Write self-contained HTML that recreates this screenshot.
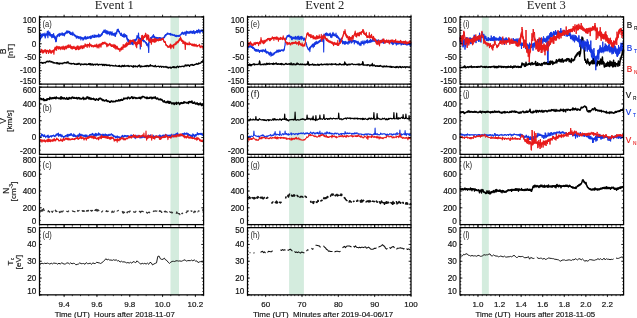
<!DOCTYPE html>
<html><head><meta charset="utf-8"><style>
html,body{margin:0;padding:0;background:#fff;width:637px;height:318px;overflow:hidden}
svg{display:block;will-change:transform}
</style></head><body>
<svg width="637" height="318" viewBox="0 0 637 318">
<rect width="637" height="318" fill="#fff"/>
<rect x="170.5" y="16.90" width="8.50" height="67.20" fill="#d4ecde"/>
<rect x="170.5" y="87.15" width="8.50" height="67.20" fill="#d4ecde"/>
<rect x="170.5" y="157.40" width="8.50" height="67.20" fill="#d4ecde"/>
<rect x="170.5" y="227.65" width="8.50" height="67.20" fill="#d4ecde"/>
<rect x="289.1" y="16.90" width="14.80" height="67.20" fill="#d4ecde"/>
<rect x="289.1" y="87.15" width="14.80" height="67.20" fill="#d4ecde"/>
<rect x="289.1" y="157.40" width="14.80" height="67.20" fill="#d4ecde"/>
<rect x="289.1" y="227.65" width="14.80" height="67.20" fill="#d4ecde"/>
<rect x="481.9" y="16.90" width="6.90" height="67.20" fill="#d4ecde"/>
<rect x="481.9" y="87.15" width="6.90" height="67.20" fill="#d4ecde"/>
<rect x="481.9" y="157.40" width="6.90" height="67.20" fill="#d4ecde"/>
<rect x="481.9" y="227.65" width="6.90" height="67.20" fill="#d4ecde"/>
<path d="M39.5,62.8 L39.9,62.9 L40.3,62.7 L40.7,62.4 L41.1,62.6 L41.5,62.4 L41.9,62.8 L42.3,63.4 L42.7,62.6 L43.1,62.5 L43.5,63.0 L43.9,63.0 L44.3,62.8 L44.7,62.4 L45.1,62.8 L45.5,63.0 L45.9,61.9 L46.3,62.2 L46.7,61.4 L47.1,61.6 L47.5,61.2 L47.9,61.8 L48.3,61.2 L48.7,61.8 L49.1,61.7 L49.5,61.6 L49.9,60.7 L50.3,61.7 L50.7,62.0 L51.1,62.1 L51.5,61.5 L51.9,62.1 L52.3,61.9 L52.7,62.1 L53.1,63.0 L53.5,62.3 L53.9,62.7 L54.3,63.2 L54.7,62.7 L55.1,63.0 L55.5,63.1 L55.9,63.1 L56.3,62.6 L56.7,63.2 L57.1,63.8 L57.5,62.6 L57.9,63.7 L58.3,63.4 L58.7,63.1 L59.1,64.3 L59.5,63.8 L59.9,63.0 L60.3,63.5 L60.7,63.7 L61.1,63.3 L61.5,63.6 L61.9,63.2 L62.3,63.5 L62.7,63.8 L63.1,62.8 L63.5,63.2 L63.9,62.8 L64.3,63.0 L64.7,62.4 L65.1,62.6 L65.5,62.7 L65.9,63.2 L66.3,63.2 L66.7,62.1 L67.1,62.3 L67.5,62.9 L67.9,61.6 L68.3,62.4 L68.7,62.8 L69.1,63.6 L69.5,63.6 L69.9,63.3 L70.3,63.4 L70.7,63.4 L71.1,64.3 L71.5,63.4 L71.9,63.5 L72.3,63.8 L72.7,63.7 L73.1,63.7 L73.5,63.3 L73.9,63.8 L74.3,63.6 L74.7,64.4 L75.1,64.2 L75.5,63.9 L75.9,64.3 L76.3,63.8 L76.7,64.5 L77.1,64.0 L77.5,64.3 L77.9,63.5 L78.3,64.3 L78.7,63.4 L79.1,63.2 L79.5,64.0 L79.9,63.8 L80.3,64.3 L80.7,65.2 L81.1,63.9 L81.5,64.0 L81.9,64.3 L82.3,64.5 L82.7,64.2 L83.1,64.2 L83.5,64.6 L83.9,64.6 L84.3,63.9 L84.7,64.3 L85.1,64.4 L85.5,63.9 L85.9,64.5 L86.3,64.0 L86.7,64.8 L87.1,64.5 L87.5,64.5 L87.9,64.2 L88.3,64.4 L88.7,63.6 L89.1,64.0 L89.5,64.6 L89.9,63.5 L90.3,64.9 L90.7,63.7 L91.1,64.9 L91.5,64.1 L91.9,64.9 L92.3,64.6 L92.7,63.8 L93.1,65.1 L93.5,65.2 L93.9,64.5 L94.3,64.4 L94.7,64.5 L95.1,64.1 L95.5,65.0 L95.9,64.3 L96.3,64.5 L96.7,64.2 L97.1,64.3 L97.5,64.0 L97.9,65.1 L98.3,64.5 L98.7,65.0 L99.1,64.6 L99.5,64.3 L99.9,64.5 L100.3,64.4 L100.7,64.7 L101.1,64.5 L101.5,64.6 L101.9,64.2 L102.3,64.4 L102.7,65.6 L103.1,64.6 L103.5,64.4 L103.9,65.1 L104.3,65.6 L104.7,64.4 L105.1,65.0 L105.5,64.8 L105.9,64.3 L106.3,65.5 L106.7,65.2 L107.1,65.3 L107.5,64.9 L107.9,65.5 L108.3,65.1 L108.7,65.3 L109.1,64.9 L109.5,64.9 L109.9,66.1 L110.3,65.3 L110.7,65.7 L111.1,65.5 L111.5,65.4 L111.9,65.4 L112.3,65.9 L112.7,65.5 L113.1,65.6 L113.5,65.7 L113.9,66.2 L114.3,66.0 L114.7,65.9 L115.1,65.5 L115.5,65.2 L115.9,66.2 L116.3,66.2 L116.7,65.8 L117.1,66.1 L117.5,66.2 L117.9,66.3 L118.3,66.3 L118.7,65.7 L119.1,66.6 L119.5,65.4 L119.9,66.4 L120.3,66.2 L120.7,66.4 L121.1,66.9 L121.5,66.7 L121.9,65.5 L122.3,65.3 L122.7,66.4 L123.1,65.6 L123.5,66.1 L123.9,66.5 L124.3,65.4 L124.7,65.2 L125.1,66.3 L125.5,66.2 L125.9,66.1 L126.3,66.2 L126.7,65.8 L127.1,65.5 L127.5,66.2 L127.9,65.8 L128.3,65.5 L128.7,66.5 L129.1,66.2 L129.5,66.5 L129.9,65.9 L130.3,66.0 L130.7,65.9 L131.1,65.9 L131.5,66.4 L131.9,66.0 L132.3,66.5 L132.7,66.5 L133.1,67.3 L133.5,65.7 L133.9,66.8 L134.3,66.3 L134.7,66.4 L135.1,65.7 L135.5,66.2 L135.9,66.8 L136.3,66.4 L136.7,66.5 L137.1,66.3 L137.5,67.0 L137.9,66.4 L138.3,65.5 L138.7,66.2 L139.1,65.6 L139.5,65.0 L139.9,66.3 L140.3,67.1 L140.7,66.5 L141.1,65.9 L141.5,66.0 L141.9,66.9 L142.3,66.4 L142.7,66.3 L143.1,66.3 L143.5,66.3 L143.9,66.6 L144.3,66.4 L144.7,66.3 L145.1,65.7 L145.5,66.3 L145.9,65.8 L146.3,66.6 L146.7,65.5 L147.1,65.9 L147.5,66.0 L147.9,65.4 L148.3,66.7 L148.7,66.5 L149.1,65.7 L149.5,66.2 L149.9,66.0 L150.3,64.6 L150.7,66.0 L151.1,65.8 L151.5,65.9 L151.9,65.4 L152.3,65.8 L152.7,65.9 L153.1,66.5 L153.5,66.2 L153.9,66.0 L154.3,66.7 L154.7,65.8 L155.1,65.9 L155.5,65.3 L155.9,66.9 L156.3,66.6 L156.7,66.6 L157.1,66.5 L157.5,66.3 L157.9,66.4 L158.3,66.2 L158.7,66.2 L159.1,66.4 L159.5,67.1 L159.9,66.6 L160.3,66.4 L160.7,66.2 L161.1,66.2 L161.5,67.3 L161.9,66.9 L162.3,66.7 L162.7,66.6 L163.1,66.3 L163.5,66.8 L163.9,67.3 L164.3,66.7 L164.7,66.9 L165.1,66.9 L165.5,67.1 L165.9,66.4 L166.3,67.1 L166.7,66.8 L167.1,67.7 L167.5,67.0 L167.9,67.6 L168.3,68.1 L168.7,67.3 L169.1,67.2 L169.5,67.6 L169.9,67.6 L170.3,67.1 L170.7,67.7 L171.1,68.4 L171.5,67.3 L171.9,67.3 L172.3,66.9 L172.7,67.4 L173.1,66.7 L173.5,66.7 L173.9,67.7 L174.3,66.7 L174.7,67.5 L175.1,67.7 L175.5,67.1 L175.9,67.2 L176.3,67.8 L176.7,66.8 L177.1,66.6 L177.5,66.2 L177.9,66.8 L178.3,67.5 L178.7,67.2 L179.1,66.3 L179.5,66.3 L179.9,66.5 L180.3,66.8 L180.7,66.5 L181.1,66.6 L181.5,66.6 L181.9,66.2 L182.3,66.3 L182.7,66.3 L183.1,66.1 L183.5,66.3 L183.9,66.8 L184.3,66.2 L184.7,65.9 L185.1,65.0 L185.5,65.9 L185.9,64.8 L186.3,65.0 L186.7,66.0 L187.1,65.9 L187.5,65.5 L187.9,64.7 L188.3,65.3 L188.7,65.1 L189.1,65.7 L189.5,66.4 L189.9,65.4 L190.3,64.9 L190.7,64.7 L191.1,65.1 L191.5,65.0 L191.9,64.5 L192.3,65.0 L192.7,64.4 L193.1,65.4 L193.5,65.3 L193.9,65.2 L194.3,64.5 L194.7,64.9 L195.1,64.5 L195.5,64.3 L195.9,64.2 L196.3,63.7 L196.7,63.5 L197.1,64.4 L197.5,63.9 L197.9,63.9 L198.3,64.2 L198.7,62.9 L199.1,63.2 L199.5,63.5 L199.9,63.5 L200.3,62.9 L200.7,63.2 L201.1,62.6 L201.5,61.6 L201.9,61.5 L202.3,62.0 L202.7,61.5 L203.1,60.1 L203.5,61.3" fill="none" stroke="#000" stroke-width="1.25" stroke-linejoin="round"/>
<path d="M39.5,34.7 L39.8,34.4 L40.1,34.8 L40.4,34.6 L40.7,34.7 L41.0,33.6 L41.3,34.2 L41.6,33.7 L41.9,34.1 L42.2,33.9 L42.5,34.4 L42.8,34.1 L43.1,33.8 L43.4,34.4 L43.7,33.8 L44.0,34.0 L44.3,34.4 L44.6,34.3 L44.9,34.3 L45.2,34.1 L45.5,34.1 L45.8,34.0 L46.1,33.7 L46.4,33.7 L46.7,33.6 L47.0,33.1 L47.3,32.8 L47.6,33.2 L47.9,32.7 L48.2,32.7 L48.5,32.6 L48.8,32.0 L49.1,32.3 L49.4,32.1 L49.7,32.9 L50.0,33.0 L50.3,33.4 L50.6,33.8 L50.9,33.8 L51.2,34.3 L51.5,34.4 L51.8,34.8 L52.1,35.3 L52.4,35.3 L52.7,35.4 L53.0,35.3 L53.3,35.9 L53.6,35.8 L53.9,36.3 L54.2,36.0 L54.5,36.5 L54.8,36.8 L55.1,36.9 L55.4,37.8 L55.7,39.4 L56.0,40.4 L56.3,38.9 L56.6,37.4 L56.9,35.7 L57.2,35.1 L57.5,34.6 L57.8,33.9 L58.1,33.9 L58.4,33.7 L58.7,33.9 L59.0,34.0 L59.3,34.1 L59.6,33.5 L59.9,33.9 L60.2,33.8 L60.5,33.8 L60.8,33.8 L61.1,33.8 L61.4,33.5 L61.7,34.0 L62.0,34.1 L62.3,33.9 L62.6,33.8 L62.9,33.3 L63.2,33.2 L63.5,33.4 L63.8,33.4 L64.1,33.1 L64.4,32.7 L64.7,33.3 L65.0,32.6 L65.3,32.8 L65.6,32.3 L65.9,32.5 L66.2,32.3 L66.5,32.5 L66.8,32.3 L67.1,31.8 L67.4,31.9 L67.7,32.0 L68.0,32.1 L68.3,32.2 L68.6,31.8 L68.9,31.7 L69.2,31.8 L69.5,31.9 L69.8,32.3 L70.1,32.2 L70.4,32.4 L70.7,32.3 L71.0,32.3 L71.3,32.8 L71.6,33.0 L71.9,33.1 L72.2,33.3 L72.5,33.6 L72.8,33.7 L73.1,34.1 L73.4,34.0 L73.7,34.3 L74.0,34.5 L74.3,34.7 L74.6,35.0 L74.9,35.3 L75.2,35.3 L75.5,35.5 L75.8,35.5 L76.1,35.7 L76.4,36.1 L76.7,36.0 L77.0,36.4 L77.3,36.4 L77.6,36.5 L77.9,36.9 L78.2,36.6 L78.5,36.7 L78.8,36.8 L79.1,36.9 L79.4,36.9 L79.7,37.1 L80.0,37.0 L80.3,37.1 L80.6,37.0 L80.9,37.3 L81.2,37.1 L81.5,37.2 L81.8,37.3 L82.1,37.4 L82.4,37.3 L82.7,37.7 L83.0,37.3 L83.3,37.4 L83.6,37.5 L83.9,37.5 L84.2,37.7 L84.5,37.7 L84.8,37.5 L85.1,37.6 L85.4,37.7 L85.7,38.0 L86.0,37.7 L86.3,37.5 L86.6,37.4 L86.9,37.5 L87.2,37.7 L87.5,37.2 L87.8,37.3 L88.1,37.6 L88.4,37.0 L88.7,37.3 L89.0,37.1 L89.3,36.9 L89.6,36.5 L89.9,36.7 L90.2,36.5 L90.5,36.2 L90.8,36.2 L91.1,36.5 L91.4,36.5 L91.7,36.7 L92.0,36.5 L92.3,36.3 L92.6,36.3 L92.9,36.3 L93.2,36.1 L93.5,36.4 L93.8,36.2 L94.1,36.1 L94.4,36.1 L94.7,35.9 L95.0,36.0 L95.3,36.1 L95.6,35.9 L95.9,36.1 L96.2,36.1 L96.5,35.7 L96.8,35.7 L97.1,35.6 L97.4,35.9 L97.7,35.6 L98.0,35.5 L98.3,35.5 L98.6,35.7 L98.9,35.3 L99.2,35.0 L99.5,35.0 L99.8,35.1 L100.1,34.9 L100.4,34.4 L100.7,34.7 L101.0,33.9 L101.3,33.5 L101.6,33.1 L101.9,32.6 L102.2,32.4 L102.5,32.2 L102.8,31.9 L103.1,31.5 L103.4,31.4 L103.7,30.9 L104.0,30.4 L104.3,30.4 L104.6,31.0 L104.9,31.2 L105.2,31.3 L105.5,31.3 L105.8,31.7 L106.1,31.7 L106.4,32.3 L106.7,32.3 L107.0,32.5 L107.3,32.3 L107.6,32.2 L107.9,32.6 L108.2,32.4 L108.5,32.1 L108.8,32.3 L109.1,32.3 L109.4,31.8 L109.7,31.9 L110.0,31.8 L110.3,32.1 L110.6,32.0 L110.9,32.4 L111.2,32.3 L111.5,32.8 L111.8,32.9 L112.1,32.9 L112.4,33.2 L112.7,33.1 L113.0,33.3 L113.3,33.6 L113.6,33.6 L113.9,33.8 L114.2,33.8 L114.5,34.2 L114.8,34.3 L115.1,33.9 L115.4,33.2 L115.7,32.6 L116.0,32.4 L116.3,31.8 L116.6,31.0 L116.9,30.8 L117.2,30.4 L117.5,29.6 L117.8,29.0 L118.1,29.1 L118.4,29.9 L118.7,30.5 L119.0,30.8 L119.3,31.7 L119.6,32.2 L119.9,32.8 L120.2,33.1 L120.5,33.5 L120.8,33.5 L121.1,33.9 L121.4,34.0 L121.7,34.3 L122.0,34.1 L122.3,34.5 L122.6,34.8 L122.9,35.0 L123.2,35.0 L123.5,34.9 L123.8,35.4 L124.1,35.4 L124.4,35.3 L124.7,34.8 L125.0,35.2 L125.3,35.5 L125.6,35.4 L125.9,35.2 L126.2,36.1 L126.5,36.8 L126.8,37.1 L127.1,37.9 L127.4,38.5 L127.7,39.4 L128.0,39.6 L128.3,39.9 L128.6,40.4 L128.9,40.6 L129.2,41.5 L129.5,41.2 L129.8,41.6 L130.1,41.6 L130.4,41.5 L130.7,41.7 L131.0,41.9 L131.3,41.4 L131.6,41.6 L131.9,41.4 L132.2,41.4 L132.5,41.3 L132.8,41.7 L133.1,40.8 L133.4,40.8 L133.7,40.4 L134.0,40.0 L134.3,40.3 L134.6,40.5 L134.9,40.1 L135.2,40.0 L135.5,39.6 L135.8,39.3 L136.1,39.5 L136.4,38.4 L136.7,38.3 L137.0,37.3 L137.3,36.8 L137.6,36.3 L137.9,35.7 L138.2,36.0 L138.5,36.6 L138.8,37.3 L139.1,37.5 L139.4,37.7 L139.7,38.2 L140.0,38.9 L140.3,38.9 L140.6,39.0 L140.9,38.4 L141.2,38.5 L141.5,38.4 L141.8,38.3 L142.1,38.2 L142.4,38.5 L142.7,38.7 L143.0,39.2 L143.3,39.3 L143.6,39.0 L143.9,39.7 L144.2,40.0 L144.5,40.1 L144.8,40.4 L145.1,41.0 L145.4,41.2 L145.7,41.4 L146.0,41.9 L146.3,42.3 L146.6,42.4 L146.9,43.2 L147.2,43.5 L147.5,44.0 L147.8,44.0 L148.1,44.5 L148.4,43.4 L148.7,42.4 L149.0,41.3 L149.3,40.3 L149.6,39.3 L149.9,38.8 L150.2,37.9 L150.5,37.9 L150.8,37.7 L151.1,37.2 L151.4,37.2 L151.7,37.2 L152.0,36.7 L152.3,36.6 L152.6,36.2 L152.9,35.8 L153.2,35.9 L153.5,35.9 L153.8,36.3 L154.1,36.7 L154.4,36.8 L154.7,37.0 L155.0,37.2 L155.3,37.0 L155.6,37.2 L155.9,37.4 L156.2,37.1 L156.5,37.2 L156.8,37.2 L157.1,37.3 L157.4,37.3 L157.7,37.4 L158.0,37.3 L158.3,37.4 L158.6,37.5 L158.9,37.5 L159.2,37.8 L159.5,37.7 L159.8,37.7 L160.1,37.7 L160.4,37.9 L160.7,37.5 L161.0,37.7 L161.3,37.9 L161.6,37.9 L161.9,37.8 L162.2,37.7 L162.5,37.8 L162.8,37.7 L163.1,37.7 L163.4,37.2 L163.7,37.0 L164.0,36.5 L164.3,36.0 L164.6,35.5 L164.9,35.5 L165.2,35.1 L165.5,34.9 L165.8,34.4 L166.1,34.4 L166.4,34.0 L166.7,33.7 L167.0,33.5 L167.3,33.5 L167.6,33.5 L167.9,33.7 L168.2,33.7 L168.5,33.6 L168.8,33.6 L169.1,33.7 L169.4,33.9 L169.7,33.8 L170.0,33.7 L170.3,33.8 L170.6,34.0 L170.9,34.1 L171.2,34.1 L171.5,34.3 L171.8,34.4 L172.1,34.5 L172.4,34.3 L172.7,34.6 L173.0,34.5 L173.3,34.8 L173.6,34.7 L173.9,35.0 L174.2,35.0 L174.5,34.9 L174.8,35.1 L175.1,35.3 L175.4,35.3 L175.7,35.3 L176.0,35.3 L176.3,35.5 L176.6,35.7 L176.9,35.6 L177.2,35.7 L177.5,35.7 L177.8,35.7 L178.1,35.8 L178.4,35.8 L178.7,36.1 L179.0,36.0 L179.3,35.5 L179.6,35.3 L179.9,35.0 L180.2,34.7 L180.5,34.2 L180.8,34.1 L181.1,33.6 L181.4,33.2 L181.7,32.8 L182.0,32.6 L182.3,32.5 L182.6,32.5 L182.9,32.5 L183.2,32.5 L183.5,32.6 L183.8,32.4 L184.1,32.3 L184.4,32.5 L184.7,32.4 L185.0,32.3 L185.3,32.5 L185.6,32.3 L185.9,32.5 L186.2,32.2 L186.5,31.9 L186.8,32.0 L187.1,32.3 L187.4,32.1 L187.7,32.1 L188.0,32.1 L188.3,31.8 L188.6,32.3 L188.9,31.8 L189.2,32.0 L189.5,31.7 L189.8,31.9 L190.1,32.0 L190.4,31.8 L190.7,31.7 L191.0,31.8 L191.3,31.7 L191.6,31.8 L191.9,32.1 L192.2,31.6 L192.5,31.6 L192.8,31.6 L193.1,31.6 L193.4,31.4 L193.7,31.6 L194.0,31.7 L194.3,31.6 L194.6,31.3 L194.9,31.7 L195.2,31.2 L195.5,31.5 L195.8,31.5 L196.1,31.1 L196.4,31.2 L196.7,31.4 L197.0,31.2 L197.3,30.9 L197.6,30.8 L197.9,31.0 L198.2,30.8 L198.5,30.7 L198.8,30.9 L199.1,30.7 L199.4,30.7 L199.7,30.7 L200.0,30.6 L200.3,30.5 L200.6,30.4 L200.9,30.5 L201.2,30.4 L201.5,30.1 L201.8,30.1 L202.1,30.0 L202.4,29.8 L202.7,29.9 L203.0,29.5 L203.3,29.9 L203.3,31.2 L203.0,31.4 L202.7,31.3 L202.4,31.5 L202.1,31.2 L201.8,31.4 L201.5,31.4 L201.2,31.7 L200.9,31.6 L200.6,31.6 L200.3,31.6 L200.0,31.7 L199.7,31.7 L199.4,31.9 L199.1,32.0 L198.8,32.2 L198.5,32.5 L198.2,32.3 L197.9,32.2 L197.6,32.3 L197.3,32.2 L197.0,32.3 L196.7,32.5 L196.4,32.6 L196.1,32.5 L195.8,32.5 L195.5,32.6 L195.2,32.5 L194.9,32.7 L194.6,32.8 L194.3,32.6 L194.0,33.0 L193.7,32.6 L193.4,32.6 L193.1,32.9 L192.8,32.8 L192.5,33.3 L192.2,33.0 L191.9,33.2 L191.6,33.0 L191.3,33.1 L191.0,32.9 L190.7,32.8 L190.4,33.1 L190.1,33.1 L189.8,33.2 L189.5,33.0 L189.2,33.5 L188.9,33.7 L188.6,32.9 L188.3,33.2 L188.0,33.6 L187.7,33.2 L187.4,33.7 L187.1,33.4 L186.8,33.7 L186.5,33.8 L186.2,33.7 L185.9,33.5 L185.6,33.5 L185.3,33.4 L185.0,33.7 L184.7,33.6 L184.4,33.5 L184.1,33.6 L183.8,33.4 L183.5,33.5 L183.2,33.3 L182.9,33.5 L182.6,33.4 L182.3,33.6 L182.0,33.5 L181.7,33.8 L181.4,34.2 L181.1,34.4 L180.8,34.8 L180.5,35.0 L180.2,35.4 L179.9,35.9 L179.6,36.2 L179.3,36.3 L179.0,36.7 L178.7,36.6 L178.4,36.7 L178.1,36.5 L177.8,36.7 L177.5,36.5 L177.2,36.3 L176.9,36.3 L176.6,36.2 L176.3,36.3 L176.0,36.1 L175.7,36.0 L175.4,36.2 L175.1,36.0 L174.8,36.0 L174.5,36.0 L174.2,35.7 L173.9,35.7 L173.6,35.5 L173.3,35.5 L173.0,35.3 L172.7,35.1 L172.4,35.2 L172.1,35.1 L171.8,35.1 L171.5,35.2 L171.2,35.1 L170.9,35.0 L170.6,34.7 L170.3,34.9 L170.0,34.7 L169.7,34.8 L169.4,34.3 L169.1,34.4 L168.8,34.5 L168.5,34.3 L168.2,34.4 L167.9,34.4 L167.6,34.4 L167.3,34.3 L167.0,34.1 L166.7,34.8 L166.4,34.6 L166.1,35.2 L165.8,35.4 L165.5,35.6 L165.2,35.7 L164.9,36.2 L164.6,36.7 L164.3,37.0 L164.0,37.2 L163.7,37.8 L163.4,38.2 L163.1,38.5 L162.8,38.7 L162.5,38.7 L162.2,38.6 L161.9,38.5 L161.6,38.7 L161.3,38.7 L161.0,38.5 L160.7,38.5 L160.4,38.7 L160.1,38.9 L159.8,38.6 L159.5,38.6 L159.2,38.7 L158.9,38.5 L158.6,38.4 L158.3,38.8 L158.0,38.5 L157.7,38.5 L157.4,38.2 L157.1,38.2 L156.8,38.1 L156.5,38.3 L156.2,38.1 L155.9,38.1 L155.6,38.1 L155.3,38.2 L155.0,38.0 L154.7,37.9 L154.4,37.9 L154.1,37.7 L153.8,37.6 L153.5,37.4 L153.2,37.1 L152.9,36.9 L152.6,37.6 L152.3,37.5 L152.0,38.0 L151.7,38.3 L151.4,38.5 L151.1,39.1 L150.8,39.0 L150.5,38.9 L150.2,39.4 L149.9,39.9 L149.6,41.1 L149.3,42.0 L149.0,42.5 L148.7,43.7 L148.4,44.7 L148.1,45.9 L147.8,45.7 L147.5,45.1 L147.2,44.4 L146.9,44.6 L146.6,44.3 L146.3,43.7 L146.0,43.6 L145.7,42.7 L145.4,42.8 L145.1,42.3 L144.8,42.1 L144.5,41.8 L144.2,41.3 L143.9,41.3 L143.6,40.7 L143.3,41.1 L143.0,40.5 L142.7,40.2 L142.4,40.1 L142.1,39.8 L141.8,39.8 L141.5,40.0 L141.2,40.4 L140.9,40.7 L140.6,40.6 L140.3,40.9 L140.0,40.7 L139.7,40.6 L139.4,39.5 L139.1,39.0 L138.8,38.4 L138.5,38.2 L138.2,37.9 L137.9,37.7 L137.6,38.1 L137.3,38.9 L137.0,39.3 L136.7,39.8 L136.4,40.1 L136.1,40.7 L135.8,41.2 L135.5,41.6 L135.2,41.7 L134.9,41.9 L134.6,41.9 L134.3,42.1 L134.0,42.6 L133.7,42.3 L133.4,43.3 L133.1,42.8 L132.8,43.0 L132.5,42.8 L132.2,43.2 L131.9,43.1 L131.6,42.9 L131.3,43.1 L131.0,43.4 L130.7,43.2 L130.4,43.5 L130.1,43.5 L129.8,43.0 L129.5,42.9 L129.2,43.1 L128.9,42.2 L128.6,42.1 L128.3,42.1 L128.0,41.7 L127.7,40.7 L127.4,40.2 L127.1,39.5 L126.8,38.5 L126.5,38.4 L126.2,37.8 L125.9,37.3 L125.6,37.1 L125.3,37.1 L125.0,37.2 L124.7,36.7 L124.4,36.7 L124.1,36.9 L123.8,36.6 L123.5,36.6 L123.2,36.5 L122.9,36.1 L122.6,36.3 L122.3,36.2 L122.0,36.0 L121.7,35.8 L121.4,35.6 L121.1,35.3 L120.8,35.1 L120.5,34.8 L120.2,34.5 L119.9,34.2 L119.6,33.8 L119.3,33.1 L119.0,32.0 L118.7,31.7 L118.4,31.2 L118.1,30.1 L117.8,30.2 L117.5,30.9 L117.2,31.3 L116.9,32.1 L116.6,33.0 L116.3,33.4 L116.0,33.8 L115.7,34.5 L115.4,34.8 L115.1,35.5 L114.8,35.6 L114.5,35.6 L114.2,35.5 L113.9,35.2 L113.6,34.9 L113.3,34.6 L113.0,34.7 L112.7,34.5 L112.4,34.5 L112.1,34.1 L111.8,34.3 L111.5,34.0 L111.2,33.9 L110.9,34.0 L110.6,33.8 L110.3,33.6 L110.0,33.5 L109.7,33.3 L109.4,33.6 L109.1,33.6 L108.8,33.6 L108.5,33.5 L108.2,33.5 L107.9,33.7 L107.6,33.5 L107.3,33.8 L107.0,33.9 L106.7,33.7 L106.4,33.4 L106.1,33.3 L105.8,33.2 L105.5,32.9 L105.2,32.4 L104.9,32.9 L104.6,32.2 L104.3,31.9 L104.0,32.0 L103.7,32.2 L103.4,32.7 L103.1,33.0 L102.8,33.3 L102.5,33.5 L102.2,34.0 L101.9,34.4 L101.6,34.5 L101.3,34.7 L101.0,35.2 L100.7,35.5 L100.4,36.1 L100.1,36.4 L99.8,36.4 L99.5,36.5 L99.2,36.4 L98.9,37.1 L98.6,36.7 L98.3,36.8 L98.0,36.7 L97.7,36.9 L97.4,36.8 L97.1,36.9 L96.8,37.2 L96.5,37.2 L96.2,37.3 L95.9,37.5 L95.6,37.8 L95.3,37.6 L95.0,37.5 L94.7,37.6 L94.4,37.9 L94.1,37.5 L93.8,37.4 L93.5,37.8 L93.2,37.9 L92.9,37.7 L92.6,37.4 L92.3,37.6 L92.0,37.4 L91.7,37.7 L91.4,38.1 L91.1,37.8 L90.8,37.9 L90.5,37.8 L90.2,37.9 L89.9,37.9 L89.6,38.1 L89.3,38.4 L89.0,38.1 L88.7,38.5 L88.4,38.4 L88.1,38.5 L87.8,38.7 L87.5,38.8 L87.2,38.9 L86.9,39.0 L86.6,39.2 L86.3,39.1 L86.0,39.0 L85.7,39.2 L85.4,38.9 L85.1,39.0 L84.8,39.0 L84.5,39.1 L84.2,38.9 L83.9,38.9 L83.6,38.8 L83.3,38.8 L83.0,38.9 L82.7,38.9 L82.4,39.2 L82.1,38.8 L81.8,38.4 L81.5,39.0 L81.2,38.9 L80.9,38.4 L80.6,38.5 L80.3,38.5 L80.0,38.2 L79.7,38.1 L79.4,38.3 L79.1,38.2 L78.8,38.0 L78.5,38.1 L78.2,37.7 L77.9,38.2 L77.6,37.8 L77.3,37.7 L77.0,37.6 L76.7,37.4 L76.4,37.2 L76.1,36.9 L75.8,36.6 L75.5,37.1 L75.2,36.4 L74.9,36.5 L74.6,36.2 L74.3,36.0 L74.0,36.1 L73.7,35.8 L73.4,35.3 L73.1,35.5 L72.8,35.4 L72.5,34.9 L72.2,34.5 L71.9,34.6 L71.6,33.9 L71.3,34.1 L71.0,33.8 L70.7,33.7 L70.4,33.7 L70.1,33.8 L69.8,33.6 L69.5,33.2 L69.2,33.0 L68.9,33.3 L68.6,33.1 L68.3,33.1 L68.0,33.1 L67.7,33.6 L67.4,33.8 L67.1,33.5 L66.8,33.3 L66.5,33.6 L66.2,33.5 L65.9,33.7 L65.6,34.0 L65.3,33.9 L65.0,33.7 L64.7,34.5 L64.4,34.3 L64.1,34.6 L63.8,34.5 L63.5,34.7 L63.2,34.6 L62.9,34.9 L62.6,35.0 L62.3,35.4 L62.0,35.3 L61.7,35.2 L61.4,35.1 L61.1,35.3 L60.8,35.0 L60.5,35.3 L60.2,35.0 L59.9,35.5 L59.6,35.0 L59.3,34.8 L59.0,35.0 L58.7,34.9 L58.4,35.0 L58.1,35.3 L57.8,35.5 L57.5,35.9 L57.2,36.3 L56.9,37.3 L56.6,38.3 L56.3,40.2 L56.0,41.4 L55.7,40.6 L55.4,39.6 L55.1,38.5 L54.8,38.1 L54.5,37.8 L54.2,37.6 L53.9,37.8 L53.6,37.8 L53.3,37.4 L53.0,37.6 L52.7,37.0 L52.4,37.0 L52.1,36.9 L51.8,36.4 L51.5,36.4 L51.2,35.9 L50.9,36.0 L50.6,35.2 L50.3,35.2 L50.0,34.8 L49.7,34.5 L49.4,34.2 L49.1,34.3 L48.8,34.2 L48.5,34.2 L48.2,34.4 L47.9,34.8 L47.6,34.7 L47.3,35.1 L47.0,35.2 L46.7,35.2 L46.4,35.0 L46.1,35.4 L45.8,35.5 L45.5,36.0 L45.2,35.9 L44.9,36.1 L44.6,36.4 L44.3,35.9 L44.0,36.3 L43.7,35.6 L43.4,36.4 L43.1,36.1 L42.8,36.3 L42.5,36.2 L42.2,36.1 L41.9,36.3 L41.6,36.4 L41.3,36.5 L41.0,36.2 L40.7,36.1 L40.4,37.2 L40.1,37.4 L39.8,36.9 L39.5,37.3Z" fill="#1436e2" stroke="none"/>
<path d="M39.5,38.4 L39.8,35.5 L40.1,36.9 L40.4,39.9 L40.7,33.6 L41.0,37.2 L41.3,37.9 L41.6,35.8 L41.9,36.2 L42.2,37.0 L42.5,34.0 L42.8,35.7 L43.1,33.7 L43.4,34.1 L43.7,34.2 L44.0,34.9 L44.3,35.4 L44.6,35.8 L44.9,33.1 L45.2,38.0 L45.5,36.6 L45.8,35.8 L46.1,34.1 L46.4,34.3 L46.7,35.0 L47.0,34.7 L47.3,31.6 L47.6,34.8 L47.9,37.7 L48.2,30.9 L48.5,34.6 L48.8,33.6 L49.1,32.9 L49.4,35.2 L49.7,32.1 L50.0,34.2 L50.3,36.2 L50.6,34.3 L50.9,34.3 L51.2,35.3 L51.5,34.8 L51.8,37.7 L52.1,34.8 L52.4,37.2 L52.7,34.7 L53.0,37.2 L53.3,36.4 L53.6,33.5 L53.9,36.8 L54.2,35.6 L54.5,36.5 L54.8,39.0 L55.1,36.4 L55.4,37.5 L55.7,41.6 L56.0,41.1 L56.3,41.5 L56.6,38.4 L56.9,35.5 L57.2,35.6 L57.5,36.6 L57.8,35.8 L58.1,34.5 L58.4,34.6 L58.7,34.4 L59.0,33.9 L59.3,36.5 L59.6,34.5 L59.9,33.3 L60.2,34.0 L60.5,35.2 L60.8,35.2 L61.1,34.4 L61.4,33.8 L61.7,34.5 L62.0,32.8 L62.3,33.0 L62.6,35.1 L62.9,33.7 L63.2,34.4 L63.5,35.2 L63.8,34.5 L64.1,33.7 L64.4,35.8 L64.7,34.2 L65.0,33.0 L65.3,34.0 L65.6,33.6 L65.9,32.2 L66.2,33.0 L66.5,32.7 L66.8,30.8 L67.1,32.6 L67.4,32.4 L67.7,32.2 L68.0,30.9 L68.3,32.2 L68.6,32.4 L68.9,32.5 L69.2,31.3 L69.5,33.3 L69.8,31.5 L70.1,32.7 L70.4,34.4 L70.7,32.5 L71.0,32.8 L71.3,34.6 L71.6,33.2 L71.9,33.4 L72.2,34.2 L72.5,35.2 L72.8,32.1 L73.1,33.7 L73.4,33.7 L73.7,33.9 L74.0,34.3 L74.3,34.5 L74.6,35.9 L74.9,34.9 L75.2,36.1 L75.5,36.5 L75.8,35.5 L76.1,36.5 L76.4,38.2 L76.7,37.0 L77.0,36.2 L77.3,36.9 L77.6,36.2 L77.9,37.5 L78.2,38.2 L78.5,36.5 L78.8,37.2 L79.1,38.6 L79.4,37.0 L79.7,37.8 L80.0,36.6 L80.3,36.9 L80.6,37.2 L80.9,40.0 L81.2,37.5 L81.5,37.4 L81.8,37.4 L82.1,37.8 L82.4,38.7 L82.7,38.3 L83.0,40.2 L83.3,38.4 L83.6,39.6 L83.9,38.5 L84.2,38.9 L84.5,36.9 L84.8,38.2 L85.1,38.3 L85.4,38.2 L85.7,36.3 L86.0,39.4 L86.3,38.0 L86.6,37.9 L86.9,38.0 L87.2,37.9 L87.5,38.5 L87.8,36.7 L88.1,36.9 L88.4,38.1 L88.7,37.8 L89.0,37.2 L89.3,36.9 L89.6,36.6 L89.9,37.3 L90.2,38.5 L90.5,36.2 L90.8,38.7 L91.1,38.0 L91.4,36.7 L91.7,37.9 L92.0,35.6 L92.3,35.3 L92.6,35.8 L92.9,36.6 L93.2,36.7 L93.5,36.4 L93.8,37.0 L94.1,34.8 L94.4,37.4 L94.7,35.4 L95.0,36.1 L95.3,36.3 L95.6,35.5 L95.9,35.2 L96.2,35.5 L96.5,36.5 L96.8,37.0 L97.1,36.9 L97.4,35.3 L97.7,35.4 L98.0,35.2 L98.3,36.5 L98.6,34.0 L98.9,37.2 L99.2,35.4 L99.5,35.0 L99.8,36.1 L100.1,36.6 L100.4,35.6 L100.7,36.0 L101.0,34.7 L101.3,35.5 L101.6,35.2 L101.9,33.5 L102.2,34.7 L102.5,33.1 L102.8,32.7 L103.1,31.4 L103.4,31.7 L103.7,32.4 L104.0,30.0 L104.3,32.1 L104.6,32.0 L104.9,32.1 L105.2,29.9 L105.5,32.1 L105.8,33.1 L106.1,31.9 L106.4,32.9 L106.7,30.6 L107.0,33.9 L107.3,32.5 L107.6,34.0 L107.9,31.2 L108.2,33.7 L108.5,32.7 L108.8,33.6 L109.1,31.9 L109.4,32.1 L109.7,34.9 L110.0,31.8 L110.3,32.0 L110.6,32.6 L110.9,32.0 L111.2,34.4 L111.5,35.0 L111.8,32.8 L112.1,31.9 L112.4,34.9 L112.7,35.0 L113.0,34.9 L113.3,35.3 L113.6,33.5 L113.9,34.3 L114.2,33.2 L114.5,33.3 L114.8,35.9 L115.1,34.1 L115.4,36.5 L115.7,33.8 L116.0,32.5 L116.3,33.4 L116.6,33.8 L116.9,31.9 L117.2,29.7 L117.5,30.7 L117.8,31.1 L118.1,29.1 L118.4,29.5 L118.7,32.0 L119.0,31.7 L119.3,31.2 L119.6,32.5 L119.9,32.8 L120.2,34.2 L120.5,34.2 L120.8,35.5 L121.1,35.2 L121.4,33.1 L121.7,35.3 L122.0,36.0 L122.3,35.7 L122.6,36.5 L122.9,35.1 L123.2,34.7 L123.5,36.8 L123.8,34.7 L124.1,33.6 L124.4,37.1 L124.7,35.3 L125.0,35.8 L125.3,34.7 L125.6,34.8 L125.9,35.1 L126.2,36.4 L126.5,37.9 L126.8,35.5 L127.1,39.7 L127.4,38.1 L127.7,38.9 L128.0,41.6 L128.3,41.0 L128.6,39.5 L128.9,43.8 L129.2,40.9 L129.5,42.4 L129.8,42.7 L130.1,44.3 L130.4,42.0 L130.7,43.7 L131.0,41.5 L131.3,43.7 L131.6,41.3 L131.9,41.8 L132.2,44.5 L132.5,42.5 L132.8,42.2 L133.1,44.8 L133.4,42.2 L133.7,40.5 L134.0,42.3 L134.3,39.7 L134.6,42.4 L134.9,42.4 L135.2,39.9 L135.5,39.6 L135.8,40.5 L136.1,39.9 L136.4,38.1 L136.7,39.5 L137.0,35.7 L137.3,37.2 L137.6,36.6 L137.9,36.2 L138.2,37.1 L138.5,33.2 L138.8,38.6 L139.1,38.2 L139.4,38.1 L139.7,37.8 L140.0,38.6 L140.3,48.9 L140.6,38.5 L140.9,39.6 L141.2,40.6 L141.5,40.4 L141.8,40.8 L142.1,38.6 L142.4,38.0 L142.7,40.6 L143.0,40.1 L143.3,41.2 L143.6,40.2 L143.9,41.8 L144.2,41.7 L144.5,41.8 L144.8,41.8 L145.1,41.9 L145.4,42.2 L145.7,42.5 L146.0,43.7 L146.3,42.5 L146.6,45.2 L146.9,43.7 L147.2,45.2 L147.5,44.5 L147.8,44.7 L148.1,46.9 L148.4,43.6 L148.7,52.5 L149.0,41.4 L149.3,40.8 L149.6,42.2 L149.9,39.4 L150.2,39.6 L150.5,37.5 L150.8,38.6 L151.1,38.6 L151.4,39.4 L151.7,36.8 L152.0,37.8 L152.3,37.3 L152.6,35.8 L152.9,36.5 L153.2,36.3 L153.5,34.7 L153.8,37.4 L154.1,37.5 L154.4,36.9 L154.7,36.3 L155.0,38.8 L155.3,37.9 L155.6,38.5 L155.9,38.9 L156.2,37.3 L156.5,38.4 L156.8,37.6 L157.1,37.8 L157.4,37.8 L157.7,37.9 L158.0,38.8 L158.3,38.1 L158.6,37.9 L158.9,37.9 L159.2,38.4 L159.5,37.5 L159.8,37.8 L160.1,38.2 L160.4,37.8 L160.7,38.1 L161.0,37.8 L161.3,39.6 L161.6,39.1 L161.9,38.5 L162.2,38.2 L162.5,39.6 L162.8,38.4 L163.1,38.0 L163.4,37.9 L163.7,37.5 L164.0,37.8 L164.3,36.6 L164.6,37.5 L164.9,35.3 L165.2,35.9 L165.5,34.6 L165.8,36.0 L166.1,34.5 L166.4,34.3 L166.7,34.6 L167.0,34.5 L167.3,33.2 L167.6,33.7 L167.9,33.1 L168.2,34.0 L168.5,33.9 L168.8,33.8 L169.1,33.7 L169.4,33.9 L169.7,33.7 L170.0,34.5 L170.3,35.1 L170.6,33.3 L170.9,34.4 L171.2,34.3 L171.5,34.9 L171.8,34.2 L172.1,34.7 L172.4,34.3 L172.7,35.3 L173.0,35.1 L173.3,35.0 L173.6,35.4 L173.9,35.2 L174.2,34.5 L174.5,35.8 L174.8,35.7 L175.1,35.5 L175.4,36.2 L175.7,36.4 L176.0,35.2 L176.3,35.5 L176.6,36.7 L176.9,36.7 L177.2,35.7 L177.5,35.5 L177.8,35.8 L178.1,36.0 L178.4,35.5 L178.7,36.4 L179.0,35.8 L179.3,35.4 L179.6,36.2 L179.9,35.0 L180.2,35.0 L180.5,35.0 L180.8,34.8 L181.1,33.8 L181.4,33.7 L181.7,32.8 L182.0,34.2 L182.3,33.4 L182.6,32.2 L182.9,33.0 L183.2,33.5 L183.5,33.4 L183.8,34.5 L184.1,34.1 L184.4,32.5 L184.7,32.9 L185.0,31.8 L185.3,33.2 L185.6,33.1 L185.9,35.4 L186.2,33.1 L186.5,31.1 L186.8,32.3 L187.1,33.0 L187.4,31.7 L187.7,32.0 L188.0,32.4 L188.3,33.0 L188.6,32.5 L188.9,31.8 L189.2,33.3 L189.5,32.1 L189.8,32.1 L190.1,31.3 L190.4,31.8 L190.7,33.0 L191.0,31.0 L191.3,32.3 L191.6,33.0 L191.9,32.0 L192.2,32.5 L192.5,31.3 L192.8,33.5 L193.1,33.2 L193.4,32.4 L193.7,30.6 L194.0,31.2 L194.3,33.0 L194.6,33.7 L194.9,32.4 L195.2,33.2 L195.5,31.5 L195.8,31.8 L196.1,31.9 L196.4,32.2 L196.7,30.4 L197.0,32.6 L197.3,32.9 L197.6,30.6 L197.9,30.4 L198.2,31.8 L198.5,30.9 L198.8,29.3 L199.1,32.1 L199.4,31.4 L199.7,30.8 L200.0,33.1 L200.3,31.3 L200.6,30.4 L200.9,31.1 L201.2,30.0 L201.5,30.2 L201.8,31.1 L202.1,30.2 L202.4,30.2 L202.7,32.1 L203.0,31.3 L203.3,31.2" fill="none" stroke="#1436e2" stroke-width="1.2" stroke-linejoin="round"/>
<path d="M39.5,50.5 L39.8,50.4 L40.1,50.2 L40.4,50.5 L40.7,50.0 L41.0,50.6 L41.3,50.4 L41.6,50.6 L41.9,50.4 L42.2,50.1 L42.5,49.9 L42.8,50.3 L43.1,50.1 L43.4,50.2 L43.7,50.2 L44.0,50.3 L44.3,50.0 L44.6,50.3 L44.9,49.9 L45.2,49.9 L45.5,50.1 L45.8,50.2 L46.1,50.4 L46.4,49.7 L46.7,50.4 L47.0,49.8 L47.3,50.1 L47.6,50.4 L47.9,50.6 L48.2,50.1 L48.5,50.0 L48.8,50.7 L49.1,50.6 L49.4,50.3 L49.7,50.5 L50.0,50.2 L50.3,50.7 L50.6,50.4 L50.9,50.7 L51.2,49.9 L51.5,50.5 L51.8,50.8 L52.1,50.3 L52.4,50.2 L52.7,49.7 L53.0,50.2 L53.3,50.0 L53.6,49.9 L53.9,49.6 L54.2,49.6 L54.5,48.8 L54.8,48.4 L55.1,48.0 L55.4,47.4 L55.7,46.9 L56.0,46.5 L56.3,46.1 L56.6,46.6 L56.9,46.1 L57.2,46.1 L57.5,46.4 L57.8,46.5 L58.1,46.4 L58.4,46.2 L58.7,46.2 L59.0,46.3 L59.3,46.1 L59.6,46.5 L59.9,46.3 L60.2,46.8 L60.5,46.4 L60.8,46.7 L61.1,46.9 L61.4,46.7 L61.7,47.0 L62.0,47.9 L62.3,47.4 L62.6,47.9 L62.9,47.5 L63.2,47.1 L63.5,47.7 L63.8,47.5 L64.1,47.4 L64.4,47.2 L64.7,47.0 L65.0,46.8 L65.3,47.2 L65.6,46.5 L65.9,46.9 L66.2,46.6 L66.5,46.3 L66.8,46.3 L67.1,46.5 L67.4,46.4 L67.7,46.3 L68.0,46.1 L68.3,45.8 L68.6,46.3 L68.9,45.8 L69.2,45.7 L69.5,45.7 L69.8,45.6 L70.1,45.4 L70.4,45.7 L70.7,45.7 L71.0,45.9 L71.3,45.7 L71.6,46.6 L71.9,46.1 L72.2,46.5 L72.5,46.6 L72.8,46.8 L73.1,47.1 L73.4,46.9 L73.7,47.1 L74.0,47.0 L74.3,47.4 L74.6,46.8 L74.9,47.0 L75.2,47.1 L75.5,47.2 L75.8,47.2 L76.1,47.3 L76.4,47.2 L76.7,47.1 L77.0,47.1 L77.3,47.4 L77.6,47.1 L77.9,47.3 L78.2,47.0 L78.5,46.6 L78.8,46.8 L79.1,47.0 L79.4,47.2 L79.7,47.1 L80.0,47.1 L80.3,46.5 L80.6,46.8 L80.9,46.6 L81.2,46.7 L81.5,46.5 L81.8,46.1 L82.1,46.5 L82.4,46.3 L82.7,46.3 L83.0,45.9 L83.3,46.1 L83.6,46.1 L83.9,46.0 L84.2,45.9 L84.5,45.4 L84.8,44.9 L85.1,45.5 L85.4,45.0 L85.7,45.1 L86.0,45.2 L86.3,45.0 L86.6,44.9 L86.9,45.0 L87.2,44.4 L87.5,45.1 L87.8,44.6 L88.1,44.6 L88.4,44.7 L88.7,44.5 L89.0,44.3 L89.3,44.4 L89.6,44.3 L89.9,44.2 L90.2,44.8 L90.5,44.1 L90.8,44.1 L91.1,44.4 L91.4,44.5 L91.7,45.0 L92.0,44.9 L92.3,45.1 L92.6,45.1 L92.9,44.9 L93.2,45.3 L93.5,45.3 L93.8,45.7 L94.1,45.4 L94.4,45.4 L94.7,45.7 L95.0,45.8 L95.3,45.2 L95.6,45.7 L95.9,45.6 L96.2,45.5 L96.5,45.0 L96.8,44.8 L97.1,45.1 L97.4,45.2 L97.7,45.1 L98.0,44.7 L98.3,45.0 L98.6,44.5 L98.9,44.4 L99.2,44.6 L99.5,44.4 L99.8,44.3 L100.1,44.1 L100.4,44.4 L100.7,43.8 L101.0,43.9 L101.3,43.7 L101.6,43.4 L101.9,43.2 L102.2,43.2 L102.5,43.1 L102.8,42.8 L103.1,42.1 L103.4,41.9 L103.7,41.9 L104.0,41.6 L104.3,42.1 L104.6,42.2 L104.9,42.4 L105.2,42.8 L105.5,43.0 L105.8,43.0 L106.1,43.2 L106.4,43.6 L106.7,43.5 L107.0,43.8 L107.3,43.6 L107.6,43.7 L107.9,43.8 L108.2,43.7 L108.5,43.8 L108.8,43.9 L109.1,43.8 L109.4,43.6 L109.7,43.6 L110.0,43.5 L110.3,44.2 L110.6,44.1 L110.9,44.3 L111.2,44.3 L111.5,44.6 L111.8,44.8 L112.1,44.7 L112.4,44.9 L112.7,45.3 L113.0,45.0 L113.3,45.2 L113.6,45.7 L113.9,45.6 L114.2,46.0 L114.5,45.8 L114.8,46.2 L115.1,46.5 L115.4,46.5 L115.7,46.8 L116.0,46.8 L116.3,46.9 L116.6,47.1 L116.9,47.4 L117.2,48.1 L117.5,47.6 L117.8,48.1 L118.1,47.8 L118.4,47.8 L118.7,48.1 L119.0,48.4 L119.3,48.5 L119.6,48.7 L119.9,48.9 L120.2,48.8 L120.5,48.6 L120.8,48.0 L121.1,48.0 L121.4,47.6 L121.7,47.6 L122.0,47.3 L122.3,47.1 L122.6,46.7 L122.9,46.4 L123.2,46.3 L123.5,46.2 L123.8,46.0 L124.1,45.3 L124.4,45.5 L124.7,45.3 L125.0,44.8 L125.3,44.7 L125.6,44.6 L125.9,44.6 L126.2,43.9 L126.5,44.0 L126.8,43.8 L127.1,43.7 L127.4,43.7 L127.7,43.4 L128.0,42.9 L128.3,42.6 L128.6,42.5 L128.9,42.4 L129.2,42.2 L129.5,41.8 L129.8,41.7 L130.1,41.1 L130.4,40.9 L130.7,40.4 L131.0,40.6 L131.3,40.8 L131.6,40.7 L131.9,41.1 L132.2,40.3 L132.5,40.1 L132.8,39.7 L133.1,39.7 L133.4,40.0 L133.7,40.3 L134.0,40.4 L134.3,40.4 L134.6,41.3 L134.9,41.4 L135.2,41.9 L135.5,41.2 L135.8,41.5 L136.1,41.8 L136.4,42.3 L136.7,41.8 L137.0,41.8 L137.3,41.6 L137.6,41.6 L137.9,41.3 L138.2,41.4 L138.5,41.0 L138.8,41.1 L139.1,41.1 L139.4,41.0 L139.7,41.0 L140.0,40.5 L140.3,40.4 L140.6,39.7 L140.9,39.5 L141.2,39.3 L141.5,38.1 L141.8,38.3 L142.1,37.3 L142.4,37.1 L142.7,37.5 L143.0,37.0 L143.3,36.6 L143.6,36.4 L143.9,36.2 L144.2,35.3 L144.5,35.3 L144.8,34.9 L145.1,34.8 L145.4,34.3 L145.7,34.4 L146.0,33.8 L146.3,34.2 L146.6,35.0 L146.9,35.7 L147.2,36.5 L147.5,36.6 L147.8,37.2 L148.1,37.8 L148.4,38.3 L148.7,38.2 L149.0,37.9 L149.3,39.1 L149.6,39.2 L149.9,39.5 L150.2,40.5 L150.5,39.7 L150.8,39.9 L151.1,39.3 L151.4,39.8 L151.7,39.9 L152.0,39.8 L152.3,39.7 L152.6,39.9 L152.9,39.7 L153.2,40.1 L153.5,39.8 L153.8,39.5 L154.1,39.2 L154.4,39.5 L154.7,39.6 L155.0,39.4 L155.3,39.5 L155.6,39.3 L155.9,39.4 L156.2,39.7 L156.5,39.6 L156.8,39.6 L157.1,39.6 L157.4,39.6 L157.7,39.8 L158.0,40.0 L158.3,39.7 L158.6,39.9 L158.9,39.6 L159.2,39.6 L159.5,39.8 L159.8,39.4 L160.1,39.4 L160.4,39.4 L160.7,39.0 L161.0,38.9 L161.3,39.2 L161.6,38.8 L161.9,38.8 L162.2,38.6 L162.5,38.4 L162.8,38.6 L163.1,38.7 L163.4,39.2 L163.7,39.7 L164.0,40.1 L164.3,40.9 L164.6,41.3 L164.9,41.6 L165.2,42.2 L165.5,42.6 L165.8,43.5 L166.1,43.8 L166.4,44.2 L166.7,44.5 L167.0,44.9 L167.3,45.1 L167.6,45.6 L167.9,46.0 L168.2,46.1 L168.5,45.9 L168.8,46.0 L169.1,45.7 L169.4,45.7 L169.7,45.7 L170.0,45.7 L170.3,45.5 L170.6,45.4 L170.9,45.4 L171.2,45.4 L171.5,45.2 L171.8,45.3 L172.1,45.0 L172.4,45.1 L172.7,45.2 L173.0,44.5 L173.3,44.5 L173.6,44.5 L173.9,44.2 L174.2,44.1 L174.5,43.4 L174.8,43.5 L175.1,43.7 L175.4,43.2 L175.7,43.2 L176.0,42.6 L176.3,42.9 L176.6,43.0 L176.9,42.4 L177.2,42.3 L177.5,42.2 L177.8,42.3 L178.1,41.6 L178.4,40.8 L178.7,40.9 L179.0,39.8 L179.3,39.6 L179.6,38.6 L179.9,38.4 L180.2,38.5 L180.5,38.5 L180.8,38.9 L181.1,39.4 L181.4,39.4 L181.7,39.9 L182.0,40.3 L182.3,39.9 L182.6,40.6 L182.9,40.9 L183.2,41.0 L183.5,41.6 L183.8,41.9 L184.1,42.0 L184.4,42.3 L184.7,42.4 L185.0,42.5 L185.3,42.8 L185.6,42.7 L185.9,42.7 L186.2,43.1 L186.5,42.9 L186.8,43.2 L187.1,42.9 L187.4,43.1 L187.7,43.2 L188.0,43.5 L188.3,43.4 L188.6,43.6 L188.9,43.4 L189.2,43.6 L189.5,43.8 L189.8,43.6 L190.1,43.7 L190.4,43.9 L190.7,43.8 L191.0,44.0 L191.3,44.0 L191.6,44.1 L191.9,44.2 L192.2,44.2 L192.5,44.2 L192.8,44.1 L193.1,44.2 L193.4,44.4 L193.7,44.3 L194.0,44.5 L194.3,44.5 L194.6,44.5 L194.9,44.6 L195.2,44.5 L195.5,44.7 L195.8,44.9 L196.1,44.7 L196.4,45.0 L196.7,45.0 L197.0,45.4 L197.3,45.0 L197.6,45.1 L197.9,45.1 L198.2,45.2 L198.5,45.1 L198.8,45.4 L199.1,45.3 L199.4,45.6 L199.7,45.6 L200.0,45.5 L200.3,45.7 L200.6,46.0 L200.9,46.0 L201.2,46.2 L201.5,46.4 L201.8,46.4 L202.1,46.6 L202.4,46.9 L202.7,47.0 L203.0,46.9 L203.3,47.3 L203.3,48.1 L203.0,48.0 L202.7,47.8 L202.4,47.6 L202.1,47.5 L201.8,47.3 L201.5,47.0 L201.2,46.9 L200.9,46.8 L200.6,46.8 L200.3,46.6 L200.0,46.3 L199.7,46.6 L199.4,46.4 L199.1,46.4 L198.8,46.1 L198.5,46.1 L198.2,46.1 L197.9,46.0 L197.6,46.1 L197.3,46.0 L197.0,45.8 L196.7,45.7 L196.4,45.7 L196.1,45.7 L195.8,45.9 L195.5,45.5 L195.2,45.5 L194.9,45.5 L194.6,45.5 L194.3,45.3 L194.0,45.4 L193.7,45.4 L193.4,45.4 L193.1,45.0 L192.8,45.0 L192.5,45.1 L192.2,45.1 L191.9,45.1 L191.6,45.0 L191.3,44.9 L191.0,44.9 L190.7,44.6 L190.4,44.7 L190.1,44.7 L189.8,44.6 L189.5,44.6 L189.2,44.2 L188.9,44.6 L188.6,44.5 L188.3,44.7 L188.0,44.2 L187.7,44.7 L187.4,44.4 L187.1,44.3 L186.8,43.9 L186.5,44.2 L186.2,44.4 L185.9,44.4 L185.6,44.8 L185.3,44.1 L185.0,44.5 L184.7,43.8 L184.4,43.7 L184.1,43.4 L183.8,43.0 L183.5,42.6 L183.2,42.4 L182.9,42.1 L182.6,42.0 L182.3,41.6 L182.0,41.3 L181.7,41.3 L181.4,41.1 L181.1,40.7 L180.8,40.4 L180.5,40.2 L180.2,40.1 L179.9,40.0 L179.6,40.5 L179.3,40.9 L179.0,41.5 L178.7,42.3 L178.4,42.4 L178.1,43.4 L177.8,43.1 L177.5,43.3 L177.2,43.7 L176.9,43.8 L176.6,43.6 L176.3,44.5 L176.0,44.3 L175.7,44.4 L175.4,44.7 L175.1,44.9 L174.8,45.0 L174.5,45.3 L174.2,45.2 L173.9,45.8 L173.6,45.5 L173.3,45.9 L173.0,46.4 L172.7,46.1 L172.4,46.4 L172.1,46.6 L171.8,46.6 L171.5,46.7 L171.2,46.9 L170.9,46.8 L170.6,47.1 L170.3,47.1 L170.0,47.2 L169.7,47.1 L169.4,47.2 L169.1,47.1 L168.8,47.6 L168.5,47.5 L168.2,47.4 L167.9,47.3 L167.6,47.3 L167.3,46.7 L167.0,45.7 L166.7,46.0 L166.4,45.3 L166.1,44.9 L165.8,44.5 L165.5,43.9 L165.2,43.2 L164.9,43.0 L164.6,42.2 L164.3,41.7 L164.0,41.5 L163.7,40.8 L163.4,40.4 L163.1,39.8 L162.8,39.8 L162.5,39.9 L162.2,39.9 L161.9,39.9 L161.6,39.9 L161.3,40.1 L161.0,40.5 L160.7,40.3 L160.4,40.6 L160.1,40.7 L159.8,40.7 L159.5,40.5 L159.2,40.6 L158.9,41.2 L158.6,40.8 L158.3,40.7 L158.0,41.0 L157.7,41.0 L157.4,41.0 L157.1,40.9 L156.8,41.0 L156.5,41.2 L156.2,40.9 L155.9,41.5 L155.6,41.5 L155.3,41.4 L155.0,41.5 L154.7,41.6 L154.4,41.2 L154.1,41.1 L153.8,41.2 L153.5,41.6 L153.2,41.9 L152.9,41.5 L152.6,41.9 L152.3,42.4 L152.0,41.6 L151.7,41.7 L151.4,42.2 L151.1,42.4 L150.8,42.3 L150.5,42.5 L150.2,41.8 L149.9,42.5 L149.6,42.1 L149.3,41.5 L149.0,41.3 L148.7,41.1 L148.4,40.7 L148.1,40.9 L147.8,39.8 L147.5,39.3 L147.2,38.7 L146.9,37.6 L146.6,37.5 L146.3,36.4 L146.0,36.4 L145.7,36.6 L145.4,37.2 L145.1,37.0 L144.8,37.3 L144.5,37.4 L144.2,38.3 L143.9,37.7 L143.6,38.5 L143.3,38.8 L143.0,39.1 L142.7,39.9 L142.4,39.7 L142.1,40.2 L141.8,40.9 L141.5,40.7 L141.2,41.1 L140.9,42.2 L140.6,42.8 L140.3,42.8 L140.0,43.4 L139.7,43.3 L139.4,43.5 L139.1,44.0 L138.8,44.3 L138.5,44.0 L138.2,44.0 L137.9,43.6 L137.6,43.9 L137.3,44.0 L137.0,44.5 L136.7,44.3 L136.4,44.7 L136.1,44.3 L135.8,44.7 L135.5,43.9 L135.2,43.8 L134.9,43.4 L134.6,43.0 L134.3,43.0 L134.0,42.3 L133.7,42.5 L133.4,42.4 L133.1,41.5 L132.8,41.9 L132.5,41.8 L132.2,41.8 L131.9,42.3 L131.6,42.2 L131.3,42.1 L131.0,42.6 L130.7,42.3 L130.4,42.6 L130.1,42.6 L129.8,43.0 L129.5,43.4 L129.2,43.6 L128.9,43.2 L128.6,44.3 L128.3,43.8 L128.0,44.5 L127.7,44.5 L127.4,44.4 L127.1,45.4 L126.8,45.2 L126.5,45.2 L126.2,45.8 L125.9,45.8 L125.6,46.0 L125.3,46.4 L125.0,46.5 L124.7,46.7 L124.4,46.8 L124.1,47.0 L123.8,47.3 L123.5,47.6 L123.2,47.6 L122.9,48.2 L122.6,48.3 L122.3,48.8 L122.0,48.8 L121.7,49.0 L121.4,49.2 L121.1,49.3 L120.8,49.5 L120.5,50.0 L120.2,49.8 L119.9,50.5 L119.6,49.7 L119.3,49.8 L119.0,49.6 L118.7,49.7 L118.4,49.5 L118.1,49.5 L117.8,49.5 L117.5,49.0 L117.2,48.9 L116.9,49.0 L116.6,48.4 L116.3,48.5 L116.0,48.4 L115.7,48.0 L115.4,47.9 L115.1,47.8 L114.8,47.8 L114.5,47.4 L114.2,47.3 L113.9,47.1 L113.6,47.2 L113.3,46.9 L113.0,47.0 L112.7,46.7 L112.4,46.2 L112.1,45.9 L111.8,46.1 L111.5,46.0 L111.2,46.0 L110.9,45.6 L110.6,45.8 L110.3,45.4 L110.0,45.2 L109.7,45.0 L109.4,45.0 L109.1,45.1 L108.8,45.2 L108.5,45.4 L108.2,45.1 L107.9,45.1 L107.6,44.9 L107.3,45.2 L107.0,45.1 L106.7,44.9 L106.4,45.0 L106.1,45.2 L105.8,44.4 L105.5,44.3 L105.2,43.9 L104.9,44.0 L104.6,43.6 L104.3,43.5 L104.0,43.5 L103.7,43.5 L103.4,43.6 L103.1,43.7 L102.8,43.6 L102.5,44.1 L102.2,44.8 L101.9,44.9 L101.6,44.8 L101.3,45.0 L101.0,45.5 L100.7,45.5 L100.4,45.6 L100.1,46.1 L99.8,46.2 L99.5,46.3 L99.2,46.0 L98.9,46.1 L98.6,46.5 L98.3,46.2 L98.0,46.1 L97.7,46.5 L97.4,46.6 L97.1,46.4 L96.8,47.1 L96.5,46.9 L96.2,47.1 L95.9,46.8 L95.6,47.2 L95.3,47.2 L95.0,47.3 L94.7,46.9 L94.4,46.9 L94.1,47.2 L93.8,46.8 L93.5,46.8 L93.2,46.8 L92.9,46.6 L92.6,46.5 L92.3,46.5 L92.0,46.8 L91.7,46.2 L91.4,46.5 L91.1,46.4 L90.8,46.3 L90.5,45.9 L90.2,46.3 L89.9,45.9 L89.6,45.8 L89.3,46.0 L89.0,46.2 L88.7,46.0 L88.4,46.2 L88.1,46.2 L87.8,46.1 L87.5,46.1 L87.2,46.3 L86.9,46.3 L86.6,46.3 L86.3,46.4 L86.0,46.2 L85.7,46.5 L85.4,46.9 L85.1,47.0 L84.8,47.1 L84.5,47.2 L84.2,47.2 L83.9,47.2 L83.6,47.2 L83.3,47.2 L83.0,47.5 L82.7,47.8 L82.4,48.0 L82.1,48.3 L81.8,47.9 L81.5,48.0 L81.2,48.5 L80.9,48.1 L80.6,48.0 L80.3,48.2 L80.0,48.5 L79.7,48.1 L79.4,48.1 L79.1,48.3 L78.8,48.5 L78.5,48.7 L78.2,49.0 L77.9,48.4 L77.6,48.8 L77.3,48.8 L77.0,48.7 L76.7,48.6 L76.4,49.0 L76.1,48.5 L75.8,48.9 L75.5,48.8 L75.2,48.4 L74.9,48.5 L74.6,48.9 L74.3,48.5 L74.0,49.1 L73.7,48.5 L73.4,48.9 L73.1,48.2 L72.8,48.4 L72.5,48.0 L72.2,48.0 L71.9,48.1 L71.6,47.7 L71.3,48.0 L71.0,47.6 L70.7,47.6 L70.4,47.6 L70.1,47.2 L69.8,47.0 L69.5,47.5 L69.2,47.3 L68.9,47.6 L68.6,47.9 L68.3,48.2 L68.0,47.5 L67.7,48.0 L67.4,47.9 L67.1,48.2 L66.8,48.3 L66.5,48.2 L66.2,48.4 L65.9,48.1 L65.6,48.2 L65.3,48.4 L65.0,48.7 L64.7,48.7 L64.4,48.7 L64.1,49.0 L63.8,48.9 L63.5,49.1 L63.2,49.2 L62.9,49.6 L62.6,49.4 L62.3,49.8 L62.0,49.2 L61.7,48.8 L61.4,48.8 L61.1,48.4 L60.8,48.2 L60.5,48.4 L60.2,47.8 L59.9,48.2 L59.6,48.3 L59.3,48.3 L59.0,48.0 L58.7,48.0 L58.4,48.5 L58.1,48.2 L57.8,47.8 L57.5,48.2 L57.2,48.2 L56.9,48.3 L56.6,48.2 L56.3,48.2 L56.0,48.2 L55.7,48.9 L55.4,49.0 L55.1,49.7 L54.8,50.3 L54.5,50.9 L54.2,51.6 L53.9,52.0 L53.6,51.4 L53.3,51.6 L53.0,52.1 L52.7,52.0 L52.4,52.4 L52.1,52.1 L51.8,52.2 L51.5,52.2 L51.2,52.7 L50.9,51.9 L50.6,52.1 L50.3,52.5 L50.0,52.2 L49.7,52.5 L49.4,52.8 L49.1,52.4 L48.8,52.3 L48.5,51.8 L48.2,51.9 L47.9,52.3 L47.6,52.1 L47.3,52.1 L47.0,52.0 L46.7,51.6 L46.4,52.0 L46.1,51.8 L45.8,51.8 L45.5,51.8 L45.2,51.5 L44.9,51.7 L44.6,51.8 L44.3,51.5 L44.0,52.0 L43.7,51.9 L43.4,52.0 L43.1,51.8 L42.8,52.1 L42.5,52.3 L42.2,52.3 L41.9,51.8 L41.6,52.0 L41.3,52.4 L41.0,52.2 L40.7,52.2 L40.4,52.0 L40.1,52.5 L39.8,52.5 L39.5,52.5Z" fill="#e81a1a" stroke="none"/>
<path d="M39.5,51.5 L39.8,51.1 L40.1,52.1 L40.4,52.6 L40.7,51.4 L41.0,51.9 L41.3,50.9 L41.6,49.4 L41.9,49.9 L42.2,52.1 L42.5,51.7 L42.8,53.1 L43.1,51.1 L43.4,52.1 L43.7,52.7 L44.0,52.2 L44.3,50.1 L44.6,50.6 L44.9,51.0 L45.2,49.6 L45.5,51.5 L45.8,52.2 L46.1,50.3 L46.4,53.5 L46.7,50.7 L47.0,50.8 L47.3,50.8 L47.6,50.3 L47.9,51.7 L48.2,51.3 L48.5,53.4 L48.8,52.1 L49.1,52.1 L49.4,51.1 L49.7,49.7 L50.0,51.4 L50.3,50.4 L50.6,52.6 L50.9,51.3 L51.2,53.4 L51.5,52.2 L51.8,52.2 L52.1,51.4 L52.4,51.3 L52.7,51.8 L53.0,52.1 L53.3,50.0 L53.6,51.5 L53.9,54.1 L54.2,50.3 L54.5,49.6 L54.8,48.5 L55.1,47.0 L55.4,49.8 L55.7,47.8 L56.0,47.6 L56.3,49.5 L56.6,50.3 L56.9,46.1 L57.2,48.5 L57.5,48.0 L57.8,47.7 L58.1,47.8 L58.4,47.2 L58.7,49.2 L59.0,48.0 L59.3,47.6 L59.6,48.7 L59.9,48.3 L60.2,47.9 L60.5,47.8 L60.8,49.7 L61.1,48.3 L61.4,47.7 L61.7,46.9 L62.0,47.7 L62.3,47.0 L62.6,48.5 L62.9,48.9 L63.2,46.0 L63.5,48.5 L63.8,49.1 L64.1,48.4 L64.4,47.0 L64.7,49.6 L65.0,47.1 L65.3,46.3 L65.6,46.4 L65.9,47.6 L66.2,48.7 L66.5,48.8 L66.8,47.5 L67.1,45.7 L67.4,46.3 L67.7,46.0 L68.0,46.8 L68.3,44.8 L68.6,47.0 L68.9,47.5 L69.2,46.5 L69.5,47.2 L69.8,45.4 L70.1,44.8 L70.4,45.9 L70.7,48.1 L71.0,48.1 L71.3,46.4 L71.6,48.5 L71.9,46.8 L72.2,49.1 L72.5,48.0 L72.8,46.9 L73.1,48.5 L73.4,46.8 L73.7,46.7 L74.0,46.2 L74.3,48.2 L74.6,47.8 L74.9,47.8 L75.2,47.4 L75.5,49.6 L75.8,47.4 L76.1,47.0 L76.4,49.4 L76.7,49.6 L77.0,48.3 L77.3,45.9 L77.6,47.2 L77.9,48.6 L78.2,47.9 L78.5,49.6 L78.8,46.2 L79.1,48.5 L79.4,46.9 L79.7,49.1 L80.0,47.5 L80.3,48.7 L80.6,46.7 L80.9,45.8 L81.2,46.0 L81.5,46.6 L81.8,46.0 L82.1,48.6 L82.4,48.6 L82.7,47.3 L83.0,45.7 L83.3,46.6 L83.6,45.8 L83.9,48.2 L84.2,46.8 L84.5,46.9 L84.8,45.8 L85.1,43.8 L85.4,45.1 L85.7,44.6 L86.0,46.2 L86.3,45.9 L86.6,44.8 L86.9,45.2 L87.2,47.4 L87.5,44.4 L87.8,44.4 L88.1,45.2 L88.4,44.6 L88.7,44.8 L89.0,45.9 L89.3,47.2 L89.6,43.2 L89.9,45.1 L90.2,45.2 L90.5,45.1 L90.8,45.1 L91.1,45.0 L91.4,46.6 L91.7,45.0 L92.0,45.5 L92.3,45.7 L92.6,45.9 L92.9,45.7 L93.2,47.1 L93.5,46.0 L93.8,46.3 L94.1,46.1 L94.4,45.1 L94.7,45.4 L95.0,45.2 L95.3,46.5 L95.6,45.5 L95.9,45.0 L96.2,46.4 L96.5,46.6 L96.8,44.0 L97.1,47.8 L97.4,45.9 L97.7,45.6 L98.0,46.9 L98.3,45.7 L98.6,44.9 L98.9,47.9 L99.2,44.2 L99.5,45.2 L99.8,46.2 L100.1,44.0 L100.4,44.8 L100.7,45.2 L101.0,47.2 L101.3,43.4 L101.6,44.1 L101.9,44.7 L102.2,43.9 L102.5,42.3 L102.8,43.8 L103.1,43.3 L103.4,43.5 L103.7,44.0 L104.0,43.7 L104.3,43.2 L104.6,43.3 L104.9,42.0 L105.2,43.2 L105.5,43.8 L105.8,43.3 L106.1,44.0 L106.4,43.2 L106.7,46.0 L107.0,46.8 L107.3,44.1 L107.6,44.9 L107.9,44.2 L108.2,45.9 L108.5,45.0 L108.8,44.6 L109.1,44.3 L109.4,44.6 L109.7,43.4 L110.0,45.2 L110.3,43.9 L110.6,45.4 L110.9,45.1 L111.2,46.3 L111.5,45.2 L111.8,46.5 L112.1,44.6 L112.4,46.3 L112.7,45.6 L113.0,46.2 L113.3,46.2 L113.6,47.3 L113.9,44.3 L114.2,46.9 L114.5,45.2 L114.8,48.2 L115.1,45.0 L115.4,46.2 L115.7,45.6 L116.0,49.2 L116.3,46.3 L116.6,48.0 L116.9,47.4 L117.2,46.3 L117.5,47.9 L117.8,49.1 L118.1,48.4 L118.4,49.7 L118.7,48.5 L119.0,49.1 L119.3,48.8 L119.6,49.7 L119.9,51.5 L120.2,49.8 L120.5,49.4 L120.8,48.3 L121.1,47.9 L121.4,50.0 L121.7,47.1 L122.0,47.1 L122.3,47.7 L122.6,47.1 L122.9,49.3 L123.2,44.6 L123.5,47.2 L123.8,47.3 L124.1,45.2 L124.4,45.5 L124.7,46.4 L125.0,47.4 L125.3,44.6 L125.6,43.8 L125.9,46.2 L126.2,46.5 L126.5,44.5 L126.8,42.4 L127.1,45.9 L127.4,44.0 L127.7,45.0 L128.0,43.6 L128.3,43.0 L128.6,42.7 L128.9,44.4 L129.2,44.1 L129.5,40.3 L129.8,41.2 L130.1,43.8 L130.4,41.5 L130.7,40.2 L131.0,41.6 L131.3,41.4 L131.6,41.2 L131.9,40.6 L132.2,40.7 L132.5,40.4 L132.8,41.3 L133.1,39.7 L133.4,40.7 L133.7,41.2 L134.0,43.6 L134.3,42.5 L134.6,42.0 L134.9,43.3 L135.2,43.3 L135.5,44.8 L135.8,44.0 L136.1,46.5 L136.4,45.6 L136.7,47.7 L137.0,42.2 L137.3,44.5 L137.6,43.7 L137.9,42.5 L138.2,39.9 L138.5,39.2 L138.8,43.0 L139.1,43.7 L139.4,43.6 L139.7,39.8 L140.0,43.9 L140.3,40.6 L140.6,41.8 L140.9,41.4 L141.2,46.5 L141.5,38.6 L141.8,35.5 L142.1,37.2 L142.4,35.3 L142.7,39.0 L143.0,38.1 L143.3,39.3 L143.6,38.0 L143.9,36.0 L144.2,37.4 L144.5,35.8 L144.8,37.3 L145.1,36.5 L145.4,33.9 L145.7,33.2 L146.0,35.2 L146.3,35.1 L146.6,37.9 L146.9,39.9 L147.2,36.7 L147.5,37.3 L147.8,34.5 L148.1,38.8 L148.4,38.5 L148.7,35.7 L149.0,40.5 L149.3,41.3 L149.6,39.3 L149.9,40.2 L150.2,39.3 L150.5,42.3 L150.8,38.3 L151.1,40.4 L151.4,44.1 L151.7,40.9 L152.0,41.6 L152.3,40.6 L152.6,39.0 L152.9,40.7 L153.2,41.3 L153.5,39.2 L153.8,41.2 L154.1,42.4 L154.4,42.1 L154.7,38.5 L155.0,39.3 L155.3,38.5 L155.6,41.9 L155.9,41.2 L156.2,41.3 L156.5,39.4 L156.8,39.1 L157.1,40.5 L157.4,40.5 L157.7,39.5 L158.0,40.4 L158.3,40.9 L158.6,40.5 L158.9,39.3 L159.2,38.3 L159.5,39.9 L159.8,40.3 L160.1,39.9 L160.4,39.6 L160.7,39.3 L161.0,40.3 L161.3,39.6 L161.6,39.6 L161.9,38.6 L162.2,38.8 L162.5,39.3 L162.8,38.2 L163.1,38.1 L163.4,39.4 L163.7,41.3 L164.0,40.9 L164.3,42.5 L164.6,41.7 L164.9,42.0 L165.2,41.6 L165.5,42.8 L165.8,45.2 L166.1,44.6 L166.4,45.4 L166.7,45.8 L167.0,45.5 L167.3,45.7 L167.6,46.4 L167.9,47.3 L168.2,47.2 L168.5,47.2 L168.8,46.8 L169.1,45.8 L169.4,46.3 L169.7,45.5 L170.0,47.4 L170.3,44.2 L170.6,46.1 L170.9,48.6 L171.2,45.8 L171.5,45.0 L171.8,46.0 L172.1,47.2 L172.4,45.6 L172.7,46.2 L173.0,45.5 L173.3,44.8 L173.6,48.2 L173.9,44.9 L174.2,44.1 L174.5,44.0 L174.8,44.7 L175.1,44.6 L175.4,44.7 L175.7,43.9 L176.0,42.2 L176.3,44.0 L176.6,43.0 L176.9,42.8 L177.2,41.5 L177.5,42.2 L177.8,41.9 L178.1,42.3 L178.4,40.3 L178.7,41.3 L179.0,40.9 L179.3,39.1 L179.6,39.1 L179.9,38.3 L180.2,40.1 L180.5,36.9 L180.8,39.4 L181.1,38.3 L181.4,39.8 L181.7,41.3 L182.0,40.1 L182.3,41.1 L182.6,40.4 L182.9,43.5 L183.2,42.7 L183.5,43.2 L183.8,41.0 L184.1,41.5 L184.4,43.9 L184.7,42.9 L185.0,43.1 L185.3,49.4 L185.6,42.2 L185.9,44.3 L186.2,43.6 L186.5,44.1 L186.8,43.1 L187.1,44.2 L187.4,43.2 L187.7,44.6 L188.0,44.8 L188.3,44.6 L188.6,44.4 L188.9,44.5 L189.2,42.2 L189.5,44.7 L189.8,44.0 L190.1,44.3 L190.4,44.1 L190.7,43.5 L191.0,44.1 L191.3,44.8 L191.6,45.3 L191.9,44.2 L192.2,44.1 L192.5,45.5 L192.8,44.2 L193.1,46.0 L193.4,44.8 L193.7,44.3 L194.0,45.5 L194.3,46.0 L194.6,44.2 L194.9,46.0 L195.2,45.0 L195.5,46.1 L195.8,45.0 L196.1,44.4 L196.4,45.7 L196.7,46.0 L197.0,46.7 L197.3,46.5 L197.6,46.0 L197.9,45.5 L198.2,45.4 L198.5,45.6 L198.8,45.3 L199.1,45.7 L199.4,44.4 L199.7,46.1 L200.0,46.0 L200.3,47.7 L200.6,46.7 L200.9,46.1 L201.2,46.9 L201.5,46.0 L201.8,46.5 L202.1,45.9 L202.4,48.0 L202.7,47.7 L203.0,46.8 L203.3,47.6" fill="none" stroke="#e81a1a" stroke-width="1.2" stroke-linejoin="round"/>
<path d="M39.5,99.2 L39.9,98.2 L40.3,98.6 L40.7,98.2 L41.1,99.2 L41.5,98.7 L41.9,99.7 L42.3,99.2 L42.7,99.5 L43.1,99.2 L43.5,98.6 L43.9,100.5 L44.3,99.7 L44.7,100.5 L45.1,99.9 L45.5,99.9 L45.9,100.4 L46.3,99.6 L46.7,100.1 L47.1,98.8 L47.5,99.8 L47.9,99.1 L48.3,98.8 L48.7,98.7 L49.1,98.7 L49.5,99.4 L49.9,97.3 L50.3,98.2 L50.7,98.0 L51.1,98.9 L51.5,98.0 L51.9,98.5 L52.3,97.7 L52.7,98.5 L53.1,98.6 L53.5,97.9 L53.9,98.1 L54.3,97.4 L54.7,98.2 L55.1,98.3 L55.5,97.6 L55.9,98.8 L56.3,97.0 L56.7,97.6 L57.1,97.9 L57.5,98.0 L57.9,98.2 L58.3,98.1 L58.7,98.2 L59.1,98.8 L59.5,98.3 L59.9,98.0 L60.3,97.5 L60.7,99.0 L61.1,96.7 L61.5,97.5 L61.9,98.7 L62.3,98.4 L62.7,97.5 L63.1,98.2 L63.5,98.7 L63.9,98.8 L64.3,97.7 L64.7,98.6 L65.1,98.6 L65.5,99.0 L65.9,99.1 L66.3,98.2 L66.7,97.6 L67.1,98.8 L67.5,99.2 L67.9,98.6 L68.3,98.3 L68.7,99.2 L69.1,97.4 L69.5,98.5 L69.9,97.9 L70.3,98.3 L70.7,98.2 L71.1,98.8 L71.5,97.6 L71.9,97.8 L72.3,97.0 L72.7,97.9 L73.1,97.9 L73.5,98.3 L73.9,97.4 L74.3,97.7 L74.7,98.3 L75.1,97.8 L75.5,98.3 L75.9,98.3 L76.3,98.1 L76.7,97.5 L77.1,98.8 L77.5,98.2 L77.9,98.9 L78.3,97.6 L78.7,97.9 L79.1,97.7 L79.5,98.0 L79.9,99.1 L80.3,98.7 L80.7,98.3 L81.1,98.5 L81.5,99.0 L81.9,98.7 L82.3,98.6 L82.7,98.6 L83.1,97.2 L83.5,98.1 L83.9,99.5 L84.3,98.6 L84.7,98.7 L85.1,98.2 L85.5,98.3 L85.9,99.1 L86.3,98.4 L86.7,98.0 L87.1,96.8 L87.5,98.0 L87.9,97.4 L88.3,97.3 L88.7,98.7 L89.1,98.6 L89.5,97.6 L89.9,99.1 L90.3,98.8 L90.7,98.1 L91.1,99.4 L91.5,98.4 L91.9,98.9 L92.3,98.7 L92.7,98.8 L93.1,99.4 L93.5,98.4 L93.9,98.7 L94.3,99.0 L94.7,99.8 L95.1,99.7 L95.5,100.1 L95.9,99.2 L96.3,98.8 L96.7,99.3 L97.1,99.5 L97.5,99.4 L97.9,99.9 L98.3,100.3 L98.7,98.7 L99.1,98.6 L99.5,99.0 L99.9,98.2 L100.3,98.2 L100.7,98.2 L101.1,99.1 L101.5,99.6 L101.9,99.1 L102.3,99.6 L102.7,100.6 L103.1,100.6 L103.5,99.9 L103.9,100.7 L104.3,100.5 L104.7,101.0 L105.1,100.6 L105.5,100.3 L105.9,100.3 L106.3,99.9 L106.7,100.9 L107.1,100.7 L107.5,101.5 L107.9,100.8 L108.3,101.3 L108.7,101.3 L109.1,101.3 L109.5,102.1 L109.9,101.9 L110.3,102.3 L110.7,101.2 L111.1,101.6 L111.5,100.8 L111.9,101.2 L112.3,101.4 L112.7,101.9 L113.1,101.5 L113.5,101.2 L113.9,101.7 L114.3,101.4 L114.7,101.4 L115.1,101.8 L115.5,101.1 L115.9,100.6 L116.3,101.0 L116.7,100.5 L117.1,101.0 L117.5,101.1 L117.9,101.1 L118.3,100.3 L118.7,99.9 L119.1,100.6 L119.5,100.3 L119.9,100.8 L120.3,100.0 L120.7,99.7 L121.1,100.1 L121.5,99.3 L121.9,99.7 L122.3,100.3 L122.7,100.2 L123.1,99.5 L123.5,99.1 L123.9,98.1 L124.3,99.0 L124.7,98.6 L125.1,98.7 L125.5,98.2 L125.9,98.3 L126.3,98.1 L126.7,98.3 L127.1,99.0 L127.5,98.4 L127.9,97.3 L128.3,97.8 L128.7,97.4 L129.1,97.9 L129.5,98.8 L129.9,98.4 L130.3,98.1 L130.7,98.2 L131.1,97.6 L131.5,96.8 L131.9,96.9 L132.3,97.3 L132.7,98.4 L133.1,97.1 L133.5,98.4 L133.9,98.0 L134.3,97.5 L134.7,97.7 L135.1,97.5 L135.5,97.9 L135.9,98.5 L136.3,97.8 L136.7,98.3 L137.1,98.4 L137.5,98.1 L137.9,98.0 L138.3,98.0 L138.7,98.2 L139.1,97.2 L139.5,98.2 L139.9,98.2 L140.3,97.5 L140.7,98.8 L141.1,97.3 L141.5,97.4 L141.9,97.8 L142.3,96.4 L142.7,96.8 L143.1,96.6 L143.5,96.7 L143.9,96.9 L144.3,97.0 L144.7,97.6 L145.1,97.8 L145.5,97.9 L145.9,97.4 L146.3,97.2 L146.7,98.5 L147.1,97.8 L147.5,97.4 L147.9,98.5 L148.3,98.3 L148.7,97.9 L149.1,98.1 L149.5,98.3 L149.9,97.2 L150.3,98.0 L150.7,97.3 L151.1,97.7 L151.5,97.3 L151.9,98.8 L152.3,98.3 L152.7,97.5 L153.1,98.2 L153.5,97.4 L153.9,97.9 L154.3,98.0 L154.7,97.8 L155.1,96.8 L155.5,98.0 L155.9,98.6 L156.3,98.5 L156.7,99.0 L157.1,98.0 L157.5,98.8 L157.9,98.4 L158.3,99.1 L158.7,99.7 L159.1,99.7 L159.5,99.3 L159.9,99.5 L160.3,98.9 L160.7,98.9 L161.1,100.1 L161.5,100.0 L161.9,99.6 L162.3,100.2 L162.7,100.9 L163.1,101.7 L163.5,101.9 L163.9,101.7 L164.3,100.7 L164.7,101.8 L165.1,102.3 L165.5,102.4 L165.9,102.4 L166.3,101.8 L166.7,102.6 L167.1,102.3 L167.5,101.6 L167.9,101.1 L168.3,102.9 L168.7,101.8 L169.1,102.8 L169.5,103.2 L169.9,101.6 L170.3,102.1 L170.7,102.1 L171.1,102.9 L171.5,103.0 L171.9,103.9 L172.3,103.2 L172.7,103.0 L173.1,103.6 L173.5,103.0 L173.9,103.1 L174.3,104.6 L174.7,103.1 L175.1,103.5 L175.5,103.7 L175.9,103.1 L176.3,102.4 L176.7,104.3 L177.1,103.1 L177.5,103.1 L177.9,103.1 L178.3,102.6 L178.7,102.5 L179.1,103.5 L179.5,104.6 L179.9,103.7 L180.3,103.8 L180.7,102.7 L181.1,103.2 L181.5,102.6 L181.9,103.5 L182.3,102.9 L182.7,103.3 L183.1,103.2 L183.5,102.7 L183.9,101.8 L184.3,102.9 L184.7,102.1 L185.1,102.3 L185.5,102.6 L185.9,102.3 L186.3,102.9 L186.7,103.1 L187.1,102.7 L187.5,102.6 L187.9,102.6 L188.3,103.5 L188.7,101.7 L189.1,102.6 L189.5,101.6 L189.9,101.4 L190.3,102.0 L190.7,101.8 L191.1,102.6 L191.5,102.5 L191.9,101.0 L192.3,102.3 L192.7,103.3 L193.1,103.1 L193.5,103.3 L193.9,102.6 L194.3,102.1 L194.7,102.4 L195.1,103.5 L195.5,103.9 L195.9,103.5 L196.3,103.7 L196.7,104.0 L197.1,102.8 L197.5,103.4 L197.9,104.4 L198.3,104.8 L198.7,103.8 L199.1,104.7 L199.5,103.8 L199.9,103.6 L200.3,103.0 L200.7,104.5 L201.1,103.8 L201.5,105.6 L201.9,104.7 L202.3,104.8 L202.7,104.0 L203.1,105.7 L203.5,105.1" fill="none" stroke="#000" stroke-width="1.5" stroke-linejoin="round"/>
<path d="M39.5,136.3 L39.8,135.9 L40.1,136.0 L40.4,135.9 L40.7,135.9 L41.0,135.8 L41.3,135.9 L41.6,135.6 L41.9,135.1 L42.2,135.6 L42.5,135.2 L42.8,135.0 L43.1,135.4 L43.4,135.6 L43.7,135.8 L44.0,136.3 L44.3,135.8 L44.6,135.5 L44.9,135.6 L45.2,135.6 L45.5,135.9 L45.8,135.7 L46.1,135.7 L46.4,135.6 L46.7,136.1 L47.0,136.1 L47.3,135.3 L47.6,135.6 L47.9,135.8 L48.2,135.8 L48.5,136.3 L48.8,136.6 L49.1,136.7 L49.4,136.6 L49.7,136.4 L50.0,136.4 L50.3,136.1 L50.6,136.1 L50.9,135.7 L51.2,136.2 L51.5,136.4 L51.8,135.9 L52.1,135.7 L52.4,135.6 L52.7,135.1 L53.0,135.1 L53.3,135.2 L53.6,135.1 L53.9,135.7 L54.2,135.7 L54.5,136.0 L54.8,135.6 L55.1,135.6 L55.4,135.1 L55.7,135.2 L56.0,135.4 L56.3,135.4 L56.6,135.3 L56.9,135.0 L57.2,134.5 L57.5,134.8 L57.8,134.4 L58.1,134.1 L58.4,133.8 L58.7,134.4 L59.0,134.5 L59.3,134.5 L59.6,134.3 L59.9,134.6 L60.2,134.4 L60.5,134.8 L60.8,135.2 L61.1,135.6 L61.4,135.1 L61.7,135.3 L62.0,135.7 L62.3,135.8 L62.6,135.5 L62.9,135.7 L63.2,135.7 L63.5,136.2 L63.8,136.1 L64.1,136.3 L64.4,136.1 L64.7,135.7 L65.0,136.2 L65.3,135.6 L65.6,135.3 L65.9,135.5 L66.2,135.7 L66.5,135.5 L66.8,135.6 L67.1,135.4 L67.4,135.0 L67.7,135.2 L68.0,134.6 L68.3,134.8 L68.6,134.8 L68.9,134.4 L69.2,134.3 L69.5,134.4 L69.8,134.6 L70.1,134.1 L70.4,134.1 L70.7,133.9 L71.0,134.1 L71.3,134.5 L71.6,134.5 L71.9,134.6 L72.2,135.1 L72.5,134.8 L72.8,135.4 L73.1,135.0 L73.4,135.0 L73.7,135.1 L74.0,135.1 L74.3,135.4 L74.6,135.4 L74.9,135.5 L75.2,135.5 L75.5,136.0 L75.8,136.2 L76.1,135.9 L76.4,135.8 L76.7,136.0 L77.0,135.9 L77.3,135.6 L77.6,135.5 L77.9,135.2 L78.2,135.5 L78.5,135.9 L78.8,135.9 L79.1,135.4 L79.4,134.6 L79.7,134.2 L80.0,134.3 L80.3,134.4 L80.6,134.5 L80.9,134.6 L81.2,134.7 L81.5,134.8 L81.8,134.7 L82.1,134.6 L82.4,134.7 L82.7,135.0 L83.0,135.1 L83.3,135.1 L83.6,135.6 L83.9,135.8 L84.2,135.4 L84.5,135.7 L84.8,135.3 L85.1,135.9 L85.4,135.5 L85.7,135.9 L86.0,135.8 L86.3,135.8 L86.6,136.0 L86.9,135.9 L87.2,135.9 L87.5,136.1 L87.8,135.6 L88.1,135.7 L88.4,135.9 L88.7,135.7 L89.0,134.9 L89.3,135.3 L89.6,135.1 L89.9,134.9 L90.2,134.3 L90.5,134.3 L90.8,134.5 L91.1,134.6 L91.4,134.1 L91.7,134.2 L92.0,134.2 L92.3,133.8 L92.6,134.1 L92.9,134.2 L93.2,134.6 L93.5,134.9 L93.8,134.7 L94.1,134.8 L94.4,134.6 L94.7,134.7 L95.0,134.5 L95.3,134.4 L95.6,134.3 L95.9,134.6 L96.2,135.0 L96.5,134.8 L96.8,134.4 L97.1,134.1 L97.4,134.2 L97.7,134.4 L98.0,134.4 L98.3,133.7 L98.6,134.0 L98.9,134.1 L99.2,134.4 L99.5,134.5 L99.8,134.2 L100.1,134.3 L100.4,134.3 L100.7,134.3 L101.0,134.6 L101.3,134.4 L101.6,134.8 L101.9,135.0 L102.2,135.1 L102.5,135.4 L102.8,135.1 L103.1,134.5 L103.4,134.5 L103.7,134.8 L104.0,134.6 L104.3,134.5 L104.6,134.9 L104.9,134.6 L105.2,134.4 L105.5,134.6 L105.8,134.4 L106.1,134.5 L106.4,134.5 L106.7,134.5 L107.0,134.8 L107.3,135.2 L107.6,134.7 L107.9,134.8 L108.2,134.8 L108.5,134.6 L108.8,134.6 L109.1,134.9 L109.4,134.5 L109.7,134.3 L110.0,134.4 L110.3,134.6 L110.6,134.5 L110.9,134.1 L111.2,134.2 L111.5,134.5 L111.8,134.1 L112.1,134.6 L112.4,134.9 L112.7,135.1 L113.0,134.7 L113.3,135.4 L113.6,135.3 L113.9,135.5 L114.2,135.6 L114.5,135.9 L114.8,136.1 L115.1,136.2 L115.4,136.2 L115.7,136.3 L116.0,136.3 L116.3,136.4 L116.6,135.9 L116.9,136.0 L117.2,136.2 L117.5,136.4 L117.8,136.0 L118.1,136.4 L118.4,136.8 L118.7,136.9 L119.0,137.0 L119.3,136.8 L119.6,136.9 L119.9,137.0 L120.2,137.0 L120.5,137.0 L120.8,137.4 L121.1,137.0 L121.4,136.6 L121.7,136.4 L122.0,136.4 L122.3,136.2 L122.6,136.1 L122.9,135.7 L123.2,135.9 L123.5,136.1 L123.8,136.4 L124.1,136.1 L124.4,135.9 L124.7,135.6 L125.0,135.5 L125.3,135.8 L125.6,135.8 L125.9,135.6 L126.2,135.7 L126.5,135.5 L126.8,135.5 L127.1,135.8 L127.4,135.9 L127.7,135.9 L128.0,135.5 L128.3,135.5 L128.6,135.5 L128.9,135.9 L129.2,136.1 L129.5,135.7 L129.8,136.0 L130.1,135.8 L130.4,135.7 L130.7,135.8 L131.0,135.3 L131.3,135.1 L131.6,135.0 L131.9,134.9 L132.2,135.5 L132.5,135.6 L132.8,135.8 L133.1,135.5 L133.4,135.9 L133.7,136.0 L134.0,136.3 L134.3,136.8 L134.6,137.0 L134.9,136.9 L135.2,136.9 L135.5,136.5 L135.8,136.4 L136.1,135.9 L136.4,135.9 L136.7,135.5 L137.0,136.0 L137.3,136.0 L137.6,135.6 L137.9,135.9 L138.2,135.7 L138.5,136.0 L138.8,135.3 L139.1,135.7 L139.4,136.3 L139.7,136.5 L140.0,136.5 L140.3,136.4 L140.6,136.5 L140.9,136.6 L141.2,136.4 L141.5,136.8 L141.8,136.5 L142.1,135.9 L142.4,136.2 L142.7,136.2 L143.0,136.6 L143.3,136.8 L143.6,136.4 L143.9,136.8 L144.2,136.8 L144.5,136.9 L144.8,136.8 L145.1,136.4 L145.4,136.5 L145.7,136.8 L146.0,136.9 L146.3,136.6 L146.6,137.1 L146.9,136.6 L147.2,136.2 L147.5,136.1 L147.8,135.7 L148.1,135.7 L148.4,135.6 L148.7,135.8 L149.0,136.1 L149.3,135.9 L149.6,135.7 L149.9,136.1 L150.2,135.8 L150.5,136.0 L150.8,135.8 L151.1,136.4 L151.4,136.3 L151.7,136.7 L152.0,136.5 L152.3,136.5 L152.6,136.4 L152.9,136.5 L153.2,136.4 L153.5,136.7 L153.8,136.3 L154.1,136.8 L154.4,136.7 L154.7,136.3 L155.0,136.4 L155.3,136.5 L155.6,136.6 L155.9,136.4 L156.2,136.3 L156.5,136.3 L156.8,136.2 L157.1,136.3 L157.4,136.1 L157.7,135.8 L158.0,136.0 L158.3,136.1 L158.6,135.7 L158.9,136.0 L159.2,135.9 L159.5,136.0 L159.8,136.2 L160.1,136.0 L160.4,135.9 L160.7,136.0 L161.0,135.8 L161.3,136.2 L161.6,135.8 L161.9,135.5 L162.2,135.5 L162.5,135.3 L162.8,134.9 L163.1,135.1 L163.4,134.9 L163.7,135.4 L164.0,135.6 L164.3,135.3 L164.6,135.1 L164.9,134.7 L165.2,134.6 L165.5,134.8 L165.8,134.8 L166.1,135.3 L166.4,134.9 L166.7,135.1 L167.0,135.1 L167.3,135.2 L167.6,134.9 L167.9,134.6 L168.2,134.9 L168.5,135.0 L168.8,135.4 L169.1,135.3 L169.4,135.3 L169.7,135.4 L170.0,135.6 L170.3,135.8 L170.6,135.5 L170.9,135.3 L171.2,135.3 L171.5,135.2 L171.8,135.6 L172.1,135.8 L172.4,135.7 L172.7,135.5 L173.0,135.4 L173.3,135.6 L173.6,135.3 L173.9,135.3 L174.2,135.5 L174.5,135.3 L174.8,135.2 L175.1,134.9 L175.4,134.7 L175.7,134.7 L176.0,134.6 L176.3,134.4 L176.6,134.6 L176.9,134.6 L177.2,134.2 L177.5,134.4 L177.8,134.6 L178.1,134.2 L178.4,134.3 L178.7,134.7 L179.0,134.8 L179.3,135.0 L179.6,134.5 L179.9,134.5 L180.2,134.7 L180.5,134.3 L180.8,134.3 L181.1,134.5 L181.4,134.7 L181.7,134.4 L182.0,134.4 L182.3,133.7 L182.6,133.6 L182.9,133.7 L183.2,133.4 L183.5,133.4 L183.8,133.5 L184.1,133.3 L184.4,133.6 L184.7,133.1 L185.0,133.1 L185.3,133.3 L185.6,133.1 L185.9,133.4 L186.2,133.5 L186.5,133.7 L186.8,133.6 L187.1,133.7 L187.4,134.0 L187.7,134.1 L188.0,134.3 L188.3,134.1 L188.6,134.5 L188.9,134.7 L189.2,135.0 L189.5,134.8 L189.8,134.6 L190.1,134.8 L190.4,135.0 L190.7,134.9 L191.0,135.3 L191.3,135.0 L191.6,134.9 L191.9,135.0 L192.2,135.1 L192.5,135.0 L192.8,134.9 L193.1,135.1 L193.4,135.1 L193.7,135.2 L194.0,135.0 L194.3,134.7 L194.6,134.8 L194.9,134.7 L195.2,134.8 L195.5,134.5 L195.8,134.3 L196.1,134.4 L196.4,134.1 L196.7,134.2 L197.0,133.8 L197.3,133.3 L197.6,133.7 L197.9,133.9 L198.2,133.9 L198.5,133.9 L198.8,133.3 L199.1,133.2 L199.4,133.3 L199.7,133.5 L200.0,133.5 L200.3,133.7 L200.6,133.9 L200.9,133.6 L201.2,134.0 L201.5,134.1 L201.8,133.8 L202.1,133.9 L202.4,134.4 L202.7,134.4 L203.0,134.5 L203.3,134.4 L203.3,135.4 L203.0,135.3 L202.7,135.4 L202.4,135.4 L202.1,134.9 L201.8,134.8 L201.5,135.0 L201.2,134.8 L200.9,134.6 L200.6,134.8 L200.3,134.5 L200.0,134.3 L199.7,134.3 L199.4,134.5 L199.1,134.1 L198.8,134.3 L198.5,134.8 L198.2,134.9 L197.9,134.5 L197.6,134.5 L197.3,134.0 L197.0,134.7 L196.7,134.8 L196.4,135.3 L196.1,135.2 L195.8,135.4 L195.5,135.5 L195.2,135.5 L194.9,135.7 L194.6,135.8 L194.3,135.4 L194.0,135.7 L193.7,136.1 L193.4,136.0 L193.1,135.7 L192.8,135.9 L192.5,136.0 L192.2,135.6 L191.9,135.7 L191.6,136.0 L191.3,136.1 L191.0,136.2 L190.7,135.8 L190.4,135.9 L190.1,135.8 L189.8,135.6 L189.5,135.8 L189.2,135.8 L188.9,135.5 L188.6,135.2 L188.3,135.0 L188.0,134.9 L187.7,135.0 L187.4,135.0 L187.1,134.5 L186.8,134.5 L186.5,134.4 L186.2,134.5 L185.9,134.2 L185.6,134.0 L185.3,133.9 L185.0,133.9 L184.7,134.1 L184.4,134.5 L184.1,134.4 L183.8,134.3 L183.5,134.7 L183.2,134.4 L182.9,134.6 L182.6,134.5 L182.3,134.8 L182.0,135.1 L181.7,135.4 L181.4,135.5 L181.1,135.4 L180.8,135.4 L180.5,135.2 L180.2,135.3 L179.9,135.3 L179.6,135.6 L179.3,135.9 L179.0,135.6 L178.7,135.9 L178.4,135.4 L178.1,135.2 L177.8,135.5 L177.5,135.1 L177.2,135.4 L176.9,135.5 L176.6,135.5 L176.3,135.3 L176.0,135.3 L175.7,135.7 L175.4,135.8 L175.1,135.8 L174.8,136.2 L174.5,136.1 L174.2,136.2 L173.9,136.0 L173.6,136.3 L173.3,136.6 L173.0,136.5 L172.7,136.5 L172.4,136.8 L172.1,136.6 L171.8,136.6 L171.5,136.0 L171.2,136.3 L170.9,136.3 L170.6,136.4 L170.3,136.6 L170.0,136.5 L169.7,136.5 L169.4,136.3 L169.1,136.2 L168.8,136.2 L168.5,135.8 L168.2,135.6 L167.9,135.4 L167.6,136.2 L167.3,136.0 L167.0,135.9 L166.7,135.9 L166.4,135.8 L166.1,136.1 L165.8,135.7 L165.5,136.0 L165.2,135.8 L164.9,135.5 L164.6,136.0 L164.3,136.3 L164.0,136.4 L163.7,136.1 L163.4,136.0 L163.1,136.2 L162.8,136.0 L162.5,136.3 L162.2,136.1 L161.9,136.5 L161.6,136.6 L161.3,136.9 L161.0,136.8 L160.7,136.9 L160.4,136.9 L160.1,137.2 L159.8,136.8 L159.5,137.2 L159.2,136.8 L158.9,136.8 L158.6,136.8 L158.3,136.8 L158.0,137.0 L157.7,137.0 L157.4,137.1 L157.1,137.1 L156.8,137.3 L156.5,137.2 L156.2,137.3 L155.9,137.3 L155.6,137.5 L155.3,137.5 L155.0,137.3 L154.7,137.3 L154.4,137.6 L154.1,137.3 L153.8,137.5 L153.5,137.4 L153.2,137.5 L152.9,137.5 L152.6,137.4 L152.3,137.3 L152.0,137.4 L151.7,137.4 L151.4,137.3 L151.1,137.2 L150.8,137.1 L150.5,136.7 L150.2,136.6 L149.9,136.9 L149.6,136.7 L149.3,136.7 L149.0,136.7 L148.7,136.9 L148.4,136.8 L148.1,136.4 L147.8,136.8 L147.5,136.9 L147.2,137.0 L146.9,137.4 L146.6,137.7 L146.3,137.6 L146.0,137.7 L145.7,137.6 L145.4,137.4 L145.1,137.4 L144.8,137.4 L144.5,137.7 L144.2,138.0 L143.9,137.4 L143.6,137.4 L143.3,137.4 L143.0,137.3 L142.7,136.8 L142.4,137.1 L142.1,137.1 L141.8,137.4 L141.5,137.7 L141.2,137.4 L140.9,137.4 L140.6,137.5 L140.3,137.3 L140.0,137.3 L139.7,137.4 L139.4,137.2 L139.1,136.6 L138.8,136.2 L138.5,136.5 L138.2,136.6 L137.9,136.5 L137.6,136.6 L137.3,137.0 L137.0,136.8 L136.7,136.5 L136.4,136.9 L136.1,137.0 L135.8,137.4 L135.5,137.2 L135.2,137.9 L134.9,137.9 L134.6,137.7 L134.3,137.9 L134.0,137.3 L133.7,136.9 L133.4,137.0 L133.1,136.6 L132.8,136.5 L132.5,136.3 L132.2,136.5 L131.9,136.1 L131.6,136.1 L131.3,136.1 L131.0,136.0 L130.7,136.6 L130.4,136.6 L130.1,136.5 L129.8,137.0 L129.5,136.9 L129.2,137.0 L128.9,137.0 L128.6,136.2 L128.3,136.7 L128.0,136.3 L127.7,136.7 L127.4,136.8 L127.1,136.7 L126.8,136.7 L126.5,136.6 L126.2,136.6 L125.9,136.6 L125.6,136.6 L125.3,136.5 L125.0,136.3 L124.7,136.6 L124.4,136.6 L124.1,136.9 L123.8,137.1 L123.5,137.0 L123.2,137.1 L122.9,136.8 L122.6,136.9 L122.3,137.0 L122.0,137.3 L121.7,137.5 L121.4,137.1 L121.1,138.0 L120.8,138.4 L120.5,138.1 L120.2,137.9 L119.9,137.9 L119.6,138.0 L119.3,137.4 L119.0,137.8 L118.7,137.7 L118.4,138.0 L118.1,137.2 L117.8,137.1 L117.5,137.4 L117.2,137.2 L116.9,136.8 L116.6,136.7 L116.3,137.3 L116.0,137.1 L115.7,137.0 L115.4,137.2 L115.1,137.2 L114.8,136.9 L114.5,136.6 L114.2,136.2 L113.9,136.5 L113.6,136.3 L113.3,136.4 L113.0,135.6 L112.7,135.9 L112.4,135.6 L112.1,135.6 L111.8,135.4 L111.5,135.2 L111.2,134.9 L110.9,135.0 L110.6,135.3 L110.3,135.2 L110.0,135.2 L109.7,135.2 L109.4,135.5 L109.1,135.7 L108.8,135.5 L108.5,135.4 L108.2,135.5 L107.9,135.7 L107.6,135.5 L107.3,136.0 L107.0,135.6 L106.7,135.2 L106.4,135.3 L106.1,135.3 L105.8,135.5 L105.5,135.2 L105.2,135.5 L104.9,135.5 L104.6,135.7 L104.3,135.4 L104.0,135.6 L103.7,135.9 L103.4,135.6 L103.1,135.7 L102.8,136.1 L102.5,136.3 L102.2,136.0 L101.9,135.9 L101.6,135.7 L101.3,135.6 L101.0,135.5 L100.7,135.4 L100.4,135.5 L100.1,135.0 L99.8,135.0 L99.5,135.4 L99.2,135.4 L98.9,135.0 L98.6,134.7 L98.3,135.0 L98.0,135.1 L97.7,135.3 L97.4,135.1 L97.1,135.2 L96.8,135.4 L96.5,135.7 L96.2,135.8 L95.9,135.5 L95.6,135.1 L95.3,135.3 L95.0,135.3 L94.7,135.7 L94.4,135.9 L94.1,135.7 L93.8,135.6 L93.5,135.6 L93.2,135.5 L92.9,135.3 L92.6,135.0 L92.3,134.7 L92.0,134.9 L91.7,134.8 L91.4,135.0 L91.1,135.2 L90.8,135.4 L90.5,135.3 L90.2,135.4 L89.9,135.9 L89.6,136.0 L89.3,136.1 L89.0,136.1 L88.7,136.3 L88.4,136.6 L88.1,136.6 L87.8,136.5 L87.5,136.8 L87.2,136.7 L86.9,136.8 L86.6,136.7 L86.3,137.1 L86.0,136.6 L85.7,136.6 L85.4,136.3 L85.1,136.6 L84.8,136.2 L84.5,136.3 L84.2,136.7 L83.9,136.8 L83.6,136.7 L83.3,136.2 L83.0,135.8 L82.7,136.0 L82.4,135.6 L82.1,135.2 L81.8,135.9 L81.5,135.5 L81.2,135.5 L80.9,135.5 L80.6,135.3 L80.3,135.4 L80.0,135.3 L79.7,135.2 L79.4,135.5 L79.1,136.4 L78.8,136.7 L78.5,136.6 L78.2,136.4 L77.9,136.2 L77.6,136.3 L77.3,136.4 L77.0,136.7 L76.7,137.0 L76.4,136.9 L76.1,137.1 L75.8,137.2 L75.5,137.0 L75.2,136.4 L74.9,136.6 L74.6,136.5 L74.3,136.4 L74.0,136.0 L73.7,136.0 L73.4,136.0 L73.1,135.9 L72.8,136.1 L72.5,135.7 L72.2,135.8 L71.9,135.6 L71.6,135.7 L71.3,135.4 L71.0,134.9 L70.7,134.8 L70.4,135.3 L70.1,135.1 L69.8,135.4 L69.5,135.7 L69.2,135.3 L68.9,135.3 L68.6,135.8 L68.3,135.6 L68.0,135.7 L67.7,136.0 L67.4,136.0 L67.1,136.6 L66.8,136.8 L66.5,136.6 L66.2,136.7 L65.9,136.4 L65.6,136.4 L65.3,136.9 L65.0,136.8 L64.7,136.5 L64.4,136.9 L64.1,137.1 L63.8,136.8 L63.5,137.1 L63.2,136.7 L62.9,136.4 L62.6,136.6 L62.3,136.8 L62.0,136.6 L61.7,136.6 L61.4,136.2 L61.1,136.5 L60.8,136.4 L60.5,135.7 L60.2,135.3 L59.9,135.7 L59.6,135.1 L59.3,135.4 L59.0,135.3 L58.7,135.1 L58.4,134.6 L58.1,134.8 L57.8,135.1 L57.5,135.5 L57.2,135.1 L56.9,135.7 L56.6,135.8 L56.3,136.4 L56.0,136.1 L55.7,136.1 L55.4,136.0 L55.1,136.3 L54.8,136.5 L54.5,136.8 L54.2,136.7 L53.9,136.7 L53.6,136.2 L53.3,136.0 L53.0,136.1 L52.7,135.9 L52.4,136.5 L52.1,136.6 L51.8,136.6 L51.5,137.0 L51.2,137.0 L50.9,136.7 L50.6,136.9 L50.3,136.9 L50.0,137.3 L49.7,137.4 L49.4,137.7 L49.1,137.5 L48.8,137.3 L48.5,137.2 L48.2,136.8 L47.9,136.5 L47.6,136.5 L47.3,136.4 L47.0,136.9 L46.7,137.1 L46.4,136.4 L46.1,136.7 L45.8,136.7 L45.5,136.7 L45.2,136.4 L44.9,136.6 L44.6,136.5 L44.3,136.8 L44.0,137.2 L43.7,136.9 L43.4,136.4 L43.1,136.2 L42.8,135.7 L42.5,135.9 L42.2,136.2 L41.9,136.1 L41.6,136.3 L41.3,136.7 L41.0,136.7 L40.7,137.0 L40.4,136.9 L40.1,136.9 L39.8,136.7 L39.5,137.2Z" fill="#1436e2" stroke="none"/>
<path d="M39.5,136.1 L39.8,136.2 L40.1,136.6 L40.4,136.6 L40.7,135.9 L41.0,136.3 L41.3,135.3 L41.6,133.8 L41.9,135.7 L42.2,134.5 L42.5,134.9 L42.8,134.6 L43.1,136.2 L43.4,135.2 L43.7,136.7 L44.0,136.3 L44.3,135.4 L44.6,134.7 L44.9,136.5 L45.2,136.4 L45.5,137.0 L45.8,137.7 L46.1,136.4 L46.4,136.4 L46.7,136.5 L47.0,136.5 L47.3,135.6 L47.6,135.4 L47.9,137.6 L48.2,135.1 L48.5,137.0 L48.8,137.4 L49.1,137.2 L49.4,136.4 L49.7,136.7 L50.0,136.5 L50.3,135.8 L50.6,136.2 L50.9,136.1 L51.2,136.1 L51.5,137.1 L51.8,135.5 L52.1,136.4 L52.4,135.6 L52.7,135.8 L53.0,135.6 L53.3,135.7 L53.6,135.1 L53.9,135.6 L54.2,135.7 L54.5,136.5 L54.8,136.7 L55.1,136.8 L55.4,135.2 L55.7,135.8 L56.0,134.5 L56.3,134.1 L56.6,134.9 L56.9,134.8 L57.2,133.7 L57.5,133.8 L57.8,135.1 L58.1,134.0 L58.4,133.1 L58.7,136.4 L59.0,135.0 L59.3,134.7 L59.6,135.2 L59.9,134.4 L60.2,136.1 L60.5,134.2 L60.8,134.8 L61.1,135.9 L61.4,135.2 L61.7,137.0 L62.0,134.9 L62.3,135.7 L62.6,136.3 L62.9,136.5 L63.2,136.9 L63.5,136.9 L63.8,138.1 L64.1,136.3 L64.4,136.4 L64.7,136.7 L65.0,136.1 L65.3,136.1 L65.6,135.6 L65.9,135.6 L66.2,135.4 L66.5,135.6 L66.8,135.0 L67.1,136.2 L67.4,134.3 L67.7,137.0 L68.0,136.3 L68.3,136.0 L68.6,135.0 L68.9,134.2 L69.2,135.6 L69.5,135.1 L69.8,135.3 L70.1,134.1 L70.4,135.5 L70.7,133.7 L71.0,134.5 L71.3,133.6 L71.6,134.6 L71.9,135.4 L72.2,135.0 L72.5,134.9 L72.8,136.1 L73.1,135.4 L73.4,136.5 L73.7,133.7 L74.0,136.0 L74.3,136.2 L74.6,134.7 L74.9,134.9 L75.2,136.5 L75.5,135.6 L75.8,136.1 L76.1,136.9 L76.4,136.2 L76.7,136.8 L77.0,135.6 L77.3,136.2 L77.6,136.7 L77.9,136.0 L78.2,134.3 L78.5,136.8 L78.8,136.2 L79.1,135.2 L79.4,136.0 L79.7,133.3 L80.0,136.1 L80.3,134.5 L80.6,136.0 L80.9,135.2 L81.2,134.2 L81.5,135.3 L81.8,135.5 L82.1,135.4 L82.4,135.8 L82.7,134.7 L83.0,135.7 L83.3,136.1 L83.6,135.8 L83.9,135.5 L84.2,135.2 L84.5,136.3 L84.8,136.4 L85.1,135.5 L85.4,134.9 L85.7,137.2 L86.0,135.1 L86.3,136.5 L86.6,135.6 L86.9,135.0 L87.2,136.4 L87.5,136.1 L87.8,137.1 L88.1,137.8 L88.4,136.1 L88.7,136.8 L89.0,136.5 L89.3,135.2 L89.6,134.7 L89.9,136.4 L90.2,134.4 L90.5,134.7 L90.8,134.7 L91.1,134.8 L91.4,134.1 L91.7,135.1 L92.0,135.4 L92.3,133.8 L92.6,133.4 L92.9,134.7 L93.2,133.9 L93.5,134.8 L93.8,136.1 L94.1,137.0 L94.4,135.5 L94.7,134.2 L95.0,135.5 L95.3,133.2 L95.6,134.1 L95.9,136.2 L96.2,136.0 L96.5,134.1 L96.8,133.6 L97.1,135.3 L97.4,134.7 L97.7,134.3 L98.0,135.2 L98.3,134.0 L98.6,132.9 L98.9,135.1 L99.2,134.4 L99.5,134.2 L99.8,133.7 L100.1,134.9 L100.4,134.2 L100.7,135.3 L101.0,134.8 L101.3,135.7 L101.6,134.9 L101.9,134.8 L102.2,134.1 L102.5,134.9 L102.8,136.1 L103.1,137.4 L103.4,134.2 L103.7,134.6 L104.0,135.2 L104.3,135.5 L104.6,134.7 L104.9,135.1 L105.2,133.9 L105.5,134.7 L105.8,135.6 L106.1,136.1 L106.4,134.7 L106.7,134.6 L107.0,135.6 L107.3,136.4 L107.6,135.6 L107.9,134.8 L108.2,135.3 L108.5,135.7 L108.8,134.4 L109.1,134.2 L109.4,135.2 L109.7,135.0 L110.0,135.5 L110.3,134.8 L110.6,134.4 L110.9,134.2 L111.2,133.7 L111.5,134.1 L111.8,134.3 L112.1,134.8 L112.4,135.9 L112.7,134.5 L113.0,135.1 L113.3,135.3 L113.6,136.8 L113.9,136.1 L114.2,135.8 L114.5,136.6 L114.8,136.3 L115.1,136.1 L115.4,137.9 L115.7,137.2 L116.0,137.8 L116.3,137.7 L116.6,137.0 L116.9,136.5 L117.2,135.8 L117.5,137.4 L117.8,136.6 L118.1,137.4 L118.4,137.3 L118.7,136.8 L119.0,136.6 L119.3,137.6 L119.6,138.3 L119.9,137.2 L120.2,137.7 L120.5,138.6 L120.8,137.3 L121.1,137.2 L121.4,136.0 L121.7,137.8 L122.0,136.9 L122.3,136.2 L122.6,135.2 L122.9,136.1 L123.2,137.2 L123.5,136.2 L123.8,136.3 L124.1,137.0 L124.4,135.3 L124.7,136.2 L125.0,136.2 L125.3,135.5 L125.6,135.5 L125.9,136.2 L126.2,136.0 L126.5,135.9 L126.8,136.3 L127.1,136.4 L127.4,135.6 L127.7,135.6 L128.0,136.3 L128.3,136.9 L128.6,136.9 L128.9,135.8 L129.2,137.4 L129.5,136.9 L129.8,136.5 L130.1,136.4 L130.4,136.7 L130.7,137.4 L131.0,134.8 L131.3,136.0 L131.6,135.4 L131.9,135.4 L132.2,136.8 L132.5,136.6 L132.8,135.3 L133.1,135.9 L133.4,136.5 L133.7,135.3 L134.0,137.5 L134.3,137.2 L134.6,137.4 L134.9,137.7 L135.2,138.7 L135.5,136.9 L135.8,136.5 L136.1,137.8 L136.4,136.1 L136.7,135.8 L137.0,135.3 L137.3,137.2 L137.6,136.4 L137.9,136.5 L138.2,136.2 L138.5,136.1 L138.8,135.4 L139.1,135.6 L139.4,137.1 L139.7,137.0 L140.0,138.1 L140.3,136.2 L140.6,136.7 L140.9,136.2 L141.2,138.0 L141.5,136.3 L141.8,137.4 L142.1,137.6 L142.4,136.5 L142.7,137.2 L143.0,135.4 L143.3,136.7 L143.6,135.7 L143.9,137.2 L144.2,137.3 L144.5,136.6 L144.8,137.7 L145.1,137.2 L145.4,136.6 L145.7,136.8 L146.0,136.1 L146.3,137.0 L146.6,138.9 L146.9,136.5 L147.2,136.9 L147.5,136.1 L147.8,136.8 L148.1,136.4 L148.4,135.9 L148.7,135.0 L149.0,136.0 L149.3,137.1 L149.6,135.9 L149.9,136.9 L150.2,135.9 L150.5,134.8 L150.8,136.7 L151.1,137.2 L151.4,136.3 L151.7,136.7 L152.0,137.2 L152.3,136.5 L152.6,137.2 L152.9,136.8 L153.2,135.2 L153.5,137.0 L153.8,136.4 L154.1,136.4 L154.4,137.3 L154.7,136.4 L155.0,137.1 L155.3,137.8 L155.6,137.0 L155.9,135.7 L156.2,136.1 L156.5,137.4 L156.8,136.4 L157.1,136.1 L157.4,136.4 L157.7,136.8 L158.0,136.6 L158.3,136.9 L158.6,135.7 L158.9,136.3 L159.2,136.3 L159.5,136.6 L159.8,134.9 L160.1,136.3 L160.4,135.4 L160.7,137.5 L161.0,137.4 L161.3,137.6 L161.6,136.7 L161.9,135.7 L162.2,136.4 L162.5,135.6 L162.8,135.9 L163.1,134.9 L163.4,135.1 L163.7,136.0 L164.0,137.4 L164.3,135.8 L164.6,137.1 L164.9,137.2 L165.2,134.3 L165.5,135.4 L165.8,134.5 L166.1,135.4 L166.4,134.9 L166.7,135.6 L167.0,136.2 L167.3,136.3 L167.6,135.9 L167.9,135.0 L168.2,135.3 L168.5,135.5 L168.8,136.2 L169.1,135.7 L169.4,136.1 L169.7,135.0 L170.0,136.6 L170.3,137.4 L170.6,136.0 L170.9,134.7 L171.2,136.6 L171.5,135.6 L171.8,134.0 L172.1,135.9 L172.4,136.7 L172.7,136.5 L173.0,137.0 L173.3,136.5 L173.6,136.0 L173.9,134.2 L174.2,135.0 L174.5,135.9 L174.8,136.2 L175.1,134.6 L175.4,134.7 L175.7,135.5 L176.0,133.5 L176.3,133.4 L176.6,135.0 L176.9,135.2 L177.2,134.4 L177.5,132.9 L177.8,135.0 L178.1,133.9 L178.4,135.4 L178.7,135.1 L179.0,135.4 L179.3,135.7 L179.6,134.6 L179.9,135.7 L180.2,135.9 L180.5,135.1 L180.8,135.8 L181.1,134.6 L181.4,135.7 L181.7,135.1 L182.0,133.9 L182.3,134.3 L182.6,133.7 L182.9,133.6 L183.2,134.0 L183.5,134.8 L183.8,133.7 L184.1,134.1 L184.4,132.9 L184.7,133.7 L185.0,134.5 L185.3,134.0 L185.6,134.0 L185.9,133.5 L186.2,133.2 L186.5,134.0 L186.8,133.0 L187.1,133.1 L187.4,135.1 L187.7,133.9 L188.0,135.9 L188.3,133.6 L188.6,135.1 L188.9,134.2 L189.2,135.5 L189.5,134.5 L189.8,135.2 L190.1,135.2 L190.4,135.1 L190.7,135.7 L191.0,136.8 L191.3,135.1 L191.6,136.1 L191.9,135.4 L192.2,135.3 L192.5,137.3 L192.8,133.8 L193.1,135.0 L193.4,134.3 L193.7,135.3 L194.0,135.1 L194.3,137.9 L194.6,135.4 L194.9,136.4 L195.2,136.0 L195.5,134.6 L195.8,135.2 L196.1,136.1 L196.4,134.7 L196.7,134.6 L197.0,134.6 L197.3,132.6 L197.6,133.4 L197.9,134.4 L198.2,134.8 L198.5,133.5 L198.8,133.6 L199.1,133.5 L199.4,133.7 L199.7,134.4 L200.0,133.8 L200.3,134.2 L200.6,133.3 L200.9,133.4 L201.2,134.6 L201.5,133.3 L201.8,134.6 L202.1,134.0 L202.4,134.3 L202.7,135.4 L203.0,134.5 L203.3,134.3" fill="none" stroke="#1436e2" stroke-width="1.1" stroke-linejoin="round"/>
<path d="M39.5,140.0 L39.8,139.9 L40.1,140.0 L40.4,139.3 L40.7,139.9 L41.0,139.8 L41.3,139.9 L41.6,139.7 L41.9,139.6 L42.2,140.1 L42.5,140.2 L42.8,140.1 L43.1,139.9 L43.4,140.3 L43.7,140.5 L44.0,140.4 L44.3,140.6 L44.6,140.3 L44.9,140.7 L45.2,140.6 L45.5,140.7 L45.8,140.4 L46.1,140.6 L46.4,140.3 L46.7,140.4 L47.0,140.4 L47.3,140.8 L47.6,140.8 L47.9,140.7 L48.2,140.5 L48.5,140.8 L48.8,140.1 L49.1,140.1 L49.4,139.7 L49.7,140.6 L50.0,140.1 L50.3,140.3 L50.6,140.4 L50.9,140.4 L51.2,140.0 L51.5,140.2 L51.8,140.0 L52.1,139.9 L52.4,140.0 L52.7,140.0 L53.0,140.2 L53.3,140.2 L53.6,139.8 L53.9,139.7 L54.2,139.5 L54.5,139.6 L54.8,139.3 L55.1,139.4 L55.4,138.9 L55.7,139.0 L56.0,139.0 L56.3,138.8 L56.6,139.0 L56.9,139.2 L57.2,139.4 L57.5,139.2 L57.8,139.5 L58.1,139.4 L58.4,139.7 L58.7,139.9 L59.0,139.7 L59.3,140.2 L59.6,140.2 L59.9,140.3 L60.2,140.1 L60.5,140.0 L60.8,139.7 L61.1,140.0 L61.4,139.8 L61.7,139.6 L62.0,139.3 L62.3,139.4 L62.6,139.6 L62.9,139.5 L63.2,139.1 L63.5,138.7 L63.8,139.1 L64.1,139.1 L64.4,139.3 L64.7,139.1 L65.0,138.7 L65.3,139.0 L65.6,138.8 L65.9,138.7 L66.2,138.7 L66.5,138.8 L66.8,138.8 L67.1,138.9 L67.4,139.0 L67.7,138.8 L68.0,138.7 L68.3,138.6 L68.6,138.8 L68.9,139.1 L69.2,138.5 L69.5,138.3 L69.8,138.7 L70.1,138.7 L70.4,138.6 L70.7,138.9 L71.0,138.9 L71.3,138.6 L71.6,138.8 L71.9,138.8 L72.2,138.9 L72.5,138.8 L72.8,138.6 L73.1,139.1 L73.4,138.9 L73.7,139.0 L74.0,138.5 L74.3,138.3 L74.6,138.1 L74.9,138.1 L75.2,138.4 L75.5,138.1 L75.8,137.9 L76.1,138.2 L76.4,138.1 L76.7,138.3 L77.0,138.0 L77.3,138.1 L77.6,138.3 L77.9,137.9 L78.2,138.4 L78.5,138.4 L78.8,138.2 L79.1,137.9 L79.4,137.9 L79.7,137.9 L80.0,137.5 L80.3,137.5 L80.6,137.3 L80.9,137.5 L81.2,137.7 L81.5,137.9 L81.8,138.1 L82.1,137.5 L82.4,137.6 L82.7,137.6 L83.0,137.8 L83.3,137.7 L83.6,137.8 L83.9,138.1 L84.2,137.9 L84.5,138.0 L84.8,137.7 L85.1,137.9 L85.4,137.9 L85.7,138.0 L86.0,138.4 L86.3,138.2 L86.6,137.9 L86.9,138.2 L87.2,137.9 L87.5,138.1 L87.8,137.6 L88.1,137.7 L88.4,137.5 L88.7,137.3 L89.0,137.2 L89.3,137.0 L89.6,136.4 L89.9,136.6 L90.2,136.5 L90.5,136.9 L90.8,136.4 L91.1,136.8 L91.4,136.4 L91.7,136.8 L92.0,136.7 L92.3,136.8 L92.6,136.8 L92.9,136.8 L93.2,137.3 L93.5,137.2 L93.8,137.3 L94.1,137.4 L94.4,137.3 L94.7,138.0 L95.0,137.7 L95.3,138.2 L95.6,138.2 L95.9,138.1 L96.2,138.1 L96.5,138.3 L96.8,138.1 L97.1,137.6 L97.4,137.7 L97.7,137.9 L98.0,137.7 L98.3,137.3 L98.6,137.2 L98.9,136.8 L99.2,136.7 L99.5,136.6 L99.8,136.7 L100.1,136.6 L100.4,136.4 L100.7,136.5 L101.0,136.8 L101.3,137.0 L101.6,136.5 L101.9,136.9 L102.2,137.0 L102.5,136.8 L102.8,136.8 L103.1,136.6 L103.4,136.9 L103.7,136.7 L104.0,137.0 L104.3,137.4 L104.6,137.2 L104.9,136.7 L105.2,136.7 L105.5,136.9 L105.8,137.0 L106.1,137.0 L106.4,136.7 L106.7,136.8 L107.0,137.2 L107.3,137.8 L107.6,137.8 L107.9,137.9 L108.2,137.6 L108.5,137.6 L108.8,137.8 L109.1,137.8 L109.4,137.4 L109.7,137.4 L110.0,137.3 L110.3,137.4 L110.6,137.6 L110.9,137.3 L111.2,137.1 L111.5,137.4 L111.8,137.3 L112.1,137.6 L112.4,137.8 L112.7,138.2 L113.0,138.3 L113.3,138.4 L113.6,138.5 L113.9,138.9 L114.2,139.5 L114.5,139.2 L114.8,139.1 L115.1,139.2 L115.4,138.9 L115.7,139.1 L116.0,139.2 L116.3,139.3 L116.6,139.5 L116.9,139.5 L117.2,139.8 L117.5,139.9 L117.8,139.5 L118.1,139.5 L118.4,139.5 L118.7,139.6 L119.0,139.5 L119.3,139.4 L119.6,139.3 L119.9,139.4 L120.2,139.4 L120.5,138.8 L120.8,139.0 L121.1,138.5 L121.4,138.1 L121.7,137.9 L122.0,137.6 L122.3,137.7 L122.6,137.9 L122.9,137.8 L123.2,138.2 L123.5,138.1 L123.8,138.0 L124.1,138.0 L124.4,138.4 L124.7,138.3 L125.0,138.5 L125.3,138.2 L125.6,138.6 L125.9,138.4 L126.2,138.1 L126.5,138.2 L126.8,138.2 L127.1,138.3 L127.4,137.9 L127.7,138.2 L128.0,137.7 L128.3,137.3 L128.6,137.0 L128.9,136.8 L129.2,137.0 L129.5,136.6 L129.8,136.8 L130.1,136.9 L130.4,137.3 L130.7,137.4 L131.0,137.0 L131.3,136.6 L131.6,136.4 L131.9,136.3 L132.2,136.6 L132.5,136.5 L132.8,136.3 L133.1,136.2 L133.4,136.2 L133.7,136.1 L134.0,136.1 L134.3,135.8 L134.6,135.5 L134.9,135.8 L135.2,136.1 L135.5,136.4 L135.8,136.4 L136.1,136.0 L136.4,136.5 L136.7,137.0 L137.0,136.7 L137.3,136.9 L137.6,136.4 L137.9,136.8 L138.2,136.9 L138.5,136.4 L138.8,136.3 L139.1,136.0 L139.4,136.2 L139.7,136.2 L140.0,136.2 L140.3,136.0 L140.6,135.6 L140.9,135.9 L141.2,135.5 L141.5,135.8 L141.8,135.1 L142.1,134.6 L142.4,135.0 L142.7,134.8 L143.0,135.1 L143.3,135.1 L143.6,135.5 L143.9,135.6 L144.2,135.8 L144.5,136.2 L144.8,136.5 L145.1,136.3 L145.4,136.5 L145.7,137.1 L146.0,137.4 L146.3,137.6 L146.6,137.3 L146.9,137.2 L147.2,137.4 L147.5,137.0 L147.8,136.8 L148.1,136.6 L148.4,136.5 L148.7,136.3 L149.0,136.9 L149.3,136.4 L149.6,136.2 L149.9,136.4 L150.2,136.4 L150.5,137.0 L150.8,136.7 L151.1,136.6 L151.4,136.8 L151.7,137.2 L152.0,137.1 L152.3,137.0 L152.6,137.0 L152.9,136.5 L153.2,136.9 L153.5,136.8 L153.8,137.0 L154.1,136.8 L154.4,136.7 L154.7,137.0 L155.0,136.8 L155.3,136.8 L155.6,136.4 L155.9,136.2 L156.2,136.1 L156.5,136.4 L156.8,136.6 L157.1,136.4 L157.4,136.8 L157.7,136.6 L158.0,136.4 L158.3,136.5 L158.6,136.8 L158.9,137.0 L159.2,136.7 L159.5,137.0 L159.8,137.2 L160.1,137.3 L160.4,137.4 L160.7,137.3 L161.0,137.6 L161.3,137.4 L161.6,137.4 L161.9,137.5 L162.2,137.2 L162.5,137.0 L162.8,136.9 L163.1,137.3 L163.4,137.1 L163.7,136.9 L164.0,136.5 L164.3,136.7 L164.6,136.6 L164.9,136.8 L165.2,136.5 L165.5,136.5 L165.8,136.6 L166.1,136.1 L166.4,136.7 L166.7,136.3 L167.0,136.3 L167.3,136.6 L167.6,136.7 L167.9,137.2 L168.2,137.2 L168.5,136.6 L168.8,136.6 L169.1,136.6 L169.4,136.8 L169.7,136.4 L170.0,136.4 L170.3,136.9 L170.6,136.8 L170.9,136.8 L171.2,136.4 L171.5,136.3 L171.8,136.0 L172.1,135.9 L172.4,135.9 L172.7,135.8 L173.0,135.6 L173.3,135.7 L173.6,135.8 L173.9,136.0 L174.2,135.7 L174.5,135.7 L174.8,135.4 L175.1,135.3 L175.4,135.5 L175.7,135.4 L176.0,135.5 L176.3,135.9 L176.6,135.6 L176.9,136.0 L177.2,135.6 L177.5,135.3 L177.8,135.2 L178.1,135.1 L178.4,135.1 L178.7,135.3 L179.0,135.0 L179.3,134.6 L179.6,134.4 L179.9,134.2 L180.2,134.0 L180.5,134.3 L180.8,134.4 L181.1,134.7 L181.4,134.6 L181.7,134.6 L182.0,134.8 L182.3,135.1 L182.6,135.2 L182.9,135.4 L183.2,136.0 L183.5,135.8 L183.8,136.0 L184.1,136.5 L184.4,136.0 L184.7,136.2 L185.0,136.3 L185.3,136.2 L185.6,136.6 L185.9,136.8 L186.2,136.8 L186.5,136.8 L186.8,136.8 L187.1,136.8 L187.4,136.8 L187.7,136.6 L188.0,136.4 L188.3,136.5 L188.6,136.8 L188.9,137.1 L189.2,136.8 L189.5,137.1 L189.8,137.0 L190.1,136.7 L190.4,137.0 L190.7,136.9 L191.0,137.0 L191.3,137.4 L191.6,137.5 L191.9,137.4 L192.2,137.6 L192.5,137.6 L192.8,137.8 L193.1,138.0 L193.4,137.6 L193.7,137.6 L194.0,137.9 L194.3,137.7 L194.6,137.9 L194.9,137.9 L195.2,137.4 L195.5,137.9 L195.8,138.0 L196.1,138.3 L196.4,137.9 L196.7,137.8 L197.0,137.7 L197.3,138.3 L197.6,138.2 L197.9,138.1 L198.2,138.0 L198.5,138.5 L198.8,139.0 L199.1,139.2 L199.4,139.4 L199.7,139.6 L200.0,139.5 L200.3,139.4 L200.6,140.3 L200.9,140.5 L201.2,140.5 L201.5,140.7 L201.8,141.0 L202.1,141.1 L202.4,141.1 L202.7,140.2 L203.0,140.1 L203.3,140.2 L203.3,141.2 L203.0,141.1 L202.7,141.3 L202.4,142.0 L202.1,141.9 L201.8,141.9 L201.5,141.8 L201.2,141.3 L200.9,141.4 L200.6,141.4 L200.3,140.6 L200.0,140.4 L199.7,140.4 L199.4,139.9 L199.1,140.0 L198.8,139.7 L198.5,139.6 L198.2,139.1 L197.9,138.9 L197.6,139.1 L197.3,139.2 L197.0,138.7 L196.7,138.5 L196.4,138.8 L196.1,138.9 L195.8,139.0 L195.5,139.1 L195.2,138.6 L194.9,138.7 L194.6,138.8 L194.3,138.8 L194.0,139.0 L193.7,138.7 L193.4,138.4 L193.1,138.8 L192.8,138.8 L192.5,138.6 L192.2,138.3 L191.9,138.6 L191.6,138.2 L191.3,138.3 L191.0,137.9 L190.7,137.7 L190.4,137.7 L190.1,137.6 L189.8,137.8 L189.5,137.9 L189.2,137.6 L188.9,137.7 L188.6,137.7 L188.3,137.7 L188.0,137.5 L187.7,137.6 L187.4,137.7 L187.1,137.7 L186.8,137.6 L186.5,138.1 L186.2,137.7 L185.9,137.5 L185.6,137.2 L185.3,137.4 L185.0,137.1 L184.7,137.2 L184.4,136.8 L184.1,137.3 L183.8,136.8 L183.5,136.8 L183.2,136.7 L182.9,136.6 L182.6,135.8 L182.3,136.0 L182.0,135.6 L181.7,135.6 L181.4,135.4 L181.1,135.4 L180.8,135.1 L180.5,135.3 L180.2,134.8 L179.9,135.1 L179.6,135.2 L179.3,135.4 L179.0,135.7 L178.7,136.1 L178.4,135.9 L178.1,135.8 L177.8,136.1 L177.5,136.4 L177.2,136.6 L176.9,136.9 L176.6,136.4 L176.3,136.5 L176.0,136.6 L175.7,136.3 L175.4,136.4 L175.1,136.5 L174.8,136.5 L174.5,136.5 L174.2,136.6 L173.9,136.7 L173.6,136.7 L173.3,136.5 L173.0,136.5 L172.7,136.6 L172.4,136.8 L172.1,136.6 L171.8,137.0 L171.5,137.5 L171.2,137.5 L170.9,137.6 L170.6,137.5 L170.3,137.8 L170.0,137.7 L169.7,137.5 L169.4,137.8 L169.1,137.4 L168.8,137.4 L168.5,137.6 L168.2,137.8 L167.9,138.0 L167.6,137.6 L167.3,137.3 L167.0,137.3 L166.7,137.3 L166.4,137.5 L166.1,137.1 L165.8,137.3 L165.5,137.4 L165.2,137.6 L164.9,137.6 L164.6,137.6 L164.3,137.7 L164.0,137.2 L163.7,137.8 L163.4,137.6 L163.1,138.3 L162.8,138.0 L162.5,138.1 L162.2,138.3 L161.9,138.5 L161.6,138.6 L161.3,138.5 L161.0,138.5 L160.7,138.2 L160.4,138.1 L160.1,138.2 L159.8,138.1 L159.5,138.0 L159.2,137.4 L158.9,138.1 L158.6,137.7 L158.3,137.4 L158.0,137.3 L157.7,137.5 L157.4,137.7 L157.1,137.6 L156.8,137.8 L156.5,137.4 L156.2,137.1 L155.9,137.1 L155.6,137.2 L155.3,137.7 L155.0,137.8 L154.7,137.8 L154.4,137.5 L154.1,137.9 L153.8,137.8 L153.5,137.7 L153.2,138.0 L152.9,137.6 L152.6,138.0 L152.3,138.1 L152.0,138.2 L151.7,137.9 L151.4,137.7 L151.1,137.6 L150.8,137.5 L150.5,137.9 L150.2,137.5 L149.9,137.3 L149.6,137.1 L149.3,137.3 L149.0,137.6 L148.7,137.3 L148.4,137.5 L148.1,137.7 L147.8,137.7 L147.5,137.9 L147.2,138.3 L146.9,138.1 L146.6,138.1 L146.3,138.4 L146.0,138.3 L145.7,137.9 L145.4,137.5 L145.1,137.4 L144.8,137.0 L144.5,137.2 L144.2,136.8 L143.9,136.7 L143.6,136.4 L143.3,136.1 L143.0,135.9 L142.7,135.9 L142.4,135.7 L142.1,135.5 L141.8,136.1 L141.5,136.7 L141.2,136.2 L140.9,136.8 L140.6,136.7 L140.3,136.7 L140.0,137.2 L139.7,136.9 L139.4,137.3 L139.1,136.9 L138.8,137.0 L138.5,137.5 L138.2,137.4 L137.9,137.7 L137.6,137.5 L137.3,137.7 L137.0,137.6 L136.7,137.7 L136.4,137.4 L136.1,136.9 L135.8,137.4 L135.5,137.0 L135.2,136.9 L134.9,136.7 L134.6,136.8 L134.3,136.6 L134.0,136.8 L133.7,137.2 L133.4,137.3 L133.1,137.3 L132.8,137.1 L132.5,137.3 L132.2,137.7 L131.9,137.3 L131.6,137.3 L131.3,137.6 L131.0,137.9 L130.7,138.3 L130.4,138.0 L130.1,137.9 L129.8,137.5 L129.5,137.6 L129.2,138.0 L128.9,137.8 L128.6,137.9 L128.3,138.1 L128.0,138.6 L127.7,138.9 L127.4,138.9 L127.1,139.2 L126.8,139.1 L126.5,139.1 L126.2,138.8 L125.9,139.3 L125.6,139.5 L125.3,139.3 L125.0,139.4 L124.7,139.3 L124.4,139.6 L124.1,138.8 L123.8,139.0 L123.5,139.1 L123.2,139.2 L122.9,138.8 L122.6,138.7 L122.3,138.8 L122.0,138.7 L121.7,139.0 L121.4,139.0 L121.1,139.4 L120.8,139.9 L120.5,139.9 L120.2,140.6 L119.9,140.3 L119.6,140.2 L119.3,140.3 L119.0,140.5 L118.7,140.6 L118.4,140.5 L118.1,140.5 L117.8,140.3 L117.5,140.7 L117.2,140.7 L116.9,140.3 L116.6,140.4 L116.3,140.1 L116.0,140.0 L115.7,140.0 L115.4,139.9 L115.1,139.9 L114.8,140.0 L114.5,140.1 L114.2,140.2 L113.9,139.9 L113.6,139.5 L113.3,139.2 L113.0,139.1 L112.7,138.8 L112.4,138.7 L112.1,138.6 L111.8,138.2 L111.5,138.3 L111.2,138.0 L110.9,138.2 L110.6,138.6 L110.3,138.3 L110.0,138.2 L109.7,138.4 L109.4,138.3 L109.1,138.5 L108.8,138.6 L108.5,138.7 L108.2,138.2 L107.9,138.8 L107.6,138.6 L107.3,138.7 L107.0,138.2 L106.7,137.8 L106.4,137.6 L106.1,137.7 L105.8,138.2 L105.5,138.1 L105.2,137.7 L104.9,137.5 L104.6,138.3 L104.3,138.2 L104.0,137.9 L103.7,137.5 L103.4,137.7 L103.1,137.5 L102.8,138.1 L102.5,137.9 L102.2,137.9 L101.9,137.9 L101.6,137.5 L101.3,137.7 L101.0,137.8 L100.7,137.5 L100.4,137.3 L100.1,137.4 L99.8,137.5 L99.5,137.4 L99.2,137.6 L98.9,137.7 L98.6,137.9 L98.3,138.0 L98.0,138.5 L97.7,138.7 L97.4,138.9 L97.1,138.7 L96.8,139.0 L96.5,139.1 L96.2,139.2 L95.9,139.0 L95.6,138.9 L95.3,139.0 L95.0,138.6 L94.7,138.7 L94.4,138.5 L94.1,138.0 L93.8,137.9 L93.5,138.3 L93.2,138.1 L92.9,137.6 L92.6,137.9 L92.3,137.5 L92.0,137.8 L91.7,137.5 L91.4,137.4 L91.1,137.6 L90.8,137.3 L90.5,137.8 L90.2,137.3 L89.9,137.5 L89.6,137.6 L89.3,137.8 L89.0,138.2 L88.7,138.2 L88.4,138.4 L88.1,138.4 L87.8,138.7 L87.5,138.8 L87.2,138.9 L86.9,138.9 L86.6,138.8 L86.3,139.3 L86.0,139.3 L85.7,138.8 L85.4,138.8 L85.1,138.9 L84.8,138.7 L84.5,139.0 L84.2,139.0 L83.9,138.8 L83.6,138.9 L83.3,138.8 L83.0,138.7 L82.7,138.6 L82.4,138.6 L82.1,138.5 L81.8,138.9 L81.5,138.9 L81.2,138.6 L80.9,138.5 L80.6,138.2 L80.3,138.4 L80.0,138.4 L79.7,139.0 L79.4,138.9 L79.1,139.0 L78.8,139.2 L78.5,139.5 L78.2,139.3 L77.9,138.6 L77.6,139.0 L77.3,138.8 L77.0,139.0 L76.7,139.3 L76.4,138.8 L76.1,139.1 L75.8,138.9 L75.5,139.0 L75.2,139.2 L74.9,139.0 L74.6,139.1 L74.3,139.4 L74.0,139.5 L73.7,139.8 L73.4,140.0 L73.1,139.6 L72.8,139.4 L72.5,139.9 L72.2,139.8 L71.9,139.7 L71.6,139.9 L71.3,139.3 L71.0,139.9 L70.7,139.9 L70.4,139.7 L70.1,139.8 L69.8,139.7 L69.5,139.2 L69.2,139.6 L68.9,139.7 L68.6,139.6 L68.3,139.4 L68.0,139.7 L67.7,139.5 L67.4,140.0 L67.1,139.8 L66.8,139.4 L66.5,139.7 L66.2,139.6 L65.9,139.5 L65.6,139.6 L65.3,139.8 L65.0,139.5 L64.7,140.0 L64.4,140.1 L64.1,140.0 L63.8,139.8 L63.5,139.8 L63.2,140.0 L62.9,140.5 L62.6,140.5 L62.3,140.1 L62.0,140.5 L61.7,140.6 L61.4,140.8 L61.1,140.7 L60.8,140.8 L60.5,140.8 L60.2,141.0 L59.9,141.0 L59.6,141.3 L59.3,141.1 L59.0,140.5 L58.7,140.6 L58.4,140.6 L58.1,140.4 L57.8,140.0 L57.5,139.9 L57.2,140.3 L56.9,140.0 L56.6,139.9 L56.3,139.6 L56.0,139.8 L55.7,139.9 L55.4,139.5 L55.1,140.1 L54.8,140.4 L54.5,140.3 L54.2,140.5 L53.9,140.6 L53.6,140.7 L53.3,141.1 L53.0,140.8 L52.7,141.2 L52.4,141.1 L52.1,141.2 L51.8,140.6 L51.5,141.1 L51.2,141.1 L50.9,141.3 L50.6,141.2 L50.3,141.5 L50.0,141.0 L49.7,141.5 L49.4,140.9 L49.1,141.0 L48.8,141.1 L48.5,141.4 L48.2,141.2 L47.9,141.5 L47.6,141.7 L47.3,141.6 L47.0,141.3 L46.7,141.3 L46.4,141.5 L46.1,141.4 L45.8,141.0 L45.5,141.7 L45.2,141.5 L44.9,141.5 L44.6,140.9 L44.3,141.4 L44.0,141.4 L43.7,141.5 L43.4,141.1 L43.1,141.1 L42.8,141.1 L42.5,141.0 L42.2,140.9 L41.9,140.6 L41.6,140.7 L41.3,140.8 L41.0,140.8 L40.7,141.0 L40.4,140.4 L40.1,140.6 L39.8,140.9 L39.5,140.9Z" fill="#e81a1a" stroke="none"/>
<path d="M39.5,141.2 L39.8,140.1 L40.1,139.4 L40.4,140.8 L40.7,141.0 L41.0,139.6 L41.3,141.2 L41.6,140.3 L41.9,142.1 L42.2,141.8 L42.5,140.1 L42.8,140.3 L43.1,139.9 L43.4,140.9 L43.7,141.0 L44.0,141.4 L44.3,141.1 L44.6,139.7 L44.9,140.4 L45.2,141.9 L45.5,142.0 L45.8,140.7 L46.1,141.0 L46.4,140.8 L46.7,140.8 L47.0,139.6 L47.3,141.8 L47.6,140.7 L47.9,141.2 L48.2,138.9 L48.5,141.2 L48.8,141.6 L49.1,139.0 L49.4,141.4 L49.7,141.3 L50.0,140.1 L50.3,139.7 L50.6,141.8 L50.9,140.9 L51.2,141.0 L51.5,140.3 L51.8,139.9 L52.1,141.2 L52.4,139.8 L52.7,141.2 L53.0,139.4 L53.3,140.1 L53.6,139.2 L53.9,141.1 L54.2,138.6 L54.5,139.1 L54.8,140.3 L55.1,139.8 L55.4,140.8 L55.7,140.9 L56.0,139.8 L56.3,139.6 L56.6,138.0 L56.9,139.0 L57.2,139.5 L57.5,139.5 L57.8,138.9 L58.1,139.4 L58.4,139.4 L58.7,140.9 L59.0,140.5 L59.3,140.4 L59.6,140.5 L59.9,140.8 L60.2,140.1 L60.5,140.2 L60.8,138.9 L61.1,140.7 L61.4,140.9 L61.7,140.3 L62.0,140.2 L62.3,140.0 L62.6,141.4 L62.9,140.1 L63.2,138.5 L63.5,138.4 L63.8,139.9 L64.1,140.3 L64.4,140.3 L64.7,140.1 L65.0,139.2 L65.3,138.3 L65.6,138.7 L65.9,137.8 L66.2,138.9 L66.5,138.3 L66.8,139.0 L67.1,139.2 L67.4,138.2 L67.7,139.8 L68.0,139.7 L68.3,138.0 L68.6,139.3 L68.9,139.9 L69.2,138.8 L69.5,139.5 L69.8,139.3 L70.1,140.0 L70.4,139.2 L70.7,139.2 L71.0,139.7 L71.3,139.6 L71.6,139.5 L71.9,138.8 L72.2,138.7 L72.5,139.1 L72.8,138.6 L73.1,139.4 L73.4,139.5 L73.7,139.1 L74.0,139.1 L74.3,139.0 L74.6,139.7 L74.9,139.3 L75.2,138.3 L75.5,138.8 L75.8,138.1 L76.1,138.5 L76.4,138.3 L76.7,138.3 L77.0,137.5 L77.3,136.7 L77.6,138.6 L77.9,139.2 L78.2,138.1 L78.5,139.2 L78.8,138.5 L79.1,138.7 L79.4,137.8 L79.7,138.3 L80.0,138.0 L80.3,136.2 L80.6,137.9 L80.9,137.9 L81.2,136.3 L81.5,138.8 L81.8,138.4 L82.1,138.1 L82.4,138.2 L82.7,137.8 L83.0,137.4 L83.3,138.0 L83.6,138.1 L83.9,140.0 L84.2,139.8 L84.5,138.0 L84.8,138.0 L85.1,138.6 L85.4,138.7 L85.7,138.0 L86.0,138.0 L86.3,140.1 L86.6,139.2 L86.9,137.5 L87.2,137.1 L87.5,137.8 L87.8,138.2 L88.1,138.3 L88.4,137.7 L88.7,136.6 L89.0,137.9 L89.3,137.8 L89.6,137.2 L89.9,136.6 L90.2,137.3 L90.5,137.2 L90.8,136.1 L91.1,137.2 L91.4,136.0 L91.7,137.9 L92.0,137.5 L92.3,136.5 L92.6,137.5 L92.9,138.1 L93.2,136.0 L93.5,137.5 L93.8,138.8 L94.1,136.5 L94.4,137.7 L94.7,137.1 L95.0,138.2 L95.3,136.8 L95.6,137.3 L95.9,138.1 L96.2,138.7 L96.5,139.0 L96.8,138.8 L97.1,139.0 L97.4,138.7 L97.7,138.8 L98.0,137.3 L98.3,137.5 L98.6,139.9 L98.9,139.0 L99.2,137.8 L99.5,137.6 L99.8,138.0 L100.1,136.7 L100.4,138.2 L100.7,136.6 L101.0,137.3 L101.3,138.8 L101.6,135.4 L101.9,137.6 L102.2,136.1 L102.5,137.0 L102.8,137.3 L103.1,136.8 L103.4,137.4 L103.7,136.6 L104.0,137.3 L104.3,136.9 L104.6,137.3 L104.9,136.1 L105.2,137.7 L105.5,136.6 L105.8,138.0 L106.1,137.1 L106.4,136.7 L106.7,138.2 L107.0,137.8 L107.3,136.8 L107.6,138.5 L107.9,136.2 L108.2,138.2 L108.5,137.8 L108.8,137.1 L109.1,138.2 L109.4,137.6 L109.7,139.1 L110.0,137.4 L110.3,139.3 L110.6,139.0 L110.9,137.4 L111.2,136.9 L111.5,138.8 L111.8,137.6 L112.1,138.1 L112.4,138.0 L112.7,137.5 L113.0,138.4 L113.3,138.0 L113.6,138.0 L113.9,139.2 L114.2,141.1 L114.5,140.9 L114.8,139.5 L115.1,139.6 L115.4,139.8 L115.7,140.6 L116.0,139.9 L116.3,139.3 L116.6,139.7 L116.9,140.7 L117.2,142.2 L117.5,139.8 L117.8,138.4 L118.1,140.4 L118.4,139.9 L118.7,140.2 L119.0,140.9 L119.3,139.8 L119.6,138.8 L119.9,138.4 L120.2,139.8 L120.5,138.5 L120.8,139.5 L121.1,138.0 L121.4,138.2 L121.7,137.2 L122.0,137.9 L122.3,137.9 L122.6,138.5 L122.9,139.3 L123.2,138.4 L123.5,138.0 L123.8,139.9 L124.1,138.7 L124.4,139.3 L124.7,139.2 L125.0,140.0 L125.3,139.4 L125.6,139.6 L125.9,139.4 L126.2,137.8 L126.5,138.1 L126.8,138.6 L127.1,138.7 L127.4,138.4 L127.7,138.7 L128.0,138.1 L128.3,137.3 L128.6,136.3 L128.9,137.8 L129.2,137.9 L129.5,136.4 L129.8,137.5 L130.1,137.7 L130.4,137.7 L130.7,136.4 L131.0,136.5 L131.3,136.7 L131.6,138.1 L131.9,136.2 L132.2,136.8 L132.5,136.0 L132.8,136.3 L133.1,136.9 L133.4,135.2 L133.7,134.5 L134.0,137.0 L134.3,136.3 L134.6,135.5 L134.9,137.0 L135.2,137.2 L135.5,135.0 L135.8,136.6 L136.1,137.4 L136.4,136.4 L136.7,137.0 L137.0,137.8 L137.3,137.0 L137.6,136.1 L137.9,136.8 L138.2,136.2 L138.5,137.4 L138.8,135.4 L139.1,137.2 L139.4,135.4 L139.7,136.5 L140.0,135.6 L140.3,136.1 L140.6,136.9 L140.9,137.2 L141.2,136.8 L141.5,136.0 L141.8,135.7 L142.1,135.4 L142.4,135.7 L142.7,135.1 L143.0,136.4 L143.3,135.8 L143.6,136.7 L143.9,133.0 L144.2,136.9 L144.5,136.1 L144.8,136.4 L145.1,136.0 L145.4,136.8 L145.7,137.2 L146.0,131.0 L146.3,137.0 L146.6,140.1 L146.9,137.6 L147.2,138.8 L147.5,138.2 L147.8,135.3 L148.1,136.9 L148.4,138.0 L148.7,135.2 L149.0,137.8 L149.3,136.2 L149.6,136.3 L149.9,136.9 L150.2,135.5 L150.5,137.6 L150.8,136.5 L151.1,136.4 L151.4,137.8 L151.7,140.1 L152.0,134.5 L152.3,138.0 L152.6,137.3 L152.9,136.5 L153.2,137.7 L153.5,138.5 L153.8,137.6 L154.1,138.1 L154.4,137.1 L154.7,139.2 L155.0,136.0 L155.3,137.7 L155.6,137.2 L155.9,136.7 L156.2,135.8 L156.5,136.0 L156.8,136.9 L157.1,137.1 L157.4,136.3 L157.7,136.2 L158.0,137.2 L158.3,137.6 L158.6,136.8 L158.9,137.0 L159.2,136.6 L159.5,139.4 L159.8,137.9 L160.1,137.7 L160.4,138.4 L160.7,139.5 L161.0,138.8 L161.3,136.9 L161.6,137.9 L161.9,137.6 L162.2,137.6 L162.5,136.7 L162.8,137.1 L163.1,136.8 L163.4,137.6 L163.7,137.4 L164.0,135.8 L164.3,135.8 L164.6,136.7 L164.9,137.6 L165.2,137.4 L165.5,136.8 L165.8,134.4 L166.1,136.2 L166.4,136.3 L166.7,136.6 L167.0,135.9 L167.3,136.6 L167.6,136.5 L167.9,139.6 L168.2,138.0 L168.5,137.0 L168.8,137.0 L169.1,136.8 L169.4,137.3 L169.7,136.6 L170.0,137.0 L170.3,137.9 L170.6,137.8 L170.9,137.3 L171.2,137.9 L171.5,136.9 L171.8,135.9 L172.1,135.0 L172.4,135.8 L172.7,136.1 L173.0,136.4 L173.3,136.8 L173.6,135.9 L173.9,135.8 L174.2,136.7 L174.5,136.9 L174.8,135.6 L175.1,136.1 L175.4,136.9 L175.7,136.1 L176.0,136.1 L176.3,134.6 L176.6,137.0 L176.9,136.8 L177.2,136.1 L177.5,135.4 L177.8,134.7 L178.1,135.4 L178.4,135.3 L178.7,136.4 L179.0,134.4 L179.3,136.2 L179.6,134.8 L179.9,135.4 L180.2,133.7 L180.5,135.1 L180.8,135.6 L181.1,135.1 L181.4,134.0 L181.7,134.8 L182.0,135.6 L182.3,134.5 L182.6,134.5 L182.9,136.1 L183.2,135.6 L183.5,136.9 L183.8,135.6 L184.1,135.4 L184.4,135.9 L184.7,137.9 L185.0,136.0 L185.3,136.8 L185.6,137.0 L185.9,136.4 L186.2,138.1 L186.5,137.5 L186.8,137.7 L187.1,136.0 L187.4,136.0 L187.7,135.0 L188.0,136.8 L188.3,137.0 L188.6,137.7 L188.9,138.3 L189.2,137.0 L189.5,137.2 L189.8,137.8 L190.1,138.3 L190.4,136.6 L190.7,137.7 L191.0,137.2 L191.3,137.5 L191.6,138.3 L191.9,137.4 L192.2,137.3 L192.5,138.6 L192.8,138.3 L193.1,138.1 L193.4,138.0 L193.7,138.5 L194.0,138.2 L194.3,138.8 L194.6,138.6 L194.9,139.3 L195.2,138.9 L195.5,139.1 L195.8,138.3 L196.1,138.5 L196.4,137.8 L196.7,140.2 L197.0,138.1 L197.3,139.2 L197.6,139.6 L197.9,137.4 L198.2,138.1 L198.5,138.8 L198.8,138.6 L199.1,138.6 L199.4,139.3 L199.7,140.8 L200.0,140.5 L200.3,140.2 L200.6,140.9 L200.9,139.7 L201.2,141.4 L201.5,141.5 L201.8,140.7 L202.1,141.5 L202.4,141.2 L202.7,140.5 L203.0,139.8 L203.3,140.3" fill="none" stroke="#e81a1a" stroke-width="1.1" stroke-linejoin="round"/>
<path d="M39.5,211.2 L39.9,210.8 L40.3,211.2 L40.7,210.5 L41.1,210.2 L41.5,211.3 L41.9,210.3 L42.3,209.5 L42.7,211.2 L43.1,209.8 L43.5,208.5 L43.9,209.9 L44.3,210.4 L44.7,210.2 M47.5,211.6 L47.9,211.7 L48.3,210.6 L48.7,211.4 L49.1,211.4 L49.5,212.2 L49.9,211.3 M51.5,210.9 L51.9,211.8 L52.3,212.4 L52.7,211.8 L53.1,211.1 L53.5,211.3 M55.1,211.1 L55.5,210.1 L55.9,211.7 L56.3,211.0 L56.7,211.2 L57.1,211.4 L57.5,211.6 M59.1,211.1 L59.5,212.5 L59.9,212.6 L60.3,212.3 L60.7,211.7 L61.1,211.1 L61.5,211.8 L61.9,212.0 L62.3,211.7 L62.7,211.8 L63.1,210.8 L63.5,211.4 M66.3,211.3 L66.7,211.4 L67.1,211.4 L67.5,211.6 L67.9,211.9 L68.3,211.3 L68.7,211.0 L69.1,210.8 M71.9,211.0 L72.3,210.9 L72.7,211.2 L73.1,211.2 L73.5,211.5 L73.9,211.4 L74.3,211.7 L74.7,211.6 L75.1,211.8 L75.5,211.8 M77.1,210.3 L77.5,210.6 L77.9,211.4 L78.3,210.9 L78.7,210.6 L79.1,210.4 L79.5,210.7 M81.9,211.3 L82.3,210.6 L82.7,211.4 L83.1,210.6 L83.5,211.4 L83.9,210.8 L84.3,211.0 L84.7,211.3 L85.1,211.3 M86.3,211.7 L86.7,210.5 L87.1,211.2 L87.5,210.4 L87.9,210.9 L88.3,211.1 L88.7,210.3 L89.1,210.2 M90.3,211.1 L90.7,210.4 L91.1,210.9 L91.5,211.2 L91.9,210.2 L92.3,210.6 L92.7,210.6 L93.1,210.6 M94.3,210.6 L94.7,210.4 L95.1,210.4 L95.5,209.6 L95.9,210.4 L96.3,211.0 L96.7,209.2 L97.1,209.4 L97.5,211.1 L97.9,209.8 L98.3,210.6 L98.7,210.1 L99.1,211.1 M101.1,211.7 L101.5,211.9 L101.9,211.9 L102.3,211.3 L102.7,211.0 L103.1,211.2 M105.5,211.5 L105.9,211.4 L106.3,211.4 L106.7,210.5 L107.1,211.8 L107.5,211.4 L107.9,211.2 L108.3,211.2 L108.7,211.5 M111.5,211.4 L111.9,212.6 L112.3,211.0 L112.7,211.9 L113.1,212.1 L113.5,212.0 L113.9,212.1 L114.3,211.0 L114.7,211.0 M116.7,211.2 L117.1,211.2 L117.5,210.8 L117.9,210.8 L118.3,210.4 L118.7,210.8 M121.9,211.2 L122.3,211.5 L122.7,212.9 L123.1,211.6 L123.5,213.2 L123.9,212.1 L124.3,212.6 L124.7,212.3 L125.1,212.2 M126.7,211.8 L127.1,212.9 L127.5,212.5 L127.9,211.8 L128.3,211.5 L128.7,211.7 L129.1,211.7 L129.5,212.1 L129.9,210.9 L130.3,211.1 L130.7,210.8 M133.5,211.3 L133.9,212.3 L134.3,212.1 L134.7,212.0 L135.1,212.4 L135.5,211.9 L135.9,211.2 L136.3,211.8 M139.1,211.0 L139.5,211.6 L139.9,211.3 L140.3,212.0 L140.7,212.6 L141.1,211.4 L141.5,211.3 L141.9,211.4 L142.3,211.4 L142.7,211.3 L143.1,211.5 L143.5,212.1 M146.3,211.7 L146.7,212.7 L147.1,213.1 L147.5,213.1 L147.9,212.6 L148.3,212.5 L148.7,212.5 L149.1,211.9 L149.5,212.8 L149.9,211.9 M153.1,212.0 L153.5,211.2 L153.9,210.9 L154.3,211.2 L154.7,211.2 L155.1,210.8 L155.5,210.8 L155.9,211.3 L156.3,211.2 L156.7,211.2 L157.1,210.4 M159.1,211.7 L159.5,210.6 L159.9,211.5 L160.3,211.5 L160.7,210.7 L161.1,211.4 L161.5,212.5 L161.9,212.2 L162.3,212.0 M163.9,211.7 L164.3,211.3 L164.7,211.5 L165.1,212.1 L165.5,211.1 L165.9,211.7 L166.3,211.6 L166.7,211.9 L167.1,212.1 L167.5,212.6 M169.5,211.2 L169.9,211.9 L170.3,212.5 L170.7,212.2 L171.1,212.2 L171.5,212.0 L171.9,213.1 L172.3,212.2 L172.7,212.8 L173.1,212.8 M175.9,213.0 L176.3,213.3 L176.7,211.9 L177.1,212.4 L177.5,213.0 L177.9,213.5 L178.3,213.6 L178.7,213.6 L179.1,213.5 L179.5,213.8 L179.9,214.7 L180.3,214.3 M181.5,214.0 L181.9,213.4 L182.3,213.7 L182.7,213.1 L183.1,212.9 M185.9,211.9 L186.3,212.7 L186.7,212.0 L187.1,210.7 L187.5,211.8 L187.9,211.3 L188.3,210.9 L188.7,210.9 M190.7,211.4 L191.1,210.8 L191.5,211.4 L191.9,211.0 L192.3,211.5 M193.5,211.8 L193.9,212.7 L194.3,211.1 L194.7,211.8 L195.1,212.1 L195.5,211.3 L195.9,211.7 M197.5,211.8 L197.9,211.9 L198.3,211.0 L198.7,210.9 L199.1,211.0 L199.5,210.7 M202.3,210.7 L202.7,210.2 L203.1,209.3 L203.5,209.6" fill="none" stroke="#333" stroke-width="1.1" stroke-linejoin="round"/>
<path d="M39.5,263.4 L40.8,263.6 L42.1,263.3 L43.4,263.7 L44.7,263.2 L46.0,263.6 L47.3,263.1 L48.6,263.5 L49.9,264.1 L51.2,263.2 L52.5,263.9 L53.8,263.0 L55.1,263.3 L56.4,263.4 L57.7,264.2 L59.0,263.1 L60.3,264.2 L61.6,262.7 L62.9,263.5 L64.2,264.1 L65.5,263.9 L66.8,263.0 L68.1,262.9 L69.4,264.0 L70.7,262.8 L72.0,263.9 L73.3,263.3 L74.6,263.5 L75.9,264.8 L77.2,264.4 L78.5,264.0 L79.8,262.8 L81.1,263.7 L82.4,263.6 L83.7,263.5 L85.0,264.3 L86.3,262.6 L87.6,263.7 L88.9,263.6 L90.2,263.1 L91.5,264.4 L92.8,262.8 L94.1,263.5 L95.4,263.5 L96.7,262.2 L98.0,262.7 L99.3,262.9 L100.6,263.5 L101.9,262.7 L103.2,261.6 L104.5,260.5 L105.8,258.7 L107.1,259.9 L108.4,259.3 L109.7,260.1 L111.0,260.0 L112.3,260.4 L113.6,259.7 L114.9,260.3 L116.2,259.8 L117.5,260.9 L118.8,260.6 L120.1,262.1 L121.4,261.2 L122.7,262.0 L124.0,261.8 L125.3,262.2 L126.6,262.9 L127.9,262.5 L129.2,263.1 L130.5,262.3 L131.8,263.2 L133.1,261.6 L134.4,262.0 L135.7,262.7 L137.0,260.8 L138.3,262.1 L139.6,263.2 L140.9,264.1 L142.2,263.3 L143.5,263.8 L144.8,263.3 L146.1,264.1 L147.4,263.1 L148.7,264.3 L150.0,262.3 L151.3,262.9 L152.6,265.0 L153.9,264.0 L155.2,263.4 L156.5,262.9 L157.8,256.4 L159.1,256.1 L160.4,258.8 L161.7,259.4 L163.0,259.3 L164.3,258.1 L165.6,259.9 L166.9,260.5 L168.2,262.3 L169.5,263.4 L170.8,262.2 L172.1,261.4 L173.4,261.3 L174.7,261.5 L176.0,260.8 L177.3,260.8 L178.6,261.1 L179.9,260.9 L181.2,261.3 L182.5,260.8 L183.8,260.2 L185.1,259.8 L186.4,261.2 L187.7,260.6 L189.0,260.6 L190.3,260.7 L191.6,260.1 L192.9,260.9 L194.2,259.8 L195.5,261.1 L196.8,260.9 L198.1,262.6 L199.4,261.9 L200.7,261.6 L202.0,261.8 L203.3,262.1" fill="none" stroke="#111" stroke-width="0.95" stroke-linejoin="round"/>
<path d="M247.5,64.6 L247.9,64.7 L248.3,64.7 L248.7,65.7 L249.1,64.8 L249.5,64.0 L249.9,65.0 L250.3,65.6 L250.7,64.4 L251.1,65.9 L251.5,64.6 L251.9,65.0 L252.3,64.4 L252.7,64.5 L253.1,64.2 L253.5,64.2 L253.9,63.8 L254.3,65.0 L254.7,64.1 L255.1,64.7 L255.5,64.6 L255.9,64.3 L256.3,64.5 L256.7,64.4 L257.1,64.3 L257.5,64.5 L257.9,64.5 L258.3,64.1 L258.7,63.9 L259.1,64.1 L259.5,61.0 L259.9,62.0 L260.3,64.9 L260.7,64.5 L261.1,64.7 L261.5,64.4 L261.9,64.7 L262.3,64.3 L262.7,64.4 L263.1,64.2 L263.5,64.3 L263.9,64.9 L264.3,63.8 L264.7,64.2 L265.1,64.0 L265.5,64.5 L265.9,64.8 L266.3,64.1 L266.7,63.2 L267.1,64.4 L267.5,64.3 L267.9,63.5 L268.3,64.0 L268.7,64.0 L269.1,63.2 L269.5,64.3 L269.9,64.2 L270.3,64.1 L270.7,63.6 L271.1,63.7 L271.5,63.7 L271.9,64.1 L272.3,63.6 L272.7,64.4 L273.1,64.0 L273.5,63.1 L273.9,64.5 L274.3,63.9 L274.7,63.6 L275.1,63.9 L275.5,63.2 L275.9,63.9 L276.3,63.0 L276.7,63.5 L277.1,64.4 L277.5,64.4 L277.9,63.8 L278.3,63.6 L278.7,64.3 L279.1,64.0 L279.5,64.1 L279.9,64.3 L280.3,63.7 L280.7,64.4 L281.1,63.4 L281.5,64.7 L281.9,63.6 L282.3,64.0 L282.7,64.0 L283.1,64.5 L283.5,64.5 L283.9,64.4 L284.3,64.5 L284.7,64.5 L285.1,64.3 L285.5,63.6 L285.9,63.5 L286.3,63.5 L286.7,64.3 L287.1,64.2 L287.5,64.2 L287.9,64.4 L288.3,64.2 L288.7,63.9 L289.1,63.7 L289.5,63.6 L289.9,64.7 L290.3,64.6 L290.7,63.8 L291.1,62.8 L291.5,64.4 L291.9,64.8 L292.3,64.0 L292.7,64.3 L293.1,64.7 L293.5,63.6 L293.9,64.0 L294.3,64.2 L294.7,64.0 L295.1,65.0 L295.5,64.6 L295.9,64.3 L296.3,63.9 L296.7,64.6 L297.1,63.0 L297.5,64.0 L297.9,64.1 L298.3,63.7 L298.7,64.2 L299.1,64.5 L299.5,64.6 L299.9,64.4 L300.3,64.5 L300.7,64.0 L301.1,64.1 L301.5,64.7 L301.9,64.5 L302.3,64.0 L302.7,64.5 L303.1,64.6 L303.5,64.6 L303.9,64.4 L304.3,64.2 L304.7,64.5 L305.1,65.0 L305.5,64.5 L305.9,64.2 L306.3,64.6 L306.7,64.0 L307.1,64.6 L307.5,64.4 L307.9,61.5 L308.3,62.3 L308.7,64.9 L309.1,65.4 L309.5,64.5 L309.9,64.3 L310.3,64.8 L310.7,64.6 L311.1,64.7 L311.5,64.4 L311.9,64.9 L312.3,64.7 L312.7,63.9 L313.1,64.6 L313.5,64.9 L313.9,65.2 L314.3,64.6 L314.7,64.5 L315.1,65.2 L315.5,64.6 L315.9,64.8 L316.3,64.9 L316.7,65.0 L317.1,64.7 L317.5,64.3 L317.9,65.1 L318.3,64.5 L318.7,64.5 L319.1,65.4 L319.5,65.0 L319.9,64.3 L320.3,64.5 L320.7,64.5 L321.1,64.3 L321.5,63.9 L321.9,64.9 L322.3,64.8 L322.7,64.6 L323.1,64.4 L323.5,64.6 L323.9,64.7 L324.3,64.1 L324.7,64.4 L325.1,64.3 L325.5,64.7 L325.9,64.5 L326.3,64.0 L326.7,64.2 L327.1,65.0 L327.5,64.0 L327.9,64.4 L328.3,64.1 L328.7,64.8 L329.1,64.3 L329.5,64.2 L329.9,63.9 L330.3,64.2 L330.7,64.6 L331.1,64.6 L331.5,63.8 L331.9,64.9 L332.3,64.2 L332.7,64.0 L333.1,64.4 L333.5,64.1 L333.9,64.1 L334.3,64.1 L334.7,64.3 L335.1,64.2 L335.5,63.8 L335.9,64.6 L336.3,64.2 L336.7,64.8 L337.1,64.6 L337.5,64.6 L337.9,64.5 L338.3,64.9 L338.7,64.3 L339.1,64.1 L339.5,64.6 L339.9,63.5 L340.3,64.3 L340.7,64.5 L341.1,64.3 L341.5,64.9 L341.9,64.7 L342.3,64.5 L342.7,64.3 L343.1,64.9 L343.5,64.2 L343.9,64.3 L344.3,64.8 L344.7,62.0 L345.1,62.8 L345.5,64.4 L345.9,63.8 L346.3,64.7 L346.7,65.0 L347.1,64.4 L347.5,65.1 L347.9,65.1 L348.3,64.3 L348.7,64.3 L349.1,64.0 L349.5,64.7 L349.9,64.8 L350.3,64.7 L350.7,64.1 L351.1,64.2 L351.5,64.0 L351.9,63.9 L352.3,64.0 L352.7,63.9 L353.1,64.4 L353.5,64.7 L353.9,64.7 L354.3,64.5 L354.7,64.3 L355.1,64.5 L355.5,64.7 L355.9,64.4 L356.3,64.5 L356.7,64.4 L357.1,64.3 L357.5,64.5 L357.9,64.1 L358.3,64.9 L358.7,63.9 L359.1,64.7 L359.5,64.0 L359.9,65.0 L360.3,64.8 L360.7,64.3 L361.1,64.4 L361.5,64.2 L361.9,64.6 L362.3,64.8 L362.7,61.6 L363.1,62.5 L363.5,65.2 L363.9,64.6 L364.3,64.9 L364.7,65.2 L365.1,65.1 L365.5,65.1 L365.9,64.9 L366.3,65.0 L366.7,65.1 L367.1,65.5 L367.5,64.6 L367.9,65.0 L368.3,64.7 L368.7,64.8 L369.1,64.9 L369.5,65.7 L369.9,66.1 L370.3,65.8 L370.7,64.9 L371.1,65.4 L371.5,65.0 L371.9,65.6 L372.3,63.5 L372.7,65.8 L373.1,65.9 L373.5,65.6 L373.9,64.9 L374.3,65.0 L374.7,65.7 L375.1,66.0 L375.5,66.3 L375.9,65.7 L376.3,65.9 L376.7,66.0 L377.1,66.3 L377.5,65.9 L377.9,65.6 L378.3,66.4 L378.7,66.2 L379.1,66.3 L379.5,65.7 L379.9,66.2 L380.3,65.6 L380.7,65.5 L381.1,66.2 L381.5,66.1 L381.9,66.5 L382.3,66.9 L382.7,66.3 L383.1,67.0 L383.5,66.2 L383.9,66.7 L384.3,66.0 L384.7,66.5 L385.1,66.4 L385.5,66.5 L385.9,66.8 L386.3,65.9 L386.7,66.6 L387.1,66.3 L387.5,66.7 L387.9,66.8 L388.3,66.6 L388.7,66.6 L389.1,66.3 L389.5,67.0 L389.9,66.6 L390.3,67.0 L390.7,66.3 L391.1,67.3 L391.5,66.5 L391.9,67.3 L392.3,66.7 L392.7,67.1 L393.1,66.8 L393.5,67.1 L393.9,66.9 L394.3,67.4 L394.7,67.2 L395.1,67.2 L395.5,67.6 L395.9,66.7 L396.3,67.5 L396.7,67.0 L397.1,66.5 L397.5,67.2 L397.9,67.0 L398.3,67.7 L398.7,66.9 L399.1,67.1 L399.5,67.2 L399.9,66.4 L400.3,67.3 L400.7,66.7 L401.1,67.6 L401.5,67.7 L401.9,67.1 L402.3,66.6 L402.7,67.2 L403.1,67.2 L403.5,67.4 L403.9,67.0 L404.3,66.7 L404.7,67.1 L405.1,66.8 L405.5,67.8 L405.9,66.9 L406.3,66.9 L406.7,67.1 L407.1,66.7 L407.5,67.0 L407.9,67.1 L408.3,67.0 L408.7,67.1 L409.1,67.6 L409.5,67.3 L409.9,66.7 L410.3,67.0 L410.7,67.5" fill="none" stroke="#000" stroke-width="1.3" stroke-linejoin="round"/>
<path d="M247.5,46.0 L247.8,45.8 L248.1,45.7 L248.4,45.6 L248.7,45.6 L249.0,45.5 L249.3,45.6 L249.6,45.2 L249.9,45.4 L250.2,45.0 L250.5,45.5 L250.8,45.6 L251.1,45.6 L251.4,45.9 L251.7,46.0 L252.0,46.2 L252.3,46.5 L252.6,46.7 L252.9,46.8 L253.2,46.7 L253.5,47.3 L253.8,47.6 L254.1,47.9 L254.4,48.0 L254.7,48.0 L255.0,48.9 L255.3,48.9 L255.6,49.3 L255.9,49.7 L256.2,49.7 L256.5,50.0 L256.8,49.7 L257.1,49.9 L257.4,50.2 L257.7,49.8 L258.0,50.0 L258.3,50.0 L258.6,50.6 L258.9,50.4 L259.2,50.4 L259.5,50.2 L259.8,50.0 L260.1,50.5 L260.4,50.1 L260.7,50.0 L261.0,49.8 L261.3,49.9 L261.6,50.0 L261.9,49.8 L262.2,49.9 L262.5,50.0 L262.8,49.9 L263.1,50.0 L263.4,50.0 L263.7,50.4 L264.0,49.8 L264.3,50.0 L264.6,50.2 L264.9,50.6 L265.2,50.9 L265.5,50.8 L265.8,50.9 L266.1,50.6 L266.4,50.9 L266.7,51.4 L267.0,51.3 L267.3,51.4 L267.6,51.8 L267.9,51.7 L268.2,52.0 L268.5,52.4 L268.8,52.6 L269.1,52.6 L269.4,52.5 L269.7,53.1 L270.0,53.3 L270.3,53.1 L270.6,53.8 L270.9,53.1 L271.2,53.6 L271.5,53.5 L271.8,53.4 L272.1,54.1 L272.4,54.2 L272.7,53.7 L273.0,54.3 L273.3,53.9 L273.6,53.6 L273.9,53.1 L274.2,52.8 L274.5,52.7 L274.8,52.5 L275.1,52.1 L275.4,51.7 L275.7,51.3 L276.0,51.2 L276.3,50.8 L276.6,51.1 L276.9,50.8 L277.2,50.4 L277.5,50.4 L277.8,50.5 L278.1,50.6 L278.4,50.4 L278.7,50.2 L279.0,50.0 L279.3,50.0 L279.6,50.1 L279.9,49.9 L280.2,49.6 L280.5,49.6 L280.8,50.0 L281.1,49.8 L281.4,50.0 L281.7,49.8 L282.0,49.1 L282.3,49.7 L282.6,49.8 L282.9,49.8 L283.2,49.9 L283.5,50.0 L283.8,49.7 L284.1,49.7 L284.4,49.4 L284.7,48.0 L285.0,44.7 L285.3,41.6 L285.6,40.0 L285.9,38.6 L286.2,38.1 L286.5,36.8 L286.8,35.7 L287.1,35.4 L287.4,35.3 L287.7,35.5 L288.0,35.3 L288.3,35.2 L288.6,35.4 L288.9,35.4 L289.2,35.3 L289.5,35.3 L289.8,35.7 L290.1,35.4 L290.4,35.7 L290.7,35.7 L291.0,35.7 L291.3,36.0 L291.6,36.0 L291.9,36.5 L292.2,36.6 L292.5,36.8 L292.8,36.8 L293.1,36.9 L293.4,37.0 L293.7,37.3 L294.0,37.1 L294.3,37.3 L294.6,37.2 L294.9,37.4 L295.2,37.2 L295.5,37.4 L295.8,37.9 L296.1,37.6 L296.4,37.8 L296.7,37.3 L297.0,37.2 L297.3,37.4 L297.6,37.2 L297.9,37.5 L298.2,37.6 L298.5,37.3 L298.8,37.2 L299.1,37.3 L299.4,37.0 L299.7,36.9 L300.0,36.8 L300.3,36.7 L300.6,37.0 L300.9,37.3 L301.2,37.3 L301.5,37.3 L301.8,37.7 L302.1,37.4 L302.4,37.6 L302.7,37.9 L303.0,38.0 L303.3,37.6 L303.6,38.2 L303.9,38.4 L304.2,38.5 L304.5,38.8 L304.8,39.1 L305.1,39.6 L305.4,40.8 L305.7,41.6 L306.0,42.9 L306.3,43.6 L306.6,44.6 L306.9,45.9 L307.2,46.1 L307.5,47.1 L307.8,47.3 L308.1,48.1 L308.4,48.5 L308.7,49.2 L309.0,49.2 L309.3,48.9 L309.6,48.1 L309.9,47.8 L310.2,47.2 L310.5,46.7 L310.8,46.2 L311.1,45.6 L311.4,45.5 L311.7,45.4 L312.0,45.6 L312.3,45.2 L312.6,44.8 L312.9,44.9 L313.2,44.6 L313.5,44.5 L313.8,44.6 L314.1,44.4 L314.4,44.1 L314.7,43.8 L315.0,43.6 L315.3,43.1 L315.6,43.3 L315.9,43.3 L316.2,42.5 L316.5,42.5 L316.8,42.2 L317.1,41.5 L317.4,41.5 L317.7,41.6 L318.0,41.3 L318.3,41.3 L318.6,41.0 L318.9,41.2 L319.2,41.0 L319.5,40.8 L319.8,40.2 L320.1,40.0 L320.4,40.1 L320.7,39.4 L321.0,39.4 L321.3,38.8 L321.6,38.8 L321.9,38.2 L322.2,37.9 L322.5,37.4 L322.8,36.8 L323.1,36.3 L323.4,35.9 L323.7,35.5 L324.0,34.4 L324.3,34.3 L324.6,34.1 L324.9,33.6 L325.2,33.6 L325.5,33.2 L325.8,32.9 L326.1,33.6 L326.4,33.4 L326.7,33.8 L327.0,33.2 L327.3,33.5 L327.6,33.6 L327.9,33.4 L328.2,33.4 L328.5,33.6 L328.8,34.1 L329.1,34.3 L329.4,34.3 L329.7,34.5 L330.0,33.8 L330.3,34.3 L330.6,34.3 L330.9,34.4 L331.2,34.0 L331.5,34.6 L331.8,34.2 L332.1,34.4 L332.4,34.5 L332.7,34.9 L333.0,34.3 L333.3,34.6 L333.6,34.6 L333.9,34.4 L334.2,34.4 L334.5,34.2 L334.8,34.6 L335.1,34.5 L335.4,34.7 L335.7,35.0 L336.0,35.1 L336.3,35.5 L336.6,35.4 L336.9,36.1 L337.2,36.4 L337.5,36.4 L337.8,36.3 L338.1,37.0 L338.4,37.3 L338.7,37.5 L339.0,37.7 L339.3,38.1 L339.6,38.3 L339.9,39.0 L340.2,38.6 L340.5,39.1 L340.8,39.7 L341.1,39.6 L341.4,40.1 L341.7,40.1 L342.0,41.0 L342.3,40.7 L342.6,41.3 L342.9,42.1 L343.2,41.8 L343.5,42.3 L343.8,42.8 L344.1,42.8 L344.4,43.1 L344.7,42.5 L345.0,42.6 L345.3,42.5 L345.6,42.1 L345.9,42.3 L346.2,42.4 L346.5,42.4 L346.8,42.1 L347.1,41.8 L347.4,42.0 L347.7,41.9 L348.0,41.3 L348.3,41.3 L348.6,41.2 L348.9,40.6 L349.2,41.1 L349.5,40.7 L349.8,40.9 L350.1,40.5 L350.4,40.2 L350.7,40.0 L351.0,40.5 L351.3,40.0 L351.6,39.9 L351.9,40.0 L352.2,39.4 L352.5,39.9 L352.8,40.0 L353.1,39.7 L353.4,40.3 L353.7,39.6 L354.0,39.8 L354.3,40.2 L354.6,40.1 L354.9,40.2 L355.2,40.0 L355.5,40.6 L355.8,40.9 L356.1,41.2 L356.4,41.0 L356.7,41.5 L357.0,41.4 L357.3,41.5 L357.6,41.9 L357.9,42.2 L358.2,41.9 L358.5,42.4 L358.8,42.6 L359.1,42.5 L359.4,43.0 L359.7,43.0 L360.0,42.2 L360.3,42.8 L360.6,43.0 L360.9,42.8 L361.2,42.9 L361.5,42.9 L361.8,42.7 L362.1,42.6 L362.4,42.5 L362.7,42.4 L363.0,42.8 L363.3,42.7 L363.6,42.2 L363.9,42.4 L364.2,42.0 L364.5,42.1 L364.8,42.4 L365.1,42.0 L365.4,42.2 L365.7,41.9 L366.0,41.7 L366.3,41.5 L366.6,41.8 L366.9,41.6 L367.2,41.6 L367.5,41.5 L367.8,41.9 L368.1,41.5 L368.4,41.2 L368.7,41.1 L369.0,41.1 L369.3,40.7 L369.6,40.6 L369.9,40.6 L370.2,40.5 L370.5,40.3 L370.8,40.1 L371.1,39.9 L371.4,39.8 L371.7,40.1 L372.0,40.2 L372.3,40.1 L372.6,39.9 L372.9,40.0 L373.2,40.0 L373.5,40.0 L373.8,40.0 L374.1,40.0 L374.4,40.2 L374.7,40.1 L375.0,40.0 L375.3,40.0 L375.6,40.2 L375.9,40.2 L376.2,40.0 L376.5,40.3 L376.8,40.2 L377.1,40.4 L377.4,40.5 L377.7,40.6 L378.0,40.5 L378.3,40.6 L378.6,40.4 L378.9,40.7 L379.2,40.7 L379.5,40.5 L379.8,40.7 L380.1,40.6 L380.4,40.6 L380.7,41.0 L381.0,40.8 L381.3,40.9 L381.6,40.6 L381.9,40.8 L382.2,40.7 L382.5,40.6 L382.8,40.9 L383.1,40.9 L383.4,40.8 L383.7,41.0 L384.0,40.7 L384.3,40.8 L384.6,40.8 L384.9,41.0 L385.2,41.1 L385.5,41.1 L385.8,41.1 L386.1,41.3 L386.4,41.0 L386.7,41.0 L387.0,41.1 L387.3,41.2 L387.6,41.2 L387.9,41.2 L388.2,41.2 L388.5,41.0 L388.8,41.4 L389.1,41.2 L389.4,41.2 L389.7,41.3 L390.0,41.4 L390.3,41.6 L390.6,41.6 L390.9,41.4 L391.2,41.3 L391.5,41.7 L391.8,41.6 L392.1,41.7 L392.4,41.6 L392.7,41.8 L393.0,41.8 L393.3,41.8 L393.6,42.2 L393.9,42.0 L394.2,42.4 L394.5,42.5 L394.8,42.3 L395.1,42.5 L395.4,42.2 L395.7,42.1 L396.0,42.4 L396.3,42.4 L396.6,42.4 L396.9,42.4 L397.2,42.4 L397.5,42.4 L397.8,42.5 L398.1,42.6 L398.4,42.6 L398.7,42.4 L399.0,42.6 L399.3,42.3 L399.6,42.6 L399.9,42.4 L400.2,42.8 L400.5,42.8 L400.8,42.6 L401.1,42.6 L401.4,42.7 L401.7,42.4 L402.0,42.7 L402.3,42.7 L402.6,42.9 L402.9,42.5 L403.2,42.7 L403.5,42.8 L403.8,43.1 L404.1,42.8 L404.4,43.0 L404.7,42.8 L405.0,42.8 L405.3,43.1 L405.6,43.0 L405.9,43.0 L406.2,43.2 L406.5,43.3 L406.8,43.5 L407.1,43.5 L407.4,43.7 L407.7,43.4 L408.0,43.6 L408.3,43.9 L408.6,43.8 L408.9,44.1 L409.2,44.5 L409.5,43.8 L409.8,43.9 L410.1,44.4 L410.4,44.4 L410.7,44.3 L411.0,44.5 L411.0,45.6 L410.7,46.0 L410.4,45.4 L410.1,45.6 L409.8,45.5 L409.5,45.3 L409.2,45.4 L408.9,45.2 L408.6,45.1 L408.3,44.7 L408.0,44.9 L407.7,45.2 L407.4,45.0 L407.1,45.0 L406.8,44.4 L406.5,44.7 L406.2,44.4 L405.9,44.4 L405.6,44.3 L405.3,44.2 L405.0,44.2 L404.7,44.4 L404.4,44.0 L404.1,44.4 L403.8,44.0 L403.5,44.1 L403.2,44.2 L402.9,44.0 L402.6,44.2 L402.3,44.1 L402.0,43.8 L401.7,44.2 L401.4,44.1 L401.1,44.1 L400.8,43.9 L400.5,43.8 L400.2,43.9 L399.9,44.0 L399.6,43.9 L399.3,44.0 L399.0,43.9 L398.7,43.9 L398.4,44.0 L398.1,43.7 L397.8,43.6 L397.5,43.6 L397.2,43.8 L396.9,43.7 L396.6,43.5 L396.3,43.6 L396.0,43.8 L395.7,43.5 L395.4,43.8 L395.1,43.5 L394.8,43.4 L394.5,43.3 L394.2,43.8 L393.9,43.3 L393.6,43.3 L393.3,43.5 L393.0,43.2 L392.7,43.4 L392.4,43.4 L392.1,43.2 L391.8,42.9 L391.5,42.8 L391.2,42.6 L390.9,42.5 L390.6,42.6 L390.3,42.6 L390.0,42.6 L389.7,42.5 L389.4,42.5 L389.1,42.7 L388.8,42.5 L388.5,42.5 L388.2,42.3 L387.9,42.4 L387.6,42.6 L387.3,42.6 L387.0,42.1 L386.7,42.5 L386.4,42.1 L386.1,42.1 L385.8,42.2 L385.5,42.2 L385.2,42.2 L384.9,42.5 L384.6,42.3 L384.3,42.2 L384.0,42.1 L383.7,42.1 L383.4,42.2 L383.1,42.1 L382.8,42.4 L382.5,42.0 L382.2,41.8 L381.9,42.0 L381.6,42.1 L381.3,41.9 L381.0,42.1 L380.7,41.8 L380.4,42.2 L380.1,41.8 L379.8,41.7 L379.5,41.8 L379.2,42.0 L378.9,41.8 L378.6,41.6 L378.3,41.6 L378.0,41.6 L377.7,41.5 L377.4,41.5 L377.1,41.6 L376.8,41.2 L376.5,41.3 L376.2,41.3 L375.9,41.4 L375.6,41.2 L375.3,41.4 L375.0,41.2 L374.7,41.2 L374.4,41.0 L374.1,41.1 L373.8,40.9 L373.5,41.1 L373.2,41.2 L372.9,41.1 L372.6,41.3 L372.3,41.4 L372.0,41.0 L371.7,41.1 L371.4,41.3 L371.1,41.3 L370.8,41.3 L370.5,41.6 L370.2,41.7 L369.9,41.9 L369.6,41.9 L369.3,42.0 L369.0,42.3 L368.7,42.5 L368.4,42.8 L368.1,42.8 L367.8,43.0 L367.5,42.9 L367.2,42.8 L366.9,43.0 L366.6,43.3 L366.3,43.0 L366.0,43.2 L365.7,43.3 L365.4,43.8 L365.1,43.8 L364.8,43.5 L364.5,43.5 L364.2,44.1 L363.9,43.7 L363.6,43.9 L363.3,43.9 L363.0,43.9 L362.7,44.0 L362.4,44.0 L362.1,44.0 L361.8,44.4 L361.5,44.4 L361.2,44.1 L360.9,44.5 L360.6,44.6 L360.3,44.3 L360.0,44.3 L359.7,44.5 L359.4,44.2 L359.1,44.5 L358.8,44.2 L358.5,44.4 L358.2,43.8 L357.9,43.8 L357.6,43.6 L357.3,42.6 L357.0,42.8 L356.7,43.0 L356.4,42.9 L356.1,42.5 L355.8,42.0 L355.5,42.4 L355.2,42.0 L354.9,41.9 L354.6,41.8 L354.3,41.6 L354.0,41.5 L353.7,41.6 L353.4,41.5 L353.1,41.2 L352.8,42.1 L352.5,41.5 L352.2,41.6 L351.9,41.8 L351.6,41.8 L351.3,42.2 L351.0,41.6 L350.7,41.7 L350.4,42.0 L350.1,42.3 L349.8,42.4 L349.5,42.6 L349.2,42.6 L348.9,43.0 L348.6,42.9 L348.3,43.2 L348.0,43.3 L347.7,43.5 L347.4,43.4 L347.1,43.6 L346.8,43.7 L346.5,43.6 L346.2,43.9 L345.9,43.9 L345.6,44.3 L345.3,44.3 L345.0,44.4 L344.7,44.2 L344.4,44.2 L344.1,44.4 L343.8,44.4 L343.5,43.7 L343.2,43.8 L342.9,43.3 L342.6,43.0 L342.3,42.3 L342.0,41.9 L341.7,42.1 L341.4,41.9 L341.1,41.2 L340.8,40.9 L340.5,40.9 L340.2,40.7 L339.9,40.2 L339.6,40.1 L339.3,39.8 L339.0,40.0 L338.7,39.0 L338.4,39.0 L338.1,38.6 L337.8,38.2 L337.5,38.2 L337.2,37.7 L336.9,37.8 L336.6,37.3 L336.3,36.8 L336.0,37.0 L335.7,37.0 L335.4,36.6 L335.1,36.3 L334.8,35.6 L334.5,36.1 L334.2,36.3 L333.9,36.2 L333.6,35.7 L333.3,36.3 L333.0,36.0 L332.7,36.5 L332.4,35.9 L332.1,36.0 L331.8,35.7 L331.5,36.4 L331.2,36.0 L330.9,36.4 L330.6,36.1 L330.3,35.8 L330.0,35.8 L329.7,35.7 L329.4,35.8 L329.1,35.6 L328.8,35.7 L328.5,35.7 L328.2,35.2 L327.9,35.6 L327.6,35.2 L327.3,34.9 L327.0,35.0 L326.7,35.1 L326.4,34.9 L326.1,34.8 L325.8,34.6 L325.5,34.6 L325.2,34.6 L324.9,34.4 L324.6,35.4 L324.3,36.2 L324.0,36.3 L323.7,36.9 L323.4,37.6 L323.1,37.9 L322.8,38.6 L322.5,38.9 L322.2,39.9 L321.9,40.1 L321.6,40.8 L321.3,40.5 L321.0,40.9 L320.7,41.7 L320.4,41.8 L320.1,42.0 L319.8,42.3 L319.5,42.6 L319.2,42.3 L318.9,42.8 L318.6,42.7 L318.3,43.2 L318.0,43.6 L317.7,43.3 L317.4,43.4 L317.1,43.7 L316.8,43.5 L316.5,43.9 L316.2,44.2 L315.9,44.5 L315.6,44.7 L315.3,45.0 L315.0,45.5 L314.7,45.7 L314.4,45.5 L314.1,45.5 L313.8,46.1 L313.5,46.3 L313.2,46.4 L312.9,46.6 L312.6,47.0 L312.3,47.1 L312.0,46.7 L311.7,46.6 L311.4,47.1 L311.1,47.2 L310.8,47.9 L310.5,48.5 L310.2,48.9 L309.9,49.5 L309.6,49.7 L309.3,50.4 L309.0,51.1 L308.7,50.3 L308.4,50.0 L308.1,49.3 L307.8,48.9 L307.5,48.0 L307.2,47.7 L306.9,46.8 L306.6,45.8 L306.3,44.8 L306.0,43.6 L305.7,42.5 L305.4,41.6 L305.1,40.7 L304.8,40.3 L304.5,40.0 L304.2,39.9 L303.9,39.9 L303.6,39.3 L303.3,39.4 L303.0,39.3 L302.7,38.8 L302.4,38.8 L302.1,38.5 L301.8,38.6 L301.5,38.5 L301.2,38.9 L300.9,38.4 L300.6,38.3 L300.3,38.5 L300.0,38.2 L299.7,38.1 L299.4,38.5 L299.1,38.5 L298.8,38.2 L298.5,38.8 L298.2,38.7 L297.9,38.6 L297.6,38.6 L297.3,38.9 L297.0,38.8 L296.7,39.0 L296.4,38.7 L296.1,39.0 L295.8,38.8 L295.5,38.8 L295.2,38.9 L294.9,38.7 L294.6,38.8 L294.3,38.4 L294.0,38.9 L293.7,38.4 L293.4,38.5 L293.1,38.6 L292.8,38.1 L292.5,37.8 L292.2,38.1 L291.9,37.7 L291.6,37.5 L291.3,37.2 L291.0,37.5 L290.7,37.3 L290.4,37.2 L290.1,37.2 L289.8,36.6 L289.5,36.9 L289.2,37.1 L288.9,36.9 L288.6,36.9 L288.3,36.8 L288.0,36.7 L287.7,36.7 L287.4,36.9 L287.1,37.1 L286.8,37.3 L286.5,38.2 L286.2,39.2 L285.9,40.0 L285.6,41.1 L285.3,43.3 L285.0,46.0 L284.7,49.2 L284.4,50.9 L284.1,51.1 L283.8,51.3 L283.5,51.5 L283.2,51.1 L282.9,51.1 L282.6,50.7 L282.3,51.1 L282.0,51.2 L281.7,51.1 L281.4,50.9 L281.1,50.9 L280.8,51.4 L280.5,51.0 L280.2,51.2 L279.9,51.3 L279.6,51.1 L279.3,51.6 L279.0,51.5 L278.7,51.6 L278.4,51.8 L278.1,51.6 L277.8,51.7 L277.5,51.7 L277.2,52.1 L276.9,52.2 L276.6,52.4 L276.3,52.4 L276.0,52.6 L275.7,53.1 L275.4,53.2 L275.1,53.5 L274.8,53.7 L274.5,54.0 L274.2,54.4 L273.9,54.9 L273.6,55.1 L273.3,55.3 L273.0,55.3 L272.7,55.5 L272.4,55.4 L272.1,55.4 L271.8,55.4 L271.5,55.2 L271.2,54.8 L270.9,55.0 L270.6,54.7 L270.3,54.6 L270.0,54.6 L269.7,54.2 L269.4,54.1 L269.1,54.3 L268.8,53.7 L268.5,53.6 L268.2,53.6 L267.9,53.3 L267.6,53.1 L267.3,53.0 L267.0,52.7 L266.7,53.0 L266.4,52.7 L266.1,52.2 L265.8,52.1 L265.5,52.1 L265.2,52.2 L264.9,51.8 L264.6,51.5 L264.3,51.9 L264.0,51.7 L263.7,51.2 L263.4,51.5 L263.1,51.3 L262.8,51.3 L262.5,51.3 L262.2,50.9 L261.9,51.3 L261.6,51.2 L261.3,51.4 L261.0,51.6 L260.7,51.7 L260.4,51.5 L260.1,51.7 L259.8,51.5 L259.5,51.6 L259.2,52.0 L258.9,51.4 L258.6,51.7 L258.3,51.7 L258.0,51.7 L257.7,51.4 L257.4,51.7 L257.1,51.2 L256.8,51.5 L256.5,51.3 L256.2,51.2 L255.9,51.1 L255.6,50.7 L255.3,50.4 L255.0,50.1 L254.7,49.8 L254.4,49.4 L254.1,49.1 L253.8,49.1 L253.5,48.5 L253.2,48.2 L252.9,48.1 L252.6,47.9 L252.3,47.6 L252.0,47.8 L251.7,47.5 L251.4,47.4 L251.1,47.2 L250.8,47.0 L250.5,46.6 L250.2,47.0 L249.9,46.3 L249.6,46.7 L249.3,46.7 L249.0,46.8 L248.7,47.0 L248.4,47.0 L248.1,47.1 L247.8,47.1 L247.5,47.2Z" fill="#1436e2" stroke="none"/>
<path d="M247.5,46.9 L247.8,47.6 L248.1,45.7 L248.4,46.4 L248.7,47.9 L249.0,45.9 L249.3,47.2 L249.6,46.3 L249.9,46.2 L250.2,46.7 L250.5,45.9 L250.8,46.1 L251.1,47.4 L251.4,46.9 L251.7,47.3 L252.0,45.7 L252.3,47.1 L252.6,48.4 L252.9,48.3 L253.2,48.0 L253.5,47.4 L253.8,47.6 L254.1,49.0 L254.4,50.2 L254.7,49.2 L255.0,50.7 L255.3,49.4 L255.6,51.2 L255.9,49.3 L256.2,50.6 L256.5,49.5 L256.8,51.3 L257.1,51.2 L257.4,49.8 L257.7,50.1 L258.0,50.4 L258.3,49.5 L258.6,50.1 L258.9,50.2 L259.2,51.8 L259.5,52.4 L259.8,50.5 L260.1,50.6 L260.4,51.0 L260.7,50.2 L261.0,50.4 L261.3,51.4 L261.6,50.7 L261.9,50.4 L262.2,49.9 L262.5,52.0 L262.8,50.0 L263.1,50.8 L263.4,49.7 L263.7,50.2 L264.0,51.0 L264.3,50.6 L264.6,51.6 L264.9,51.2 L265.2,49.8 L265.5,49.1 L265.8,52.5 L266.1,51.1 L266.4,53.3 L266.7,52.0 L267.0,51.4 L267.3,52.9 L267.6,52.2 L267.9,52.7 L268.2,51.9 L268.5,53.6 L268.8,54.2 L269.1,52.7 L269.4,55.2 L269.7,53.0 L270.0,54.0 L270.3,52.2 L270.6,52.1 L270.9,56.3 L271.2,55.7 L271.5,55.5 L271.8,52.8 L272.1,54.8 L272.4,55.1 L272.7,54.9 L273.0,55.2 L273.3,53.7 L273.6,54.2 L273.9,52.9 L274.2,53.4 L274.5,53.8 L274.8,52.3 L275.1,52.5 L275.4,52.1 L275.7,52.2 L276.0,52.8 L276.3,52.0 L276.6,52.1 L276.9,50.1 L277.2,51.1 L277.5,52.2 L277.8,50.4 L278.1,50.7 L278.4,50.0 L278.7,52.2 L279.0,50.3 L279.3,49.9 L279.6,51.2 L279.9,51.5 L280.2,50.9 L280.5,51.4 L280.8,50.6 L281.1,50.3 L281.4,50.0 L281.7,49.9 L282.0,49.8 L282.3,50.8 L282.6,50.3 L282.9,50.5 L283.2,51.0 L283.5,50.4 L283.8,49.0 L284.1,49.6 L284.4,49.3 L284.7,46.5 L285.0,45.6 L285.3,41.4 L285.6,39.0 L285.9,38.3 L286.2,39.4 L286.5,37.3 L286.8,37.7 L287.1,36.0 L287.4,35.7 L287.7,36.7 L288.0,36.7 L288.3,36.2 L288.6,35.1 L288.9,35.6 L289.2,34.9 L289.5,35.8 L289.8,36.2 L290.1,37.6 L290.4,37.7 L290.7,37.1 L291.0,37.6 L291.3,37.0 L291.6,39.7 L291.9,38.6 L292.2,39.8 L292.5,37.7 L292.8,37.9 L293.1,38.7 L293.4,37.9 L293.7,38.1 L294.0,36.8 L294.3,38.8 L294.6,38.1 L294.9,38.9 L295.2,37.9 L295.5,36.4 L295.8,38.8 L296.1,39.4 L296.4,37.0 L296.7,37.2 L297.0,37.8 L297.3,37.8 L297.6,36.3 L297.9,39.7 L298.2,38.9 L298.5,37.2 L298.8,36.0 L299.1,38.1 L299.4,39.7 L299.7,38.5 L300.0,38.8 L300.3,36.8 L300.6,38.0 L300.9,36.5 L301.2,39.8 L301.5,38.6 L301.8,36.3 L302.1,36.6 L302.4,38.7 L302.7,38.5 L303.0,38.2 L303.3,39.2 L303.6,40.5 L303.9,39.4 L304.2,37.9 L304.5,39.4 L304.8,38.7 L305.1,39.6 L305.4,41.4 L305.7,42.0 L306.0,42.4 L306.3,44.2 L306.6,44.6 L306.9,46.7 L307.2,46.8 L307.5,47.9 L307.8,47.9 L308.1,49.4 L308.4,49.1 L308.7,49.8 L309.0,49.8 L309.3,50.0 L309.6,47.3 L309.9,51.6 L310.2,47.3 L310.5,47.7 L310.8,46.4 L311.1,46.0 L311.4,46.9 L311.7,45.6 L312.0,45.6 L312.3,44.3 L312.6,44.7 L312.9,44.2 L313.2,47.6 L313.5,43.7 L313.8,43.9 L314.1,45.2 L314.4,46.5 L314.7,42.5 L315.0,42.5 L315.3,44.3 L315.6,44.3 L315.9,42.0 L316.2,41.3 L316.5,42.1 L316.8,43.9 L317.1,42.8 L317.4,43.6 L317.7,42.4 L318.0,42.3 L318.3,42.9 L318.6,41.9 L318.9,42.1 L319.2,40.6 L319.5,40.8 L319.8,41.9 L320.1,40.9 L320.4,39.9 L320.7,41.3 L321.0,40.8 L321.3,39.8 L321.6,38.6 L321.9,40.3 L322.2,41.7 L322.5,37.2 L322.8,35.8 L323.1,36.2 L323.4,35.5 L323.7,51.9 L324.0,34.1 L324.3,36.0 L324.6,35.5 L324.9,35.7 L325.2,34.7 L325.5,33.3 L325.8,35.3 L326.1,33.3 L326.4,33.7 L326.7,32.8 L327.0,35.8 L327.3,35.6 L327.6,33.9 L327.9,34.2 L328.2,34.7 L328.5,34.9 L328.8,35.8 L329.1,34.9 L329.4,35.4 L329.7,33.2 L330.0,34.7 L330.3,33.0 L330.6,37.3 L330.9,36.9 L331.2,36.1 L331.5,36.6 L331.8,37.7 L332.1,36.4 L332.4,33.4 L332.7,35.0 L333.0,32.4 L333.3,34.3 L333.6,33.8 L333.9,35.3 L334.2,35.7 L334.5,34.1 L334.8,34.9 L335.1,35.7 L335.4,35.4 L335.7,35.6 L336.0,33.1 L336.3,35.7 L336.6,37.4 L336.9,37.0 L337.2,35.2 L337.5,36.8 L337.8,37.7 L338.1,36.5 L338.4,38.8 L338.7,37.3 L339.0,38.2 L339.3,38.7 L339.6,41.8 L339.9,39.1 L340.2,39.1 L340.5,40.9 L340.8,39.8 L341.1,40.9 L341.4,38.3 L341.7,41.6 L342.0,41.5 L342.3,40.3 L342.6,43.8 L342.9,42.2 L343.2,42.5 L343.5,41.5 L343.8,41.4 L344.1,42.9 L344.4,41.6 L344.7,44.0 L345.0,44.4 L345.3,42.5 L345.6,41.3 L345.9,42.6 L346.2,41.8 L346.5,43.2 L346.8,43.1 L347.1,42.3 L347.4,42.7 L347.7,43.7 L348.0,44.4 L348.3,41.5 L348.6,42.9 L348.9,41.6 L349.2,40.4 L349.5,43.1 L349.8,41.8 L350.1,41.4 L350.4,41.6 L350.7,40.9 L351.0,39.8 L351.3,43.1 L351.6,42.0 L351.9,41.1 L352.2,41.9 L352.5,42.2 L352.8,40.4 L353.1,41.3 L353.4,40.3 L353.7,41.5 L354.0,40.5 L354.3,43.9 L354.6,40.6 L354.9,41.7 L355.2,41.8 L355.5,40.9 L355.8,42.5 L356.1,41.4 L356.4,41.2 L356.7,41.9 L357.0,41.2 L357.3,43.8 L357.6,43.3 L357.9,44.0 L358.2,41.4 L358.5,43.5 L358.8,42.5 L359.1,43.7 L359.4,45.1 L359.7,43.9 L360.0,43.3 L360.3,44.9 L360.6,44.7 L360.9,45.7 L361.2,41.4 L361.5,43.8 L361.8,42.9 L362.1,42.4 L362.4,43.4 L362.7,41.9 L363.0,40.7 L363.3,42.1 L363.6,42.8 L363.9,44.9 L364.2,42.2 L364.5,41.7 L364.8,40.8 L365.1,42.4 L365.4,42.4 L365.7,42.7 L366.0,41.1 L366.3,41.7 L366.6,40.3 L366.9,42.5 L367.2,40.8 L367.5,39.7 L367.8,43.1 L368.1,42.5 L368.4,42.2 L368.7,42.0 L369.0,40.7 L369.3,42.3 L369.6,40.4 L369.9,42.7 L370.2,41.1 L370.5,39.3 L370.8,41.4 L371.1,42.2 L371.4,40.4 L371.7,41.4 L372.0,40.4 L372.3,40.1 L372.6,38.5 L372.9,41.6 L373.2,40.2 L373.5,40.9 L373.8,39.6 L374.1,39.8 L374.4,41.5 L374.7,40.2 L375.0,40.2 L375.3,39.6 L375.6,40.8 L375.9,41.3 L376.2,40.4 L376.5,40.6 L376.8,39.8 L377.1,42.0 L377.4,40.4 L377.7,40.8 L378.0,42.4 L378.3,40.8 L378.6,39.8 L378.9,40.3 L379.2,40.9 L379.5,42.7 L379.8,41.4 L380.1,41.1 L380.4,42.0 L380.7,42.4 L381.0,40.7 L381.3,42.6 L381.6,42.1 L381.9,41.8 L382.2,39.4 L382.5,41.6 L382.8,42.6 L383.1,41.2 L383.4,43.5 L383.7,41.6 L384.0,40.6 L384.3,42.1 L384.6,41.8 L384.9,42.3 L385.2,41.4 L385.5,42.8 L385.8,41.1 L386.1,41.8 L386.4,40.6 L386.7,41.0 L387.0,41.9 L387.3,41.2 L387.6,41.4 L387.9,41.6 L388.2,42.1 L388.5,42.5 L388.8,42.6 L389.1,42.8 L389.4,42.1 L389.7,41.5 L390.0,40.5 L390.3,41.7 L390.6,41.4 L390.9,40.5 L391.2,43.7 L391.5,40.6 L391.8,42.6 L392.1,42.9 L392.4,42.2 L392.7,44.8 L393.0,42.5 L393.3,41.9 L393.6,44.3 L393.9,41.9 L394.2,41.4 L394.5,41.9 L394.8,42.2 L395.1,42.9 L395.4,43.2 L395.7,41.5 L396.0,43.3 L396.3,45.1 L396.6,42.3 L396.9,42.9 L397.2,43.7 L397.5,44.2 L397.8,42.5 L398.1,42.2 L398.4,42.2 L398.7,44.2 L399.0,44.1 L399.3,41.2 L399.6,41.2 L399.9,42.1 L400.2,41.8 L400.5,43.7 L400.8,43.5 L401.1,45.2 L401.4,44.1 L401.7,43.5 L402.0,44.5 L402.3,42.5 L402.6,42.1 L402.9,43.5 L403.2,44.4 L403.5,41.9 L403.8,44.4 L404.1,44.4 L404.4,43.1 L404.7,43.7 L405.0,43.3 L405.3,43.7 L405.6,44.5 L405.9,43.0 L406.2,44.9 L406.5,44.8 L406.8,44.9 L407.1,42.1 L407.4,42.3 L407.7,44.9 L408.0,43.7 L408.3,43.7 L408.6,43.7 L408.9,43.2 L409.2,44.3 L409.5,44.0 L409.8,44.1 L410.1,45.3 L410.4,43.7 L410.7,46.1 L411.0,42.8" fill="none" stroke="#1436e2" stroke-width="1.1" stroke-linejoin="round"/>
<path d="M247.5,43.6 L247.8,44.3 L248.1,43.7 L248.4,43.4 L248.7,43.5 L249.0,43.1 L249.3,43.1 L249.6,43.3 L249.9,42.7 L250.2,42.5 L250.5,43.1 L250.8,43.5 L251.1,43.4 L251.4,43.3 L251.7,43.5 L252.0,43.5 L252.3,43.7 L252.6,43.9 L252.9,44.6 L253.2,43.5 L253.5,43.8 L253.8,43.4 L254.1,43.5 L254.4,43.2 L254.7,42.9 L255.0,42.4 L255.3,42.2 L255.6,42.2 L255.9,41.6 L256.2,42.1 L256.5,42.0 L256.8,42.3 L257.1,42.0 L257.4,42.3 L257.7,42.2 L258.0,42.1 L258.3,43.0 L258.6,42.1 L258.9,42.6 L259.2,42.4 L259.5,42.2 L259.8,41.3 L260.1,41.1 L260.4,40.0 L260.7,39.5 L261.0,38.5 L261.3,39.5 L261.6,39.6 L261.9,40.1 L262.2,40.3 L262.5,41.3 L262.8,41.5 L263.1,42.3 L263.4,42.0 L263.7,41.5 L264.0,41.3 L264.3,41.3 L264.6,40.9 L264.9,40.4 L265.2,40.4 L265.5,40.1 L265.8,40.1 L266.1,39.3 L266.4,39.0 L266.7,39.2 L267.0,39.0 L267.3,38.4 L267.6,38.4 L267.9,38.5 L268.2,38.5 L268.5,38.4 L268.8,37.7 L269.1,38.4 L269.4,37.6 L269.7,38.2 L270.0,38.3 L270.3,37.9 L270.6,38.3 L270.9,38.2 L271.2,38.4 L271.5,38.3 L271.8,38.0 L272.1,37.6 L272.4,37.7 L272.7,37.8 L273.0,37.1 L273.3,37.1 L273.6,37.0 L273.9,36.9 L274.2,37.3 L274.5,36.5 L274.8,37.0 L275.1,36.9 L275.4,36.8 L275.7,36.9 L276.0,37.2 L276.3,37.3 L276.6,37.3 L276.9,37.2 L277.2,37.4 L277.5,37.7 L277.8,37.6 L278.1,37.7 L278.4,37.7 L278.7,37.9 L279.0,37.7 L279.3,38.0 L279.6,37.9 L279.9,38.2 L280.2,38.3 L280.5,38.4 L280.8,38.1 L281.1,37.9 L281.4,37.7 L281.7,37.9 L282.0,38.0 L282.3,37.9 L282.6,37.5 L282.9,37.7 L283.2,37.7 L283.5,37.4 L283.8,37.8 L284.1,37.6 L284.4,38.3 L284.7,38.9 L285.0,39.7 L285.3,39.9 L285.6,40.3 L285.9,41.4 L286.2,41.6 L286.5,42.0 L286.8,42.1 L287.1,43.0 L287.4,43.1 L287.7,42.9 L288.0,42.6 L288.3,42.9 L288.6,42.9 L288.9,42.7 L289.2,43.3 L289.5,43.3 L289.8,42.9 L290.1,42.9 L290.4,43.2 L290.7,42.9 L291.0,42.9 L291.3,42.8 L291.6,42.9 L291.9,42.8 L292.2,42.9 L292.5,42.7 L292.8,42.7 L293.1,42.4 L293.4,42.5 L293.7,42.7 L294.0,42.4 L294.3,42.2 L294.6,42.4 L294.9,42.2 L295.2,42.4 L295.5,42.3 L295.8,42.6 L296.1,42.4 L296.4,42.7 L296.7,42.4 L297.0,42.8 L297.3,43.0 L297.6,42.6 L297.9,42.8 L298.2,42.8 L298.5,42.8 L298.8,42.9 L299.1,43.0 L299.4,42.9 L299.7,42.9 L300.0,43.0 L300.3,43.0 L300.6,43.6 L300.9,43.7 L301.2,43.9 L301.5,44.3 L301.8,44.6 L302.1,44.7 L302.4,44.7 L302.7,45.1 L303.0,45.3 L303.3,45.1 L303.6,44.6 L303.9,44.5 L304.2,44.2 L304.5,43.8 L304.8,43.5 L305.1,42.4 L305.4,41.4 L305.7,39.4 L306.0,37.5 L306.3,35.9 L306.6,34.8 L306.9,33.5 L307.2,33.2 L307.5,33.2 L307.8,33.4 L308.1,33.6 L308.4,33.8 L308.7,34.4 L309.0,34.7 L309.3,34.8 L309.6,35.0 L309.9,34.9 L310.2,34.9 L310.5,34.5 L310.8,35.2 L311.1,35.4 L311.4,35.3 L311.7,35.9 L312.0,35.8 L312.3,35.7 L312.6,35.9 L312.9,36.0 L313.2,36.3 L313.5,36.6 L313.8,36.4 L314.1,36.6 L314.4,36.4 L314.7,36.6 L315.0,36.6 L315.3,37.0 L315.6,36.3 L315.9,36.7 L316.2,36.8 L316.5,36.7 L316.8,36.5 L317.1,36.0 L317.4,36.0 L317.7,36.4 L318.0,36.1 L318.3,36.2 L318.6,36.6 L318.9,36.5 L319.2,36.8 L319.5,36.6 L319.8,37.1 L320.1,36.7 L320.4,36.8 L320.7,36.8 L321.0,36.9 L321.3,36.3 L321.6,36.5 L321.9,36.2 L322.2,35.9 L322.5,35.7 L322.8,35.6 L323.1,35.8 L323.4,35.7 L323.7,35.5 L324.0,35.3 L324.3,35.6 L324.6,36.1 L324.9,36.3 L325.2,37.0 L325.5,37.0 L325.8,37.7 L326.1,38.4 L326.4,38.3 L326.7,39.4 L327.0,38.6 L327.3,39.0 L327.6,39.3 L327.9,40.0 L328.2,39.2 L328.5,40.1 L328.8,40.3 L329.1,40.2 L329.4,40.6 L329.7,41.0 L330.0,40.8 L330.3,41.3 L330.6,41.1 L330.9,41.4 L331.2,41.3 L331.5,42.0 L331.8,41.6 L332.1,41.9 L332.4,41.6 L332.7,42.3 L333.0,41.8 L333.3,42.1 L333.6,42.2 L333.9,42.6 L334.2,42.4 L334.5,42.4 L334.8,42.8 L335.1,43.0 L335.4,43.0 L335.7,42.5 L336.0,42.9 L336.3,42.8 L336.6,43.0 L336.9,43.2 L337.2,43.2 L337.5,43.5 L337.8,43.2 L338.1,43.4 L338.4,43.1 L338.7,43.3 L339.0,42.7 L339.3,42.7 L339.6,42.4 L339.9,41.8 L340.2,42.1 L340.5,41.6 L340.8,41.2 L341.1,40.6 L341.4,40.1 L341.7,39.0 L342.0,38.1 L342.3,37.6 L342.6,36.9 L342.9,35.9 L343.2,34.6 L343.5,34.0 L343.8,33.7 L344.1,32.8 L344.4,32.1 L344.7,31.4 L345.0,30.6 L345.3,30.9 L345.6,32.4 L345.9,32.9 L346.2,33.9 L346.5,34.7 L346.8,35.6 L347.1,36.0 L347.4,36.2 L347.7,36.2 L348.0,36.3 L348.3,36.7 L348.6,36.2 L348.9,37.1 L349.2,36.9 L349.5,36.6 L349.8,37.5 L350.1,37.1 L350.4,37.0 L350.7,37.1 L351.0,37.6 L351.3,36.8 L351.6,37.0 L351.9,37.1 L352.2,36.6 L352.5,37.0 L352.8,36.5 L353.1,36.6 L353.4,35.8 L353.7,35.7 L354.0,35.0 L354.3,34.6 L354.6,34.0 L354.9,33.2 L355.2,33.2 L355.5,33.1 L355.8,33.0 L356.1,33.3 L356.4,33.8 L356.7,33.5 L357.0,33.5 L357.3,33.3 L357.6,33.4 L357.9,33.4 L358.2,33.6 L358.5,33.3 L358.8,33.6 L359.1,32.8 L359.4,32.8 L359.7,32.7 L360.0,32.7 L360.3,32.5 L360.6,32.5 L360.9,32.0 L361.2,32.2 L361.5,31.4 L361.8,31.2 L362.1,30.5 L362.4,30.7 L362.7,30.4 L363.0,30.0 L363.3,30.6 L363.6,31.2 L363.9,32.0 L364.2,32.5 L364.5,32.9 L364.8,33.4 L365.1,34.0 L365.4,34.3 L365.7,34.3 L366.0,34.3 L366.3,34.7 L366.6,34.7 L366.9,34.9 L367.2,35.1 L367.5,35.6 L367.8,35.8 L368.1,36.3 L368.4,36.0 L368.7,35.8 L369.0,36.1 L369.3,35.6 L369.6,35.6 L369.9,36.0 L370.2,35.7 L370.5,36.2 L370.8,36.1 L371.1,36.1 L371.4,36.2 L371.7,36.5 L372.0,36.8 L372.3,36.4 L372.6,37.0 L372.9,37.2 L373.2,37.4 L373.5,37.8 L373.8,38.2 L374.1,38.6 L374.4,39.2 L374.7,38.7 L375.0,39.6 L375.3,40.1 L375.6,40.2 L375.9,40.7 L376.2,40.0 L376.5,40.6 L376.8,40.5 L377.1,40.6 L377.4,41.0 L377.7,41.2 L378.0,41.6 L378.3,41.6 L378.6,41.9 L378.9,41.9 L379.2,42.0 L379.5,41.3 L379.8,41.2 L380.1,41.2 L380.4,41.3 L380.7,40.5 L381.0,40.3 L381.3,40.3 L381.6,40.3 L381.9,39.7 L382.2,39.5 L382.5,40.2 L382.8,39.8 L383.1,40.3 L383.4,40.0 L383.7,39.7 L384.0,40.1 L384.3,40.1 L384.6,40.3 L384.9,40.3 L385.2,39.9 L385.5,40.1 L385.8,40.5 L386.1,40.6 L386.4,40.5 L386.7,40.1 L387.0,40.5 L387.3,40.3 L387.6,40.6 L387.9,40.8 L388.2,40.3 L388.5,40.6 L388.8,40.7 L389.1,40.7 L389.4,40.7 L389.7,40.7 L390.0,40.9 L390.3,40.4 L390.6,40.5 L390.9,40.4 L391.2,40.7 L391.5,40.5 L391.8,40.6 L392.1,40.4 L392.4,40.5 L392.7,40.5 L393.0,40.7 L393.3,40.8 L393.6,40.7 L393.9,40.7 L394.2,40.7 L394.5,40.8 L394.8,40.3 L395.1,40.6 L395.4,41.0 L395.7,40.9 L396.0,41.0 L396.3,40.8 L396.6,40.7 L396.9,41.1 L397.2,40.8 L397.5,41.0 L397.8,40.8 L398.1,40.9 L398.4,41.1 L398.7,41.1 L399.0,41.2 L399.3,41.4 L399.6,41.5 L399.9,41.3 L400.2,41.4 L400.5,41.5 L400.8,41.4 L401.1,41.4 L401.4,41.6 L401.7,41.5 L402.0,41.2 L402.3,41.4 L402.6,41.2 L402.9,41.6 L403.2,41.6 L403.5,41.4 L403.8,41.3 L404.1,41.5 L404.4,41.3 L404.7,41.2 L405.0,41.2 L405.3,41.5 L405.6,41.5 L405.9,41.8 L406.2,41.6 L406.5,41.6 L406.8,41.4 L407.1,41.9 L407.4,41.9 L407.7,41.9 L408.0,41.6 L408.3,42.3 L408.6,42.1 L408.9,41.6 L409.2,41.8 L409.5,42.2 L409.8,42.1 L410.1,41.9 L410.4,42.0 L410.7,42.2 L411.0,42.3 L411.0,43.6 L410.7,43.6 L410.4,43.3 L410.1,43.6 L409.8,43.3 L409.5,43.2 L409.2,43.6 L408.9,43.3 L408.6,43.4 L408.3,43.2 L408.0,43.2 L407.7,42.9 L407.4,43.1 L407.1,43.2 L406.8,43.0 L406.5,42.9 L406.2,43.0 L405.9,43.0 L405.6,43.1 L405.3,42.9 L405.0,42.7 L404.7,42.9 L404.4,42.8 L404.1,42.8 L403.8,42.8 L403.5,42.7 L403.2,43.0 L402.9,42.6 L402.6,42.8 L402.3,42.6 L402.0,42.5 L401.7,42.9 L401.4,42.8 L401.1,43.1 L400.8,42.6 L400.5,42.7 L400.2,42.5 L399.9,42.7 L399.6,42.6 L399.3,42.8 L399.0,42.4 L398.7,42.6 L398.4,42.4 L398.1,42.5 L397.8,42.5 L397.5,42.3 L397.2,42.4 L396.9,42.2 L396.6,42.1 L396.3,42.3 L396.0,42.1 L395.7,41.9 L395.4,42.0 L395.1,42.5 L394.8,41.9 L394.5,42.0 L394.2,42.1 L393.9,42.1 L393.6,41.6 L393.3,41.9 L393.0,42.3 L392.7,42.1 L392.4,42.0 L392.1,42.1 L391.8,42.1 L391.5,42.1 L391.2,41.9 L390.9,42.1 L390.6,42.1 L390.3,42.3 L390.0,42.0 L389.7,42.0 L389.4,42.0 L389.1,41.9 L388.8,41.7 L388.5,41.6 L388.2,42.1 L387.9,42.1 L387.6,42.0 L387.3,41.8 L387.0,42.2 L386.7,41.9 L386.4,42.0 L386.1,41.9 L385.8,42.2 L385.5,42.0 L385.2,42.2 L384.9,42.2 L384.6,41.7 L384.3,42.0 L384.0,41.5 L383.7,41.3 L383.4,41.6 L383.1,41.8 L382.8,41.4 L382.5,41.4 L382.2,41.6 L381.9,41.6 L381.6,41.4 L381.3,42.3 L381.0,42.2 L380.7,42.6 L380.4,42.7 L380.1,42.9 L379.8,43.4 L379.5,43.3 L379.2,43.6 L378.9,43.5 L378.6,43.4 L378.3,43.7 L378.0,43.5 L377.7,43.2 L377.4,43.1 L377.1,42.6 L376.8,42.8 L376.5,42.0 L376.2,42.5 L375.9,41.7 L375.6,41.5 L375.3,41.2 L375.0,41.1 L374.7,40.8 L374.4,40.7 L374.1,40.2 L373.8,39.5 L373.5,39.2 L373.2,39.2 L372.9,39.1 L372.6,39.1 L372.3,39.0 L372.0,38.5 L371.7,38.2 L371.4,38.1 L371.1,37.6 L370.8,37.8 L370.5,37.2 L370.2,37.5 L369.9,38.0 L369.6,37.8 L369.3,37.5 L369.0,37.8 L368.7,37.7 L368.4,37.5 L368.1,37.8 L367.8,37.6 L367.5,37.3 L367.2,37.8 L366.9,37.1 L366.6,36.9 L366.3,36.6 L366.0,36.2 L365.7,35.9 L365.4,35.5 L365.1,35.4 L364.8,34.8 L364.5,34.8 L364.2,34.1 L363.9,33.7 L363.6,33.4 L363.3,32.3 L363.0,31.6 L362.7,32.2 L362.4,32.7 L362.1,32.5 L361.8,33.1 L361.5,33.3 L361.2,34.2 L360.9,33.9 L360.6,34.3 L360.3,34.5 L360.0,34.4 L359.7,34.3 L359.4,34.6 L359.1,34.9 L358.8,34.9 L358.5,35.0 L358.2,35.3 L357.9,35.7 L357.6,35.5 L357.3,35.3 L357.0,35.7 L356.7,35.6 L356.4,35.1 L356.1,34.9 L355.8,35.1 L355.5,35.5 L355.2,34.7 L354.9,34.9 L354.6,35.6 L354.3,36.2 L354.0,36.5 L353.7,37.3 L353.4,37.8 L353.1,38.7 L352.8,39.1 L352.5,38.8 L352.2,38.4 L351.9,38.9 L351.6,38.8 L351.3,38.6 L351.0,39.1 L350.7,39.4 L350.4,38.5 L350.1,38.9 L349.8,39.5 L349.5,39.0 L349.2,38.9 L348.9,38.9 L348.6,38.0 L348.3,38.3 L348.0,38.4 L347.7,38.1 L347.4,38.0 L347.1,37.9 L346.8,37.2 L346.5,36.4 L346.2,35.9 L345.9,34.4 L345.6,33.9 L345.3,33.1 L345.0,32.6 L344.7,32.8 L344.4,33.7 L344.1,34.7 L343.8,35.6 L343.5,35.9 L343.2,37.0 L342.9,37.4 L342.6,38.2 L342.3,39.4 L342.0,40.2 L341.7,41.2 L341.4,41.8 L341.1,42.7 L340.8,43.3 L340.5,43.7 L340.2,43.6 L339.9,43.9 L339.6,44.1 L339.3,44.3 L339.0,44.6 L338.7,44.5 L338.4,45.1 L338.1,45.3 L337.8,45.2 L337.5,45.1 L337.2,45.4 L336.9,45.0 L336.6,45.0 L336.3,45.4 L336.0,45.0 L335.7,45.1 L335.4,44.7 L335.1,45.0 L334.8,44.6 L334.5,44.6 L334.2,44.3 L333.9,44.2 L333.6,44.3 L333.3,44.0 L333.0,43.9 L332.7,44.2 L332.4,44.0 L332.1,43.9 L331.8,43.4 L331.5,43.5 L331.2,43.6 L330.9,43.2 L330.6,43.2 L330.3,43.1 L330.0,42.9 L329.7,42.4 L329.4,42.3 L329.1,42.4 L328.8,42.3 L328.5,42.0 L328.2,41.7 L327.9,41.7 L327.6,41.1 L327.3,40.8 L327.0,41.0 L326.7,40.2 L326.4,40.5 L326.1,40.3 L325.8,39.6 L325.5,39.4 L325.2,38.8 L324.9,38.4 L324.6,37.7 L324.3,37.8 L324.0,37.0 L323.7,37.0 L323.4,36.6 L323.1,37.5 L322.8,37.7 L322.5,37.1 L322.2,38.3 L321.9,38.4 L321.6,38.5 L321.3,38.0 L321.0,38.6 L320.7,38.3 L320.4,38.5 L320.1,37.8 L319.8,38.3 L319.5,38.2 L319.2,38.6 L318.9,38.0 L318.6,38.3 L318.3,38.2 L318.0,37.8 L317.7,38.2 L317.4,38.2 L317.1,37.8 L316.8,38.0 L316.5,38.4 L316.2,38.0 L315.9,38.3 L315.6,38.6 L315.3,38.2 L315.0,38.7 L314.7,38.5 L314.4,38.3 L314.1,38.2 L313.8,37.9 L313.5,38.2 L313.2,38.3 L312.9,37.8 L312.6,38.1 L312.3,38.0 L312.0,37.9 L311.7,37.6 L311.4,37.7 L311.1,37.2 L310.8,37.3 L310.5,36.7 L310.2,36.8 L309.9,36.8 L309.6,36.5 L309.3,36.2 L309.0,35.9 L308.7,36.2 L308.4,36.2 L308.1,35.4 L307.8,35.4 L307.5,35.2 L307.2,34.9 L306.9,35.3 L306.6,36.3 L306.3,37.8 L306.0,39.8 L305.7,41.2 L305.4,43.0 L305.1,44.3 L304.8,45.0 L304.5,45.1 L304.2,45.4 L303.9,45.6 L303.6,45.8 L303.3,46.3 L303.0,46.7 L302.7,46.3 L302.4,46.1 L302.1,45.8 L301.8,45.5 L301.5,45.4 L301.2,45.2 L300.9,44.9 L300.6,44.6 L300.3,44.2 L300.0,44.4 L299.7,44.2 L299.4,43.8 L299.1,44.2 L298.8,44.1 L298.5,43.9 L298.2,43.9 L297.9,43.8 L297.6,43.8 L297.3,43.8 L297.0,43.8 L296.7,43.9 L296.4,43.5 L296.1,43.5 L295.8,43.5 L295.5,43.5 L295.2,43.6 L294.9,43.5 L294.6,43.8 L294.3,43.7 L294.0,43.7 L293.7,43.6 L293.4,44.0 L293.1,43.7 L292.8,43.7 L292.5,43.6 L292.2,43.7 L291.9,44.0 L291.6,44.0 L291.3,44.1 L291.0,44.1 L290.7,44.0 L290.4,44.1 L290.1,44.1 L289.8,44.2 L289.5,44.3 L289.2,44.0 L288.9,44.5 L288.6,44.2 L288.3,44.4 L288.0,44.4 L287.7,44.5 L287.4,44.4 L287.1,44.6 L286.8,43.9 L286.5,43.7 L286.2,43.0 L285.9,42.6 L285.6,42.2 L285.3,41.3 L285.0,41.2 L284.7,40.1 L284.4,40.1 L284.1,39.5 L283.8,39.3 L283.5,39.4 L283.2,39.2 L282.9,39.1 L282.6,39.3 L282.3,39.1 L282.0,39.8 L281.7,39.3 L281.4,39.7 L281.1,39.5 L280.8,39.5 L280.5,40.1 L280.2,40.0 L279.9,40.0 L279.6,39.6 L279.3,39.8 L279.0,40.1 L278.7,39.6 L278.4,39.4 L278.1,39.5 L277.8,39.3 L277.5,39.6 L277.2,39.3 L276.9,39.0 L276.6,39.2 L276.3,39.2 L276.0,39.0 L275.7,38.9 L275.4,38.7 L275.1,38.7 L274.8,38.8 L274.5,38.7 L274.2,38.5 L273.9,38.8 L273.6,38.8 L273.3,38.8 L273.0,39.1 L272.7,38.9 L272.4,39.2 L272.1,39.3 L271.8,39.9 L271.5,39.6 L271.2,40.3 L270.9,40.1 L270.6,40.2 L270.3,39.9 L270.0,40.0 L269.7,39.9 L269.4,40.0 L269.1,40.1 L268.8,40.1 L268.5,39.6 L268.2,40.0 L267.9,39.9 L267.6,40.2 L267.3,40.3 L267.0,40.2 L266.7,41.0 L266.4,41.2 L266.1,41.0 L265.8,41.9 L265.5,42.4 L265.2,42.2 L264.9,42.6 L264.6,42.7 L264.3,43.0 L264.0,43.0 L263.7,43.4 L263.4,43.5 L263.1,44.4 L262.8,43.6 L262.5,43.0 L262.2,42.4 L261.9,42.1 L261.6,41.4 L261.3,41.2 L261.0,40.7 L260.7,41.3 L260.4,41.6 L260.1,42.5 L259.8,42.8 L259.5,43.7 L259.2,44.0 L258.9,44.5 L258.6,44.1 L258.3,44.1 L258.0,44.3 L257.7,44.1 L257.4,44.0 L257.1,43.8 L256.8,43.5 L256.5,43.9 L256.2,43.8 L255.9,43.6 L255.6,43.7 L255.3,44.2 L255.0,44.7 L254.7,44.6 L254.4,45.2 L254.1,45.1 L253.8,45.7 L253.5,45.3 L253.2,46.3 L252.9,46.0 L252.6,46.1 L252.3,45.6 L252.0,45.8 L251.7,45.8 L251.4,45.5 L251.1,45.1 L250.8,44.8 L250.5,44.7 L250.2,44.6 L249.9,44.4 L249.6,44.8 L249.3,44.8 L249.0,45.4 L248.7,45.2 L248.4,45.6 L248.1,45.8 L247.8,45.8 L247.5,46.2Z" fill="#e81a1a" stroke="none"/>
<path d="M247.5,42.5 L247.8,45.7 L248.1,46.5 L248.4,44.8 L248.7,42.6 L249.0,45.2 L249.3,42.7 L249.6,43.7 L249.9,44.2 L250.2,42.7 L250.5,41.7 L250.8,43.8 L251.1,44.1 L251.4,43.2 L251.7,43.4 L252.0,45.5 L252.3,44.6 L252.6,44.3 L252.9,44.3 L253.2,45.1 L253.5,44.8 L253.8,44.3 L254.1,42.5 L254.4,43.6 L254.7,43.0 L255.0,43.7 L255.3,44.8 L255.6,44.3 L255.9,43.7 L256.2,43.0 L256.5,42.6 L256.8,43.5 L257.1,42.5 L257.4,42.8 L257.7,42.2 L258.0,43.3 L258.3,43.3 L258.6,45.7 L258.9,44.2 L259.2,42.7 L259.5,43.6 L259.8,41.5 L260.1,42.7 L260.4,41.9 L260.7,43.9 L261.0,37.5 L261.3,40.1 L261.6,40.5 L261.9,41.5 L262.2,42.5 L262.5,40.9 L262.8,41.7 L263.1,43.1 L263.4,43.7 L263.7,41.0 L264.0,40.2 L264.3,43.3 L264.6,42.7 L264.9,42.7 L265.2,40.0 L265.5,40.7 L265.8,41.0 L266.1,41.0 L266.4,40.1 L266.7,40.0 L267.0,41.0 L267.3,39.1 L267.6,38.7 L267.9,38.6 L268.2,38.4 L268.5,39.2 L268.8,38.8 L269.1,38.5 L269.4,40.8 L269.7,39.4 L270.0,38.7 L270.3,40.6 L270.6,38.4 L270.9,39.1 L271.2,38.8 L271.5,38.1 L271.8,38.2 L272.1,38.6 L272.4,36.7 L272.7,37.7 L273.0,38.4 L273.3,38.2 L273.6,38.1 L273.9,40.4 L274.2,38.4 L274.5,37.5 L274.8,37.6 L275.1,37.8 L275.4,38.4 L275.7,37.6 L276.0,39.8 L276.3,36.8 L276.6,38.9 L276.9,38.8 L277.2,37.0 L277.5,39.1 L277.8,39.1 L278.1,37.8 L278.4,41.3 L278.7,39.5 L279.0,38.4 L279.3,38.3 L279.6,38.1 L279.9,39.3 L280.2,39.1 L280.5,37.3 L280.8,37.7 L281.1,38.0 L281.4,38.3 L281.7,38.3 L282.0,37.9 L282.3,39.3 L282.6,39.6 L282.9,38.6 L283.2,35.9 L283.5,38.2 L283.8,38.9 L284.1,38.4 L284.4,39.4 L284.7,39.8 L285.0,38.6 L285.3,38.0 L285.6,42.1 L285.9,41.3 L286.2,42.8 L286.5,42.5 L286.8,43.1 L287.1,44.9 L287.4,42.4 L287.7,43.6 L288.0,42.6 L288.3,43.6 L288.6,44.0 L288.9,44.1 L289.2,43.7 L289.5,42.5 L289.8,43.8 L290.1,44.2 L290.4,44.3 L290.7,45.1 L291.0,43.9 L291.3,42.6 L291.6,43.0 L291.9,43.4 L292.2,44.1 L292.5,42.4 L292.8,43.9 L293.1,43.6 L293.4,42.4 L293.7,43.5 L294.0,42.4 L294.3,43.0 L294.6,42.7 L294.9,43.1 L295.2,42.0 L295.5,43.3 L295.8,41.3 L296.1,42.7 L296.4,42.6 L296.7,44.3 L297.0,43.6 L297.3,42.8 L297.6,42.6 L297.9,43.3 L298.2,42.8 L298.5,45.1 L298.8,41.3 L299.1,43.5 L299.4,41.6 L299.7,44.3 L300.0,43.0 L300.3,45.0 L300.6,43.6 L300.9,45.1 L301.2,44.6 L301.5,45.6 L301.8,45.0 L302.1,42.9 L302.4,44.9 L302.7,44.5 L303.0,46.6 L303.3,46.0 L303.6,45.3 L303.9,45.4 L304.2,44.9 L304.5,43.9 L304.8,46.1 L305.1,43.7 L305.4,41.6 L305.7,38.6 L306.0,37.9 L306.3,37.0 L306.6,35.3 L306.9,33.6 L307.2,33.8 L307.5,32.7 L307.8,34.4 L308.1,32.7 L308.4,33.7 L308.7,34.1 L309.0,36.3 L309.3,36.0 L309.6,35.6 L309.9,34.3 L310.2,35.4 L310.5,37.0 L310.8,37.7 L311.1,34.5 L311.4,35.9 L311.7,36.7 L312.0,37.2 L312.3,36.8 L312.6,37.7 L312.9,35.2 L313.2,39.0 L313.5,35.7 L313.8,37.3 L314.1,38.0 L314.4,38.8 L314.7,38.6 L315.0,38.6 L315.3,39.1 L315.6,37.2 L315.9,38.3 L316.2,39.2 L316.5,36.3 L316.8,35.5 L317.1,35.9 L317.4,38.8 L317.7,38.6 L318.0,36.5 L318.3,37.3 L318.6,37.7 L318.9,38.4 L319.2,34.9 L319.5,36.6 L319.8,37.0 L320.1,37.8 L320.4,37.5 L320.7,37.1 L321.0,37.9 L321.3,34.2 L321.6,41.1 L321.9,38.1 L322.2,38.1 L322.5,36.0 L322.8,37.2 L323.1,39.1 L323.4,38.6 L323.7,36.3 L324.0,34.5 L324.3,36.7 L324.6,36.6 L324.9,38.5 L325.2,36.3 L325.5,38.1 L325.8,39.1 L326.1,38.6 L326.4,40.7 L326.7,38.2 L327.0,38.3 L327.3,39.6 L327.6,41.3 L327.9,40.1 L328.2,40.0 L328.5,41.9 L328.8,41.4 L329.1,40.7 L329.4,41.6 L329.7,41.4 L330.0,42.6 L330.3,42.1 L330.6,41.1 L330.9,41.7 L331.2,41.9 L331.5,43.1 L331.8,43.2 L332.1,41.9 L332.4,42.7 L332.7,43.4 L333.0,44.5 L333.3,43.5 L333.6,45.7 L333.9,43.4 L334.2,44.3 L334.5,43.1 L334.8,42.3 L335.1,43.7 L335.4,44.3 L335.7,44.2 L336.0,44.0 L336.3,43.5 L336.6,43.0 L336.9,43.7 L337.2,44.7 L337.5,45.4 L337.8,40.2 L338.1,45.1 L338.4,45.4 L338.7,45.4 L339.0,44.1 L339.3,44.2 L339.6,42.6 L339.9,42.8 L340.2,43.3 L340.5,41.1 L340.8,41.2 L341.1,42.0 L341.4,39.2 L341.7,40.0 L342.0,37.2 L342.3,38.4 L342.6,37.3 L342.9,35.7 L343.2,34.4 L343.5,34.3 L343.8,31.4 L344.1,33.1 L344.4,33.0 L344.7,33.7 L345.0,29.5 L345.3,32.1 L345.6,34.8 L345.9,36.0 L346.2,34.0 L346.5,36.8 L346.8,37.7 L347.1,37.5 L347.4,35.7 L347.7,36.0 L348.0,38.0 L348.3,40.3 L348.6,37.4 L348.9,39.7 L349.2,40.2 L349.5,36.5 L349.8,37.4 L350.1,40.1 L350.4,39.4 L350.7,38.8 L351.0,38.0 L351.3,38.8 L351.6,37.1 L351.9,41.0 L352.2,36.3 L352.5,35.5 L352.8,37.8 L353.1,39.2 L353.4,36.2 L353.7,36.2 L354.0,34.5 L354.3,35.1 L354.6,33.4 L354.9,32.9 L355.2,31.0 L355.5,33.4 L355.8,36.5 L356.1,34.1 L356.4,34.5 L356.7,37.1 L357.0,33.6 L357.3,33.2 L357.6,35.1 L357.9,33.0 L358.2,34.9 L358.5,35.8 L358.8,32.8 L359.1,33.3 L359.4,35.9 L359.7,32.3 L360.0,32.7 L360.3,33.6 L360.6,32.8 L360.9,32.0 L361.2,34.8 L361.5,31.7 L361.8,32.6 L362.1,31.4 L362.4,31.3 L362.7,29.6 L363.0,32.1 L363.3,29.5 L363.6,33.6 L363.9,31.1 L364.2,32.5 L364.5,34.3 L364.8,34.4 L365.1,33.8 L365.4,34.7 L365.7,33.5 L366.0,35.4 L366.3,32.2 L366.6,36.0 L366.9,37.7 L367.2,37.3 L367.5,37.5 L367.8,36.1 L368.1,37.4 L368.4,36.3 L368.7,36.7 L369.0,36.6 L369.3,32.6 L369.6,37.9 L369.9,37.3 L370.2,37.8 L370.5,35.6 L370.8,37.6 L371.1,37.5 L371.4,34.3 L371.7,35.1 L372.0,37.6 L372.3,36.9 L372.6,38.0 L372.9,37.4 L373.2,40.3 L373.5,36.4 L373.8,37.4 L374.1,38.2 L374.4,38.0 L374.7,39.3 L375.0,40.2 L375.3,38.9 L375.6,41.3 L375.9,42.8 L376.2,42.8 L376.5,44.1 L376.8,43.1 L377.1,41.8 L377.4,44.3 L377.7,43.1 L378.0,44.7 L378.3,42.3 L378.6,40.0 L378.9,41.4 L379.2,43.0 L379.5,46.0 L379.8,42.0 L380.1,43.3 L380.4,40.4 L380.7,40.7 L381.0,42.6 L381.3,41.2 L381.6,41.0 L381.9,42.3 L382.2,41.9 L382.5,39.7 L382.8,41.0 L383.1,38.8 L383.4,40.8 L383.7,41.3 L384.0,39.0 L384.3,42.8 L384.6,43.3 L384.9,41.7 L385.2,42.2 L385.5,42.8 L385.8,41.1 L386.1,42.4 L386.4,41.7 L386.7,39.7 L387.0,40.4 L387.3,40.7 L387.6,42.4 L387.9,41.4 L388.2,42.3 L388.5,40.8 L388.8,40.0 L389.1,43.3 L389.4,44.0 L389.7,41.7 L390.0,41.1 L390.3,42.4 L390.6,40.2 L390.9,41.1 L391.2,39.9 L391.5,41.8 L391.8,41.5 L392.1,40.9 L392.4,40.7 L392.7,39.8 L393.0,40.5 L393.3,42.5 L393.6,41.0 L393.9,42.5 L394.2,40.5 L394.5,41.2 L394.8,40.9 L395.1,41.1 L395.4,42.1 L395.7,39.4 L396.0,42.2 L396.3,42.2 L396.6,41.6 L396.9,41.7 L397.2,41.4 L397.5,42.4 L397.8,41.8 L398.1,41.0 L398.4,42.0 L398.7,42.8 L399.0,42.3 L399.3,42.0 L399.6,42.2 L399.9,41.6 L400.2,41.7 L400.5,40.3 L400.8,41.9 L401.1,43.0 L401.4,41.7 L401.7,41.2 L402.0,43.0 L402.3,42.3 L402.6,42.2 L402.9,42.6 L403.2,42.8 L403.5,42.1 L403.8,41.3 L404.1,43.8 L404.4,42.2 L404.7,41.4 L405.0,42.3 L405.3,43.3 L405.6,40.8 L405.9,43.5 L406.2,42.1 L406.5,44.2 L406.8,43.0 L407.1,42.3 L407.4,43.6 L407.7,43.7 L408.0,42.2 L408.3,42.8 L408.6,42.1 L408.9,43.5 L409.2,41.3 L409.5,42.5 L409.8,40.7 L410.1,43.3 L410.4,40.7 L410.7,41.9 L411.0,43.2" fill="none" stroke="#e81a1a" stroke-width="1.1" stroke-linejoin="round"/>
<path d="M247.5,119.5 L247.9,120.0 L248.3,120.1 L248.7,119.9 L249.1,119.8 L249.5,119.8 L249.9,120.6 L250.3,118.9 L250.7,119.4 L251.1,119.8 L251.5,119.7 L251.9,119.9 L252.3,119.9 L252.7,120.0 L253.1,119.0 L253.5,119.6 L253.9,119.6 L254.3,120.0 L254.7,119.8 L255.1,120.0 L255.5,119.6 L255.9,116.5 L256.3,119.8 L256.7,119.9 L257.1,119.9 L257.5,119.6 L257.9,120.4 L258.3,119.7 L258.7,120.1 L259.1,119.1 L259.5,118.7 L259.9,119.3 L260.3,119.4 L260.7,119.7 L261.1,119.8 L261.5,119.9 L261.9,120.0 L262.3,119.7 L262.7,119.8 L263.1,119.5 L263.5,120.3 L263.9,119.8 L264.3,119.5 L264.7,120.4 L265.1,120.2 L265.5,120.4 L265.9,119.8 L266.3,120.7 L266.7,120.4 L267.1,120.1 L267.5,119.8 L267.9,119.6 L268.3,119.6 L268.7,120.8 L269.1,119.5 L269.5,120.3 L269.9,120.0 L270.3,119.9 L270.7,119.9 L271.1,119.9 L271.5,120.3 L271.9,120.2 L272.3,119.8 L272.7,119.0 L273.1,118.8 L273.5,120.2 L273.9,119.1 L274.3,118.7 L274.7,119.8 L275.1,118.8 L275.5,119.9 L275.9,120.0 L276.3,119.7 L276.7,120.0 L277.1,119.3 L277.5,119.5 L277.9,119.8 L278.3,119.9 L278.7,119.9 L279.1,120.0 L279.5,119.4 L279.9,118.7 L280.3,119.6 L280.7,119.3 L281.1,119.8 L281.5,120.3 L281.9,119.3 L282.3,119.5 L282.7,118.8 L283.1,119.4 L283.5,119.1 L283.9,119.2 L284.3,119.4 L284.7,114.0 L285.1,119.5 L285.5,119.3 L285.9,119.8 L286.3,118.6 L286.7,119.3 L287.1,120.5 L287.5,119.8 L287.9,119.8 L288.3,120.7 L288.7,121.0 L289.1,119.9 L289.5,119.7 L289.9,120.0 L290.3,119.8 L290.7,119.6 L291.1,119.4 L291.5,119.7 L291.9,119.5 L292.3,119.7 L292.7,119.6 L293.1,119.2 L293.5,120.1 L293.9,119.8 L294.3,119.3 L294.7,119.6 L295.1,112.0 L295.5,119.9 L295.9,119.8 L296.3,120.2 L296.7,120.2 L297.1,119.7 L297.5,119.8 L297.9,119.6 L298.3,119.8 L298.7,120.1 L299.1,120.1 L299.5,119.9 L299.9,119.7 L300.3,119.4 L300.7,119.6 L301.1,119.1 L301.5,119.4 L301.9,119.4 L302.3,118.7 L302.7,119.3 L303.1,119.0 L303.5,119.5 L303.9,118.9 L304.3,119.6 L304.7,120.0 L305.1,119.6 L305.5,119.9 L305.9,119.3 L306.3,119.4 L306.7,118.8 L307.1,115.0 L307.5,119.1 L307.9,119.4 L308.3,118.3 L308.7,118.6 L309.1,119.0 L309.5,119.1 L309.9,118.3 L310.3,118.8 L310.7,119.9 L311.1,119.5 L311.5,119.1 L311.9,118.1 L312.3,118.9 L312.7,119.7 L313.1,116.0 L313.5,119.6 L313.9,119.7 L314.3,119.6 L314.7,119.9 L315.1,119.0 L315.5,120.6 L315.9,115.5 L316.3,119.2 L316.7,120.1 L317.1,119.8 L317.5,119.9 L317.9,119.2 L318.3,119.5 L318.7,119.3 L319.1,118.6 L319.5,118.8 L319.9,115.0 L320.3,119.1 L320.7,119.0 L321.1,118.6 L321.5,119.0 L321.9,119.0 L322.3,119.5 L322.7,119.0 L323.1,118.7 L323.5,118.4 L323.9,114.5 L324.3,118.6 L324.7,119.5 L325.1,119.3 L325.5,119.3 L325.9,118.5 L326.3,118.4 L326.7,118.6 L327.1,118.5 L327.5,119.5 L327.9,119.0 L328.3,118.6 L328.7,118.8 L329.1,119.3 L329.5,118.5 L329.9,119.0 L330.3,118.0 L330.7,118.4 L331.1,118.3 L331.5,118.8 L331.9,118.7 L332.3,119.1 L332.7,118.8 L333.1,118.6 L333.5,118.2 L333.9,118.5 L334.3,118.5 L334.7,118.7 L335.1,118.5 L335.5,119.0 L335.9,118.8 L336.3,118.4 L336.7,118.6 L337.1,118.8 L337.5,118.7 L337.9,118.8 L338.3,118.2 L338.7,113.0 L339.1,118.1 L339.5,118.9 L339.9,119.4 L340.3,118.8 L340.7,119.2 L341.1,118.7 L341.5,118.8 L341.9,119.9 L342.3,119.4 L342.7,119.2 L343.1,118.9 L343.5,119.2 L343.9,118.6 L344.3,118.7 L344.7,118.3 L345.1,118.5 L345.5,118.4 L345.9,117.9 L346.3,119.1 L346.7,118.6 L347.1,118.1 L347.5,117.8 L347.9,118.2 L348.3,118.3 L348.7,118.3 L349.1,117.8 L349.5,118.1 L349.9,118.6 L350.3,118.9 L350.7,117.9 L351.1,118.7 L351.5,118.3 L351.9,118.3 L352.3,118.5 L352.7,118.4 L353.1,118.7 L353.5,118.8 L353.9,118.3 L354.3,118.0 L354.7,118.9 L355.1,118.9 L355.5,118.2 L355.9,118.1 L356.3,118.4 L356.7,118.7 L357.1,118.0 L357.5,119.1 L357.9,118.3 L358.3,119.0 L358.7,118.5 L359.1,118.6 L359.5,118.5 L359.9,118.9 L360.3,119.2 L360.7,118.4 L361.1,118.6 L361.5,119.0 L361.9,118.5 L362.3,119.6 L362.7,118.2 L363.1,119.5 L363.5,118.4 L363.9,119.2 L364.3,119.4 L364.7,119.1 L365.1,118.3 L365.5,118.8 L365.9,119.0 L366.3,119.3 L366.7,119.4 L367.1,119.5 L367.5,119.7 L367.9,118.6 L368.3,119.4 L368.7,118.2 L369.1,118.7 L369.5,118.4 L369.9,118.0 L370.3,119.1 L370.7,118.6 L371.1,119.1 L371.5,118.0 L371.9,118.2 L372.3,118.8 L372.7,118.5 L373.1,118.8 L373.5,118.7 L373.9,112.5 L374.3,118.6 L374.7,119.6 L375.1,119.2 L375.5,118.9 L375.9,119.4 L376.3,119.3 L376.7,119.1 L377.1,113.5 L377.5,118.9 L377.9,118.9 L378.3,118.2 L378.7,118.4 L379.1,118.5 L379.5,119.0 L379.9,119.3 L380.3,119.0 L380.7,119.0 L381.1,119.6 L381.5,119.0 L381.9,119.2 L382.3,119.0 L382.7,118.2 L383.1,118.8 L383.5,119.0 L383.9,118.5 L384.3,118.4 L384.7,118.2 L385.1,119.4 L385.5,119.7 L385.9,119.1 L386.3,119.7 L386.7,118.6 L387.1,119.6 L387.5,119.8 L387.9,119.6 L388.3,118.3 L388.7,119.3 L389.1,118.7 L389.5,119.0 L389.9,118.4 L390.3,118.5 L390.7,118.3 L391.1,118.7 L391.5,118.4 L391.9,119.0 L392.3,118.7 L392.7,118.6 L393.1,118.5 L393.5,118.4 L393.9,112.5 L394.3,118.9 L394.7,118.6 L395.1,118.7 L395.5,118.7 L395.9,118.7 L396.3,118.4 L396.7,113.0 L397.1,119.0 L397.5,118.7 L397.9,118.2 L398.3,119.2 L398.7,117.7 L399.1,118.6 L399.5,118.1 L399.9,118.0 L400.3,118.6 L400.7,118.1 L401.1,117.8 L401.5,117.3 L401.9,117.4 L402.3,117.8 L402.7,118.5 L403.1,114.5 L403.5,118.0 L403.9,118.2 L404.3,118.4 L404.7,118.7 L405.1,117.9 L405.5,118.5 L405.9,114.0 L406.3,117.9 L406.7,117.9 L407.1,118.8 L407.5,118.6 L407.9,118.6 L408.3,118.9 L408.7,119.2 L409.1,115.5 L409.5,119.3 L409.9,118.6 L410.3,118.3 L410.7,118.7" fill="none" stroke="#000" stroke-width="1.15" stroke-linejoin="round"/>
<path d="M247.5,136.2 L247.9,136.6 L248.3,136.5 L248.7,136.5 L249.1,136.5 L249.5,136.2 L249.9,136.6 L250.3,137.7 L250.7,136.2 L251.1,136.2 L251.5,136.1 L251.9,136.2 L252.3,136.7 L252.7,136.4 L253.1,136.2 L253.5,135.9 L253.9,131.0 L254.3,135.2 L254.7,135.1 L255.1,135.4 L255.5,135.9 L255.9,136.0 L256.3,135.9 L256.7,136.2 L257.1,136.7 L257.5,136.3 L257.9,136.5 L258.3,135.9 L258.7,137.0 L259.1,136.4 L259.5,137.4 L259.9,136.1 L260.3,136.0 L260.7,135.9 L261.1,135.6 L261.5,135.5 L261.9,135.6 L262.3,134.8 L262.7,135.7 L263.1,136.1 L263.5,135.0 L263.9,135.6 L264.3,136.2 L264.7,136.9 L265.1,136.3 L265.5,136.7 L265.9,137.2 L266.3,136.9 L266.7,136.0 L267.1,135.8 L267.5,136.5 L267.9,136.3 L268.3,135.8 L268.7,135.6 L269.1,135.6 L269.5,135.2 L269.9,135.2 L270.3,135.2 L270.7,134.4 L271.1,136.0 L271.5,135.9 L271.9,136.0 L272.3,135.0 L272.7,135.3 L273.1,135.4 L273.5,135.4 L273.9,133.9 L274.3,134.9 L274.7,133.8 L275.1,131.5 L275.5,134.1 L275.9,135.2 L276.3,134.8 L276.7,134.1 L277.1,134.7 L277.5,134.3 L277.9,134.3 L278.3,134.6 L278.7,134.5 L279.1,135.1 L279.5,135.4 L279.9,131.0 L280.3,134.5 L280.7,134.9 L281.1,134.9 L281.5,135.3 L281.9,134.8 L282.3,133.7 L282.7,133.8 L283.1,133.5 L283.5,134.8 L283.9,134.5 L284.3,134.1 L284.7,134.1 L285.1,131.0 L285.5,134.2 L285.9,134.3 L286.3,133.5 L286.7,133.6 L287.1,134.8 L287.5,134.0 L287.9,134.5 L288.3,135.2 L288.7,133.6 L289.1,134.8 L289.5,134.6 L289.9,134.3 L290.3,134.1 L290.7,133.6 L291.1,132.8 L291.5,135.0 L291.9,133.7 L292.3,134.0 L292.7,134.1 L293.1,133.7 L293.5,133.6 L293.9,133.9 L294.3,134.5 L294.7,134.1 L295.1,134.6 L295.5,133.8 L295.9,133.5 L296.3,133.5 L296.7,134.0 L297.1,133.9 L297.5,134.8 L297.9,133.9 L298.3,133.3 L298.7,134.2 L299.1,133.4 L299.5,133.5 L299.9,133.6 L300.3,133.2 L300.7,133.1 L301.1,133.7 L301.5,133.2 L301.9,132.8 L302.3,133.7 L302.7,133.5 L303.1,133.3 L303.5,132.7 L303.9,133.3 L304.3,134.3 L304.7,133.8 L305.1,133.8 L305.5,133.0 L305.9,133.9 L306.3,132.9 L306.7,133.0 L307.1,133.6 L307.5,132.7 L307.9,133.5 L308.3,133.5 L308.7,134.2 L309.1,133.2 L309.5,133.6 L309.9,133.2 L310.3,132.9 L310.7,131.9 L311.1,132.7 L311.5,133.4 L311.9,133.1 L312.3,132.7 L312.7,134.1 L313.1,133.1 L313.5,132.2 L313.9,132.8 L314.3,132.9 L314.7,134.1 L315.1,132.9 L315.5,133.4 L315.9,133.9 L316.3,132.9 L316.7,133.3 L317.1,132.4 L317.5,133.6 L317.9,132.3 L318.3,133.0 L318.7,134.2 L319.1,133.4 L319.5,133.1 L319.9,131.0 L320.3,134.2 L320.7,133.6 L321.1,133.9 L321.5,133.0 L321.9,133.1 L322.3,133.0 L322.7,133.8 L323.1,133.5 L323.5,134.5 L323.9,134.2 L324.3,134.0 L324.7,133.6 L325.1,132.5 L325.5,133.8 L325.9,134.2 L326.3,134.1 L326.7,132.0 L327.1,131.8 L327.5,133.3 L327.9,132.6 L328.3,133.2 L328.7,133.0 L329.1,133.7 L329.5,132.3 L329.9,132.9 L330.3,133.7 L330.7,133.3 L331.1,133.0 L331.5,134.1 L331.9,133.8 L332.3,133.3 L332.7,134.0 L333.1,134.1 L333.5,133.8 L333.9,134.2 L334.3,133.1 L334.7,134.0 L335.1,133.5 L335.5,133.0 L335.9,133.2 L336.3,134.1 L336.7,133.2 L337.1,133.3 L337.5,133.3 L337.9,133.2 L338.3,134.0 L338.7,134.8 L339.1,134.3 L339.5,134.1 L339.9,134.4 L340.3,133.8 L340.7,133.6 L341.1,133.3 L341.5,134.8 L341.9,133.8 L342.3,133.6 L342.7,133.6 L343.1,134.0 L343.5,133.5 L343.9,133.8 L344.3,133.9 L344.7,134.3 L345.1,131.5 L345.5,133.6 L345.9,132.9 L346.3,132.9 L346.7,133.9 L347.1,133.5 L347.5,132.9 L347.9,133.5 L348.3,133.4 L348.7,133.7 L349.1,132.9 L349.5,133.5 L349.9,133.2 L350.3,133.2 L350.7,133.3 L351.1,133.3 L351.5,133.9 L351.9,134.4 L352.3,133.5 L352.7,133.4 L353.1,134.0 L353.5,133.4 L353.9,134.0 L354.3,134.0 L354.7,132.7 L355.1,133.6 L355.5,133.0 L355.9,133.7 L356.3,133.8 L356.7,132.7 L357.1,132.9 L357.5,133.3 L357.9,133.3 L358.3,134.1 L358.7,134.4 L359.1,133.9 L359.5,134.0 L359.9,134.3 L360.3,133.9 L360.7,133.9 L361.1,133.8 L361.5,134.6 L361.9,134.6 L362.3,134.8 L362.7,134.2 L363.1,134.3 L363.5,134.7 L363.9,135.3 L364.3,134.5 L364.7,134.4 L365.1,133.8 L365.5,134.4 L365.9,134.6 L366.3,134.0 L366.7,135.1 L367.1,133.7 L367.5,134.5 L367.9,134.1 L368.3,134.1 L368.7,133.8 L369.1,134.0 L369.5,134.7 L369.9,134.2 L370.3,134.1 L370.7,134.6 L371.1,134.6 L371.5,134.4 L371.9,134.6 L372.3,135.2 L372.7,134.7 L373.1,134.6 L373.5,134.7 L373.9,133.6 L374.3,133.6 L374.7,134.5 L375.1,128.0 L375.5,134.5 L375.9,133.9 L376.3,133.7 L376.7,134.6 L377.1,133.7 L377.5,133.8 L377.9,134.7 L378.3,134.8 L378.7,134.5 L379.1,134.8 L379.5,134.9 L379.9,134.5 L380.3,134.3 L380.7,133.0 L381.1,134.1 L381.5,133.9 L381.9,134.3 L382.3,134.3 L382.7,133.7 L383.1,134.2 L383.5,133.7 L383.9,133.8 L384.3,133.6 L384.7,133.9 L385.1,134.4 L385.5,134.9 L385.9,134.1 L386.3,135.0 L386.7,135.8 L387.1,134.0 L387.5,134.4 L387.9,134.3 L388.3,134.6 L388.7,135.1 L389.1,134.6 L389.5,134.0 L389.9,133.5 L390.3,134.1 L390.7,134.2 L391.1,134.2 L391.5,133.8 L391.9,135.2 L392.3,134.2 L392.7,135.0 L393.1,134.6 L393.5,133.9 L393.9,134.6 L394.3,134.3 L394.7,134.0 L395.1,134.3 L395.5,133.7 L395.9,135.1 L396.3,134.3 L396.7,133.3 L397.1,132.5 L397.5,134.5 L397.9,134.1 L398.3,134.0 L398.7,133.7 L399.1,133.7 L399.5,133.7 L399.9,130.0 L400.3,135.4 L400.7,134.2 L401.1,135.7 L401.5,133.8 L401.9,134.8 L402.3,134.8 L402.7,134.2 L403.1,134.2 L403.5,133.8 L403.9,134.0 L404.3,134.6 L404.7,134.8 L405.1,130.5 L405.5,134.7 L405.9,133.4 L406.3,135.5 L406.7,134.4 L407.1,133.5 L407.5,134.0 L407.9,134.1 L408.3,134.6 L408.7,134.9 L409.1,133.4 L409.5,135.3 L409.9,135.6 L410.3,134.2 L410.7,135.7" fill="none" stroke="#1436e2" stroke-width="1.05" stroke-linejoin="round"/>
<path d="M247.5,139.6 L247.9,140.7 L248.3,138.5 L248.7,138.4 L249.1,140.1 L249.5,139.7 L249.9,138.6 L250.3,139.0 L250.7,139.4 L251.1,138.6 L251.5,139.5 L251.9,138.3 L252.3,139.3 L252.7,138.8 L253.1,138.2 L253.5,137.5 L253.9,138.4 L254.3,138.9 L254.7,139.1 L255.1,139.1 L255.5,139.3 L255.9,140.2 L256.3,139.3 L256.7,139.9 L257.1,140.3 L257.5,139.9 L257.9,140.3 L258.3,140.4 L258.7,139.2 L259.1,139.3 L259.5,137.4 L259.9,138.5 L260.3,138.8 L260.7,137.7 L261.1,138.7 L261.5,137.0 L261.9,138.8 L262.3,137.8 L262.7,137.3 L263.1,137.5 L263.5,137.8 L263.9,137.4 L264.3,137.3 L264.7,137.4 L265.1,138.4 L265.5,138.1 L265.9,138.7 L266.3,137.6 L266.7,137.8 L267.1,138.0 L267.5,137.9 L267.9,138.3 L268.3,138.8 L268.7,138.3 L269.1,138.2 L269.5,138.6 L269.9,137.9 L270.3,137.2 L270.7,138.2 L271.1,138.0 L271.5,138.0 L271.9,138.7 L272.3,137.5 L272.7,137.6 L273.1,137.6 L273.5,137.8 L273.9,138.1 L274.3,137.4 L274.7,138.0 L275.1,136.7 L275.5,138.4 L275.9,137.0 L276.3,137.4 L276.7,138.9 L277.1,137.5 L277.5,137.0 L277.9,139.0 L278.3,137.5 L278.7,137.7 L279.1,137.5 L279.5,137.9 L279.9,137.9 L280.3,137.3 L280.7,138.5 L281.1,137.2 L281.5,138.0 L281.9,137.6 L282.3,138.1 L282.7,137.5 L283.1,137.4 L283.5,138.4 L283.9,137.5 L284.3,137.5 L284.7,138.4 L285.1,137.7 L285.5,137.8 L285.9,138.4 L286.3,139.4 L286.7,137.9 L287.1,138.5 L287.5,139.1 L287.9,138.7 L288.3,138.8 L288.7,138.9 L289.1,138.3 L289.5,139.4 L289.9,138.3 L290.3,139.0 L290.7,139.2 L291.1,140.3 L291.5,138.0 L291.9,138.7 L292.3,139.8 L292.7,138.3 L293.1,139.2 L293.5,139.0 L293.9,138.2 L294.3,139.4 L294.7,138.4 L295.1,138.7 L295.5,137.8 L295.9,138.8 L296.3,137.3 L296.7,138.4 L297.1,139.2 L297.5,138.8 L297.9,138.2 L298.3,138.1 L298.7,137.8 L299.1,139.8 L299.5,138.9 L299.9,139.1 L300.3,139.1 L300.7,139.5 L301.1,140.2 L301.5,139.7 L301.9,139.8 L302.3,139.9 L302.7,140.1 L303.1,140.5 L303.5,139.7 L303.9,139.6 L304.3,139.4 L304.7,140.1 L305.1,139.3 L305.5,138.8 L305.9,138.4 L306.3,138.0 L306.7,136.8 L307.1,137.1 L307.5,137.5 L307.9,136.9 L308.3,136.8 L308.7,135.3 L309.1,134.6 L309.5,134.9 L309.9,135.7 L310.3,134.6 L310.7,134.5 L311.1,135.6 L311.5,135.1 L311.9,135.3 L312.3,135.3 L312.7,135.2 L313.1,135.5 L313.5,136.1 L313.9,135.7 L314.3,136.2 L314.7,136.7 L315.1,135.9 L315.5,136.4 L315.9,136.0 L316.3,137.0 L316.7,136.8 L317.1,137.2 L317.5,137.0 L317.9,136.7 L318.3,136.5 L318.7,135.5 L319.1,136.2 L319.5,135.2 L319.9,136.9 L320.3,135.6 L320.7,135.5 L321.1,134.6 L321.5,135.5 L321.9,135.6 L322.3,134.4 L322.7,135.0 L323.1,134.9 L323.5,135.2 L323.9,136.1 L324.3,136.6 L324.7,135.2 L325.1,136.3 L325.5,136.2 L325.9,137.1 L326.3,135.3 L326.7,136.4 L327.1,137.2 L327.5,136.5 L327.9,137.5 L328.3,136.8 L328.7,137.5 L329.1,137.3 L329.5,136.8 L329.9,136.4 L330.3,136.6 L330.7,136.7 L331.1,136.1 L331.5,135.8 L331.9,137.8 L332.3,135.3 L332.7,136.2 L333.1,136.8 L333.5,136.0 L333.9,136.4 L334.3,136.3 L334.7,135.9 L335.1,137.2 L335.5,136.6 L335.9,136.9 L336.3,137.9 L336.7,136.4 L337.1,137.1 L337.5,137.3 L337.9,137.1 L338.3,136.9 L338.7,136.5 L339.1,135.7 L339.5,136.7 L339.9,136.6 L340.3,136.0 L340.7,135.8 L341.1,136.7 L341.5,135.8 L341.9,136.3 L342.3,136.0 L342.7,135.3 L343.1,137.1 L343.5,136.7 L343.9,136.5 L344.3,135.7 L344.7,136.4 L345.1,136.3 L345.5,136.0 L345.9,137.3 L346.3,135.6 L346.7,136.9 L347.1,135.6 L347.5,135.5 L347.9,135.9 L348.3,136.8 L348.7,136.3 L349.1,136.0 L349.5,136.3 L349.9,136.0 L350.3,136.0 L350.7,135.6 L351.1,136.1 L351.5,136.3 L351.9,135.2 L352.3,136.0 L352.7,137.0 L353.1,135.9 L353.5,136.5 L353.9,135.9 L354.3,135.9 L354.7,136.2 L355.1,136.0 L355.5,136.4 L355.9,135.4 L356.3,136.6 L356.7,135.7 L357.1,136.5 L357.5,136.5 L357.9,134.9 L358.3,135.8 L358.7,135.2 L359.1,136.7 L359.5,136.1 L359.9,136.2 L360.3,136.5 L360.7,137.3 L361.1,135.6 L361.5,137.0 L361.9,137.1 L362.3,136.9 L362.7,137.3 L363.1,138.0 L363.5,137.4 L363.9,137.7 L364.3,136.6 L364.7,135.9 L365.1,136.3 L365.5,136.7 L365.9,136.9 L366.3,137.5 L366.7,138.2 L367.1,137.1 L367.5,135.8 L367.9,139.5 L368.3,136.3 L368.7,136.7 L369.1,137.2 L369.5,137.0 L369.9,136.6 L370.3,136.7 L370.7,137.1 L371.1,136.9 L371.5,137.6 L371.9,135.0 L372.3,136.4 L372.7,136.6 L373.1,137.1 L373.5,136.9 L373.9,137.3 L374.3,136.3 L374.7,137.1 L375.1,137.4 L375.5,136.9 L375.9,136.6 L376.3,137.3 L376.7,137.9 L377.1,136.0 L377.5,138.0 L377.9,137.2 L378.3,136.8 L378.7,137.4 L379.1,139.0 L379.5,137.7 L379.9,136.8 L380.3,138.2 L380.7,137.3 L381.1,138.0 L381.5,138.2 L381.9,137.7 L382.3,138.4 L382.7,137.8 L383.1,138.7 L383.5,137.9 L383.9,137.6 L384.3,137.8 L384.7,137.6 L385.1,137.2 L385.5,137.7 L385.9,137.2 L386.3,137.6 L386.7,136.0 L387.1,135.9 L387.5,136.2 L387.9,135.7 L388.3,136.3 L388.7,136.8 L389.1,136.9 L389.5,136.8 L389.9,136.5 L390.3,136.1 L390.7,136.6 L391.1,136.4 L391.5,136.9 L391.9,136.4 L392.3,138.0 L392.7,137.6 L393.1,137.3 L393.5,136.7 L393.9,137.9 L394.3,137.3 L394.7,137.3 L395.1,136.8 L395.5,136.9 L395.9,137.4 L396.3,137.7 L396.7,136.1 L397.1,136.6 L397.5,136.6 L397.9,136.3 L398.3,136.1 L398.7,137.7 L399.1,136.1 L399.5,136.8 L399.9,133.5 L400.3,136.9 L400.7,135.8 L401.1,137.5 L401.5,137.1 L401.9,136.9 L402.3,138.4 L402.7,137.8 L403.1,137.6 L403.5,137.4 L403.9,138.4 L404.3,138.0 L404.7,138.1 L405.1,137.5 L405.5,137.8 L405.9,138.4 L406.3,138.2 L406.7,137.2 L407.1,137.6 L407.5,138.2 L407.9,139.8 L408.3,137.9 L408.7,137.1 L409.1,138.7 L409.5,138.4 L409.9,137.9 L410.3,138.8 L410.7,138.1" fill="none" stroke="#e81a1a" stroke-width="1.05" stroke-linejoin="round"/>
<path d="M247.5,197.4 L248.0,197.2 L248.5,197.9 L249.0,198.0 L249.5,196.9 L250.0,198.5 L250.5,197.2 M251.5,198.1 L252.0,197.8 L252.5,198.1 L253.0,197.6 L253.5,197.9 L254.0,198.9 L254.5,197.6 L255.0,198.4 L255.5,197.4 M256.5,198.5 L257.0,197.2 L257.5,198.1 L258.0,196.6 L258.5,197.3 L259.0,197.7 M260.0,198.4 L260.5,197.4 L261.0,197.9 L261.5,198.1 L262.0,197.0 L262.5,198.2 L263.0,198.8 L263.5,198.7 L264.0,197.6 L264.5,197.7 L265.0,197.4 M266.0,197.8 L266.5,198.3 L267.0,198.0 L267.5,197.4 L268.0,198.4 M271.5,202.3 L272.0,203.1 L272.5,202.1 L273.0,201.9 L273.5,202.0 M275.0,201.8 L275.5,202.5 L276.0,202.7 L276.5,201.1 L277.0,203.2 L277.5,202.2 L278.0,202.9 M279.0,202.2 L279.5,202.3 L280.0,202.5 L280.5,202.9 L281.0,202.2 L281.5,201.7 M285.5,198.4 L286.0,197.0 L286.5,196.7 M287.5,196.7 L288.0,195.3 L288.5,197.0 L289.0,195.6 L289.5,194.1 L290.0,194.4 M291.0,194.8 L291.5,195.3 L292.0,196.2 L292.5,195.5 L293.0,196.2 L293.5,195.4 L294.0,194.7 L294.5,196.1 L295.0,194.8 M296.5,195.2 L297.0,195.4 L297.5,195.9 L298.0,196.4 L298.5,197.1 M299.5,197.8 L300.0,197.3 L300.5,196.4 L301.0,196.4 L301.5,196.8 L302.0,196.5 L302.5,196.7 L303.0,197.2 L303.5,196.9 M304.5,196.4 L305.0,196.3 L305.5,196.4 L306.0,196.6 L306.5,197.9 M310.5,200.8 L311.0,202.3 L311.5,201.6 M312.5,201.2 L313.0,203.1 L313.5,203.4 L314.0,201.6 L314.5,202.3 M316.0,201.4 L316.5,202.3 L317.0,202.4 L317.5,201.5 L318.0,200.4 L318.5,201.2 L319.0,201.3 M320.5,200.3 L321.0,201.0 L321.5,200.5 L322.0,200.4 L322.5,199.7 M323.5,199.3 L324.0,197.6 L324.5,198.4 L325.0,198.5 L325.5,197.8 L326.0,198.5 L326.5,197.2 L327.0,197.8 L327.5,196.5 L328.0,197.0 L328.5,196.5 M330.0,196.5 L330.5,196.2 L331.0,195.1 L331.5,194.3 L332.0,194.1 L332.5,195.1 L333.0,194.0 L333.5,195.5 M334.5,195.1 L335.0,195.4 L335.5,195.8 L336.0,194.9 L336.5,194.8 L337.0,194.4 L337.5,195.9 L338.0,195.3 L338.5,195.2 L339.0,195.3 L339.5,195.8 M340.5,196.2 L341.0,194.0 L341.5,195.6 L342.0,194.6 L342.5,194.7 M344.0,197.2 L344.5,198.0 L345.0,198.1 L345.5,199.3 L346.0,199.7 L346.5,200.4 L347.0,200.6 L347.5,200.9 M349.0,202.6 L349.5,201.0 L350.0,200.7 L350.5,201.8 L351.0,201.9 L351.5,202.0 L352.0,202.2 M353.0,201.3 L353.5,201.5 L354.0,201.3 L354.5,201.0 M356.0,201.3 L356.5,201.2 L357.0,201.0 L357.5,200.3 L358.0,200.9 L358.5,201.0 M360.0,200.2 L360.5,201.7 L361.0,202.3 L361.5,200.0 L362.0,201.2 L362.5,201.7 L363.0,200.5 L363.5,200.3 L364.0,201.2 M365.5,202.1 L366.0,202.0 L366.5,201.5 L367.0,201.1 L367.5,200.9 L368.0,201.6 L368.5,200.9 L369.0,201.9 L369.5,201.8 L370.0,200.6 L370.5,201.5 L371.0,202.1 M372.0,200.7 L372.5,201.2 L373.0,201.2 L373.5,201.6 L374.0,201.6 L374.5,201.4 L375.0,202.2 M376.0,201.5 L376.5,201.0 L377.0,202.2 L377.5,202.1 L378.0,202.4 M379.0,202.5 L379.5,201.8 L380.0,203.1 L380.5,203.5 L381.0,201.9 L381.5,201.0 L382.0,202.3 L382.5,202.3 L383.0,202.7 L383.5,202.7 L384.0,203.0 L384.5,204.3 L385.0,202.4 L385.5,202.5 L386.0,203.1 L386.5,201.7 L387.0,203.3 L387.5,202.5 L388.0,202.1 L388.5,202.4 L389.0,203.3 M390.5,203.3 L391.0,202.6 L391.5,203.3 L392.0,202.9 L392.5,204.3 L393.0,201.6 L393.5,203.8 L394.0,203.3 L394.5,203.0 L395.0,202.7 M396.0,202.1 L396.5,201.7 L397.0,203.9 L397.5,203.2 L398.0,203.0 L398.5,202.8 L399.0,201.4 L399.5,202.3 L400.0,202.5 L400.5,203.2 L401.0,202.0 M402.0,202.6 L402.5,202.8 L403.0,202.4 L403.5,203.2 L404.0,203.1 M405.5,204.6 L406.0,202.8 L406.5,204.1 L407.0,202.9 L407.5,203.2 L408.0,204.7 M409.5,204.0 L410.0,204.5 L410.5,203.9 L411.0,204.9" fill="none" stroke="#111" stroke-width="1.5" stroke-linejoin="round"/>
<path d="M249.5,252.7 L250.5,252.8 M253.5,253.2 L254.5,252.6 M260.5,252.4 L261.5,251.8 L262.5,251.2 L263.5,252.6 L264.5,251.8 L265.5,253.1 M267.5,252.5 L268.5,251.3 L269.5,251.5 L270.5,251.7 L271.5,251.8 L272.5,250.6 M280.5,249.8 L281.5,250.5 L282.5,249.5 L283.5,250.3 L284.5,249.7 L285.5,250.3 M287.5,250.1 L288.5,250.3 L289.5,249.4 L290.5,249.2 L291.5,250.4 L292.5,251.2 M294.5,251.4 L295.5,252.5 L296.5,252.0 L297.5,252.6 L298.5,251.9 L299.5,252.6 L300.5,253.1 L301.5,252.1 L302.5,252.3 L303.5,252.8 L304.5,252.7 M306.5,251.1 L307.5,249.8 L308.5,250.3 M311.5,248.2 L312.5,249.3 L313.5,248.5 M315.5,245.3 L316.5,245.2 L317.5,245.4 L318.5,245.7 L319.5,246.1 L320.5,247.4 M323.5,245.8 L324.5,247.1 L325.5,247.9 L326.5,249.4 L327.5,249.8 L328.5,251.2 L329.5,251.1 L330.5,251.5 L331.5,251.5 L332.5,251.5 M334.5,252.0 L335.5,251.5 L336.5,251.3 L337.5,251.2 L338.5,251.5 L339.5,251.7 L340.5,251.2 M342.5,247.9 L343.5,247.0 L344.5,246.4 L345.5,247.6 L346.5,246.2 L347.5,246.1 L348.5,246.0 L349.5,246.0 L350.5,246.5 L351.5,247.0 M353.5,246.2 L354.5,247.1 L355.5,245.9 L356.5,247.3 L357.5,247.4 L358.5,247.9 L359.5,247.2 L360.5,247.7 L361.5,247.2 L362.5,247.3 L363.5,247.6 L364.5,247.1 L365.5,246.9 L366.5,248.1 L367.5,247.8 L368.5,247.1 L369.5,247.9 L370.5,248.9 L371.5,249.2 L372.5,249.2 L373.5,249.0 L374.5,248.2 L375.5,248.4 L376.5,247.7 M378.5,247.3 L379.5,246.6 L380.5,246.2 L381.5,245.6 L382.5,244.7 L383.5,245.8 L384.5,246.2 L385.5,248.2 L386.5,249.1 L387.5,248.3 M389.5,247.4 L390.5,248.4 L391.5,247.4 L392.5,246.7 L393.5,246.6 L394.5,247.9 M396.5,249.4 L397.5,248.2 L398.5,248.2 L399.5,248.1 L400.5,247.8 L401.5,248.2 L402.5,248.2 L403.5,249.0 L404.5,248.5 M406.5,248.7 L407.5,249.5 L408.5,248.9 L409.5,249.5 L410.5,250.0" fill="none" stroke="#111" stroke-width="1.05" stroke-linejoin="round"/>
<path d="M460.0,67.1 L460.4,67.2 L460.8,67.1 L461.2,67.1 L461.6,67.0 L462.0,67.0 L462.4,66.9 L462.8,66.9 L463.2,66.9 L463.6,66.9 L464.0,66.9 L464.4,65.2 L464.8,66.0 L465.2,66.8 L465.6,66.9 L466.0,66.8 L466.4,66.8 L466.8,66.9 L467.2,66.7 L467.6,66.8 L468.0,66.9 L468.4,66.8 L468.8,66.9 L469.2,66.8 L469.6,66.8 L470.0,66.8 L470.4,66.9 L470.8,66.8 L471.2,66.9 L471.6,66.8 L472.0,66.8 L472.4,66.8 L472.8,66.8 L473.2,66.8 L473.6,66.8 L474.0,66.8 L474.4,66.9 L474.8,66.8 L475.2,66.9 L475.6,66.8 L476.0,66.8 L476.4,66.8 L476.8,66.8 L477.2,66.9 L477.6,66.8 L478.0,66.8 L478.4,66.8 L478.8,66.9 L479.2,66.9 L479.6,66.9 L480.0,66.8 L480.4,66.4 L480.8,65.9 L481.2,65.9 L481.6,66.3 L482.0,66.8 L482.4,66.8 L482.8,66.9 L483.2,66.8 L483.6,66.8 L484.0,66.8 L484.4,66.9 L484.8,66.8 L485.2,66.8 L485.6,66.9 L486.0,66.8 L486.4,66.8 L486.8,66.8 L487.2,66.9 L487.6,66.8 L488.0,66.8 L488.4,66.7 L488.8,66.8 L489.2,66.8 L489.6,66.7 L490.0,66.8 L490.4,66.8 L490.8,66.8 L491.2,66.8 L491.6,66.8 L492.0,66.7 L492.4,66.8 L492.8,66.8 L493.2,66.7 L493.6,66.7 L494.0,66.7 L494.4,66.8 L494.8,66.8 L495.2,66.8 L495.6,66.7 L496.0,66.7 L496.4,66.7 L496.8,66.8 L497.2,66.7 L497.6,66.8 L498.0,66.7 L498.4,66.8 L498.8,66.7 L499.2,66.7 L499.6,66.7 L500.0,66.8 L500.4,66.7 L500.8,66.7 L501.2,66.7 L501.6,66.7 L502.0,66.7 L502.4,66.7 L502.8,66.7 L503.2,66.7 L503.6,66.7 L504.0,66.7 L504.4,66.6 L504.8,66.6 L505.2,66.8 L505.6,66.7 L506.0,66.7 L506.4,66.8 L506.8,66.7 L507.2,66.7 L507.6,66.6 L508.0,66.7 L508.4,66.7 L508.8,66.7 L509.2,66.7 L509.6,66.7 L510.0,66.7 L510.4,66.7 L510.8,66.7 L511.2,66.5 L511.6,66.6 L512.0,66.7 L512.4,66.6 L512.8,66.7 L513.2,66.7 L513.6,66.6 L514.0,66.7 L514.4,66.7 L514.8,66.7 L515.2,66.7 L515.6,66.7 L516.0,66.6 L516.4,66.6 L516.8,66.6 L517.2,66.6 L517.6,66.6 L518.0,66.7 L518.4,66.6 L518.8,66.6 L519.2,66.6 L519.6,66.6 L520.0,66.6 L520.4,66.4 L520.8,66.4 L521.2,66.4 L521.6,65.6 L522.0,63.2 L522.4,63.5 L522.8,63.7 L523.2,63.9 L523.6,64.3 L524.0,64.5 L524.4,64.8 L524.8,65.0 L525.2,65.1 L525.6,65.0 L526.0,64.8 L526.4,64.5 L526.8,64.7 L527.2,64.6 L527.6,64.2 L528.0,64.3 L528.4,63.8 L528.8,64.0 L529.2,63.9 L529.6,63.6 L530.0,63.3 L530.4,63.3 L530.8,63.3 L531.2,63.3 L531.6,63.2 L532.0,63.5 L532.4,63.3 L532.8,63.1 L533.2,63.4 L533.6,63.2 L534.0,63.1 L534.4,63.0 L534.8,63.2 L535.2,63.0 L535.6,63.2 L536.0,63.1 L536.4,63.4 L536.8,63.4 L537.2,63.5 L537.6,63.2 L538.0,63.8 L538.4,63.8 L538.8,63.5 L539.2,63.6 L539.6,64.0 L540.0,63.8 L540.4,63.7 L540.8,63.5 L541.2,63.9 L541.6,63.7 L542.0,63.5 L542.4,63.5 L542.8,63.6 L543.2,63.5 L543.6,63.6 L544.0,63.3 L544.4,63.4 L544.8,63.2 L545.2,63.2 L545.6,63.3 L546.0,63.2 L546.4,63.0 L546.8,63.0 L547.2,62.8 L547.6,62.8 L548.0,62.8 L548.4,62.7 L548.8,62.8 L549.2,62.7 L549.6,62.5 L550.0,62.5 L550.4,62.6 L550.8,62.5 L551.2,62.5 L551.6,62.5 L552.0,62.2 L552.4,62.4 L552.8,62.4 L553.2,62.2 L553.6,62.2 L554.0,62.2 L554.4,62.3 L554.8,62.1 L555.2,62.1 L555.6,62.0 L556.0,61.8 L556.4,61.6 L556.8,61.3 L557.2,61.0 L557.6,61.0 L558.0,60.7 L558.4,60.7 L558.8,60.7 L559.2,60.3 L559.6,60.0 L560.0,59.8 L560.4,60.2 L560.8,59.8 L561.2,60.2 L561.6,60.3 L562.0,60.3 L562.4,60.1 L562.8,60.2 L563.2,60.2 L563.6,60.6 L564.0,60.4 L564.4,60.5 L564.8,60.4 L565.2,60.4 L565.6,60.0 L566.0,59.9 L566.4,59.7 L566.8,59.5 L567.2,58.9 L567.6,58.7 L568.0,58.6 L568.4,58.6 L568.8,59.1 L569.2,59.3 L569.6,59.7 L570.0,59.9 L570.4,60.1 L570.8,60.3 L571.2,60.5 L571.6,60.1 L572.0,59.9 L572.4,60.0 L572.8,59.7 L573.2,59.7 L573.6,59.3 L574.0,59.3 L574.4,58.4 L574.8,57.6 L575.2,56.8 L575.6,55.8 L576.0,55.2 L576.4,54.8 L576.8,54.2 L577.2,53.9 L577.6,53.4 L578.0,53.1 L578.4,53.1 L578.8,52.6 L579.2,52.6 L579.6,52.3 L580.0,52.0 L580.4,52.3 L580.8,48.4 L581.2,43.1 L581.6,39.0 L582.0,38.5 L582.4,36.9 L582.8,39.1 L583.2,41.5 L583.6,44.8 L584.0,47.0 L584.4,50.5 L584.8,57.4 L585.2,60.6 L585.6,61.0 L586.0,61.1 L586.4,61.2 L586.8,61.8 L587.2,61.6 L587.6,61.7 L588.0,61.3 L588.4,61.6 L588.8,61.6 L589.2,61.8 L589.6,62.0 L590.0,61.7 L590.4,61.9 L590.8,61.9 L591.2,61.2 L591.6,60.8 L592.0,60.7 L592.4,60.4 L592.8,60.0 L593.2,59.9 L593.6,60.4 L594.0,60.4 L594.4,61.0 L594.8,60.8 L595.2,61.9 L595.6,61.6 L596.0,62.0 L596.4,62.0 L596.8,62.2 L597.2,61.6 L597.6,61.8 L598.0,62.0 L598.4,61.8 L598.8,61.6 L599.2,61.5 L599.6,61.7 L600.0,61.6 L600.4,61.2 L600.8,61.2 L601.2,60.7 L601.6,61.2 L602.0,60.8 L602.4,60.5 L602.8,60.9 L603.2,60.8 L603.6,61.4 L604.0,61.9 L604.4,62.0 L604.8,63.1 L605.2,63.2 L605.6,63.5 L606.0,63.1 L606.4,62.9 L606.8,63.1 L607.2,62.9 L607.6,63.3 L608.0,62.8 L608.4,63.1 L608.8,63.2 L609.2,62.7 L609.6,63.1 L610.0,63.0 L610.4,63.1 L610.8,63.0 L611.2,63.2 L611.6,63.6 L612.0,63.3 L612.4,63.3 L612.8,63.4 L613.2,63.6 L613.6,63.2 L614.0,63.8 L614.4,63.7 L614.8,63.7 L615.2,63.9 L615.6,63.7 L616.0,63.1 L616.4,62.9 L616.8,62.9 L617.2,63.0 L617.6,62.5 L618.0,62.2 L618.4,62.0 L618.8,61.6 L619.2,61.6 L619.6,61.3 L620.0,60.9 L620.4,60.4 L620.8,58.4 L621.2,57.3 L621.6,55.7 L622.0,54.4 L622.4,53.4 L622.8,52.0 L623.2,50.3 L623.6,49.1 L623.6,51.0 L623.2,52.2 L622.8,53.5 L622.4,55.0 L622.0,56.4 L621.6,57.6 L621.2,59.2 L620.8,60.9 L620.4,61.4 L620.0,63.3 L619.6,62.8 L619.2,63.6 L618.8,63.8 L618.4,64.0 L618.0,63.9 L617.6,64.6 L617.2,64.8 L616.8,64.8 L616.4,64.7 L616.0,65.4 L615.6,65.5 L615.2,65.6 L614.8,65.6 L614.4,65.6 L614.0,65.5 L613.6,65.6 L613.2,65.5 L612.8,65.6 L612.4,65.0 L612.0,65.6 L611.6,64.8 L611.2,65.0 L610.8,64.9 L610.4,65.0 L610.0,64.8 L609.6,64.8 L609.2,64.8 L608.8,65.1 L608.4,65.0 L608.0,64.9 L607.6,64.9 L607.2,64.9 L606.8,64.9 L606.4,64.9 L606.0,64.8 L605.6,65.0 L605.2,64.6 L604.8,64.6 L604.4,64.0 L604.0,63.3 L603.6,63.8 L603.2,62.5 L602.8,62.6 L602.4,62.7 L602.0,62.7 L601.6,63.1 L601.2,63.0 L600.8,63.2 L600.4,62.8 L600.0,63.2 L599.6,63.3 L599.2,63.2 L598.8,63.5 L598.4,63.9 L598.0,63.8 L597.6,63.4 L597.2,63.6 L596.8,63.8 L596.4,63.6 L596.0,63.8 L595.6,64.1 L595.2,63.5 L594.8,63.2 L594.4,62.6 L594.0,62.4 L593.6,62.4 L593.2,62.1 L592.8,62.2 L592.4,62.5 L592.0,62.6 L591.6,62.8 L591.2,63.0 L590.8,63.3 L590.4,63.3 L590.0,63.8 L589.6,63.6 L589.2,63.4 L588.8,63.7 L588.4,63.5 L588.0,63.3 L587.6,63.1 L587.2,63.1 L586.8,63.0 L586.4,63.0 L586.0,62.9 L585.6,62.9 L585.2,62.4 L584.8,59.5 L584.4,52.5 L584.0,49.3 L583.6,46.3 L583.2,43.9 L582.8,41.0 L582.4,39.4 L582.0,39.5 L581.6,40.9 L581.2,45.2 L580.8,49.9 L580.4,53.8 L580.0,53.9 L579.6,54.6 L579.2,54.3 L578.8,54.4 L578.4,54.7 L578.0,54.0 L577.6,54.7 L577.2,55.4 L576.8,55.7 L576.4,56.2 L576.0,56.4 L575.6,57.0 L575.2,57.7 L574.8,58.6 L574.4,59.3 L574.0,60.2 L573.6,60.5 L573.2,60.8 L572.8,60.6 L572.4,60.9 L572.0,61.1 L571.6,61.2 L571.2,61.3 L570.8,61.6 L570.4,61.3 L570.0,60.9 L569.6,60.5 L569.2,60.2 L568.8,60.0 L568.4,59.8 L568.0,59.6 L567.6,59.8 L567.2,60.1 L566.8,60.2 L566.4,60.5 L566.0,60.9 L565.6,61.1 L565.2,61.3 L564.8,61.4 L564.4,61.4 L564.0,61.1 L563.6,61.4 L563.2,61.0 L562.8,61.2 L562.4,61.3 L562.0,61.1 L561.6,61.1 L561.2,60.9 L560.8,61.1 L560.4,61.0 L560.0,60.9 L559.6,61.3 L559.2,61.2 L558.8,61.4 L558.4,61.7 L558.0,61.8 L557.6,62.1 L557.2,62.1 L556.8,62.2 L556.4,62.7 L556.0,62.6 L555.6,62.7 L555.2,63.0 L554.8,63.0 L554.4,63.1 L554.0,63.3 L553.6,63.3 L553.2,63.3 L552.8,63.2 L552.4,63.2 L552.0,63.2 L551.6,63.3 L551.2,63.5 L550.8,63.3 L550.4,63.5 L550.0,63.5 L549.6,63.6 L549.2,63.7 L548.8,63.8 L548.4,63.7 L548.0,63.8 L547.6,63.8 L547.2,64.1 L546.8,63.9 L546.4,63.9 L546.0,64.1 L545.6,64.2 L545.2,64.1 L544.8,64.3 L544.4,64.0 L544.0,64.4 L543.6,64.3 L543.2,64.3 L542.8,64.4 L542.4,64.5 L542.0,64.8 L541.6,64.5 L541.2,64.7 L540.8,64.7 L540.4,64.7 L540.0,64.6 L539.6,64.6 L539.2,64.6 L538.8,64.5 L538.4,64.6 L538.0,64.4 L537.6,64.3 L537.2,64.5 L536.8,64.2 L536.4,64.1 L536.0,64.0 L535.6,64.1 L535.2,64.2 L534.8,64.1 L534.4,64.2 L534.0,64.1 L533.6,64.3 L533.2,64.1 L532.8,64.2 L532.4,64.2 L532.0,64.3 L531.6,64.2 L531.2,64.3 L530.8,64.3 L530.4,64.5 L530.0,64.2 L529.6,64.5 L529.2,64.5 L528.8,64.8 L528.4,64.9 L528.0,65.1 L527.6,65.0 L527.2,65.4 L526.8,65.4 L526.4,65.6 L526.0,65.8 L525.6,65.8 L525.2,65.9 L524.8,65.8 L524.4,65.7 L524.0,65.4 L523.6,65.0 L523.2,64.8 L522.8,64.3 L522.4,64.1 L522.0,63.9 L521.6,66.2 L521.2,66.8 L520.8,66.8 L520.4,66.9 L520.0,67.0 L519.6,67.0 L519.2,67.0 L518.8,67.0 L518.4,67.0 L518.0,67.0 L517.6,66.9 L517.2,67.0 L516.8,67.0 L516.4,67.0 L516.0,67.0 L515.6,67.0 L515.2,67.0 L514.8,67.0 L514.4,67.0 L514.0,67.0 L513.6,67.0 L513.2,66.9 L512.8,67.0 L512.4,66.9 L512.0,67.0 L511.6,67.0 L511.2,67.0 L510.8,67.0 L510.4,67.0 L510.0,67.0 L509.6,67.1 L509.2,67.0 L508.8,67.1 L508.4,67.0 L508.0,66.9 L507.6,67.0 L507.2,67.0 L506.8,67.0 L506.4,67.0 L506.0,67.0 L505.6,67.0 L505.2,67.0 L504.8,67.0 L504.4,67.1 L504.0,67.0 L503.6,67.0 L503.2,67.0 L502.8,67.0 L502.4,67.0 L502.0,67.0 L501.6,67.1 L501.2,67.1 L500.8,67.1 L500.4,67.1 L500.0,67.1 L499.6,67.1 L499.2,67.1 L498.8,67.1 L498.4,67.1 L498.0,67.1 L497.6,67.1 L497.2,67.1 L496.8,67.1 L496.4,67.2 L496.0,67.1 L495.6,67.1 L495.2,67.1 L494.8,67.2 L494.4,67.1 L494.0,67.1 L493.6,67.1 L493.2,67.1 L492.8,67.2 L492.4,67.1 L492.0,67.1 L491.6,67.1 L491.2,67.0 L490.8,67.0 L490.4,67.1 L490.0,67.1 L489.6,67.1 L489.2,67.1 L488.8,67.1 L488.4,67.1 L488.0,67.2 L487.6,67.2 L487.2,67.2 L486.8,67.2 L486.4,67.2 L486.0,67.2 L485.6,67.1 L485.2,67.1 L484.8,67.1 L484.4,67.2 L484.0,67.2 L483.6,67.2 L483.2,67.2 L482.8,67.2 L482.4,67.2 L482.0,67.2 L481.6,66.6 L481.2,66.2 L480.8,66.2 L480.4,66.7 L480.0,67.1 L479.6,67.2 L479.2,67.1 L478.8,67.1 L478.4,67.1 L478.0,67.2 L477.6,67.2 L477.2,67.2 L476.8,67.2 L476.4,67.2 L476.0,67.2 L475.6,67.2 L475.2,67.1 L474.8,67.1 L474.4,67.2 L474.0,67.2 L473.6,67.1 L473.2,67.2 L472.8,67.1 L472.4,67.3 L472.0,67.2 L471.6,67.1 L471.2,67.2 L470.8,67.2 L470.4,67.2 L470.0,67.2 L469.6,67.2 L469.2,67.2 L468.8,67.1 L468.4,67.2 L468.0,67.1 L467.6,67.2 L467.2,67.2 L466.8,67.2 L466.4,67.2 L466.0,67.1 L465.6,67.2 L465.2,67.2 L464.8,66.4 L464.4,65.6 L464.0,67.2 L463.6,67.2 L463.2,67.2 L462.8,67.3 L462.4,67.3 L462.0,67.3 L461.6,67.4 L461.2,67.4 L460.8,67.5 L460.4,67.4 L460.0,67.5Z" fill="#000" stroke="none"/>
<path d="M460.0,67.0 L460.4,67.5 L460.8,67.6 L461.2,67.6 L461.6,67.6 L462.0,67.6 L462.4,67.4 L462.8,67.5 L463.2,67.1 L463.6,67.2 L464.0,67.5 L464.4,66.1 L464.8,66.1 L465.2,66.5 L465.6,67.7 L466.0,67.4 L466.4,67.6 L466.8,67.3 L467.2,67.1 L467.6,66.8 L468.0,66.7 L468.4,67.5 L468.8,67.3 L469.2,67.1 L469.6,66.6 L470.0,66.8 L470.4,66.8 L470.8,66.9 L471.2,66.0 L471.6,67.1 L472.0,67.5 L472.4,66.8 L472.8,67.0 L473.2,67.1 L473.6,66.7 L474.0,67.2 L474.4,66.7 L474.8,66.9 L475.2,67.1 L475.6,67.0 L476.0,67.0 L476.4,66.7 L476.8,67.3 L477.2,66.6 L477.6,67.3 L478.0,66.8 L478.4,66.6 L478.8,67.0 L479.2,66.6 L479.6,66.8 L480.0,67.0 L480.4,66.8 L480.8,66.3 L481.2,66.2 L481.6,66.4 L482.0,66.5 L482.4,66.9 L482.8,66.9 L483.2,67.0 L483.6,66.8 L484.0,66.8 L484.4,67.3 L484.8,66.5 L485.2,67.0 L485.6,67.4 L486.0,66.7 L486.4,66.6 L486.8,66.9 L487.2,66.9 L487.6,67.1 L488.0,67.4 L488.4,66.9 L488.8,67.2 L489.2,66.8 L489.6,66.8 L490.0,67.1 L490.4,66.7 L490.8,67.4 L491.2,66.8 L491.6,66.9 L492.0,66.6 L492.4,66.8 L492.8,66.6 L493.2,66.8 L493.6,66.3 L494.0,66.9 L494.4,67.5 L494.8,66.3 L495.2,67.5 L495.6,66.9 L496.0,67.2 L496.4,66.6 L496.8,67.6 L497.2,66.6 L497.6,66.9 L498.0,67.5 L498.4,66.5 L498.8,66.1 L499.2,66.9 L499.6,66.6 L500.0,66.6 L500.4,66.6 L500.8,66.4 L501.2,67.4 L501.6,67.3 L502.0,66.4 L502.4,66.9 L502.8,66.7 L503.2,67.3 L503.6,66.6 L504.0,67.4 L504.4,66.9 L504.8,66.6 L505.2,66.8 L505.6,66.7 L506.0,67.7 L506.4,66.9 L506.8,66.7 L507.2,66.9 L507.6,67.4 L508.0,66.5 L508.4,66.3 L508.8,67.3 L509.2,67.1 L509.6,66.7 L510.0,66.8 L510.4,67.2 L510.8,65.9 L511.2,67.3 L511.6,66.8 L512.0,67.1 L512.4,66.8 L512.8,67.9 L513.2,66.6 L513.6,67.2 L514.0,65.9 L514.4,66.8 L514.8,67.1 L515.2,66.3 L515.6,66.1 L516.0,66.9 L516.4,67.2 L516.8,67.2 L517.2,66.6 L517.6,66.9 L518.0,66.3 L518.4,67.4 L518.8,66.6 L519.2,67.3 L519.6,66.7 L520.0,66.7 L520.4,67.4 L520.8,66.3 L521.2,67.2 L521.6,65.7 L522.0,63.0 L522.4,63.3 L522.8,64.8 L523.2,64.3 L523.6,64.4 L524.0,63.7 L524.4,66.2 L524.8,66.4 L525.2,65.8 L525.6,66.1 L526.0,62.3 L526.4,64.6 L526.8,65.1 L527.2,64.9 L527.6,64.2 L528.0,64.8 L528.4,63.8 L528.8,63.7 L529.2,63.0 L529.6,64.2 L530.0,63.2 L530.4,63.4 L530.8,65.1 L531.2,63.8 L531.6,63.8 L532.0,62.4 L532.4,63.3 L532.8,64.6 L533.2,64.2 L533.6,63.7 L534.0,63.5 L534.4,63.7 L534.8,64.0 L535.2,63.3 L535.6,61.4 L536.0,65.5 L536.4,64.8 L536.8,63.7 L537.2,65.2 L537.6,62.7 L538.0,65.2 L538.4,64.2 L538.8,64.9 L539.2,63.8 L539.6,64.3 L540.0,64.7 L540.4,65.1 L540.8,64.6 L541.2,64.5 L541.6,63.5 L542.0,65.6 L542.4,64.2 L542.8,63.8 L543.2,63.6 L543.6,62.8 L544.0,63.2 L544.4,62.4 L544.8,64.0 L545.2,63.7 L545.6,63.9 L546.0,62.5 L546.4,63.2 L546.8,62.9 L547.2,64.4 L547.6,62.0 L548.0,61.9 L548.4,64.5 L548.8,63.5 L549.2,61.6 L549.6,64.3 L550.0,64.4 L550.4,64.1 L550.8,61.0 L551.2,63.0 L551.6,62.0 L552.0,62.6 L552.4,61.3 L552.8,64.4 L553.2,62.1 L553.6,63.0 L554.0,63.4 L554.4,63.2 L554.8,63.0 L555.2,62.1 L555.6,62.6 L556.0,62.0 L556.4,59.8 L556.8,62.8 L557.2,61.1 L557.6,61.0 L558.0,60.9 L558.4,59.8 L558.8,59.8 L559.2,59.1 L559.6,61.1 L560.0,61.6 L560.4,60.6 L560.8,59.5 L561.2,61.9 L561.6,60.3 L562.0,59.1 L562.4,58.9 L562.8,61.0 L563.2,62.2 L563.6,60.5 L564.0,60.3 L564.4,60.7 L564.8,60.1 L565.2,60.3 L565.6,60.8 L566.0,59.6 L566.4,61.0 L566.8,58.8 L567.2,60.2 L567.6,59.6 L568.0,58.6 L568.4,59.0 L568.8,59.2 L569.2,61.5 L569.6,59.3 L570.0,61.5 L570.4,61.6 L570.8,60.5 L571.2,62.5 L571.6,58.4 L572.0,60.8 L572.4,60.5 L572.8,60.2 L573.2,60.9 L573.6,59.5 L574.0,59.5 L574.4,60.0 L574.8,58.0 L575.2,56.2 L575.6,57.1 L576.0,55.6 L576.4,54.6 L576.8,55.6 L577.2,53.5 L577.6,52.8 L578.0,53.4 L578.4,53.4 L578.8,53.6 L579.2,51.4 L579.6,56.3 L580.0,54.4 L580.4,53.4 L580.8,49.6 L581.2,39.4 L581.6,41.5 L582.0,37.1 L582.4,39.1 L582.8,37.9 L583.2,44.7 L583.6,44.6 L584.0,47.6 L584.4,54.2 L584.8,60.1 L585.2,59.3 L585.6,60.6 L586.0,62.3 L586.4,61.7 L586.8,63.7 L587.2,61.1 L587.6,59.0 L588.0,60.9 L588.4,62.3 L588.8,63.7 L589.2,64.1 L589.6,65.1 L590.0,63.4 L590.4,62.4 L590.8,63.8 L591.2,62.0 L591.6,61.1 L592.0,60.8 L592.4,63.1 L592.8,63.8 L593.2,63.5 L593.6,58.5 L594.0,63.6 L594.4,59.9 L594.8,61.6 L595.2,63.5 L595.6,60.3 L596.0,60.8 L596.4,61.6 L596.8,65.9 L597.2,64.7 L597.6,61.1 L598.0,62.9 L598.4,62.8 L598.8,63.1 L599.2,61.1 L599.6,65.0 L600.0,61.6 L600.4,63.7 L600.8,59.1 L601.2,62.8 L601.6,62.2 L602.0,64.3 L602.4,57.1 L602.8,62.7 L603.2,63.4 L603.6,61.9 L604.0,65.2 L604.4,67.1 L604.8,65.3 L605.2,65.4 L605.6,66.4 L606.0,64.8 L606.4,66.2 L606.8,65.1 L607.2,62.8 L607.6,62.1 L608.0,66.1 L608.4,65.1 L608.8,62.8 L609.2,64.0 L609.6,66.6 L610.0,60.9 L610.4,62.4 L610.8,65.4 L611.2,65.6 L611.6,62.1 L612.0,62.5 L612.4,64.6 L612.8,66.9 L613.2,64.5 L613.6,60.3 L614.0,66.4 L614.4,64.6 L614.8,63.8 L615.2,62.5 L615.6,66.5 L616.0,64.7 L616.4,64.7 L616.8,64.4 L617.2,64.4 L617.6,64.9 L618.0,66.3 L618.4,61.1 L618.8,62.7 L619.2,61.8 L619.6,65.4 L620.0,61.7 L620.4,57.9 L620.8,59.4 L621.2,56.8 L621.6,55.4 L622.0,54.6 L622.4,51.7 L622.8,49.2 L623.2,54.9 L623.6,49.8" fill="none" stroke="#000" stroke-width="1.5" stroke-linejoin="round"/>
<path d="M460.0,40.2 L460.2,39.5 L460.5,39.2 L460.8,40.9 L461.0,40.3 L461.2,40.0 L461.5,40.7 L461.8,40.1 L462.0,41.1 L462.2,40.9 L462.5,40.7 L462.8,40.5 L463.0,40.8 L463.2,41.2 L463.5,41.2 L463.8,42.1 L464.0,40.1 L464.2,41.5 L464.5,41.5 L464.8,41.3 L465.0,41.2 L465.2,41.2 L465.5,41.5 L465.8,41.8 L466.0,41.0 L466.2,41.1 L466.5,40.8 L466.8,40.4 L467.0,40.1 L467.2,39.4 L467.5,40.0 L467.8,40.6 L468.0,39.3 L468.2,39.0 L468.5,40.0 L468.8,38.8 L469.0,38.8 L469.2,39.0 L469.5,38.5 L469.8,38.2 L470.0,38.0 L470.2,37.7 L470.5,38.2 L470.8,38.2 L471.0,37.0 L471.2,38.6 L471.5,38.2 L471.8,38.2 L472.0,37.6 L472.2,37.5 L472.5,38.5 L472.8,37.3 L473.0,38.4 L473.2,36.7 L473.5,38.1 L473.8,37.3 L474.0,37.8 L474.2,37.4 L474.5,38.0 L474.8,37.6 L475.0,37.6 L475.2,37.5 L475.5,37.1 L475.8,37.5 L476.0,37.4 L476.2,37.7 L476.5,37.2 L476.8,37.2 L477.0,36.6 L477.2,36.6 L477.5,37.1 L477.8,36.5 L478.0,36.1 L478.2,36.7 L478.5,37.0 L478.8,35.4 L479.0,36.1 L479.2,36.0 L479.5,35.2 L479.8,36.5 L480.0,36.0 L480.2,36.6 L480.5,35.5 L480.8,35.3 L481.0,35.6 L481.2,35.4 L481.5,35.0 L481.8,34.8 L482.0,34.0 L482.2,34.8 L482.5,34.9 L482.8,35.0 L483.0,35.7 L483.2,35.5 L483.5,35.9 L483.8,35.6 L484.0,36.5 L484.2,36.3 L484.5,36.0 L484.8,36.9 L485.0,36.9 L485.2,36.3 L485.5,37.2 L485.8,37.1 L486.0,37.2 L486.2,37.8 L486.5,38.2 L486.8,37.5 L487.0,38.3 L487.2,38.2 L487.5,38.8 L487.8,38.7 L488.0,39.3 L488.2,39.3 L488.5,39.1 L488.8,38.8 L489.0,38.7 L489.2,38.6 L489.5,38.2 L489.8,38.4 L490.0,37.9 L490.2,38.4 L490.5,38.0 L490.8,37.8 L491.0,37.7 L491.2,38.7 L491.5,37.7 L491.8,38.7 L492.0,37.8 L492.2,38.2 L492.5,38.1 L492.8,38.4 L493.0,37.9 L493.2,38.0 L493.5,38.3 L493.8,38.3 L494.0,37.9 L494.2,37.9 L494.5,37.9 L494.8,38.3 L495.0,38.2 L495.2,37.9 L495.5,37.9 L495.8,37.8 L496.0,38.1 L496.2,38.4 L496.5,38.1 L496.8,38.0 L497.0,38.3 L497.2,38.0 L497.5,38.4 L497.8,38.1 L498.0,38.3 L498.2,37.5 L498.5,37.8 L498.8,38.1 L499.0,38.5 L499.2,38.5 L499.5,37.9 L499.8,38.2 L500.0,38.1 L500.2,38.6 L500.5,38.7 L500.8,38.2 L501.0,38.4 L501.2,38.7 L501.5,38.6 L501.8,38.2 L502.0,38.6 L502.2,38.3 L502.5,38.1 L502.8,38.5 L503.0,38.6 L503.2,38.8 L503.5,38.3 L503.8,39.2 L504.0,39.1 L504.2,38.8 L504.5,39.3 L504.8,38.6 L505.0,39.1 L505.2,38.8 L505.5,39.1 L505.8,39.1 L506.0,39.1 L506.2,39.7 L506.5,39.5 L506.8,39.4 L507.0,38.6 L507.2,39.1 L507.5,39.2 L507.8,39.7 L508.0,39.2 L508.2,39.1 L508.5,39.3 L508.8,38.8 L509.0,40.0 L509.2,40.0 L509.5,39.8 L509.8,40.1 L510.0,39.8 L510.2,39.7 L510.5,39.8 L510.8,39.8 L511.0,39.7 L511.2,39.6 L511.5,40.0 L511.8,40.0 L512.0,39.5 L512.2,39.9 L512.5,40.1 L512.8,39.7 L513.0,39.9 L513.2,39.8 L513.5,39.8 L513.8,39.6 L514.0,39.5 L514.2,40.1 L514.5,40.2 L514.8,39.3 L515.0,40.0 L515.2,40.4 L515.5,40.6 L515.8,40.2 L516.0,40.5 L516.2,41.0 L516.5,40.8 L516.8,41.0 L517.0,40.5 L517.2,40.9 L517.5,41.1 L517.8,41.6 L518.0,41.4 L518.2,41.2 L518.5,41.5 L518.8,41.4 L519.0,41.8 L519.2,41.7 L519.5,41.9 L519.8,42.4 L520.0,41.9 L520.2,42.3 L520.5,42.2 L520.8,42.8 L521.0,42.9 L521.2,42.7 L521.5,42.9 L521.8,42.5 L522.0,42.7 L522.2,42.4 L522.5,42.7 L522.8,43.4 L523.0,42.7 L523.2,43.4 L523.5,43.5 L523.8,43.2 L524.0,43.3 L524.2,43.0 L524.5,42.3 L524.8,43.3 L525.0,43.0 L525.2,43.7 L525.5,43.6 L525.8,44.0 L526.0,44.1 L526.2,43.4 L526.5,43.9 L526.8,44.0 L527.0,44.6 L527.2,43.6 L527.5,44.5 L527.8,44.8 L528.0,44.6 L528.2,44.4 L528.5,44.4 L528.8,44.2 L529.0,45.4 L529.2,45.2 L529.5,44.4 L529.8,44.2 L530.0,45.5 L530.2,45.2 L530.5,45.6 L530.8,45.2 L531.0,45.1 L531.2,44.7 L531.5,45.0 L531.8,44.0 L532.0,44.3 L532.2,44.2 L532.5,43.6 L532.8,44.0 L533.0,44.3 L533.2,43.6 L533.5,42.6 L533.8,43.3 L534.0,43.0 L534.2,43.2 L534.5,43.1 L534.8,42.7 L535.0,43.8 L535.2,43.1 L535.5,42.6 L535.8,42.2 L536.0,41.3 L536.2,40.7 L536.5,41.2 L536.8,41.1 L537.0,40.8 L537.2,40.2 L537.5,41.0 L537.8,40.6 L538.0,40.1 L538.2,39.8 L538.5,40.5 L538.8,39.4 L539.0,40.0 L539.2,38.8 L539.5,38.5 L539.8,39.6 L540.0,38.2 L540.2,38.4 L540.5,38.7 L540.8,38.1 L541.0,37.6 L541.2,38.3 L541.5,38.9 L541.8,39.1 L542.0,38.9 L542.2,38.9 L542.5,38.0 L542.8,38.4 L543.0,38.5 L543.2,38.1 L543.5,38.5 L543.8,38.5 L544.0,38.8 L544.2,38.7 L544.5,38.5 L544.8,39.0 L545.0,37.8 L545.2,38.3 L545.5,38.4 L545.8,37.6 L546.0,38.2 L546.2,37.2 L546.5,37.4 L546.8,36.5 L547.0,37.3 L547.2,37.1 L547.5,37.1 L547.8,37.1 L548.0,36.3 L548.2,36.7 L548.5,36.0 L548.8,36.2 L549.0,35.4 L549.2,36.6 L549.5,35.3 L549.8,35.2 L550.0,35.1 L550.2,35.2 L550.5,34.1 L550.8,34.8 L551.0,34.3 L551.2,34.4 L551.5,34.2 L551.8,33.9 L552.0,33.5 L552.2,34.0 L552.5,33.6 L552.8,33.8 L553.0,32.9 L553.2,33.2 L553.5,33.0 L553.8,32.3 L554.0,32.4 L554.2,32.1 L554.5,32.1 L554.8,31.7 L555.0,31.7 L555.2,32.1 L555.5,31.6 L555.8,31.7 L556.0,31.7 L556.2,31.4 L556.5,31.7 L556.8,31.9 L557.0,30.9 L557.2,30.6 L557.5,31.5 L557.8,30.8 L558.0,31.1 L558.2,31.5 L558.5,31.5 L558.8,31.2 L559.0,31.3 L559.2,31.2 L559.5,31.1 L559.8,31.4 L560.0,30.6 L560.2,31.3 L560.5,31.3 L560.8,30.5 L561.0,30.5 L561.2,30.2 L561.5,30.6 L561.8,30.9 L562.0,30.1 L562.2,30.6 L562.5,30.6 L562.8,30.8 L563.0,30.3 L563.2,31.3 L563.5,30.1 L563.8,31.1 L564.0,29.9 L564.2,30.8 L564.5,29.9 L564.8,29.2 L565.0,30.2 L565.2,30.7 L565.5,29.7 L565.8,30.7 L566.0,31.2 L566.2,30.4 L566.5,32.2 L566.8,31.8 L567.0,31.9 L567.2,31.9 L567.5,32.6 L567.8,31.6 L568.0,31.7 L568.2,32.3 L568.5,32.6 L568.8,33.2 L569.0,32.6 L569.2,33.2 L569.5,32.9 L569.8,32.9 L570.0,33.5 L570.2,34.6 L570.5,34.4 L570.8,33.8 L571.0,34.5 L571.2,34.4 L571.5,36.0 L571.8,35.5 L572.0,35.8 L572.2,36.7 L572.5,36.6 L572.8,36.2 L573.0,36.7 L573.2,37.0 L573.5,36.5 L573.8,36.1 L574.0,36.8 L574.2,36.4 L574.5,36.2 L574.8,37.0 L575.0,36.4 L575.2,36.9 L575.5,36.5 L575.8,36.7 L576.0,37.0 L576.2,37.3 L576.5,37.5 L576.8,37.2 L577.0,37.3 L577.2,36.9 L577.5,37.8 L577.8,37.7 L578.0,37.2 L578.2,38.1 L578.5,38.2 L578.8,37.8 L579.0,38.8 L579.2,38.8 L579.5,38.8 L579.8,39.4 L580.0,40.2 L580.2,40.8 L580.5,40.4 L580.8,39.9 L581.0,40.3 L581.2,40.2 L581.5,41.0 L581.8,42.4 L582.0,43.3 L582.2,42.5 L582.5,42.2 L582.8,42.4 L583.0,41.1 L583.2,42.1 L583.5,41.0 L583.8,40.7 L584.0,42.3 L584.2,41.2 L584.5,40.0 L584.8,40.1 L585.0,40.4 L585.2,41.5 L585.5,41.4 L585.8,41.1 L586.0,40.5 L586.2,41.3 L586.5,41.9 L586.8,41.9 L587.0,41.7 L587.2,43.6 L587.5,43.3 L587.8,42.9 L588.0,42.3 L588.2,42.7 L588.5,44.3 L588.8,44.1 L589.0,44.9 L589.2,45.0 L589.5,45.0 L589.8,45.7 L590.0,46.2 L590.2,46.9 L590.5,47.5 L590.8,46.9 L591.0,47.0 L591.2,47.2 L591.5,48.8 L591.8,49.3 L592.0,48.5 L592.2,49.6 L592.5,49.8 L592.8,51.3 L593.0,52.0 L593.2,52.8 L593.5,51.9 L593.8,53.9 L594.0,54.9 L594.2,54.7 L594.5,53.8 L594.8,55.0 L595.0,55.4 L595.2,55.9 L595.5,56.4 L595.8,57.0 L596.0,58.3 L596.2,55.4 L596.5,55.9 L596.8,54.2 L597.0,55.3 L597.2,53.1 L597.5,53.5 L597.8,52.8 L598.0,50.9 L598.2,49.9 L598.5,49.2 L598.8,48.7 L599.0,49.3 L599.2,48.1 L599.5,48.5 L599.8,48.0 L600.0,46.9 L600.2,47.3 L600.5,46.8 L600.8,48.7 L601.0,46.8 L601.2,48.0 L601.5,46.8 L601.8,47.1 L602.0,48.8 L602.2,48.1 L602.5,47.7 L602.8,48.8 L603.0,48.9 L603.2,48.3 L603.5,47.3 L603.8,46.8 L604.0,47.4 L604.2,46.2 L604.5,45.5 L604.8,45.5 L605.0,46.3 L605.2,46.4 L605.5,45.7 L605.8,45.4 L606.0,45.7 L606.2,46.3 L606.5,46.7 L606.8,45.3 L607.0,46.3 L607.2,45.0 L607.5,47.0 L607.8,46.5 L608.0,46.8 L608.2,45.2 L608.5,45.6 L608.8,46.8 L609.0,47.8 L609.2,45.8 L609.5,46.5 L609.8,47.4 L610.0,47.7 L610.2,46.5 L610.5,46.9 L610.8,46.7 L611.0,46.6 L611.2,47.2 L611.5,47.2 L611.8,46.6 L612.0,47.1 L612.2,47.3 L612.5,46.7 L612.8,48.5 L613.0,46.4 L613.2,47.0 L613.5,47.8 L613.8,47.5 L614.0,46.6 L614.2,47.1 L614.5,48.7 L614.8,48.2 L615.0,47.5 L615.2,46.5 L615.5,47.4 L615.8,48.2 L616.0,47.8 L616.2,48.3 L616.5,48.7 L616.8,48.3 L617.0,50.2 L617.2,48.2 L617.5,48.7 L617.8,49.5 L618.0,49.9 L618.2,49.7 L618.5,48.4 L618.8,48.1 L619.0,47.7 L619.2,46.3 L619.5,48.5 L619.8,47.2 L620.0,46.8 L620.2,45.3 L620.5,45.7 L620.8,45.8 L621.0,44.6 L621.2,44.1 L621.5,42.9 L621.8,43.5 L622.0,43.5 L622.2,43.2 L622.5,43.0 L622.8,41.8 L623.0,41.2 L623.2,41.5 L623.5,41.0 L623.5,46.2 L623.2,46.5 L623.0,46.3 L622.8,48.5 L622.5,48.4 L622.2,46.8 L622.0,48.1 L621.8,48.5 L621.5,50.5 L621.2,49.5 L621.0,51.3 L620.8,51.1 L620.5,51.3 L620.2,51.3 L620.0,51.7 L619.8,52.8 L619.5,52.2 L619.2,53.6 L619.0,53.2 L618.8,53.3 L618.5,54.5 L618.2,54.7 L618.0,55.6 L617.8,54.0 L617.5,54.0 L617.2,53.8 L617.0,54.8 L616.8,54.1 L616.5,53.5 L616.2,54.2 L616.0,54.2 L615.8,53.4 L615.5,53.7 L615.2,53.7 L615.0,53.3 L614.8,52.5 L614.5,51.4 L614.2,51.8 L614.0,53.9 L613.8,53.9 L613.5,52.4 L613.2,53.2 L613.0,53.4 L612.8,52.3 L612.5,52.9 L612.2,52.8 L612.0,52.4 L611.8,52.8 L611.5,51.8 L611.2,52.5 L611.0,52.2 L610.8,52.3 L610.5,52.1 L610.2,51.3 L610.0,51.4 L609.8,51.0 L609.5,51.3 L609.2,51.5 L609.0,52.5 L608.8,49.8 L608.5,51.4 L608.2,51.9 L608.0,51.1 L607.8,51.6 L607.5,50.8 L607.2,52.4 L607.0,51.6 L606.8,51.4 L606.5,50.8 L606.2,51.3 L606.0,51.7 L605.8,51.3 L605.5,51.1 L605.2,51.1 L605.0,51.5 L604.8,50.5 L604.5,51.8 L604.2,52.8 L604.0,52.4 L603.8,51.8 L603.5,52.8 L603.2,53.8 L603.0,53.8 L602.8,52.4 L602.5,51.8 L602.2,52.8 L602.0,53.6 L601.8,52.4 L601.5,53.3 L601.2,53.1 L601.0,51.9 L600.8,52.9 L600.5,52.5 L600.2,52.5 L600.0,52.4 L599.8,53.3 L599.5,53.6 L599.2,53.5 L599.0,55.5 L598.8,54.7 L598.5,54.8 L598.2,56.6 L598.0,57.2 L597.8,56.3 L597.5,57.1 L597.2,58.4 L597.0,59.0 L596.8,60.4 L596.5,62.0 L596.2,61.4 L596.0,63.1 L595.8,61.8 L595.5,61.2 L595.2,60.9 L595.0,60.3 L594.8,61.5 L594.5,60.2 L594.2,59.6 L594.0,58.1 L593.8,58.7 L593.5,58.1 L593.2,58.5 L593.0,56.7 L592.8,56.0 L592.5,55.4 L592.2,55.9 L592.0,54.1 L591.8,54.8 L591.5,53.8 L591.2,52.5 L591.0,51.4 L590.8,51.6 L590.5,52.8 L590.2,51.0 L590.0,52.4 L589.8,50.7 L589.5,50.9 L589.2,49.3 L589.0,49.7 L588.8,49.1 L588.5,49.7 L588.2,49.6 L588.0,48.4 L587.8,48.4 L587.5,48.1 L587.2,47.9 L587.0,47.4 L586.8,46.8 L586.5,46.4 L586.2,47.4 L586.0,45.7 L585.8,46.1 L585.5,48.4 L585.2,46.1 L585.0,45.4 L584.8,45.5 L584.5,45.3 L584.2,45.7 L584.0,45.9 L583.8,45.9 L583.5,46.7 L583.2,46.5 L583.0,47.1 L582.8,46.1 L582.5,46.9 L582.2,47.9 L582.0,47.5 L581.8,47.2 L581.5,47.2 L581.2,45.6 L581.0,46.2 L580.8,45.3 L580.5,44.5 L580.2,44.8 L580.0,43.7 L579.8,44.8 L579.5,44.4 L579.2,43.5 L579.0,44.1 L578.8,43.4 L578.5,42.5 L578.2,41.9 L578.0,42.4 L577.8,41.7 L577.5,41.5 L577.2,41.2 L577.0,40.6 L576.8,40.6 L576.5,40.4 L576.2,40.9 L576.0,40.6 L575.8,40.5 L575.5,40.5 L575.2,40.0 L575.0,39.9 L574.8,39.9 L574.5,40.1 L574.2,39.4 L574.0,40.1 L573.8,39.7 L573.5,39.6 L573.2,39.9 L573.0,40.4 L572.8,39.6 L572.5,39.8 L572.2,39.2 L572.0,38.6 L571.8,38.6 L571.5,38.8 L571.2,38.1 L571.0,37.6 L570.8,37.4 L570.5,37.8 L570.2,36.5 L570.0,36.3 L569.8,36.0 L569.5,35.9 L569.2,36.8 L569.0,35.9 L568.8,36.2 L568.5,36.1 L568.2,34.8 L568.0,35.4 L567.8,35.1 L567.5,34.4 L567.2,34.8 L567.0,34.6 L566.8,34.4 L566.5,34.0 L566.2,34.2 L566.0,33.9 L565.8,33.3 L565.5,32.9 L565.2,33.3 L565.0,33.4 L564.8,32.8 L564.5,33.8 L564.2,34.0 L564.0,33.0 L563.8,33.6 L563.5,32.9 L563.2,34.2 L563.0,33.5 L562.8,34.0 L562.5,33.5 L562.2,33.8 L562.0,33.1 L561.8,34.0 L561.5,34.2 L561.2,34.0 L561.0,33.6 L560.8,34.4 L560.5,34.1 L560.2,33.8 L560.0,34.1 L559.8,34.2 L559.5,33.8 L559.2,35.0 L559.0,34.4 L558.8,34.5 L558.5,34.5 L558.2,33.7 L558.0,34.3 L557.8,35.2 L557.5,33.4 L557.2,34.8 L557.0,34.2 L556.8,34.5 L556.5,33.6 L556.2,34.6 L556.0,34.1 L555.8,34.7 L555.5,35.0 L555.2,35.0 L555.0,35.0 L554.8,35.0 L554.5,35.2 L554.2,35.7 L554.0,35.5 L553.8,36.2 L553.5,36.1 L553.2,36.6 L553.0,36.0 L552.8,36.3 L552.5,36.4 L552.2,36.2 L552.0,37.5 L551.8,36.7 L551.5,37.3 L551.2,37.9 L551.0,38.0 L550.8,37.7 L550.5,37.7 L550.2,37.8 L550.0,38.2 L549.8,37.7 L549.5,38.6 L549.2,38.2 L549.0,39.0 L548.8,39.2 L548.5,39.4 L548.2,39.2 L548.0,39.8 L547.8,40.0 L547.5,40.8 L547.2,39.2 L547.0,40.3 L546.8,40.2 L546.5,40.3 L546.2,40.8 L546.0,40.8 L545.8,41.0 L545.5,41.9 L545.2,41.3 L545.0,42.0 L544.8,41.4 L544.5,41.9 L544.2,42.0 L544.0,42.0 L543.8,41.3 L543.5,41.8 L543.2,41.7 L543.0,41.9 L542.8,42.4 L542.5,42.3 L542.2,42.2 L542.0,41.9 L541.8,41.1 L541.5,41.8 L541.2,42.2 L541.0,41.7 L540.8,42.3 L540.5,41.1 L540.2,41.4 L540.0,42.0 L539.8,41.7 L539.5,42.6 L539.2,42.2 L539.0,42.9 L538.8,42.4 L538.5,42.6 L538.2,43.6 L538.0,43.3 L537.8,44.1 L537.5,43.8 L537.2,44.5 L537.0,43.8 L536.8,44.7 L536.5,44.4 L536.2,44.6 L536.0,44.8 L535.8,45.7 L535.5,45.5 L535.2,46.2 L535.0,45.7 L534.8,46.2 L534.5,46.1 L534.2,46.3 L534.0,46.5 L533.8,47.3 L533.5,46.4 L533.2,47.0 L533.0,47.1 L532.8,47.1 L532.5,47.7 L532.2,47.3 L532.0,47.3 L531.8,48.2 L531.5,47.9 L531.2,48.6 L531.0,48.3 L530.8,47.9 L530.5,48.9 L530.2,49.0 L530.0,48.2 L529.8,49.1 L529.5,49.0 L529.2,48.6 L529.0,47.6 L528.8,47.6 L528.5,48.0 L528.2,48.1 L528.0,47.7 L527.8,48.1 L527.5,48.0 L527.2,47.8 L527.0,47.9 L526.8,47.6 L526.5,47.3 L526.2,46.8 L526.0,47.3 L525.8,47.3 L525.5,47.3 L525.2,47.6 L525.0,46.9 L524.8,47.1 L524.5,46.0 L524.2,46.7 L524.0,46.3 L523.8,46.4 L523.5,46.8 L523.2,46.2 L523.0,46.1 L522.8,46.1 L522.5,45.2 L522.2,45.8 L522.0,46.1 L521.8,45.7 L521.5,45.4 L521.2,45.3 L521.0,45.0 L520.8,45.0 L520.5,44.4 L520.2,44.6 L520.0,44.9 L519.8,44.7 L519.5,44.1 L519.2,44.6 L519.0,44.1 L518.8,44.6 L518.5,44.3 L518.2,43.7 L518.0,44.2 L517.8,43.7 L517.5,43.7 L517.2,43.4 L517.0,43.7 L516.8,43.1 L516.5,43.0 L516.2,43.0 L516.0,42.6 L515.8,41.9 L515.5,42.2 L515.2,42.4 L515.0,41.8 L514.8,42.3 L514.5,42.4 L514.2,42.4 L514.0,42.2 L513.8,42.5 L513.5,42.1 L513.2,41.6 L513.0,42.5 L512.8,41.4 L512.5,42.3 L512.2,42.5 L512.0,42.0 L511.8,41.9 L511.5,42.1 L511.2,42.1 L511.0,42.5 L510.8,42.2 L510.5,42.2 L510.2,42.2 L510.0,42.0 L509.8,41.7 L509.5,41.8 L509.2,42.3 L509.0,41.9 L508.8,41.9 L508.5,41.5 L508.2,41.7 L508.0,41.3 L507.8,41.7 L507.5,41.5 L507.2,41.1 L507.0,41.8 L506.8,41.4 L506.5,41.7 L506.2,41.3 L506.0,41.2 L505.8,41.2 L505.5,41.6 L505.2,41.4 L505.0,41.5 L504.8,41.1 L504.5,41.4 L504.2,41.0 L504.0,41.0 L503.8,41.1 L503.5,41.6 L503.2,41.2 L503.0,40.9 L502.8,41.1 L502.5,40.7 L502.2,41.1 L502.0,40.6 L501.8,41.0 L501.5,40.8 L501.2,40.5 L501.0,40.6 L500.8,40.6 L500.5,40.8 L500.2,40.7 L500.0,40.9 L499.8,40.0 L499.5,40.7 L499.2,40.7 L499.0,40.6 L498.8,40.3 L498.5,40.6 L498.2,40.4 L498.0,39.5 L497.8,40.0 L497.5,40.4 L497.2,40.4 L497.0,40.3 L496.8,41.2 L496.5,40.4 L496.2,40.5 L496.0,40.2 L495.8,40.7 L495.5,41.2 L495.2,40.5 L495.0,40.0 L494.8,40.9 L494.5,40.4 L494.2,40.3 L494.0,40.5 L493.8,40.9 L493.5,40.3 L493.2,40.5 L493.0,40.3 L492.8,40.1 L492.5,40.2 L492.2,40.3 L492.0,40.3 L491.8,40.6 L491.5,40.8 L491.2,40.5 L491.0,40.1 L490.8,40.5 L490.5,41.2 L490.2,40.3 L490.0,40.6 L489.8,40.5 L489.5,40.4 L489.2,40.6 L489.0,40.9 L488.8,41.3 L488.5,40.9 L488.2,41.3 L488.0,40.6 L487.8,40.9 L487.5,40.8 L487.2,40.4 L487.0,40.8 L486.8,40.6 L486.5,40.0 L486.2,39.4 L486.0,39.1 L485.8,39.7 L485.5,39.0 L485.2,39.2 L485.0,38.7 L484.8,38.8 L484.5,38.5 L484.2,38.2 L484.0,38.7 L483.8,38.0 L483.5,37.8 L483.2,38.1 L483.0,37.6 L482.8,37.7 L482.5,37.4 L482.2,37.6 L482.0,37.3 L481.8,37.6 L481.5,37.4 L481.2,37.9 L481.0,38.6 L480.8,38.5 L480.5,38.6 L480.2,38.7 L480.0,38.5 L479.8,39.5 L479.5,39.1 L479.2,39.7 L479.0,39.8 L478.8,39.0 L478.5,39.7 L478.2,39.6 L478.0,39.4 L477.8,39.7 L477.5,40.5 L477.2,39.7 L477.0,39.8 L476.8,39.8 L476.5,39.8 L476.2,40.6 L476.0,40.9 L475.8,41.0 L475.5,40.6 L475.2,41.3 L475.0,40.8 L474.8,40.8 L474.5,41.4 L474.2,41.0 L474.0,41.4 L473.8,41.1 L473.5,41.1 L473.2,41.6 L473.0,40.8 L472.8,41.0 L472.5,41.3 L472.2,41.5 L472.0,41.9 L471.8,42.4 L471.5,41.5 L471.2,41.9 L471.0,42.1 L470.8,41.6 L470.5,42.7 L470.2,41.3 L470.0,41.9 L469.8,42.5 L469.5,42.7 L469.2,42.9 L469.0,42.6 L468.8,43.1 L468.5,43.0 L468.2,42.7 L468.0,43.0 L467.8,43.8 L467.5,43.6 L467.2,44.5 L467.0,44.8 L466.8,44.6 L466.5,44.3 L466.2,44.5 L466.0,44.6 L465.8,45.0 L465.5,45.3 L465.2,45.2 L465.0,45.8 L464.8,46.5 L464.5,45.2 L464.2,44.8 L464.0,44.5 L463.8,45.1 L463.5,45.5 L463.2,44.8 L463.0,45.4 L462.8,44.8 L462.5,44.1 L462.2,44.5 L462.0,45.2 L461.8,44.6 L461.5,43.7 L461.2,43.2 L461.0,43.9 L460.8,43.6 L460.5,44.3 L460.2,44.0 L460.0,44.6Z" fill="#1436e2" stroke="none"/>
<path d="M460.0,37.5 L460.2,42.0 L460.5,42.7 L460.8,40.6 L461.0,39.3 L461.2,42.5 L461.5,43.8 L461.8,38.6 L462.0,42.2 L462.2,44.0 L462.5,35.2 L462.8,43.5 L463.0,47.3 L463.2,39.5 L463.5,46.4 L463.8,42.3 L464.0,44.7 L464.2,42.8 L464.5,40.3 L464.8,39.0 L465.0,49.6 L465.2,39.9 L465.5,42.4 L465.8,46.6 L466.0,43.5 L466.2,43.0 L466.5,37.4 L466.8,40.7 L467.0,38.8 L467.2,37.4 L467.5,42.7 L467.8,43.7 L468.0,39.5 L468.2,39.6 L468.5,42.1 L468.8,43.1 L469.0,38.2 L469.2,43.4 L469.5,42.7 L469.8,40.2 L470.0,37.4 L470.2,41.4 L470.5,41.6 L470.8,44.1 L471.0,38.5 L471.2,43.6 L471.5,39.0 L471.8,41.0 L472.0,39.5 L472.2,39.9 L472.5,43.1 L472.8,38.0 L473.0,41.5 L473.2,38.9 L473.5,39.4 L473.8,37.8 L474.0,39.9 L474.2,34.8 L474.5,38.8 L474.8,41.6 L475.0,41.2 L475.2,35.5 L475.5,36.6 L475.8,38.1 L476.0,43.1 L476.2,37.9 L476.5,38.7 L476.8,38.1 L477.0,39.3 L477.2,36.5 L477.5,39.0 L477.8,39.4 L478.0,40.5 L478.2,36.3 L478.5,40.0 L478.8,42.0 L479.0,39.6 L479.2,39.2 L479.5,32.8 L479.8,40.4 L480.0,41.4 L480.2,39.8 L480.5,38.1 L480.8,38.6 L481.0,42.5 L481.2,35.2 L481.5,35.6 L481.8,38.1 L482.0,36.4 L482.2,32.1 L482.5,36.6 L482.8,36.9 L483.0,34.8 L483.2,37.3 L483.5,37.2 L483.8,33.9 L484.0,37.9 L484.2,40.7 L484.5,40.1 L484.8,35.6 L485.0,35.5 L485.2,37.9 L485.5,38.4 L485.8,36.2 L486.0,37.3 L486.2,40.7 L486.5,39.2 L486.8,40.6 L487.0,39.2 L487.2,41.0 L487.5,38.9 L487.8,39.1 L488.0,38.7 L488.2,37.1 L488.5,39.3 L488.8,37.8 L489.0,39.0 L489.2,39.8 L489.5,39.7 L489.8,40.0 L490.0,38.7 L490.2,39.2 L490.5,41.0 L490.8,39.1 L491.0,39.3 L491.2,35.6 L491.5,37.6 L491.8,40.9 L492.0,38.0 L492.2,37.7 L492.5,40.7 L492.8,37.4 L493.0,40.8 L493.2,39.1 L493.5,38.3 L493.8,36.2 L494.0,41.3 L494.2,36.5 L494.5,37.4 L494.8,40.5 L495.0,37.4 L495.2,40.0 L495.5,39.2 L495.8,38.9 L496.0,37.7 L496.2,38.3 L496.5,39.7 L496.8,37.8 L497.0,40.2 L497.2,39.6 L497.5,40.1 L497.8,39.6 L498.0,40.1 L498.2,39.9 L498.5,40.5 L498.8,39.8 L499.0,39.8 L499.2,37.9 L499.5,36.6 L499.8,39.3 L500.0,40.7 L500.2,37.9 L500.5,36.9 L500.8,38.5 L501.0,40.0 L501.2,40.8 L501.5,39.0 L501.8,37.7 L502.0,39.5 L502.2,40.7 L502.5,39.6 L502.8,41.3 L503.0,39.0 L503.2,41.1 L503.5,42.4 L503.8,38.3 L504.0,38.6 L504.2,40.9 L504.5,44.8 L504.8,40.8 L505.0,40.0 L505.2,42.1 L505.5,40.0 L505.8,37.7 L506.0,38.8 L506.2,42.4 L506.5,37.7 L506.8,38.2 L507.0,41.7 L507.2,40.7 L507.5,42.4 L507.8,38.9 L508.0,39.5 L508.2,40.1 L508.5,38.8 L508.8,40.4 L509.0,40.5 L509.2,42.2 L509.5,40.7 L509.8,40.3 L510.0,41.7 L510.2,42.7 L510.5,42.6 L510.8,41.4 L511.0,40.4 L511.2,40.2 L511.5,38.9 L511.8,41.1 L512.0,40.9 L512.2,43.6 L512.5,41.3 L512.8,42.1 L513.0,43.0 L513.2,38.0 L513.5,39.9 L513.8,40.6 L514.0,41.2 L514.2,39.2 L514.5,42.3 L514.8,42.4 L515.0,41.8 L515.2,42.2 L515.5,39.5 L515.8,43.1 L516.0,40.5 L516.2,38.6 L516.5,41.9 L516.8,42.5 L517.0,40.9 L517.2,39.5 L517.5,40.4 L517.8,42.1 L518.0,38.4 L518.2,44.2 L518.5,44.3 L518.8,42.6 L519.0,44.7 L519.2,42.8 L519.5,41.4 L519.8,44.3 L520.0,44.4 L520.2,42.0 L520.5,41.3 L520.8,42.1 L521.0,45.8 L521.2,43.4 L521.5,49.0 L521.8,42.9 L522.0,45.2 L522.2,44.8 L522.5,43.9 L522.8,46.0 L523.0,42.8 L523.2,44.5 L523.5,42.3 L523.8,40.3 L524.0,45.0 L524.2,42.5 L524.5,42.2 L524.8,46.3 L525.0,44.8 L525.2,46.1 L525.5,49.1 L525.8,45.8 L526.0,46.5 L526.2,43.0 L526.5,47.5 L526.8,47.6 L527.0,43.5 L527.2,47.4 L527.5,46.7 L527.8,45.6 L528.0,46.4 L528.2,51.6 L528.5,44.9 L528.8,45.7 L529.0,46.7 L529.2,46.2 L529.5,42.7 L529.8,48.2 L530.0,48.9 L530.2,50.5 L530.5,45.4 L530.8,43.7 L531.0,47.8 L531.2,44.0 L531.5,46.1 L531.8,45.1 L532.0,46.3 L532.2,44.8 L532.5,47.1 L532.8,43.5 L533.0,50.6 L533.2,46.9 L533.5,43.7 L533.8,42.9 L534.0,44.4 L534.2,43.7 L534.5,42.8 L534.8,47.6 L535.0,46.5 L535.2,41.8 L535.5,45.2 L535.8,43.8 L536.0,45.2 L536.2,41.8 L536.5,47.8 L536.8,43.0 L537.0,47.0 L537.2,41.4 L537.5,45.2 L537.8,41.8 L538.0,45.5 L538.2,41.2 L538.5,39.0 L538.8,38.8 L539.0,39.5 L539.2,42.0 L539.5,41.3 L539.8,40.6 L540.0,42.4 L540.2,43.7 L540.5,37.9 L540.8,42.3 L541.0,45.2 L541.2,38.7 L541.5,38.8 L541.8,41.0 L542.0,40.6 L542.2,38.9 L542.5,39.9 L542.8,43.6 L543.0,42.1 L543.2,38.3 L543.5,36.4 L543.8,37.7 L544.0,40.5 L544.2,38.4 L544.5,38.3 L544.8,41.7 L545.0,39.5 L545.2,39.1 L545.5,40.2 L545.8,42.7 L546.0,40.1 L546.2,40.7 L546.5,39.2 L546.8,42.2 L547.0,36.1 L547.2,36.1 L547.5,60.0 L547.8,42.6 L548.0,63.0 L548.2,35.5 L548.5,36.7 L548.8,38.7 L549.0,37.5 L549.2,39.1 L549.5,36.0 L549.8,33.3 L550.0,38.0 L550.2,39.2 L550.5,33.1 L550.8,32.2 L551.0,35.0 L551.2,31.9 L551.5,36.6 L551.8,33.0 L552.0,36.9 L552.2,34.4 L552.5,35.3 L552.8,36.2 L553.0,34.2 L553.2,32.3 L553.5,36.3 L553.8,31.0 L554.0,37.0 L554.2,32.5 L554.5,32.5 L554.8,34.3 L555.0,34.2 L555.2,34.3 L555.5,30.1 L555.8,31.3 L556.0,33.9 L556.2,33.9 L556.5,32.9 L556.8,35.7 L557.0,32.6 L557.2,34.9 L557.5,35.2 L557.8,33.6 L558.0,32.4 L558.2,34.3 L558.5,33.7 L558.8,34.0 L559.0,30.9 L559.2,33.6 L559.5,35.9 L559.8,32.0 L560.0,32.8 L560.2,32.0 L560.5,34.3 L560.8,28.1 L561.0,35.6 L561.2,33.3 L561.5,31.8 L561.8,32.8 L562.0,34.5 L562.2,32.9 L562.5,33.5 L562.8,34.5 L563.0,32.3 L563.2,33.5 L563.5,34.9 L563.8,33.0 L564.0,30.5 L564.2,33.3 L564.5,35.9 L564.8,31.0 L565.0,32.6 L565.2,32.7 L565.5,33.8 L565.8,31.3 L566.0,32.3 L566.2,36.5 L566.5,34.1 L566.8,31.6 L567.0,34.6 L567.2,33.3 L567.5,36.5 L567.8,30.2 L568.0,33.9 L568.2,35.8 L568.5,31.4 L568.8,32.7 L569.0,35.3 L569.2,34.6 L569.5,34.1 L569.8,35.5 L570.0,32.2 L570.2,33.6 L570.5,39.1 L570.8,34.6 L571.0,37.0 L571.2,36.3 L571.5,38.5 L571.8,37.7 L572.0,38.1 L572.2,39.9 L572.5,38.5 L572.8,34.8 L573.0,37.1 L573.2,41.2 L573.5,40.3 L573.8,37.6 L574.0,34.8 L574.2,36.6 L574.5,42.3 L574.8,40.6 L575.0,40.8 L575.2,35.2 L575.5,35.7 L575.8,37.4 L576.0,35.8 L576.2,39.2 L576.5,36.5 L576.8,40.3 L577.0,38.7 L577.2,38.1 L577.5,41.4 L577.8,41.1 L578.0,40.5 L578.2,39.4 L578.5,40.5 L578.8,35.4 L579.0,35.4 L579.2,39.3 L579.5,41.9 L579.8,47.1 L580.0,43.2 L580.2,39.2 L580.5,41.2 L580.8,39.0 L581.0,43.4 L581.2,43.6 L581.5,44.1 L581.8,45.6 L582.0,48.7 L582.2,47.3 L582.5,40.6 L582.8,47.6 L583.0,40.8 L583.2,45.7 L583.5,44.5 L583.8,50.0 L584.0,43.5 L584.2,43.4 L584.5,42.6 L584.8,46.5 L585.0,44.4 L585.2,42.5 L585.5,46.7 L585.8,51.4 L586.0,49.9 L586.2,49.7 L586.5,42.7 L586.8,44.5 L587.0,45.6 L587.2,39.2 L587.5,51.5 L587.8,40.6 L588.0,47.3 L588.2,41.8 L588.5,47.0 L588.8,49.8 L589.0,49.1 L589.2,44.5 L589.5,45.6 L589.8,51.5 L590.0,48.3 L590.2,49.3 L590.5,52.5 L590.8,40.6 L591.0,50.8 L591.2,54.9 L591.5,57.3 L591.8,54.0 L592.0,49.5 L592.2,56.1 L592.5,59.8 L592.8,51.5 L593.0,51.7 L593.2,54.3 L593.5,53.9 L593.8,48.7 L594.0,48.1 L594.2,52.3 L594.5,55.2 L594.8,59.4 L595.0,56.4 L595.2,59.4 L595.5,64.0 L595.8,70.2 L596.0,63.2 L596.2,55.9 L596.5,62.1 L596.8,57.8 L597.0,58.2 L597.2,59.6 L597.5,58.2 L597.8,50.0 L598.0,49.9 L598.2,54.3 L598.5,55.4 L598.8,59.8 L599.0,54.0 L599.2,50.1 L599.5,49.2 L599.8,47.9 L600.0,45.3 L600.2,45.4 L600.5,48.1 L600.8,50.5 L601.0,47.6 L601.2,50.5 L601.5,49.5 L601.8,49.8 L602.0,49.2 L602.2,51.9 L602.5,51.0 L602.8,41.7 L603.0,52.1 L603.2,51.2 L603.5,48.4 L603.8,50.8 L604.0,47.4 L604.2,50.0 L604.5,46.1 L604.8,51.3 L605.0,49.8 L605.2,43.5 L605.5,46.2 L605.8,51.2 L606.0,50.2 L606.2,49.3 L606.5,44.8 L606.8,46.5 L607.0,49.5 L607.2,50.0 L607.5,48.9 L607.8,46.1 L608.0,48.3 L608.2,47.4 L608.5,45.1 L608.8,45.3 L609.0,46.4 L609.2,44.0 L609.5,51.0 L609.8,52.1 L610.0,52.6 L610.2,46.7 L610.5,46.9 L610.8,50.4 L611.0,48.0 L611.2,48.6 L611.5,48.6 L611.8,44.1 L612.0,54.3 L612.2,44.8 L612.5,44.3 L612.8,52.8 L613.0,46.1 L613.2,53.8 L613.5,51.2 L613.8,51.3 L614.0,48.8 L614.2,45.2 L614.5,46.1 L614.8,50.6 L615.0,49.9 L615.2,46.2 L615.5,46.6 L615.8,47.7 L616.0,50.7 L616.2,52.6 L616.5,54.3 L616.8,50.0 L617.0,56.5 L617.2,54.1 L617.5,56.9 L617.8,48.8 L618.0,54.0 L618.2,55.4 L618.5,45.0 L618.8,54.1 L619.0,52.0 L619.2,53.3 L619.5,50.4 L619.8,53.4 L620.0,47.5 L620.2,46.8 L620.5,50.8 L620.8,50.4 L621.0,42.8 L621.2,51.3 L621.5,50.8 L621.8,49.9 L622.0,43.4 L622.2,50.0 L622.5,47.0 L622.8,48.0 L623.0,44.2 L623.2,42.5 L623.5,41.2" fill="none" stroke="#1436e2" stroke-width="1.0" stroke-linejoin="round"/>
<path d="M460.0,38.3 L460.2,37.3 L460.5,37.8 L460.8,37.5 L461.0,36.7 L461.2,36.7 L461.5,37.3 L461.8,36.3 L462.0,35.9 L462.2,34.6 L462.5,34.8 L462.8,35.3 L463.0,35.1 L463.2,34.5 L463.5,33.9 L463.8,31.9 L464.0,28.8 L464.2,32.2 L464.5,33.9 L464.8,35.4 L465.0,39.3 L465.2,38.1 L465.5,38.0 L465.8,38.0 L466.0,38.2 L466.2,38.3 L466.5,38.2 L466.8,38.4 L467.0,38.4 L467.2,37.8 L467.5,38.1 L467.8,38.2 L468.0,39.0 L468.2,39.0 L468.5,38.3 L468.8,39.3 L469.0,38.5 L469.2,39.6 L469.5,38.1 L469.8,38.5 L470.0,39.4 L470.2,39.3 L470.5,39.9 L470.8,38.9 L471.0,38.3 L471.2,38.5 L471.5,38.8 L471.8,37.7 L472.0,38.3 L472.2,38.3 L472.5,38.5 L472.8,38.0 L473.0,37.1 L473.2,37.9 L473.5,38.8 L473.8,37.9 L474.0,37.1 L474.2,37.3 L474.5,37.9 L474.8,37.5 L475.0,38.2 L475.2,37.2 L475.5,37.8 L475.8,37.6 L476.0,37.5 L476.2,37.5 L476.5,36.4 L476.8,36.4 L477.0,37.1 L477.2,36.8 L477.5,36.1 L477.8,36.8 L478.0,36.8 L478.2,36.9 L478.5,35.9 L478.8,36.4 L479.0,36.3 L479.2,36.4 L479.5,36.5 L479.8,35.8 L480.0,36.4 L480.2,35.8 L480.5,35.9 L480.8,35.2 L481.0,34.6 L481.2,34.2 L481.5,34.1 L481.8,33.4 L482.0,32.8 L482.2,34.6 L482.5,34.5 L482.8,35.8 L483.0,37.1 L483.2,37.7 L483.5,38.4 L483.8,39.5 L484.0,40.5 L484.2,40.6 L484.5,40.6 L484.8,41.4 L485.0,41.3 L485.2,41.2 L485.5,41.4 L485.8,41.9 L486.0,41.8 L486.2,42.1 L486.5,42.0 L486.8,42.6 L487.0,42.8 L487.2,42.9 L487.5,42.6 L487.8,42.0 L488.0,42.6 L488.2,42.7 L488.5,43.2 L488.8,42.8 L489.0,43.3 L489.2,43.6 L489.5,43.4 L489.8,44.2 L490.0,44.6 L490.2,44.6 L490.5,44.0 L490.8,44.4 L491.0,44.8 L491.2,45.2 L491.5,45.4 L491.8,45.4 L492.0,46.0 L492.2,45.7 L492.5,46.5 L492.8,46.0 L493.0,46.7 L493.2,46.0 L493.5,45.0 L493.8,44.3 L494.0,43.2 L494.2,42.9 L494.5,41.6 L494.8,40.6 L495.0,39.7 L495.2,40.8 L495.5,41.2 L495.8,42.8 L496.0,43.3 L496.2,44.2 L496.5,44.9 L496.8,45.8 L497.0,46.2 L497.2,46.1 L497.5,45.9 L497.8,44.4 L498.0,44.6 L498.2,44.2 L498.5,43.3 L498.8,43.3 L499.0,42.7 L499.2,41.9 L499.5,42.0 L499.8,41.2 L500.0,40.3 L500.2,40.1 L500.5,40.6 L500.8,40.6 L501.0,40.3 L501.2,41.0 L501.5,40.8 L501.8,40.8 L502.0,41.2 L502.2,41.5 L502.5,40.7 L502.8,40.3 L503.0,40.4 L503.2,40.2 L503.5,41.4 L503.8,40.7 L504.0,40.2 L504.2,40.9 L504.5,41.0 L504.8,40.5 L505.0,40.6 L505.2,40.4 L505.5,40.5 L505.8,40.1 L506.0,40.2 L506.2,40.3 L506.5,40.5 L506.8,40.1 L507.0,40.5 L507.2,40.0 L507.5,39.9 L507.8,39.9 L508.0,40.5 L508.2,40.0 L508.5,39.9 L508.8,39.8 L509.0,40.4 L509.2,40.1 L509.5,39.9 L509.8,39.4 L510.0,40.0 L510.2,39.6 L510.5,39.9 L510.8,39.5 L511.0,40.0 L511.2,40.7 L511.5,40.4 L511.8,40.3 L512.0,40.1 L512.2,40.3 L512.5,40.7 L512.8,41.1 L513.0,40.8 L513.2,40.9 L513.5,40.5 L513.8,40.7 L514.0,41.5 L514.2,41.8 L514.5,41.4 L514.8,41.2 L515.0,41.7 L515.2,41.7 L515.5,41.3 L515.8,41.6 L516.0,42.6 L516.2,42.0 L516.5,42.2 L516.8,42.5 L517.0,42.3 L517.2,42.4 L517.5,41.6 L517.8,42.9 L518.0,43.5 L518.2,42.6 L518.5,41.1 L518.8,39.6 L519.0,39.5 L519.2,38.7 L519.5,38.0 L519.8,37.7 L520.0,36.5 L520.2,36.6 L520.5,34.6 L520.8,34.0 L521.0,33.5 L521.2,33.4 L521.5,32.3 L521.8,31.7 L522.0,30.4 L522.2,31.9 L522.5,32.5 L522.8,33.2 L523.0,34.0 L523.2,36.6 L523.5,37.2 L523.8,38.8 L524.0,38.3 L524.2,40.2 L524.5,39.2 L524.8,40.9 L525.0,40.4 L525.2,42.0 L525.5,42.3 L525.8,42.5 L526.0,43.0 L526.2,43.7 L526.5,43.7 L526.8,43.8 L527.0,44.5 L527.2,46.4 L527.5,48.2 L527.8,47.9 L528.0,50.8 L528.2,49.4 L528.5,50.4 L528.8,52.6 L529.0,52.3 L529.2,52.1 L529.5,49.7 L529.8,50.0 L530.0,49.0 L530.2,47.8 L530.5,46.2 L530.8,46.0 L531.0,42.7 L531.2,42.7 L531.5,39.6 L531.8,39.3 L532.0,37.6 L532.2,36.2 L532.5,34.5 L532.8,32.0 L533.0,29.8 L533.2,31.4 L533.5,32.9 L533.8,33.0 L534.0,34.5 L534.2,36.6 L534.5,35.6 L534.8,37.7 L535.0,37.8 L535.2,38.0 L535.5,38.9 L535.8,39.5 L536.0,38.9 L536.2,40.0 L536.5,40.2 L536.8,41.7 L537.0,42.4 L537.2,41.4 L537.5,43.0 L537.8,42.5 L538.0,42.7 L538.2,42.6 L538.5,42.5 L538.8,42.9 L539.0,42.5 L539.2,43.7 L539.5,42.8 L539.8,43.9 L540.0,42.6 L540.2,42.8 L540.5,43.7 L540.8,44.0 L541.0,43.8 L541.2,43.6 L541.5,45.1 L541.8,44.9 L542.0,43.7 L542.2,44.7 L542.5,45.5 L542.8,46.3 L543.0,45.3 L543.2,46.3 L543.5,45.3 L543.8,45.6 L544.0,44.7 L544.2,46.6 L544.5,45.7 L544.8,46.9 L545.0,47.0 L545.2,46.5 L545.5,46.8 L545.8,45.5 L546.0,46.4 L546.2,46.7 L546.5,45.2 L546.8,46.6 L547.0,46.4 L547.2,46.3 L547.5,46.5 L547.8,45.9 L548.0,45.7 L548.2,46.1 L548.5,45.3 L548.8,44.7 L549.0,44.6 L549.2,44.0 L549.5,43.1 L549.8,42.8 L550.0,41.7 L550.2,41.1 L550.5,40.9 L550.8,40.5 L551.0,40.5 L551.2,40.0 L551.5,39.2 L551.8,38.7 L552.0,38.5 L552.2,37.8 L552.5,37.7 L552.8,37.7 L553.0,36.6 L553.2,36.9 L553.5,37.3 L553.8,36.2 L554.0,36.4 L554.2,36.1 L554.5,36.6 L554.8,35.7 L555.0,36.0 L555.2,35.8 L555.5,36.4 L555.8,36.2 L556.0,35.5 L556.2,35.8 L556.5,35.6 L556.8,34.9 L557.0,34.9 L557.2,35.1 L557.5,34.2 L557.8,35.4 L558.0,34.7 L558.2,34.7 L558.5,33.8 L558.8,33.6 L559.0,34.2 L559.2,33.8 L559.5,33.3 L559.8,33.3 L560.0,33.3 L560.2,32.9 L560.5,32.4 L560.8,33.1 L561.0,33.5 L561.2,33.0 L561.5,32.9 L561.8,32.9 L562.0,32.4 L562.2,32.3 L562.5,32.2 L562.8,32.2 L563.0,32.2 L563.2,32.7 L563.5,32.3 L563.8,32.4 L564.0,31.9 L564.2,32.0 L564.5,31.9 L564.8,31.5 L565.0,31.8 L565.2,31.1 L565.5,31.0 L565.8,31.6 L566.0,30.6 L566.2,31.1 L566.5,31.2 L566.8,30.9 L567.0,31.1 L567.2,30.4 L567.5,29.9 L567.8,30.8 L568.0,29.9 L568.2,29.7 L568.5,29.6 L568.8,29.5 L569.0,29.4 L569.2,29.6 L569.5,29.0 L569.8,29.1 L570.0,28.8 L570.2,28.8 L570.5,28.9 L570.8,28.7 L571.0,28.3 L571.2,28.0 L571.5,29.1 L571.8,28.7 L572.0,28.7 L572.2,28.1 L572.5,28.1 L572.8,27.6 L573.0,27.7 L573.2,26.9 L573.5,27.6 L573.8,27.5 L574.0,27.4 L574.2,27.1 L574.5,26.8 L574.8,26.9 L575.0,26.9 L575.2,27.1 L575.5,26.4 L575.8,26.6 L576.0,26.8 L576.2,26.4 L576.5,26.2 L576.8,25.4 L577.0,25.6 L577.2,26.5 L577.5,26.3 L577.8,26.8 L578.0,26.8 L578.2,26.7 L578.5,25.6 L578.8,26.0 L579.0,26.4 L579.2,26.1 L579.5,26.0 L579.8,26.0 L580.0,25.1 L580.2,26.5 L580.5,26.0 L580.8,25.8 L581.0,25.7 L581.2,26.9 L581.5,26.0 L581.8,26.7 L582.0,26.4 L582.2,26.9 L582.5,26.0 L582.8,25.1 L583.0,26.1 L583.2,26.9 L583.5,27.8 L583.8,26.9 L584.0,27.1 L584.2,28.3 L584.5,27.7 L584.8,29.2 L585.0,29.2 L585.2,28.9 L585.5,29.8 L585.8,29.2 L586.0,29.2 L586.2,29.6 L586.5,29.3 L586.8,28.7 L587.0,29.1 L587.2,28.6 L587.5,28.5 L587.8,29.5 L588.0,27.9 L588.2,28.2 L588.5,28.6 L588.8,28.2 L589.0,28.3 L589.2,28.2 L589.5,28.6 L589.8,28.3 L590.0,28.1 L590.2,27.3 L590.5,27.5 L590.8,27.4 L591.0,27.5 L591.2,26.7 L591.5,28.3 L591.8,27.4 L592.0,26.4 L592.2,26.9 L592.5,26.3 L592.8,25.7 L593.0,25.9 L593.2,26.9 L593.5,26.1 L593.8,26.5 L594.0,25.5 L594.2,25.1 L594.5,25.6 L594.8,25.1 L595.0,25.3 L595.2,24.7 L595.5,26.1 L595.8,26.6 L596.0,26.9 L596.2,27.1 L596.5,27.8 L596.8,28.7 L597.0,29.1 L597.2,29.4 L597.5,29.8 L597.8,30.8 L598.0,31.4 L598.2,31.4 L598.5,31.3 L598.8,32.0 L599.0,32.5 L599.2,32.3 L599.5,32.6 L599.8,32.2 L600.0,33.0 L600.2,33.1 L600.5,31.9 L600.8,32.8 L601.0,33.6 L601.2,32.5 L601.5,33.5 L601.8,33.8 L602.0,33.1 L602.2,34.3 L602.5,33.6 L602.8,33.4 L603.0,33.4 L603.2,34.1 L603.5,34.2 L603.8,34.1 L604.0,33.5 L604.2,35.2 L604.5,33.8 L604.8,34.2 L605.0,33.7 L605.2,35.3 L605.5,34.3 L605.8,35.7 L606.0,35.3 L606.2,35.9 L606.5,37.3 L606.8,36.3 L607.0,36.3 L607.2,36.3 L607.5,37.3 L607.8,37.9 L608.0,37.1 L608.2,38.0 L608.5,37.5 L608.8,37.5 L609.0,38.7 L609.2,38.9 L609.5,39.4 L609.8,40.4 L610.0,39.5 L610.2,39.4 L610.5,39.5 L610.8,40.4 L611.0,39.7 L611.2,41.2 L611.5,41.3 L611.8,41.8 L612.0,42.0 L612.2,42.2 L612.5,42.7 L612.8,42.9 L613.0,42.8 L613.2,42.5 L613.5,42.7 L613.8,41.4 L614.0,41.7 L614.2,40.6 L614.5,40.4 L614.8,41.0 L615.0,40.1 L615.2,38.6 L615.5,39.0 L615.8,38.6 L616.0,38.1 L616.2,37.4 L616.5,36.7 L616.8,36.7 L617.0,35.2 L617.2,35.7 L617.5,35.0 L617.8,34.1 L618.0,33.2 L618.2,31.8 L618.5,30.6 L618.8,31.4 L619.0,30.6 L619.2,29.4 L619.5,29.1 L619.8,27.9 L620.0,28.2 L620.2,27.4 L620.5,29.3 L620.8,28.1 L621.0,28.2 L621.2,27.5 L621.5,29.5 L621.8,28.9 L622.0,29.2 L622.2,30.3 L622.5,29.9 L622.8,30.7 L623.0,31.1 L623.2,31.5 L623.5,31.1 L623.5,35.7 L623.2,34.9 L623.0,35.5 L622.8,33.9 L622.5,34.7 L622.2,34.5 L622.0,34.9 L621.8,33.6 L621.5,33.2 L621.2,33.6 L621.0,32.7 L620.8,33.5 L620.5,31.3 L620.2,32.1 L620.0,32.6 L619.8,31.8 L619.5,34.2 L619.2,34.5 L619.0,35.3 L618.8,36.4 L618.5,37.9 L618.2,36.9 L618.0,37.8 L617.8,38.7 L617.5,40.0 L617.2,40.6 L617.0,41.0 L616.8,40.1 L616.5,41.6 L616.2,41.1 L616.0,41.2 L615.8,42.4 L615.5,43.2 L615.2,43.1 L615.0,42.7 L614.8,45.3 L614.5,43.9 L614.2,46.3 L614.0,45.4 L613.8,46.7 L613.5,47.3 L613.2,47.4 L613.0,47.3 L612.8,47.8 L612.5,46.5 L612.2,46.5 L612.0,45.8 L611.8,45.9 L611.5,45.6 L611.2,45.7 L611.0,45.3 L610.8,45.7 L610.5,44.6 L610.2,44.2 L610.0,44.2 L609.8,43.4 L609.5,43.5 L609.2,44.0 L609.0,41.4 L608.8,43.4 L608.5,42.5 L608.2,41.2 L608.0,41.6 L607.8,41.3 L607.5,41.4 L607.2,40.7 L607.0,41.0 L606.8,40.5 L606.5,41.2 L606.2,40.5 L606.0,40.2 L605.8,40.0 L605.5,40.0 L605.2,39.7 L605.0,37.7 L604.8,38.6 L604.5,39.0 L604.2,39.2 L604.0,38.6 L603.8,38.5 L603.5,38.3 L603.2,37.8 L603.0,38.7 L602.8,38.1 L602.5,37.7 L602.2,38.7 L602.0,38.4 L601.8,38.3 L601.5,37.8 L601.2,36.9 L601.0,36.7 L600.8,37.6 L600.5,37.0 L600.2,37.9 L600.0,37.3 L599.8,35.9 L599.5,35.8 L599.2,36.6 L599.0,36.5 L598.8,36.5 L598.5,36.5 L598.2,35.4 L598.0,35.5 L597.8,36.0 L597.5,34.0 L597.2,34.7 L597.0,33.4 L596.8,33.3 L596.5,33.0 L596.2,31.3 L596.0,30.5 L595.8,30.8 L595.5,30.1 L595.2,29.2 L595.0,30.2 L594.8,29.6 L594.5,29.5 L594.2,30.1 L594.0,29.8 L593.8,30.1 L593.5,30.4 L593.2,30.7 L593.0,30.6 L592.8,29.6 L592.5,29.5 L592.2,30.6 L592.0,30.8 L591.8,31.2 L591.5,31.0 L591.2,31.5 L591.0,31.5 L590.8,31.7 L590.5,32.2 L590.2,32.2 L590.0,31.9 L589.8,31.7 L589.5,32.6 L589.2,32.5 L589.0,32.0 L588.8,32.5 L588.5,32.5 L588.2,32.7 L588.0,32.4 L587.8,33.4 L587.5,32.2 L587.2,33.5 L587.0,33.6 L586.8,33.3 L586.5,33.0 L586.2,33.6 L586.0,33.2 L585.8,33.1 L585.5,32.8 L585.2,33.2 L585.0,31.8 L584.8,32.3 L584.5,31.6 L584.2,30.9 L584.0,31.3 L583.8,30.6 L583.5,30.4 L583.2,30.5 L583.0,29.9 L582.8,29.3 L582.5,30.3 L582.2,29.4 L582.0,29.5 L581.8,30.2 L581.5,29.2 L581.2,29.3 L581.0,29.6 L580.8,29.8 L580.5,28.8 L580.2,28.9 L580.0,29.5 L579.8,29.1 L579.5,29.1 L579.2,29.3 L579.0,29.3 L578.8,28.8 L578.5,28.4 L578.2,29.4 L578.0,29.4 L577.8,29.4 L577.5,29.0 L577.2,30.0 L577.0,29.6 L576.8,29.8 L576.5,29.4 L576.2,29.7 L576.0,29.6 L575.8,29.5 L575.5,29.8 L575.2,29.4 L575.0,29.7 L574.8,30.5 L574.5,29.7 L574.2,30.3 L574.0,30.4 L573.8,30.0 L573.5,30.6 L573.2,31.2 L573.0,30.9 L572.8,30.3 L572.5,31.5 L572.2,31.3 L572.0,31.6 L571.8,31.6 L571.5,31.1 L571.2,32.5 L571.0,31.6 L570.8,32.5 L570.5,32.4 L570.2,32.4 L570.0,32.3 L569.8,32.8 L569.5,32.5 L569.2,33.2 L569.0,32.3 L568.8,33.3 L568.5,33.1 L568.2,32.9 L568.0,33.1 L567.8,33.9 L567.5,34.3 L567.2,33.4 L567.0,33.9 L566.8,34.6 L566.5,33.7 L566.2,34.1 L566.0,34.2 L565.8,34.0 L565.5,34.2 L565.2,34.6 L565.0,35.2 L564.8,34.8 L564.5,35.5 L564.2,34.8 L564.0,34.9 L563.8,35.6 L563.5,35.5 L563.2,35.6 L563.0,34.9 L562.8,35.7 L562.5,35.6 L562.2,35.7 L562.0,35.7 L561.8,36.0 L561.5,36.1 L561.2,36.3 L561.0,36.4 L560.8,36.5 L560.5,37.0 L560.2,36.3 L560.0,36.4 L559.8,36.7 L559.5,36.3 L559.2,37.4 L559.0,37.2 L558.8,38.3 L558.5,38.0 L558.2,37.9 L558.0,38.0 L557.8,38.1 L557.5,38.7 L557.2,37.8 L557.0,38.2 L556.8,38.6 L556.5,38.9 L556.2,39.2 L556.0,39.5 L555.8,38.9 L555.5,39.4 L555.2,38.8 L555.0,40.2 L554.8,40.1 L554.5,39.9 L554.2,39.5 L554.0,40.1 L553.8,39.6 L553.5,39.7 L553.2,39.5 L553.0,40.2 L552.8,40.2 L552.5,41.0 L552.2,42.1 L552.0,41.9 L551.8,41.9 L551.5,42.6 L551.2,43.8 L551.0,43.3 L550.8,43.5 L550.5,44.8 L550.2,44.0 L550.0,45.7 L549.8,45.2 L549.5,46.6 L549.2,46.9 L549.0,46.8 L548.8,47.2 L548.5,49.0 L548.2,48.7 L548.0,49.5 L547.8,49.2 L547.5,49.4 L547.2,50.6 L547.0,49.9 L546.8,50.3 L546.5,50.5 L546.2,49.8 L546.0,51.0 L545.8,50.8 L545.5,50.5 L545.2,51.2 L545.0,51.6 L544.8,51.6 L544.5,51.3 L544.2,48.8 L544.0,50.9 L543.8,50.5 L543.5,50.1 L543.2,49.6 L543.0,49.6 L542.8,50.5 L542.5,49.8 L542.2,51.7 L542.0,49.9 L541.8,50.4 L541.5,49.6 L541.2,49.3 L541.0,48.1 L540.8,48.9 L540.5,49.7 L540.2,49.8 L540.0,49.0 L539.8,48.5 L539.5,48.9 L539.2,48.2 L539.0,47.9 L538.8,47.4 L538.5,47.8 L538.2,48.0 L538.0,47.5 L537.8,48.1 L537.5,47.9 L537.2,49.3 L537.0,48.0 L536.8,46.0 L536.5,46.1 L536.2,45.4 L536.0,45.3 L535.8,43.5 L535.5,43.8 L535.2,42.8 L535.0,42.8 L534.8,41.3 L534.5,41.7 L534.2,39.8 L534.0,40.5 L533.8,39.9 L533.5,37.2 L533.2,37.8 L533.0,36.3 L532.8,37.1 L532.5,39.4 L532.2,41.2 L532.0,43.0 L531.8,44.4 L531.5,46.6 L531.2,47.0 L531.0,48.7 L530.8,51.9 L530.5,51.5 L530.2,53.5 L530.0,54.2 L529.8,55.7 L529.5,56.0 L529.2,56.8 L529.0,58.9 L528.8,57.2 L528.5,56.5 L528.2,56.2 L528.0,53.3 L527.8,53.4 L527.5,54.0 L527.2,51.4 L527.0,49.9 L526.8,48.1 L526.5,49.8 L526.2,50.1 L526.0,47.7 L525.8,48.7 L525.5,47.6 L525.2,47.2 L525.0,47.2 L524.8,46.0 L524.5,45.1 L524.2,46.0 L524.0,45.6 L523.8,43.0 L523.5,42.5 L523.2,39.4 L523.0,41.1 L522.8,39.1 L522.5,39.3 L522.2,37.0 L522.0,37.6 L521.8,36.7 L521.5,37.7 L521.2,38.6 L521.0,39.4 L520.8,40.5 L520.5,41.7 L520.2,42.1 L520.0,42.7 L519.8,42.7 L519.5,42.8 L519.2,44.3 L519.0,43.9 L518.8,45.2 L518.5,46.9 L518.2,46.3 L518.0,46.9 L517.8,47.3 L517.5,46.8 L517.2,46.6 L517.0,46.9 L516.8,45.9 L516.5,46.7 L516.2,45.2 L516.0,45.4 L515.8,44.5 L515.5,44.6 L515.2,43.5 L515.0,43.3 L514.8,43.6 L514.5,43.6 L514.2,43.1 L514.0,43.6 L513.8,42.8 L513.5,43.4 L513.2,42.7 L513.0,43.3 L512.8,43.3 L512.5,42.6 L512.2,43.2 L512.0,42.6 L511.8,42.9 L511.5,42.6 L511.2,42.7 L511.0,42.1 L510.8,42.8 L510.5,42.5 L510.2,42.6 L510.0,42.1 L509.8,42.4 L509.5,42.3 L509.2,42.5 L509.0,42.1 L508.8,42.0 L508.5,43.0 L508.2,42.4 L508.0,42.6 L507.8,42.2 L507.5,42.6 L507.2,42.3 L507.0,42.3 L506.8,42.9 L506.5,42.2 L506.2,42.7 L506.0,42.2 L505.8,43.1 L505.5,42.7 L505.2,43.0 L505.0,43.0 L504.8,43.0 L504.5,42.8 L504.2,43.5 L504.0,43.3 L503.8,43.2 L503.5,42.7 L503.2,42.8 L503.0,42.8 L502.8,42.8 L502.5,42.5 L502.2,43.2 L502.0,43.2 L501.8,43.3 L501.5,42.9 L501.2,42.8 L501.0,43.0 L500.8,43.1 L500.5,43.4 L500.2,43.3 L500.0,43.0 L499.8,43.6 L499.5,43.6 L499.2,43.9 L499.0,45.5 L498.8,44.9 L498.5,45.6 L498.2,46.0 L498.0,46.8 L497.8,47.7 L497.5,48.0 L497.2,48.0 L497.0,49.2 L496.8,47.7 L496.5,47.3 L496.2,46.3 L496.0,45.8 L495.8,44.6 L495.5,43.7 L495.2,43.4 L495.0,42.7 L494.8,43.1 L494.5,43.6 L494.2,45.2 L494.0,45.6 L493.8,46.3 L493.5,47.5 L493.2,47.9 L493.0,49.1 L492.8,48.9 L492.5,48.5 L492.2,48.4 L492.0,47.7 L491.8,48.1 L491.5,47.4 L491.2,47.7 L491.0,47.4 L490.8,46.4 L490.5,46.7 L490.2,47.1 L490.0,46.2 L489.8,46.2 L489.5,45.8 L489.2,46.0 L489.0,46.1 L488.8,46.2 L488.5,45.7 L488.2,45.7 L488.0,45.2 L487.8,45.4 L487.5,44.8 L487.2,45.0 L487.0,44.8 L486.8,45.0 L486.5,44.3 L486.2,44.3 L486.0,44.7 L485.8,43.8 L485.5,43.4 L485.2,43.7 L485.0,43.2 L484.8,43.4 L484.5,43.3 L484.2,43.1 L484.0,42.9 L483.8,42.6 L483.5,42.2 L483.2,39.8 L483.0,39.6 L482.8,38.4 L482.5,37.2 L482.2,36.7 L482.0,35.4 L481.8,36.5 L481.5,37.0 L481.2,37.4 L481.0,37.2 L480.8,38.0 L480.5,38.6 L480.2,38.8 L480.0,39.2 L479.8,38.7 L479.5,39.6 L479.2,39.6 L479.0,39.8 L478.8,39.1 L478.5,40.1 L478.2,39.3 L478.0,39.7 L477.8,39.7 L477.5,39.8 L477.2,41.2 L477.0,40.8 L476.8,40.1 L476.5,40.6 L476.2,40.8 L476.0,40.5 L475.8,40.8 L475.5,41.6 L475.2,42.3 L475.0,41.8 L474.8,41.0 L474.5,41.1 L474.2,41.9 L474.0,41.6 L473.8,41.4 L473.5,41.3 L473.2,41.2 L473.0,41.8 L472.8,42.3 L472.5,41.5 L472.2,42.3 L472.0,42.2 L471.8,42.2 L471.5,42.9 L471.2,42.1 L471.0,41.9 L470.8,41.5 L470.5,42.5 L470.2,42.0 L470.0,43.1 L469.8,43.4 L469.5,43.1 L469.2,43.3 L469.0,42.1 L468.8,43.2 L468.5,43.4 L468.2,42.4 L468.0,42.4 L467.8,42.7 L467.5,42.1 L467.2,42.5 L467.0,41.7 L466.8,41.9 L466.5,41.2 L466.2,41.8 L466.0,41.5 L465.8,42.4 L465.5,42.5 L465.2,41.9 L465.0,40.6 L464.8,40.4 L464.5,37.5 L464.2,36.1 L464.0,33.5 L463.8,35.8 L463.5,37.7 L463.2,37.3 L463.0,39.8 L462.8,38.7 L462.5,39.0 L462.2,38.8 L462.0,39.4 L461.8,39.3 L461.5,40.0 L461.2,40.8 L461.0,41.4 L460.8,40.5 L460.5,41.8 L460.2,40.9 L460.0,41.7Z" fill="#e81a1a" stroke="none"/>
<path d="M460.0,37.3 L460.2,40.8 L460.5,41.0 L460.8,35.2 L461.0,39.8 L461.2,36.2 L461.5,41.7 L461.8,39.1 L462.0,37.9 L462.2,45.7 L462.5,39.4 L462.8,35.9 L463.0,38.9 L463.2,37.1 L463.5,39.6 L463.8,30.9 L464.0,36.2 L464.2,32.2 L464.5,35.0 L464.8,36.1 L465.0,39.2 L465.2,45.0 L465.5,40.6 L465.8,37.4 L466.0,39.8 L466.2,40.9 L466.5,42.8 L466.8,39.6 L467.0,40.9 L467.2,47.9 L467.5,40.2 L467.8,40.9 L468.0,37.6 L468.2,43.1 L468.5,39.6 L468.8,45.4 L469.0,43.8 L469.2,42.9 L469.5,39.7 L469.8,40.2 L470.0,40.1 L470.2,41.2 L470.5,40.0 L470.8,39.5 L471.0,40.9 L471.2,40.6 L471.5,39.6 L471.8,42.6 L472.0,42.8 L472.2,39.0 L472.5,45.2 L472.8,41.0 L473.0,42.9 L473.2,44.3 L473.5,36.6 L473.8,40.9 L474.0,41.8 L474.2,42.4 L474.5,41.3 L474.8,41.7 L475.0,35.9 L475.2,37.1 L475.5,40.5 L475.8,34.5 L476.0,37.8 L476.2,38.5 L476.5,39.7 L476.8,40.7 L477.0,39.2 L477.2,36.7 L477.5,36.4 L477.8,39.3 L478.0,39.6 L478.2,39.0 L478.5,38.4 L478.8,38.3 L479.0,35.1 L479.2,37.8 L479.5,39.4 L479.8,35.4 L480.0,38.5 L480.2,38.6 L480.5,41.4 L480.8,36.2 L481.0,35.5 L481.2,33.2 L481.5,33.0 L481.8,31.6 L482.0,30.9 L482.2,36.5 L482.5,36.1 L482.8,37.6 L483.0,35.2 L483.2,35.4 L483.5,36.8 L483.8,43.7 L484.0,43.8 L484.2,39.7 L484.5,42.3 L484.8,42.5 L485.0,40.8 L485.2,41.5 L485.5,44.2 L485.8,44.0 L486.0,44.4 L486.2,43.6 L486.5,43.4 L486.8,44.2 L487.0,43.3 L487.2,46.4 L487.5,44.2 L487.8,44.8 L488.0,44.0 L488.2,43.2 L488.5,44.3 L488.8,44.0 L489.0,43.4 L489.2,46.1 L489.5,48.1 L489.8,45.6 L490.0,45.1 L490.2,44.3 L490.5,43.4 L490.8,46.9 L491.0,47.0 L491.2,45.1 L491.5,46.7 L491.8,45.4 L492.0,49.2 L492.2,47.4 L492.5,48.1 L492.8,50.4 L493.0,44.3 L493.2,47.7 L493.5,46.6 L493.8,44.9 L494.0,44.5 L494.2,45.6 L494.5,41.7 L494.8,40.9 L495.0,43.8 L495.2,43.5 L495.5,43.6 L495.8,44.9 L496.0,44.6 L496.2,44.9 L496.5,46.0 L496.8,47.5 L497.0,47.2 L497.2,44.9 L497.5,46.6 L497.8,46.9 L498.0,45.7 L498.2,46.5 L498.5,45.4 L498.8,45.9 L499.0,44.1 L499.2,43.1 L499.5,43.8 L499.8,43.8 L500.0,41.2 L500.2,40.6 L500.5,44.0 L500.8,41.1 L501.0,42.5 L501.2,41.2 L501.5,42.3 L501.8,44.1 L502.0,44.6 L502.2,39.9 L502.5,39.6 L502.8,36.6 L503.0,42.8 L503.2,44.4 L503.5,42.3 L503.8,41.5 L504.0,43.2 L504.2,40.4 L504.5,42.9 L504.8,44.0 L505.0,43.9 L505.2,43.0 L505.5,41.0 L505.8,41.3 L506.0,40.3 L506.2,44.6 L506.5,43.6 L506.8,41.5 L507.0,41.5 L507.2,41.9 L507.5,40.5 L507.8,42.3 L508.0,42.2 L508.2,42.1 L508.5,41.4 L508.8,37.4 L509.0,41.0 L509.2,39.0 L509.5,38.5 L509.8,44.7 L510.0,40.3 L510.2,40.9 L510.5,40.8 L510.8,40.0 L511.0,43.9 L511.2,38.6 L511.5,42.3 L511.8,40.7 L512.0,43.7 L512.2,43.1 L512.5,42.0 L512.8,39.6 L513.0,43.3 L513.2,43.7 L513.5,43.2 L513.8,41.8 L514.0,43.3 L514.2,41.2 L514.5,42.9 L514.8,43.2 L515.0,42.3 L515.2,41.2 L515.5,42.7 L515.8,41.7 L516.0,41.2 L516.2,45.9 L516.5,43.7 L516.8,43.0 L517.0,43.2 L517.2,45.7 L517.5,44.0 L517.8,43.2 L518.0,46.0 L518.2,45.0 L518.5,41.2 L518.8,39.8 L519.0,46.4 L519.2,40.7 L519.5,44.9 L519.8,42.2 L520.0,39.1 L520.2,37.8 L520.5,43.7 L520.8,34.9 L521.0,35.0 L521.2,32.7 L521.5,34.4 L521.8,30.8 L522.0,27.0 L522.2,30.0 L522.5,29.0 L522.8,37.8 L523.0,38.4 L523.2,36.6 L523.5,44.3 L523.8,48.0 L524.0,41.4 L524.2,39.7 L524.5,45.2 L524.8,42.7 L525.0,44.4 L525.2,46.7 L525.5,40.1 L525.8,48.0 L526.0,30.0 L526.2,42.0 L526.5,45.5 L526.8,52.6 L527.0,45.7 L527.2,50.5 L527.5,46.5 L527.8,53.0 L528.0,52.8 L528.2,56.7 L528.5,54.2 L528.8,54.6 L529.0,48.9 L529.2,62.0 L529.5,58.0 L529.8,53.0 L530.0,51.9 L530.2,52.2 L530.5,52.2 L530.8,44.9 L531.0,46.7 L531.2,46.8 L531.5,44.5 L531.8,38.5 L532.0,33.2 L532.2,39.6 L532.5,39.3 L532.8,41.0 L533.0,34.9 L533.2,29.0 L533.5,31.0 L533.8,35.5 L534.0,34.4 L534.2,32.5 L534.5,32.0 L534.8,36.9 L535.0,38.7 L535.2,41.0 L535.5,41.5 L535.8,42.9 L536.0,49.5 L536.2,43.1 L536.5,48.9 L536.8,41.9 L537.0,42.7 L537.2,43.5 L537.5,39.0 L537.8,51.3 L538.0,46.4 L538.2,48.2 L538.5,51.8 L538.8,47.3 L539.0,51.6 L539.2,37.5 L539.5,50.5 L539.8,47.1 L540.0,44.1 L540.2,50.0 L540.5,46.4 L540.8,44.0 L541.0,39.7 L541.2,53.0 L541.5,37.5 L541.8,47.2 L542.0,52.8 L542.2,49.5 L542.5,45.2 L542.8,46.6 L543.0,45.6 L543.2,48.6 L543.5,47.6 L543.8,43.9 L544.0,43.6 L544.2,51.7 L544.5,44.6 L544.8,45.2 L545.0,55.3 L545.2,46.2 L545.5,44.8 L545.8,45.8 L546.0,50.4 L546.2,46.3 L546.5,47.9 L546.8,42.4 L547.0,46.6 L547.2,48.1 L547.5,48.0 L547.8,51.2 L548.0,48.9 L548.2,40.9 L548.5,43.1 L548.8,44.2 L549.0,45.0 L549.2,45.2 L549.5,45.9 L549.8,40.3 L550.0,38.6 L550.2,44.8 L550.5,40.4 L550.8,37.0 L551.0,39.7 L551.2,40.3 L551.5,38.2 L551.8,37.9 L552.0,42.3 L552.2,37.2 L552.5,39.9 L552.8,39.2 L553.0,37.5 L553.2,43.5 L553.5,35.2 L553.8,43.8 L554.0,36.0 L554.2,37.4 L554.5,38.6 L554.8,40.3 L555.0,39.3 L555.2,37.0 L555.5,36.9 L555.8,40.2 L556.0,40.9 L556.2,36.2 L556.5,39.9 L556.8,38.3 L557.0,37.5 L557.2,34.3 L557.5,33.8 L557.8,37.4 L558.0,30.2 L558.2,35.0 L558.5,36.9 L558.8,32.1 L559.0,39.2 L559.2,39.1 L559.5,33.0 L559.8,34.9 L560.0,34.7 L560.2,33.7 L560.5,33.7 L560.8,35.8 L561.0,38.3 L561.2,34.7 L561.5,34.7 L561.8,34.7 L562.0,32.8 L562.2,35.6 L562.5,33.0 L562.8,31.9 L563.0,35.4 L563.2,29.8 L563.5,32.7 L563.8,32.8 L564.0,33.3 L564.2,30.2 L564.5,31.4 L564.8,33.1 L565.0,34.6 L565.2,32.9 L565.5,32.6 L565.8,31.1 L566.0,32.8 L566.2,26.5 L566.5,33.9 L566.8,34.5 L567.0,32.2 L567.2,30.0 L567.5,34.9 L567.8,30.4 L568.0,34.7 L568.2,31.0 L568.5,29.8 L568.8,30.9 L569.0,29.7 L569.2,30.7 L569.5,32.0 L569.8,30.3 L570.0,29.7 L570.2,30.5 L570.5,31.3 L570.8,30.3 L571.0,31.4 L571.2,31.3 L571.5,30.6 L571.8,31.4 L572.0,29.7 L572.2,32.1 L572.5,30.3 L572.8,31.2 L573.0,28.8 L573.2,26.0 L573.5,28.0 L573.8,28.9 L574.0,29.5 L574.2,28.5 L574.5,31.7 L574.8,25.5 L575.0,24.4 L575.2,27.8 L575.5,26.6 L575.8,28.1 L576.0,29.5 L576.2,33.9 L576.5,25.1 L576.8,25.6 L577.0,27.7 L577.2,24.6 L577.5,26.1 L577.8,30.5 L578.0,27.5 L578.2,27.6 L578.5,30.0 L578.8,23.8 L579.0,27.7 L579.2,27.3 L579.5,28.0 L579.8,25.2 L580.0,26.4 L580.2,27.2 L580.5,29.1 L580.8,25.9 L581.0,29.0 L581.2,23.0 L581.5,28.7 L581.8,29.6 L582.0,25.9 L582.2,27.3 L582.5,28.0 L582.8,28.8 L583.0,30.9 L583.2,28.9 L583.5,28.2 L583.8,28.6 L584.0,30.0 L584.2,31.4 L584.5,30.5 L584.8,28.9 L585.0,29.7 L585.2,28.9 L585.5,29.0 L585.8,30.2 L586.0,30.2 L586.2,33.3 L586.5,28.5 L586.8,31.5 L587.0,28.3 L587.2,33.0 L587.5,31.7 L587.8,33.9 L588.0,32.1 L588.2,28.1 L588.5,30.6 L588.8,28.9 L589.0,29.0 L589.2,27.7 L589.5,29.3 L589.8,30.2 L590.0,30.4 L590.2,36.1 L590.5,29.2 L590.8,29.7 L591.0,29.1 L591.2,28.6 L591.5,28.3 L591.8,29.1 L592.0,28.4 L592.2,30.6 L592.5,29.7 L592.8,26.2 L593.0,28.4 L593.2,29.0 L593.5,27.4 L593.8,27.3 L594.0,27.6 L594.2,29.3 L594.5,28.0 L594.8,26.0 L595.0,23.0 L595.2,31.2 L595.5,25.7 L595.8,30.6 L596.0,28.6 L596.2,40.0 L596.5,32.0 L596.8,31.0 L597.0,31.0 L597.2,27.6 L597.5,30.9 L597.8,38.4 L598.0,34.3 L598.2,32.7 L598.5,33.7 L598.8,34.1 L599.0,31.5 L599.2,34.7 L599.5,36.0 L599.8,30.6 L600.0,34.3 L600.2,27.2 L600.5,30.3 L600.8,37.7 L601.0,38.9 L601.2,40.8 L601.5,31.8 L601.8,35.4 L602.0,34.7 L602.2,38.8 L602.5,36.8 L602.8,36.2 L603.0,37.8 L603.2,34.8 L603.5,39.0 L603.8,35.3 L604.0,39.5 L604.2,37.0 L604.5,37.2 L604.8,33.4 L605.0,32.3 L605.2,32.5 L605.5,38.6 L605.8,31.3 L606.0,41.6 L606.2,37.1 L606.5,34.4 L606.8,39.5 L607.0,35.2 L607.2,39.1 L607.5,38.5 L607.8,42.9 L608.0,42.3 L608.2,42.7 L608.5,39.0 L608.8,44.1 L609.0,40.6 L609.2,41.4 L609.5,42.6 L609.8,42.3 L610.0,38.0 L610.2,43.9 L610.5,37.8 L610.8,44.0 L611.0,42.7 L611.2,43.4 L611.5,40.4 L611.8,46.6 L612.0,43.7 L612.2,46.8 L612.5,42.6 L612.8,42.9 L613.0,45.4 L613.2,47.7 L613.5,40.6 L613.8,42.3 L614.0,42.1 L614.2,42.3 L614.5,41.4 L614.8,45.3 L615.0,43.8 L615.2,41.5 L615.5,43.4 L615.8,43.5 L616.0,38.4 L616.2,37.6 L616.5,41.2 L616.8,44.9 L617.0,31.7 L617.2,35.9 L617.5,39.2 L617.8,34.0 L618.0,38.1 L618.2,35.5 L618.5,30.6 L618.8,32.1 L619.0,33.8 L619.2,29.5 L619.5,33.0 L619.8,31.5 L620.0,29.0 L620.2,31.3 L620.5,29.4 L620.8,31.2 L621.0,28.0 L621.2,35.1 L621.5,30.6 L621.8,34.9 L622.0,37.9 L622.2,36.5 L622.5,32.2 L622.8,33.0 L623.0,32.6 L623.2,33.9 L623.5,30.9" fill="none" stroke="#e81a1a" stroke-width="1.0" stroke-linejoin="round"/>
<path d="M460.0,111.7 L460.4,111.8 L460.8,113.1 L461.2,112.0 L461.6,112.3 L462.0,111.7 L462.4,112.3 L462.8,112.1 L463.2,112.2 L463.6,111.9 L464.0,113.2 L464.4,113.5 L464.8,112.8 L465.2,112.8 L465.6,112.8 L466.0,112.4 L466.4,112.2 L466.8,111.9 L467.2,112.2 L467.6,111.2 L468.0,111.3 L468.4,111.8 L468.8,110.9 L469.2,112.2 L469.6,111.4 L470.0,111.6 L470.4,112.2 L470.8,111.6 L471.2,111.9 L471.6,111.6 L472.0,112.0 L472.4,112.2 L472.8,111.7 L473.2,112.3 L473.6,112.2 L474.0,112.0 L474.4,111.4 L474.8,112.2 L475.2,112.3 L475.6,111.7 L476.0,111.5 L476.4,112.0 L476.8,112.1 L477.2,112.5 L477.6,112.6 L478.0,112.6 L478.4,112.0 L478.8,112.5 L479.2,112.2 L479.6,111.9 L480.0,111.2 L480.4,112.3 L480.8,111.2 L481.2,112.4 L481.6,112.9 L482.0,112.0 L482.4,111.6 L482.8,111.6 L483.2,111.6 L483.6,112.1 L484.0,112.3 L484.4,111.7 L484.8,112.1 L485.2,111.8 L485.6,112.6 L486.0,112.4 L486.4,111.5 L486.8,111.8 L487.2,112.1 L487.6,111.3 L488.0,111.8 L488.4,112.0 L488.8,111.5 L489.2,112.2 L489.6,112.3 L490.0,112.1 L490.4,112.9 L490.8,111.8 L491.2,112.3 L491.6,112.0 L492.0,112.4 L492.4,111.5 L492.8,112.2 L493.2,112.1 L493.6,112.1 L494.0,112.4 L494.4,110.9 L494.8,111.6 L495.2,111.4 L495.6,112.2 L496.0,112.2 L496.4,111.5 L496.8,111.7 L497.2,112.1 L497.6,111.7 L498.0,111.6 L498.4,111.2 L498.8,111.8 L499.2,112.4 L499.6,111.5 L500.0,112.3 L500.4,112.5 L500.8,112.5 L501.2,113.0 L501.6,112.3 L502.0,113.1 L502.4,112.2 L502.8,112.6 L503.2,111.9 L503.6,112.3 L504.0,112.1 L504.4,112.8 L504.8,111.5 L505.2,111.8 L505.6,112.7 L506.0,112.5 L506.4,112.2 L506.8,112.2 L507.2,111.8 L507.6,112.2 L508.0,112.4 L508.4,112.4 L508.8,112.5 L509.2,112.6 L509.6,112.0 L510.0,111.4 L510.4,111.6 L510.8,112.3 L511.2,111.5 L511.6,112.2 L512.0,110.9 L512.4,111.4 L512.8,111.4 L513.2,111.9 L513.6,111.5 L514.0,111.2 L514.4,112.0 L514.8,111.0 L515.2,111.7 L515.6,112.3 L516.0,111.5 L516.4,112.0 L516.8,111.8 L517.2,112.1 L517.6,112.4 L518.0,112.7 L518.4,113.0 L518.8,112.3 L519.2,113.1 L519.6,112.8 L520.0,112.1 L520.4,112.9 L520.8,112.1 L521.2,112.9 L521.6,112.4 L522.0,111.9 L522.4,111.5 L522.8,111.3 L523.2,111.3 L523.6,111.8 L524.0,112.6 L524.4,112.2 L524.8,112.1 L525.2,112.5 L525.6,112.0 L526.0,111.3 L526.4,111.1 L526.8,112.2 L527.2,111.3 L527.6,112.2 L528.0,112.2 L528.4,111.2 L528.8,111.5 L529.2,111.1 L529.6,111.2 L530.0,109.2 L530.4,111.6 L530.8,112.5 L531.2,112.0 L531.6,112.6 L532.0,112.2 L532.4,112.4 L532.8,112.9 L533.2,111.3 L533.6,112.4 L534.0,111.4 L534.4,112.0 L534.8,111.6 L535.2,111.5 L535.6,110.9 L536.0,110.3 L536.4,112.4 L536.8,111.8 L537.2,111.4 L537.6,110.6 L538.0,111.5 L538.4,111.9 L538.8,111.2 L539.2,110.5 L539.6,111.1 L540.0,111.4 L540.4,111.2 L540.8,111.8 L541.2,110.8 L541.6,111.0 L542.0,110.3 L542.4,112.0 L542.8,111.9 L543.2,111.5 L543.6,110.9 L544.0,111.9 L544.4,111.1 L544.8,111.0 L545.2,110.6 L545.6,111.0 L546.0,111.1 L546.4,110.8 L546.8,111.8 L547.2,111.7 L547.6,111.2 L548.0,110.7 L548.4,110.9 L548.8,110.2 L549.2,111.0 L549.6,110.4 L550.0,110.5 L550.4,110.9 L550.8,110.4 L551.2,109.9 L551.6,110.8 L552.0,109.6 L552.4,109.9 L552.8,110.0 L553.2,110.4 L553.6,110.7 L554.0,109.5 L554.4,110.5 L554.8,111.2 L555.2,111.4 L555.6,111.2 L556.0,109.5 L556.4,111.1 L556.8,110.8 L557.2,110.2 L557.6,110.8 L558.0,110.9 L558.4,110.4 L558.8,110.4 L559.2,111.0 L559.6,110.5 L560.0,110.9 L560.4,109.9 L560.8,109.2 L561.2,110.2 L561.6,110.4 L562.0,110.0 L562.4,110.6 L562.8,110.7 L563.2,109.2 L563.6,111.4 L564.0,110.7 L564.4,110.2 L564.8,109.9 L565.2,109.6 L565.6,111.8 L566.0,109.9 L566.4,109.9 L566.8,109.3 L567.2,109.7 L567.6,110.1 L568.0,109.3 L568.4,109.7 L568.8,109.6 L569.2,109.9 L569.6,110.2 L570.0,109.7 L570.4,110.4 L570.8,109.7 L571.2,109.6 L571.6,109.6 L572.0,109.4 L572.4,109.9 L572.8,108.0 L573.2,108.7 L573.6,108.4 L574.0,109.9 L574.4,109.7 L574.8,108.8 L575.2,109.2 L575.6,108.3 L576.0,109.0 L576.4,109.9 L576.8,109.6 L577.2,110.2 L577.6,108.9 L578.0,109.7 L578.4,109.3 L578.8,109.3 L579.2,109.6 L579.6,110.0 L580.0,110.3 L580.4,109.4 L580.8,108.7 L581.2,107.3 L581.6,107.8 L582.0,107.2 L582.4,107.8 L582.8,107.6 L583.2,107.4 L583.6,106.9 L584.0,106.6 L584.4,106.1 L584.8,106.2 L585.2,106.3 L585.6,107.2 L586.0,106.9 L586.4,107.2 L586.8,109.8 L587.2,110.9 L587.6,111.4 L588.0,111.2 L588.4,111.9 L588.8,110.7 L589.2,111.2 L589.6,110.7 L590.0,112.0 L590.4,110.9 L590.8,110.8 L591.2,110.6 L591.6,109.9 L592.0,109.8 L592.4,108.8 L592.8,109.4 L593.2,109.3 L593.6,109.7 L594.0,108.8 L594.4,108.2 L594.8,107.9 L595.2,108.5 L595.6,110.4 L596.0,110.0 L596.4,110.0 L596.8,109.5 L597.2,110.3 L597.6,110.4 L598.0,111.0 L598.4,110.3 L598.8,110.8 L599.2,110.3 L599.6,111.1 L600.0,110.9 L600.4,110.6 L600.8,111.2 L601.2,110.4 L601.6,111.9 L602.0,111.3 L602.4,111.3 L602.8,111.3 L603.2,111.2 L603.6,111.2 L604.0,111.9 L604.4,111.7 L604.8,112.0 L605.2,111.9 L605.6,112.5 L606.0,112.2 L606.4,111.4 L606.8,113.1 L607.2,112.8 L607.6,112.7 L608.0,112.6 L608.4,112.4 L608.8,112.6 L609.2,113.5 L609.6,112.3 L610.0,111.9 L610.4,112.7 L610.8,112.8 L611.2,113.0 L611.6,112.0 L612.0,112.3 L612.4,112.4 L612.8,112.9 L613.2,113.2 L613.6,112.8 L614.0,113.1 L614.4,112.8 L614.8,112.8 L615.2,111.5 L615.6,112.1 L616.0,111.7 L616.4,112.3 L616.8,111.9 L617.2,111.2 L617.6,111.5 L618.0,111.3 L618.4,111.5 L618.8,111.0 L619.2,110.7 L619.6,111.4 L620.0,110.6 L620.4,110.9 L620.8,109.9 L621.2,110.2 L621.6,110.1 L622.0,109.7 L622.4,110.4 L622.8,109.2 L623.2,109.8 L623.6,108.6" fill="none" stroke="#000" stroke-width="1.5" stroke-linejoin="round"/>
<path d="M460.0,134.2 L460.3,134.2 L460.6,134.1 L460.9,134.1 L461.2,134.3 L461.5,134.3 L461.8,134.4 L462.1,134.3 L462.4,134.3 L462.7,134.3 L463.0,134.2 L463.3,134.3 L463.6,134.2 L463.9,134.4 L464.2,134.3 L464.5,134.4 L464.8,134.3 L465.1,134.6 L465.4,134.4 L465.7,134.3 L466.0,134.4 L466.3,134.4 L466.6,134.5 L466.9,134.4 L467.2,134.4 L467.5,134.4 L467.8,134.4 L468.1,134.4 L468.4,134.4 L468.7,134.4 L469.0,134.5 L469.3,134.3 L469.6,134.2 L469.9,134.4 L470.2,134.5 L470.5,134.4 L470.8,134.3 L471.1,134.3 L471.4,134.6 L471.7,134.4 L472.0,134.5 L472.3,134.5 L472.6,134.5 L472.9,134.4 L473.2,134.5 L473.5,134.6 L473.8,134.5 L474.1,134.6 L474.4,134.4 L474.7,134.7 L475.0,134.5 L475.3,134.5 L475.6,134.5 L475.9,134.7 L476.2,134.6 L476.5,134.6 L476.8,134.6 L477.1,134.6 L477.4,134.6 L477.7,134.6 L478.0,134.6 L478.3,134.5 L478.6,134.7 L478.9,134.6 L479.2,134.6 L479.5,134.7 L479.8,134.6 L480.1,134.5 L480.4,134.7 L480.7,134.8 L481.0,134.6 L481.3,134.6 L481.6,134.8 L481.9,134.7 L482.2,134.6 L482.5,134.9 L482.8,134.6 L483.1,134.6 L483.4,134.6 L483.7,134.6 L484.0,134.8 L484.3,134.6 L484.6,134.5 L484.9,134.9 L485.2,134.8 L485.5,134.7 L485.8,134.8 L486.1,134.9 L486.4,134.7 L486.7,134.8 L487.0,134.8 L487.3,134.8 L487.6,134.7 L487.9,134.7 L488.2,134.8 L488.5,134.9 L488.8,134.8 L489.1,135.0 L489.4,134.9 L489.7,134.8 L490.0,134.8 L490.3,134.8 L490.6,134.8 L490.9,135.0 L491.2,134.9 L491.5,134.9 L491.8,134.9 L492.1,134.8 L492.4,134.6 L492.7,134.7 L493.0,134.9 L493.3,134.8 L493.6,134.8 L493.9,134.8 L494.2,134.8 L494.5,134.9 L494.8,134.6 L495.1,134.7 L495.4,134.7 L495.7,134.7 L496.0,134.7 L496.3,134.7 L496.6,134.9 L496.9,134.7 L497.2,134.7 L497.5,134.8 L497.8,134.9 L498.1,134.5 L498.4,134.7 L498.7,134.7 L499.0,134.7 L499.3,134.5 L499.6,134.7 L499.9,134.5 L500.2,134.8 L500.5,134.5 L500.8,134.6 L501.1,134.8 L501.4,134.6 L501.7,134.6 L502.0,134.7 L502.3,134.5 L502.6,134.5 L502.9,134.5 L503.2,134.7 L503.5,134.6 L503.8,134.6 L504.1,134.5 L504.4,134.5 L504.7,134.6 L505.0,134.4 L505.3,134.5 L505.6,134.4 L505.9,134.4 L506.2,134.5 L506.5,134.6 L506.8,134.4 L507.1,134.4 L507.4,134.3 L507.7,134.4 L508.0,134.4 L508.3,134.5 L508.6,134.5 L508.9,134.1 L509.2,134.3 L509.5,134.5 L509.8,134.3 L510.1,134.3 L510.4,134.5 L510.7,134.4 L511.0,134.3 L511.3,134.2 L511.6,134.2 L511.9,134.4 L512.2,134.3 L512.5,134.3 L512.8,134.3 L513.1,134.2 L513.4,134.4 L513.7,134.3 L514.0,134.3 L514.3,134.3 L514.6,134.3 L514.9,134.1 L515.2,134.1 L515.5,134.2 L515.8,134.5 L516.1,134.3 L516.4,134.2 L516.7,134.4 L517.0,134.5 L517.3,134.4 L517.6,134.5 L517.9,134.6 L518.2,134.5 L518.5,134.6 L518.8,134.6 L519.1,134.7 L519.4,134.8 L519.7,134.7 L520.0,134.7 L520.3,134.8 L520.6,134.9 L520.9,135.2 L521.2,134.9 L521.5,135.3 L521.8,135.2 L522.1,135.4 L522.4,135.3 L522.7,135.3 L523.0,135.6 L523.3,136.2 L523.6,136.1 L523.9,136.0 L524.2,136.0 L524.5,135.8 L524.8,135.4 L525.1,135.6 L525.4,135.8 L525.7,135.5 L526.0,135.8 L526.3,135.6 L526.6,135.7 L526.9,136.2 L527.2,135.7 L527.5,135.7 L527.8,136.4 L528.1,136.3 L528.4,136.6 L528.7,137.0 L529.0,137.2 L529.3,137.1 L529.6,137.6 L529.9,137.8 L530.2,137.6 L530.5,137.7 L530.8,137.6 L531.1,138.1 L531.4,138.3 L531.7,137.8 L532.0,138.4 L532.3,138.2 L532.6,138.2 L532.9,137.9 L533.2,138.1 L533.5,138.0 L533.8,137.5 L534.1,136.9 L534.4,137.2 L534.7,136.8 L535.0,136.0 L535.3,135.9 L535.6,135.9 L535.9,135.4 L536.2,135.2 L536.5,135.4 L536.8,135.2 L537.1,134.7 L537.4,134.8 L537.7,134.6 L538.0,134.8 L538.3,134.8 L538.6,134.6 L538.9,134.7 L539.2,134.4 L539.5,134.5 L539.8,134.4 L540.1,134.3 L540.4,134.5 L540.7,134.1 L541.0,134.8 L541.3,134.5 L541.6,134.9 L541.9,134.5 L542.2,134.8 L542.5,134.7 L542.8,134.7 L543.1,134.8 L543.4,134.9 L543.7,134.9 L544.0,135.0 L544.3,135.2 L544.6,135.2 L544.9,135.3 L545.2,135.4 L545.5,135.3 L545.8,134.9 L546.1,135.4 L546.4,134.7 L546.7,135.1 L547.0,134.8 L547.3,134.9 L547.6,134.9 L547.9,134.7 L548.2,134.3 L548.5,134.4 L548.8,134.2 L549.1,134.1 L549.4,133.3 L549.7,133.2 L550.0,133.0 L550.3,133.2 L550.6,133.6 L550.9,133.0 L551.2,133.4 L551.5,133.1 L551.8,132.8 L552.1,133.0 L552.4,133.0 L552.7,133.2 L553.0,132.6 L553.3,132.6 L553.6,132.8 L553.9,132.6 L554.2,132.9 L554.5,132.7 L554.8,132.4 L555.1,132.3 L555.4,132.4 L555.7,132.6 L556.0,132.5 L556.3,132.2 L556.6,132.4 L556.9,132.3 L557.2,132.2 L557.5,132.4 L557.8,132.3 L558.1,132.5 L558.4,132.3 L558.7,132.2 L559.0,132.1 L559.3,132.0 L559.6,132.2 L559.9,132.1 L560.2,132.2 L560.5,132.3 L560.8,132.3 L561.1,132.2 L561.4,132.2 L561.7,132.3 L562.0,132.0 L562.3,132.3 L562.6,132.3 L562.9,132.4 L563.2,132.0 L563.5,132.7 L563.8,132.5 L564.1,132.4 L564.4,132.3 L564.7,132.5 L565.0,132.6 L565.3,132.4 L565.6,132.5 L565.9,132.7 L566.2,132.7 L566.5,132.8 L566.8,132.8 L567.1,133.1 L567.4,132.9 L567.7,133.0 L568.0,132.9 L568.3,133.0 L568.6,133.2 L568.9,133.0 L569.2,133.1 L569.5,133.4 L569.8,133.4 L570.1,133.4 L570.4,133.4 L570.7,133.3 L571.0,133.7 L571.3,133.7 L571.6,133.6 L571.9,133.8 L572.2,133.9 L572.5,133.9 L572.8,134.1 L573.1,133.8 L573.4,134.0 L573.7,134.3 L574.0,134.1 L574.3,134.0 L574.6,134.3 L574.9,134.4 L575.2,134.6 L575.5,134.4 L575.8,134.4 L576.1,134.1 L576.4,134.5 L576.7,134.6 L577.0,134.3 L577.3,134.1 L577.6,134.5 L577.9,134.1 L578.2,134.2 L578.5,134.2 L578.8,133.9 L579.1,133.6 L579.4,134.1 L579.7,133.7 L580.0,133.7 L580.3,133.6 L580.6,133.8 L580.9,134.0 L581.2,133.7 L581.5,133.8 L581.8,134.2 L582.1,134.4 L582.4,134.2 L582.7,134.1 L583.0,134.0 L583.3,134.3 L583.6,134.3 L583.9,134.7 L584.2,134.4 L584.5,134.4 L584.8,134.6 L585.1,134.5 L585.4,134.9 L585.7,135.0 L586.0,134.9 L586.3,135.4 L586.6,135.2 L586.9,135.1 L587.2,135.6 L587.5,135.7 L587.8,136.0 L588.1,136.2 L588.4,136.2 L588.7,136.5 L589.0,136.4 L589.3,136.6 L589.6,136.9 L589.9,136.8 L590.2,136.7 L590.5,136.9 L590.8,137.3 L591.1,137.4 L591.4,137.8 L591.7,137.7 L592.0,137.7 L592.3,137.8 L592.6,137.8 L592.9,138.6 L593.2,137.9 L593.5,138.0 L593.8,137.7 L594.1,137.9 L594.4,137.5 L594.7,137.7 L595.0,137.8 L595.3,137.4 L595.6,137.4 L595.9,137.2 L596.2,137.0 L596.5,136.8 L596.8,136.7 L597.1,136.5 L597.4,137.0 L597.7,136.3 L598.0,136.7 L598.3,136.4 L598.6,136.4 L598.9,136.5 L599.2,136.0 L599.5,136.3 L599.8,136.1 L600.1,135.6 L600.4,136.5 L600.7,136.4 L601.0,135.8 L601.3,136.1 L601.6,135.8 L601.9,136.0 L602.2,136.1 L602.5,135.8 L602.8,136.2 L603.1,136.1 L603.4,136.0 L603.7,136.3 L604.0,136.3 L604.3,136.4 L604.6,135.8 L604.9,135.6 L605.2,135.8 L605.5,136.3 L605.8,136.3 L606.1,136.4 L606.4,136.3 L606.7,136.1 L607.0,136.4 L607.3,136.4 L607.6,137.2 L607.9,136.5 L608.2,136.8 L608.5,136.7 L608.8,136.6 L609.1,136.7 L609.4,136.7 L609.7,136.5 L610.0,137.4 L610.3,137.2 L610.6,136.5 L610.9,136.7 L611.2,136.9 L611.5,136.7 L611.8,136.6 L612.1,136.4 L612.4,136.6 L612.7,136.5 L613.0,136.7 L613.3,136.2 L613.6,136.3 L613.9,136.4 L614.2,136.5 L614.5,136.3 L614.8,136.0 L615.1,135.8 L615.4,135.8 L615.7,136.3 L616.0,136.3 L616.3,136.4 L616.6,136.1 L616.9,136.3 L617.2,136.1 L617.5,136.2 L617.8,136.1 L618.1,136.4 L618.4,136.0 L618.7,136.3 L619.0,136.4 L619.3,136.2 L619.6,136.2 L619.9,136.2 L620.2,136.1 L620.5,136.2 L620.8,136.1 L621.1,136.5 L621.4,136.4 L621.7,137.1 L622.0,136.4 L622.3,136.8 L622.6,136.7 L622.9,137.0 L623.2,136.9 L623.5,137.0 L623.5,138.1 L623.2,138.3 L622.9,138.2 L622.6,138.0 L622.3,137.8 L622.0,138.0 L621.7,137.7 L621.4,137.9 L621.1,137.6 L620.8,137.7 L620.5,137.5 L620.2,137.4 L619.9,137.9 L619.6,137.6 L619.3,137.9 L619.0,137.6 L618.7,137.4 L618.4,137.7 L618.1,137.7 L617.8,137.6 L617.5,137.1 L617.2,137.9 L616.9,137.7 L616.6,137.6 L616.3,137.4 L616.0,137.6 L615.7,137.4 L615.4,138.1 L615.1,137.5 L614.8,137.5 L614.5,137.9 L614.2,137.4 L613.9,138.0 L613.6,137.3 L613.3,137.9 L613.0,137.9 L612.7,138.1 L612.4,138.0 L612.1,138.5 L611.8,138.0 L611.5,138.4 L611.2,138.4 L610.9,138.0 L610.6,138.4 L610.3,138.4 L610.0,138.9 L609.7,138.4 L609.4,138.4 L609.1,138.4 L608.8,138.0 L608.5,138.1 L608.2,138.1 L607.9,138.3 L607.6,138.2 L607.3,137.7 L607.0,138.1 L606.7,138.1 L606.4,137.6 L606.1,138.0 L605.8,137.9 L605.5,138.1 L605.2,137.7 L604.9,137.8 L604.6,137.7 L604.3,137.5 L604.0,137.9 L603.7,137.6 L603.4,137.9 L603.1,137.7 L602.8,137.7 L602.5,138.0 L602.2,137.7 L601.9,137.9 L601.6,137.7 L601.3,137.8 L601.0,138.0 L600.7,138.2 L600.4,137.4 L600.1,137.6 L599.8,138.3 L599.5,137.9 L599.2,137.9 L598.9,138.1 L598.6,138.1 L598.3,138.3 L598.0,138.1 L597.7,138.3 L597.4,137.8 L597.1,138.5 L596.8,138.3 L596.5,138.6 L596.2,139.1 L595.9,139.3 L595.6,139.5 L595.3,139.4 L595.0,139.7 L594.7,139.7 L594.4,139.4 L594.1,139.8 L593.8,140.0 L593.5,139.8 L593.2,139.9 L592.9,140.3 L592.6,139.9 L592.3,140.0 L592.0,139.8 L591.7,139.8 L591.4,139.3 L591.1,139.2 L590.8,138.9 L590.5,138.5 L590.2,138.6 L589.9,138.6 L589.6,138.3 L589.3,138.3 L589.0,138.1 L588.7,138.1 L588.4,137.9 L588.1,138.1 L587.8,137.8 L587.5,137.2 L587.2,137.5 L586.9,137.3 L586.6,137.3 L586.3,137.2 L586.0,136.7 L585.7,136.1 L585.4,136.5 L585.1,136.4 L584.8,136.4 L584.5,136.0 L584.2,136.1 L583.9,135.7 L583.6,135.9 L583.3,135.9 L583.0,136.0 L582.7,135.4 L582.4,135.1 L582.1,136.1 L581.8,135.7 L581.5,135.8 L581.2,135.3 L580.9,135.5 L580.6,135.4 L580.3,135.2 L580.0,135.1 L579.7,135.5 L579.4,135.6 L579.1,135.1 L578.8,135.3 L578.5,135.1 L578.2,135.4 L577.9,135.5 L577.6,135.9 L577.3,135.4 L577.0,135.7 L576.7,135.6 L576.4,136.1 L576.1,136.0 L575.8,135.7 L575.5,136.0 L575.2,136.0 L574.9,135.7 L574.6,135.7 L574.3,135.9 L574.0,136.1 L573.7,136.2 L573.4,135.7 L573.1,135.6 L572.8,135.0 L572.5,135.1 L572.2,135.0 L571.9,135.1 L571.6,135.1 L571.3,134.7 L571.0,134.8 L570.7,134.4 L570.4,134.2 L570.1,134.3 L569.8,134.2 L569.5,134.3 L569.2,134.2 L568.9,134.1 L568.6,134.0 L568.3,133.8 L568.0,133.8 L567.7,133.8 L567.4,133.8 L567.1,133.8 L566.8,133.7 L566.5,133.8 L566.2,133.6 L565.9,133.8 L565.6,133.7 L565.3,133.4 L565.0,133.4 L564.7,133.6 L564.4,133.4 L564.1,133.3 L563.8,133.3 L563.5,133.2 L563.2,133.3 L562.9,133.5 L562.6,133.3 L562.3,133.3 L562.0,133.3 L561.7,133.4 L561.4,133.2 L561.1,132.9 L560.8,133.1 L560.5,133.0 L560.2,133.1 L559.9,133.1 L559.6,133.1 L559.3,132.9 L559.0,133.3 L558.7,133.3 L558.4,133.4 L558.1,133.2 L557.8,133.5 L557.5,133.4 L557.2,133.3 L556.9,133.4 L556.6,133.7 L556.3,133.5 L556.0,133.6 L555.7,133.5 L555.4,133.7 L555.1,133.6 L554.8,133.8 L554.5,133.5 L554.2,133.8 L553.9,133.9 L553.6,134.3 L553.3,134.1 L553.0,134.1 L552.7,134.4 L552.4,134.5 L552.1,134.6 L551.8,134.6 L551.5,134.5 L551.2,134.9 L550.9,134.6 L550.6,135.0 L550.3,135.1 L550.0,135.0 L549.7,135.2 L549.4,135.2 L549.1,135.8 L548.8,136.3 L548.5,136.3 L548.2,136.7 L547.9,136.8 L547.6,136.4 L547.3,136.4 L547.0,136.7 L546.7,137.0 L546.4,137.0 L546.1,136.9 L545.8,137.0 L545.5,136.8 L545.2,137.4 L544.9,136.9 L544.6,136.8 L544.3,136.6 L544.0,136.5 L543.7,136.8 L543.4,136.5 L543.1,136.5 L542.8,136.3 L542.5,136.5 L542.2,136.5 L541.9,136.2 L541.6,136.3 L541.3,136.4 L541.0,136.2 L540.7,136.0 L540.4,135.8 L540.1,136.1 L539.8,136.1 L539.5,135.6 L539.2,136.1 L538.9,136.2 L538.6,136.2 L538.3,136.5 L538.0,136.5 L537.7,136.7 L537.4,136.8 L537.1,136.5 L536.8,136.6 L536.5,137.2 L536.2,137.1 L535.9,137.0 L535.6,137.5 L535.3,137.3 L535.0,137.9 L534.7,138.2 L534.4,138.9 L534.1,138.6 L533.8,139.0 L533.5,139.4 L533.2,139.7 L532.9,139.6 L532.6,139.9 L532.3,140.1 L532.0,139.8 L531.7,139.9 L531.4,139.6 L531.1,139.7 L530.8,139.7 L530.5,139.4 L530.2,139.7 L529.9,138.9 L529.6,139.6 L529.3,139.3 L529.0,138.5 L528.7,138.6 L528.4,138.3 L528.1,138.0 L527.8,137.9 L527.5,137.9 L527.2,137.6 L526.9,137.6 L526.6,137.1 L526.3,137.4 L526.0,137.5 L525.7,137.3 L525.4,137.6 L525.1,137.6 L524.8,137.4 L524.5,137.2 L524.2,137.6 L523.9,137.4 L523.6,137.0 L523.3,136.6 L523.0,136.7 L522.7,136.8 L522.4,136.4 L522.1,136.4 L521.8,136.2 L521.5,136.1 L521.2,135.8 L520.9,135.8 L520.6,135.7 L520.3,135.6 L520.0,135.3 L519.7,135.4 L519.4,135.5 L519.1,135.6 L518.8,135.3 L518.5,135.3 L518.2,135.2 L517.9,135.2 L517.6,135.3 L517.3,135.2 L517.0,135.1 L516.7,135.0 L516.4,135.1 L516.1,135.0 L515.8,135.0 L515.5,135.2 L515.2,135.0 L514.9,134.9 L514.6,135.0 L514.3,135.0 L514.0,135.0 L513.7,135.0 L513.4,134.9 L513.1,135.1 L512.8,134.8 L512.5,135.1 L512.2,135.0 L511.9,135.1 L511.6,135.0 L511.3,135.0 L511.0,135.2 L510.7,135.0 L510.4,135.1 L510.1,135.1 L509.8,135.1 L509.5,135.2 L509.2,135.1 L508.9,135.0 L508.6,135.2 L508.3,135.2 L508.0,135.2 L507.7,135.0 L507.4,135.1 L507.1,135.3 L506.8,135.0 L506.5,135.2 L506.2,135.1 L505.9,135.3 L505.6,135.2 L505.3,135.3 L505.0,135.2 L504.7,135.3 L504.4,135.1 L504.1,135.2 L503.8,135.4 L503.5,135.4 L503.2,135.3 L502.9,135.3 L502.6,135.3 L502.3,135.3 L502.0,135.2 L501.7,135.3 L501.4,135.3 L501.1,135.3 L500.8,135.3 L500.5,135.3 L500.2,135.3 L499.9,135.3 L499.6,135.5 L499.3,135.3 L499.0,135.2 L498.7,135.4 L498.4,135.2 L498.1,135.3 L497.8,135.4 L497.5,135.4 L497.2,135.4 L496.9,135.4 L496.6,135.4 L496.3,135.5 L496.0,135.4 L495.7,135.6 L495.4,135.5 L495.1,135.4 L494.8,135.3 L494.5,135.4 L494.2,135.5 L493.9,135.3 L493.6,135.4 L493.3,135.5 L493.0,135.5 L492.7,135.5 L492.4,135.6 L492.1,135.4 L491.8,135.5 L491.5,135.6 L491.2,135.5 L490.9,135.5 L490.6,135.6 L490.3,135.6 L490.0,135.5 L489.7,135.7 L489.4,135.5 L489.1,135.7 L488.8,135.5 L488.5,135.4 L488.2,135.6 L487.9,135.5 L487.6,135.5 L487.3,135.6 L487.0,135.4 L486.7,135.4 L486.4,135.4 L486.1,135.5 L485.8,135.5 L485.5,135.5 L485.2,135.6 L484.9,135.4 L484.6,135.5 L484.3,135.5 L484.0,135.5 L483.7,135.6 L483.4,135.5 L483.1,135.5 L482.8,135.4 L482.5,135.3 L482.2,135.4 L481.9,135.5 L481.6,135.3 L481.3,135.4 L481.0,135.5 L480.7,135.4 L480.4,135.3 L480.1,135.4 L479.8,135.4 L479.5,135.4 L479.2,135.3 L478.9,135.2 L478.6,135.3 L478.3,135.4 L478.0,135.3 L477.7,135.3 L477.4,135.4 L477.1,135.3 L476.8,135.1 L476.5,135.2 L476.2,135.3 L475.9,135.3 L475.6,135.3 L475.3,135.3 L475.0,135.2 L474.7,135.2 L474.4,135.1 L474.1,135.1 L473.8,135.4 L473.5,135.4 L473.2,135.2 L472.9,135.2 L472.6,135.3 L472.3,135.2 L472.0,135.1 L471.7,135.1 L471.4,135.3 L471.1,135.1 L470.8,135.1 L470.5,135.3 L470.2,135.2 L469.9,135.1 L469.6,135.1 L469.3,135.2 L469.0,135.2 L468.7,134.9 L468.4,135.2 L468.1,135.4 L467.8,135.0 L467.5,135.1 L467.2,135.0 L466.9,135.1 L466.6,135.3 L466.3,135.1 L466.0,134.9 L465.7,135.1 L465.4,135.2 L465.1,135.0 L464.8,135.2 L464.5,135.0 L464.2,134.9 L463.9,135.0 L463.6,135.1 L463.3,135.0 L463.0,135.0 L462.7,134.8 L462.4,135.0 L462.1,135.0 L461.8,135.1 L461.5,135.0 L461.2,135.0 L460.9,135.0 L460.6,134.7 L460.3,134.9 L460.0,134.9Z" fill="#1436e2" stroke="none"/>
<path d="M460.0,133.7 L460.3,134.9 L460.6,134.0 L460.9,134.8 L461.2,135.4 L461.5,135.0 L461.8,133.7 L462.1,135.4 L462.4,135.3 L462.7,134.3 L463.0,134.4 L463.3,135.5 L463.6,134.9 L463.9,134.9 L464.2,135.3 L464.5,135.0 L464.8,136.4 L465.1,135.5 L465.4,134.8 L465.7,134.8 L466.0,134.5 L466.3,135.5 L466.6,134.0 L466.9,135.3 L467.2,134.4 L467.5,133.6 L467.8,135.4 L468.1,135.0 L468.4,134.9 L468.7,134.6 L469.0,134.8 L469.3,134.4 L469.6,135.6 L469.9,135.6 L470.2,134.8 L470.5,134.8 L470.8,135.0 L471.1,135.4 L471.4,135.0 L471.7,134.6 L472.0,134.7 L472.3,135.0 L472.6,134.8 L472.9,134.6 L473.2,135.6 L473.5,135.1 L473.8,135.4 L474.1,134.4 L474.4,135.4 L474.7,134.9 L475.0,134.8 L475.3,134.5 L475.6,134.5 L475.9,134.7 L476.2,135.0 L476.5,134.9 L476.8,136.2 L477.1,135.2 L477.4,135.1 L477.7,134.9 L478.0,134.5 L478.3,134.5 L478.6,135.2 L478.9,134.1 L479.2,136.0 L479.5,136.0 L479.8,134.1 L480.1,135.8 L480.4,135.7 L480.7,135.7 L481.0,135.4 L481.3,136.0 L481.6,134.6 L481.9,134.8 L482.2,135.4 L482.5,135.1 L482.8,134.2 L483.1,135.6 L483.4,135.7 L483.7,135.0 L484.0,135.3 L484.3,135.7 L484.6,133.8 L484.9,134.8 L485.2,134.6 L485.5,135.0 L485.8,134.4 L486.1,134.4 L486.4,135.3 L486.7,136.3 L487.0,134.4 L487.3,136.1 L487.6,135.8 L487.9,135.8 L488.2,136.0 L488.5,134.9 L488.8,135.9 L489.1,134.3 L489.4,134.7 L489.7,135.4 L490.0,135.7 L490.3,134.4 L490.6,134.1 L490.9,135.5 L491.2,135.4 L491.5,135.6 L491.8,135.1 L492.1,134.4 L492.4,135.8 L492.7,135.6 L493.0,135.3 L493.3,136.5 L493.6,135.3 L493.9,136.0 L494.2,135.0 L494.5,133.4 L494.8,134.4 L495.1,133.4 L495.4,135.0 L495.7,135.8 L496.0,134.1 L496.3,135.5 L496.6,134.9 L496.9,135.6 L497.2,135.3 L497.5,134.4 L497.8,135.4 L498.1,135.0 L498.4,135.6 L498.7,136.2 L499.0,134.9 L499.3,136.0 L499.6,134.9 L499.9,135.4 L500.2,135.1 L500.5,134.6 L500.8,135.1 L501.1,134.7 L501.4,135.3 L501.7,134.3 L502.0,134.4 L502.3,135.5 L502.6,135.3 L502.9,135.3 L503.2,135.3 L503.5,135.5 L503.8,135.2 L504.1,135.5 L504.4,134.4 L504.7,135.2 L505.0,134.4 L505.3,134.1 L505.6,134.7 L505.9,135.2 L506.2,134.9 L506.5,135.9 L506.8,135.2 L507.1,135.1 L507.4,134.9 L507.7,134.0 L508.0,134.8 L508.3,134.8 L508.6,135.8 L508.9,134.3 L509.2,134.7 L509.5,134.3 L509.8,134.9 L510.1,133.7 L510.4,134.9 L510.7,134.7 L511.0,134.8 L511.3,136.3 L511.6,134.7 L511.9,135.0 L512.2,134.7 L512.5,135.4 L512.8,136.0 L513.1,135.7 L513.4,134.9 L513.7,133.9 L514.0,134.9 L514.3,133.7 L514.6,134.1 L514.9,134.3 L515.2,134.0 L515.5,134.7 L515.8,134.5 L516.1,134.3 L516.4,135.0 L516.7,134.4 L517.0,135.6 L517.3,135.2 L517.6,134.6 L517.9,135.2 L518.2,134.5 L518.5,134.6 L518.8,135.6 L519.1,134.1 L519.4,135.4 L519.7,136.3 L520.0,133.8 L520.3,136.8 L520.6,134.0 L520.9,133.8 L521.2,133.9 L521.5,134.7 L521.8,135.3 L522.1,134.1 L522.4,135.8 L522.7,137.0 L523.0,135.4 L523.3,136.5 L523.6,137.2 L523.9,138.8 L524.2,136.5 L524.5,137.6 L524.8,137.4 L525.1,136.7 L525.4,136.2 L525.7,137.2 L526.0,137.6 L526.3,134.8 L526.6,136.1 L526.9,137.1 L527.2,137.2 L527.5,137.5 L527.8,139.5 L528.1,138.9 L528.4,135.8 L528.7,140.0 L529.0,137.0 L529.3,137.0 L529.6,139.9 L529.9,138.1 L530.2,136.3 L530.5,139.6 L530.8,139.4 L531.1,139.6 L531.4,136.9 L531.7,140.1 L532.0,138.1 L532.3,140.3 L532.6,137.3 L532.9,137.8 L533.2,136.1 L533.5,137.5 L533.8,139.9 L534.1,138.4 L534.4,136.9 L534.7,139.4 L535.0,137.4 L535.3,137.9 L535.6,137.0 L535.9,136.1 L536.2,136.3 L536.5,136.6 L536.8,137.6 L537.1,136.7 L537.4,137.1 L537.7,134.1 L538.0,132.9 L538.3,136.0 L538.6,135.7 L538.9,136.0 L539.2,133.9 L539.5,135.5 L539.8,133.7 L540.1,135.3 L540.4,135.1 L540.7,135.0 L541.0,135.8 L541.3,134.7 L541.6,135.4 L541.9,136.5 L542.2,137.7 L542.5,136.2 L542.8,136.9 L543.1,136.6 L543.4,138.2 L543.7,138.9 L544.0,135.0 L544.3,137.0 L544.6,136.5 L544.9,138.4 L545.2,132.6 L545.5,135.1 L545.8,133.5 L546.1,137.9 L546.4,136.3 L546.7,136.8 L547.0,136.4 L547.3,136.1 L547.6,136.3 L547.9,135.1 L548.2,132.6 L548.5,135.7 L548.8,134.9 L549.1,134.0 L549.4,133.7 L549.7,136.2 L550.0,133.1 L550.3,132.6 L550.6,134.9 L550.9,136.0 L551.2,132.1 L551.5,132.5 L551.8,132.4 L552.1,134.2 L552.4,134.4 L552.7,135.4 L553.0,133.5 L553.3,133.2 L553.6,132.7 L553.9,134.7 L554.2,132.6 L554.5,132.3 L554.8,132.9 L555.1,133.1 L555.4,133.5 L555.7,132.4 L556.0,134.9 L556.3,135.0 L556.6,131.8 L556.9,133.1 L557.2,131.9 L557.5,132.6 L557.8,131.7 L558.1,132.5 L558.4,133.0 L558.7,132.9 L559.0,131.5 L559.3,131.0 L559.6,131.1 L559.9,133.6 L560.2,132.5 L560.5,132.7 L560.8,133.9 L561.1,131.9 L561.4,133.1 L561.7,132.2 L562.0,132.9 L562.3,131.3 L562.6,132.5 L562.9,132.8 L563.2,133.0 L563.5,131.7 L563.8,132.7 L564.1,133.7 L564.4,132.9 L564.7,133.7 L565.0,133.5 L565.3,133.3 L565.6,132.8 L565.9,133.2 L566.2,132.4 L566.5,133.8 L566.8,133.6 L567.1,134.3 L567.4,135.2 L567.7,134.1 L568.0,133.9 L568.3,133.7 L568.6,134.3 L568.9,134.8 L569.2,133.4 L569.5,132.7 L569.8,132.7 L570.1,134.7 L570.4,134.3 L570.7,134.5 L571.0,132.6 L571.3,133.7 L571.6,132.8 L571.9,133.2 L572.2,133.9 L572.5,133.8 L572.8,136.4 L573.1,133.3 L573.4,134.1 L573.7,134.0 L574.0,135.1 L574.3,136.0 L574.6,134.2 L574.9,133.1 L575.2,134.7 L575.5,138.5 L575.8,133.7 L576.1,136.4 L576.4,133.7 L576.7,134.2 L577.0,134.4 L577.3,137.5 L577.6,136.0 L577.9,135.3 L578.2,133.4 L578.5,133.2 L578.8,133.7 L579.1,136.9 L579.4,136.4 L579.7,134.8 L580.0,133.5 L580.3,132.1 L580.6,134.0 L580.9,135.4 L581.2,135.5 L581.5,135.3 L581.8,133.8 L582.1,135.6 L582.4,134.7 L582.7,136.2 L583.0,135.3 L583.3,136.1 L583.6,135.6 L583.9,134.5 L584.2,136.9 L584.5,133.7 L584.8,136.2 L585.1,134.7 L585.4,135.0 L585.7,136.0 L586.0,135.0 L586.3,134.4 L586.6,134.7 L586.9,134.6 L587.2,136.4 L587.5,137.0 L587.8,136.5 L588.1,134.5 L588.4,137.1 L588.7,138.5 L589.0,135.5 L589.3,136.0 L589.6,138.9 L589.9,137.4 L590.2,139.4 L590.5,137.4 L590.8,135.9 L591.1,138.2 L591.4,138.3 L591.7,139.0 L592.0,137.4 L592.3,138.2 L592.6,143.0 L592.9,138.3 L593.2,141.6 L593.5,142.5 L593.8,139.3 L594.1,139.4 L594.4,140.0 L594.7,138.6 L595.0,137.4 L595.3,138.5 L595.6,135.9 L595.9,141.5 L596.2,135.6 L596.5,140.4 L596.8,139.1 L597.1,140.6 L597.4,138.4 L597.7,135.2 L598.0,135.9 L598.3,137.9 L598.6,135.9 L598.9,135.7 L599.2,135.4 L599.5,135.8 L599.8,133.9 L600.1,137.6 L600.4,135.7 L600.7,138.9 L601.0,139.6 L601.3,136.8 L601.6,138.6 L601.9,138.6 L602.2,137.2 L602.5,136.6 L602.8,138.9 L603.1,137.9 L603.4,136.6 L603.7,136.1 L604.0,136.9 L604.3,138.3 L604.6,137.9 L604.9,136.0 L605.2,136.7 L605.5,137.2 L605.8,136.4 L606.1,137.0 L606.4,135.7 L606.7,136.0 L607.0,137.6 L607.3,137.6 L607.6,136.9 L607.9,140.4 L608.2,137.2 L608.5,138.4 L608.8,137.9 L609.1,141.0 L609.4,138.6 L609.7,139.2 L610.0,137.7 L610.3,138.3 L610.6,141.4 L610.9,136.4 L611.2,137.3 L611.5,138.2 L611.8,137.4 L612.1,136.3 L612.4,136.7 L612.7,137.0 L613.0,136.9 L613.3,137.3 L613.6,139.1 L613.9,137.4 L614.2,136.6 L614.5,137.9 L614.8,137.7 L615.1,135.6 L615.4,136.2 L615.7,135.6 L616.0,137.3 L616.3,137.9 L616.6,136.7 L616.9,138.4 L617.2,136.3 L617.5,136.6 L617.8,136.8 L618.1,137.1 L618.4,138.8 L618.7,135.7 L619.0,137.6 L619.3,137.0 L619.6,138.2 L619.9,135.5 L620.2,135.7 L620.5,138.9 L620.8,138.5 L621.1,138.3 L621.4,137.1 L621.7,138.4 L622.0,137.4 L622.3,136.3 L622.6,137.4 L622.9,137.3 L623.2,136.6 L623.5,137.1" fill="none" stroke="#1436e2" stroke-width="1.0" stroke-linejoin="round"/>
<path d="M460.0,136.5 L460.3,136.4 L460.6,136.3 L460.9,136.4 L461.2,136.4 L461.5,136.7 L461.8,136.5 L462.1,136.5 L462.4,136.6 L462.7,136.8 L463.0,137.0 L463.3,136.7 L463.6,136.9 L463.9,136.7 L464.2,137.0 L464.5,136.8 L464.8,137.0 L465.1,137.1 L465.4,137.0 L465.7,137.0 L466.0,137.0 L466.3,137.0 L466.6,137.0 L466.9,137.1 L467.2,137.2 L467.5,137.2 L467.8,137.2 L468.1,137.3 L468.4,137.5 L468.7,137.6 L469.0,137.3 L469.3,137.4 L469.6,137.2 L469.9,137.5 L470.2,137.3 L470.5,137.4 L470.8,137.3 L471.1,137.3 L471.4,137.1 L471.7,137.1 L472.0,137.1 L472.3,137.1 L472.6,137.0 L472.9,136.9 L473.2,136.8 L473.5,136.9 L473.8,136.8 L474.1,136.7 L474.4,136.8 L474.7,136.5 L475.0,136.5 L475.3,136.8 L475.6,136.5 L475.9,136.4 L476.2,136.5 L476.5,136.2 L476.8,136.1 L477.1,136.1 L477.4,136.0 L477.7,136.0 L478.0,135.9 L478.3,135.8 L478.6,135.9 L478.9,135.8 L479.2,135.9 L479.5,135.8 L479.8,135.5 L480.1,135.5 L480.4,135.6 L480.7,135.7 L481.0,135.7 L481.3,135.4 L481.6,135.4 L481.9,135.3 L482.2,135.3 L482.5,135.2 L482.8,135.3 L483.1,135.5 L483.4,135.4 L483.7,135.2 L484.0,135.5 L484.3,135.3 L484.6,135.3 L484.9,135.2 L485.2,135.4 L485.5,135.6 L485.8,135.5 L486.1,136.1 L486.4,135.8 L486.7,136.0 L487.0,136.2 L487.3,136.2 L487.6,136.5 L487.9,136.5 L488.2,136.7 L488.5,136.7 L488.8,137.1 L489.1,137.2 L489.4,137.0 L489.7,137.3 L490.0,137.5 L490.3,137.6 L490.6,137.5 L490.9,137.5 L491.2,137.6 L491.5,137.5 L491.8,137.5 L492.1,137.7 L492.4,137.5 L492.7,137.4 L493.0,137.5 L493.3,137.5 L493.6,137.5 L493.9,137.5 L494.2,137.7 L494.5,137.5 L494.8,137.5 L495.1,137.5 L495.4,137.3 L495.7,137.5 L496.0,137.6 L496.3,137.6 L496.6,137.3 L496.9,137.4 L497.2,137.7 L497.5,137.4 L497.8,137.5 L498.1,137.5 L498.4,137.4 L498.7,137.4 L499.0,137.6 L499.3,137.5 L499.6,137.4 L499.9,137.5 L500.2,137.5 L500.5,137.6 L500.8,137.4 L501.1,137.4 L501.4,137.7 L501.7,137.8 L502.0,137.8 L502.3,137.6 L502.6,137.7 L502.9,137.8 L503.2,137.8 L503.5,138.0 L503.8,137.9 L504.1,137.9 L504.4,138.0 L504.7,137.9 L505.0,138.1 L505.3,138.1 L505.6,138.0 L505.9,138.1 L506.2,138.2 L506.5,138.2 L506.8,138.2 L507.1,138.2 L507.4,138.4 L507.7,138.2 L508.0,138.1 L508.3,138.4 L508.6,138.5 L508.9,138.3 L509.2,138.4 L509.5,138.6 L509.8,138.6 L510.1,138.6 L510.4,138.4 L510.7,138.7 L511.0,138.4 L511.3,138.5 L511.6,138.4 L511.9,138.5 L512.2,138.4 L512.5,138.3 L512.8,138.3 L513.1,138.5 L513.4,138.3 L513.7,138.3 L514.0,138.1 L514.3,138.3 L514.6,138.3 L514.9,138.3 L515.2,138.2 L515.5,138.2 L515.8,138.4 L516.1,138.1 L516.4,138.2 L516.7,138.3 L517.0,138.3 L517.3,138.2 L517.6,138.6 L517.9,138.5 L518.2,138.3 L518.5,138.7 L518.8,138.5 L519.1,138.6 L519.4,138.7 L519.7,138.8 L520.0,138.7 L520.3,138.0 L520.6,137.4 L520.9,136.7 L521.2,136.2 L521.5,135.5 L521.8,134.8 L522.1,134.8 L522.4,135.5 L522.7,135.7 L523.0,136.8 L523.3,136.9 L523.6,137.3 L523.9,138.4 L524.2,138.9 L524.5,138.8 L524.8,138.7 L525.1,139.1 L525.4,138.8 L525.7,139.1 L526.0,139.7 L526.3,139.4 L526.6,140.1 L526.9,140.0 L527.2,139.9 L527.5,139.7 L527.8,140.0 L528.1,139.9 L528.4,141.0 L528.7,139.5 L529.0,141.1 L529.3,140.8 L529.6,140.4 L529.9,140.9 L530.2,140.8 L530.5,142.0 L530.8,142.2 L531.1,142.1 L531.4,142.4 L531.7,142.4 L532.0,142.8 L532.3,142.9 L532.6,142.2 L532.9,142.6 L533.2,142.1 L533.5,141.5 L533.8,141.8 L534.1,141.2 L534.4,140.8 L534.7,140.3 L535.0,140.2 L535.3,140.4 L535.6,140.6 L535.9,141.4 L536.2,141.4 L536.5,141.5 L536.8,141.5 L537.1,141.4 L537.4,141.8 L537.7,141.7 L538.0,141.2 L538.3,141.9 L538.6,142.6 L538.9,142.1 L539.2,142.1 L539.5,142.3 L539.8,141.4 L540.1,142.0 L540.4,141.8 L540.7,142.8 L541.0,142.3 L541.3,142.3 L541.6,142.3 L541.9,142.4 L542.2,141.8 L542.5,142.4 L542.8,141.1 L543.1,140.1 L543.4,140.5 L543.7,141.7 L544.0,140.6 L544.3,140.9 L544.6,140.8 L544.9,140.6 L545.2,140.0 L545.5,140.2 L545.8,140.7 L546.1,140.2 L546.4,140.3 L546.7,139.7 L547.0,140.9 L547.3,140.3 L547.6,140.4 L547.9,140.0 L548.2,140.5 L548.5,140.0 L548.8,139.6 L549.1,139.7 L549.4,139.6 L549.7,139.3 L550.0,139.2 L550.3,139.2 L550.6,138.8 L550.9,138.6 L551.2,138.4 L551.5,138.6 L551.8,138.2 L552.1,137.7 L552.4,138.0 L552.7,137.5 L553.0,137.4 L553.3,137.1 L553.6,137.0 L553.9,137.1 L554.2,137.2 L554.5,137.4 L554.8,137.1 L555.1,137.1 L555.4,136.9 L555.7,136.6 L556.0,136.5 L556.3,136.7 L556.6,136.6 L556.9,136.5 L557.2,136.3 L557.5,136.3 L557.8,135.8 L558.1,136.2 L558.4,135.9 L558.7,135.9 L559.0,135.5 L559.3,135.3 L559.6,135.4 L559.9,135.3 L560.2,135.3 L560.5,135.1 L560.8,135.3 L561.1,134.8 L561.4,134.7 L561.7,134.8 L562.0,134.8 L562.3,135.0 L562.6,134.5 L562.9,135.0 L563.2,134.8 L563.5,134.2 L563.8,134.7 L564.1,134.7 L564.4,134.8 L564.7,134.2 L565.0,134.1 L565.3,134.2 L565.6,134.5 L565.9,134.1 L566.2,134.1 L566.5,133.7 L566.8,133.5 L567.1,133.6 L567.4,133.5 L567.7,133.2 L568.0,133.1 L568.3,133.6 L568.6,133.2 L568.9,133.4 L569.2,133.2 L569.5,132.8 L569.8,133.1 L570.1,132.8 L570.4,132.5 L570.7,132.6 L571.0,132.9 L571.3,132.5 L571.6,132.4 L571.9,132.5 L572.2,131.9 L572.5,132.1 L572.8,132.1 L573.1,131.8 L573.4,131.9 L573.7,132.1 L574.0,131.7 L574.3,131.6 L574.6,131.5 L574.9,131.3 L575.2,131.4 L575.5,131.6 L575.8,131.8 L576.1,131.9 L576.4,131.7 L576.7,132.5 L577.0,132.2 L577.3,132.4 L577.6,132.8 L577.9,132.8 L578.2,132.8 L578.5,133.3 L578.8,133.2 L579.1,133.2 L579.4,133.6 L579.7,133.6 L580.0,133.5 L580.3,133.7 L580.6,133.8 L580.9,133.9 L581.2,133.9 L581.5,133.4 L581.8,133.5 L582.1,133.5 L582.4,133.5 L582.7,133.5 L583.0,133.0 L583.3,133.2 L583.6,133.0 L583.9,133.4 L584.2,133.1 L584.5,133.0 L584.8,133.3 L585.1,133.2 L585.4,133.2 L585.7,132.9 L586.0,133.0 L586.3,133.2 L586.6,132.9 L586.9,133.2 L587.2,133.0 L587.5,133.1 L587.8,133.2 L588.1,132.9 L588.4,133.1 L588.7,133.5 L589.0,133.1 L589.3,132.8 L589.6,133.5 L589.9,132.9 L590.2,133.0 L590.5,133.3 L590.8,133.1 L591.1,133.3 L591.4,133.3 L591.7,133.0 L592.0,133.0 L592.3,133.4 L592.6,133.2 L592.9,133.1 L593.2,133.4 L593.5,132.9 L593.8,133.2 L594.1,133.0 L594.4,133.0 L594.7,133.2 L595.0,133.0 L595.3,133.1 L595.6,133.2 L595.9,133.4 L596.2,133.3 L596.5,133.4 L596.8,133.4 L597.1,133.5 L597.4,134.0 L597.7,134.0 L598.0,133.9 L598.3,133.9 L598.6,134.3 L598.9,134.3 L599.2,134.3 L599.5,134.5 L599.8,134.4 L600.1,134.8 L600.4,134.6 L600.7,134.8 L601.0,134.7 L601.3,135.0 L601.6,134.9 L601.9,134.7 L602.2,135.1 L602.5,135.0 L602.8,134.9 L603.1,135.1 L603.4,135.2 L603.7,135.2 L604.0,135.4 L604.3,135.2 L604.6,135.2 L604.9,135.1 L605.2,135.4 L605.5,135.4 L605.8,135.7 L606.1,135.7 L606.4,136.0 L606.7,135.9 L607.0,136.1 L607.3,136.0 L607.6,136.6 L607.9,136.4 L608.2,136.5 L608.5,136.4 L608.8,136.7 L609.1,136.8 L609.4,136.6 L609.7,137.0 L610.0,137.1 L610.3,136.7 L610.6,137.2 L610.9,136.7 L611.2,136.7 L611.5,136.6 L611.8,136.9 L612.1,136.7 L612.4,136.6 L612.7,136.5 L613.0,136.2 L613.3,136.3 L613.6,135.9 L613.9,136.1 L614.2,135.9 L614.5,136.0 L614.8,136.0 L615.1,135.7 L615.4,135.6 L615.7,135.8 L616.0,135.4 L616.3,135.5 L616.6,135.2 L616.9,135.6 L617.2,135.3 L617.5,135.1 L617.8,135.2 L618.1,135.2 L618.4,134.9 L618.7,134.8 L619.0,134.9 L619.3,134.7 L619.6,134.8 L619.9,134.8 L620.2,134.4 L620.5,134.7 L620.8,134.7 L621.1,134.5 L621.4,134.8 L621.7,134.8 L622.0,134.7 L622.3,134.6 L622.6,134.5 L622.9,134.7 L623.2,134.7 L623.5,134.8 L623.5,136.0 L623.2,136.0 L622.9,135.8 L622.6,135.7 L622.3,136.0 L622.0,135.9 L621.7,135.7 L621.4,135.9 L621.1,136.0 L620.8,136.1 L620.5,136.0 L620.2,136.2 L619.9,135.7 L619.6,136.3 L619.3,136.5 L619.0,136.1 L618.7,136.4 L618.4,136.3 L618.1,136.6 L617.8,136.3 L617.5,136.9 L617.2,136.7 L616.9,136.8 L616.6,136.8 L616.3,136.9 L616.0,136.8 L615.7,136.9 L615.4,137.1 L615.1,137.1 L614.8,137.4 L614.5,137.5 L614.2,137.6 L613.9,137.3 L613.6,137.5 L613.3,137.7 L613.0,137.8 L612.7,137.9 L612.4,137.6 L612.1,137.8 L611.8,138.1 L611.5,138.0 L611.2,137.9 L610.9,138.3 L610.6,138.2 L610.3,138.2 L610.0,138.4 L609.7,138.3 L609.4,138.2 L609.1,137.9 L608.8,138.2 L608.5,137.9 L608.2,137.6 L607.9,137.8 L607.6,137.3 L607.3,137.5 L607.0,137.4 L606.7,137.3 L606.4,137.1 L606.1,137.1 L605.8,137.0 L605.5,136.8 L605.2,137.3 L604.9,136.9 L604.6,136.8 L604.3,136.6 L604.0,136.8 L603.7,136.5 L603.4,136.7 L603.1,136.2 L602.8,136.7 L602.5,136.3 L602.2,136.3 L601.9,135.9 L601.6,136.2 L601.3,136.0 L601.0,136.1 L600.7,136.1 L600.4,136.2 L600.1,136.4 L599.8,135.8 L599.5,135.8 L599.2,135.6 L598.9,135.6 L598.6,135.8 L598.3,135.8 L598.0,135.4 L597.7,135.2 L597.4,135.0 L597.1,135.1 L596.8,135.1 L596.5,134.9 L596.2,135.1 L595.9,134.8 L595.6,134.7 L595.3,134.5 L595.0,134.2 L594.7,134.6 L594.4,134.5 L594.1,134.7 L593.8,134.3 L593.5,134.8 L593.2,134.6 L592.9,134.6 L592.6,134.8 L592.3,134.4 L592.0,134.5 L591.7,134.5 L591.4,134.4 L591.1,134.3 L590.8,134.4 L590.5,134.5 L590.2,134.4 L589.9,134.4 L589.6,134.6 L589.3,134.3 L589.0,134.4 L588.7,134.3 L588.4,134.3 L588.1,134.5 L587.8,134.5 L587.5,134.8 L587.2,134.4 L586.9,134.5 L586.6,134.4 L586.3,134.5 L586.0,134.3 L585.7,134.7 L585.4,134.4 L585.1,134.6 L584.8,134.4 L584.5,134.8 L584.2,134.7 L583.9,134.7 L583.6,134.9 L583.3,134.7 L583.0,134.5 L582.7,134.8 L582.4,134.9 L582.1,134.9 L581.8,135.1 L581.5,135.1 L581.2,135.2 L580.9,135.0 L580.6,135.0 L580.3,135.4 L580.0,135.2 L579.7,135.3 L579.4,134.9 L579.1,134.8 L578.8,134.8 L578.5,134.6 L578.2,134.3 L577.9,134.5 L577.6,134.2 L577.3,134.3 L577.0,133.8 L576.7,134.2 L576.4,133.5 L576.1,133.1 L575.8,133.6 L575.5,133.5 L575.2,133.0 L574.9,132.9 L574.6,133.0 L574.3,133.3 L574.0,133.3 L573.7,133.1 L573.4,133.3 L573.1,133.4 L572.8,133.2 L572.5,133.5 L572.2,133.7 L571.9,133.9 L571.6,134.1 L571.3,133.8 L571.0,134.1 L570.7,134.1 L570.4,134.1 L570.1,133.9 L569.8,134.4 L569.5,134.9 L569.2,134.3 L568.9,134.6 L568.6,134.8 L568.3,135.1 L568.0,134.7 L567.7,135.0 L567.4,135.0 L567.1,135.3 L566.8,135.6 L566.5,135.2 L566.2,135.4 L565.9,135.6 L565.6,136.0 L565.3,136.0 L565.0,135.9 L564.7,136.1 L564.4,135.9 L564.1,136.1 L563.8,136.3 L563.5,136.0 L563.2,136.2 L562.9,136.2 L562.6,136.2 L562.3,136.5 L562.0,136.7 L561.7,136.6 L561.4,136.8 L561.1,136.7 L560.8,136.7 L560.5,137.2 L560.2,137.1 L559.9,136.6 L559.6,137.1 L559.3,137.5 L559.0,137.5 L558.7,137.2 L558.4,137.4 L558.1,137.4 L557.8,137.4 L557.5,137.7 L557.2,137.5 L556.9,137.9 L556.6,138.2 L556.3,138.0 L556.0,138.2 L555.7,138.1 L555.4,138.1 L555.1,138.7 L554.8,138.6 L554.5,138.7 L554.2,138.5 L553.9,139.2 L553.6,138.9 L553.3,138.8 L553.0,138.8 L552.7,139.1 L552.4,139.0 L552.1,139.2 L551.8,139.2 L551.5,140.0 L551.2,140.2 L550.9,139.9 L550.6,140.9 L550.3,140.6 L550.0,141.2 L549.7,141.2 L549.4,141.7 L549.1,141.6 L548.8,142.1 L548.5,142.0 L548.2,142.0 L547.9,142.5 L547.6,142.3 L547.3,142.6 L547.0,143.2 L546.7,142.9 L546.4,143.6 L546.1,143.0 L545.8,143.3 L545.5,144.0 L545.2,144.1 L544.9,144.4 L544.6,144.2 L544.3,144.3 L544.0,143.7 L543.7,143.8 L543.4,143.9 L543.1,144.6 L542.8,144.5 L542.5,145.5 L542.2,144.5 L541.9,145.0 L541.6,145.2 L541.3,145.7 L541.0,145.5 L540.7,145.0 L540.4,146.0 L540.1,145.4 L539.8,145.6 L539.5,145.0 L539.2,145.2 L538.9,144.7 L538.6,144.8 L538.3,145.3 L538.0,145.3 L537.7,144.1 L537.4,144.7 L537.1,144.8 L536.8,144.1 L536.5,144.0 L536.2,143.8 L535.9,143.8 L535.6,144.2 L535.3,143.5 L535.0,143.5 L534.7,143.9 L534.4,143.9 L534.1,143.7 L533.8,144.7 L533.5,144.5 L533.2,145.3 L532.9,145.9 L532.6,145.2 L532.3,145.3 L532.0,146.0 L531.7,145.1 L531.4,145.3 L531.1,144.7 L530.8,144.7 L530.5,143.7 L530.2,144.1 L529.9,144.1 L529.6,144.4 L529.3,143.4 L529.0,144.0 L528.7,142.6 L528.4,143.2 L528.1,143.2 L527.8,142.8 L527.5,143.2 L527.2,142.1 L526.9,142.2 L526.6,142.2 L526.3,140.9 L526.0,141.5 L525.7,141.3 L525.4,141.0 L525.1,140.5 L524.8,140.4 L524.5,140.3 L524.2,139.9 L523.9,139.8 L523.6,138.9 L523.3,138.3 L523.0,137.7 L522.7,137.2 L522.4,136.6 L522.1,136.1 L521.8,136.0 L521.5,136.8 L521.2,137.3 L520.9,137.9 L520.6,138.2 L520.3,138.9 L520.0,139.6 L519.7,139.5 L519.4,139.5 L519.1,139.4 L518.8,139.5 L518.5,139.4 L518.2,139.3 L517.9,139.3 L517.6,139.2 L517.3,139.1 L517.0,139.2 L516.7,139.2 L516.4,139.2 L516.1,139.1 L515.8,139.3 L515.5,139.0 L515.2,139.1 L514.9,138.8 L514.6,139.0 L514.3,139.2 L514.0,139.2 L513.7,139.0 L513.4,139.3 L513.1,139.2 L512.8,139.0 L512.5,139.3 L512.2,139.3 L511.9,139.3 L511.6,139.2 L511.3,139.3 L511.0,139.1 L510.7,139.3 L510.4,139.6 L510.1,139.2 L509.8,139.5 L509.5,139.3 L509.2,139.4 L508.9,139.2 L508.6,139.4 L508.3,139.3 L508.0,139.2 L507.7,139.2 L507.4,139.3 L507.1,139.0 L506.8,139.1 L506.5,138.9 L506.2,139.2 L505.9,138.9 L505.6,139.2 L505.3,138.9 L505.0,138.8 L504.7,138.8 L504.4,138.9 L504.1,138.7 L503.8,138.7 L503.5,138.5 L503.2,138.7 L502.9,138.6 L502.6,138.6 L502.3,138.6 L502.0,138.4 L501.7,138.4 L501.4,138.4 L501.1,138.6 L500.8,138.5 L500.5,138.1 L500.2,138.2 L499.9,138.2 L499.6,138.3 L499.3,138.4 L499.0,138.3 L498.7,138.4 L498.4,138.3 L498.1,138.2 L497.8,138.3 L497.5,138.2 L497.2,138.2 L496.9,138.3 L496.6,138.4 L496.3,138.3 L496.0,138.4 L495.7,138.1 L495.4,138.2 L495.1,138.3 L494.8,138.3 L494.5,138.4 L494.2,138.3 L493.9,138.4 L493.6,138.3 L493.3,138.2 L493.0,138.2 L492.7,138.3 L492.4,138.4 L492.1,138.3 L491.8,138.3 L491.5,138.4 L491.2,138.3 L490.9,138.2 L490.6,138.6 L490.3,138.3 L490.0,138.3 L489.7,138.1 L489.4,138.0 L489.1,138.0 L488.8,137.7 L488.5,137.8 L488.2,137.5 L487.9,137.6 L487.6,137.2 L487.3,137.2 L487.0,136.9 L486.7,136.8 L486.4,136.7 L486.1,136.6 L485.8,136.4 L485.5,136.4 L485.2,136.1 L484.9,136.3 L484.6,136.0 L484.3,136.1 L484.0,136.3 L483.7,136.2 L483.4,136.4 L483.1,136.2 L482.8,136.3 L482.5,136.3 L482.2,136.3 L481.9,136.4 L481.6,136.2 L481.3,136.4 L481.0,136.3 L480.7,136.3 L480.4,136.2 L480.1,136.5 L479.8,136.6 L479.5,136.6 L479.2,136.5 L478.9,136.8 L478.6,136.6 L478.3,136.7 L478.0,136.9 L477.7,136.9 L477.4,137.0 L477.1,136.9 L476.8,137.0 L476.5,137.0 L476.2,137.2 L475.9,137.1 L475.6,137.2 L475.3,137.3 L475.0,137.2 L474.7,137.6 L474.4,137.5 L474.1,137.4 L473.8,137.7 L473.5,137.5 L473.2,137.8 L472.9,137.8 L472.6,137.7 L472.3,137.8 L472.0,138.0 L471.7,138.0 L471.4,138.0 L471.1,138.1 L470.8,138.2 L470.5,138.2 L470.2,138.1 L469.9,138.3 L469.6,138.2 L469.3,138.5 L469.0,138.2 L468.7,138.1 L468.4,138.0 L468.1,138.2 L467.8,138.1 L467.5,138.2 L467.2,138.1 L466.9,137.9 L466.6,137.9 L466.3,137.7 L466.0,137.9 L465.7,137.9 L465.4,137.8 L465.1,137.8 L464.8,137.9 L464.5,137.7 L464.2,137.8 L463.9,137.7 L463.6,137.8 L463.3,137.5 L463.0,137.6 L462.7,137.4 L462.4,137.7 L462.1,137.5 L461.8,137.4 L461.5,137.2 L461.2,137.2 L460.9,137.2 L460.6,137.4 L460.3,137.2 L460.0,137.2Z" fill="#e81a1a" stroke="none"/>
<path d="M460.0,136.5 L460.3,137.8 L460.6,136.5 L460.9,137.3 L461.2,137.8 L461.5,136.5 L461.8,137.8 L462.1,137.0 L462.4,136.5 L462.7,138.2 L463.0,138.3 L463.3,137.0 L463.6,137.9 L463.9,137.9 L464.2,137.3 L464.5,138.8 L464.8,137.3 L465.1,136.9 L465.4,137.4 L465.7,137.4 L466.0,137.2 L466.3,137.3 L466.6,136.7 L466.9,138.0 L467.2,136.7 L467.5,138.4 L467.8,138.2 L468.1,137.5 L468.4,137.5 L468.7,137.3 L469.0,137.8 L469.3,139.0 L469.6,138.1 L469.9,137.6 L470.2,139.1 L470.5,137.6 L470.8,137.5 L471.1,139.2 L471.4,138.1 L471.7,138.4 L472.0,138.0 L472.3,137.9 L472.6,137.9 L472.9,137.9 L473.2,138.8 L473.5,136.5 L473.8,135.6 L474.1,137.0 L474.4,136.1 L474.7,137.2 L475.0,136.2 L475.3,137.0 L475.6,137.6 L475.9,136.5 L476.2,136.3 L476.5,137.2 L476.8,136.1 L477.1,136.5 L477.4,136.4 L477.7,135.6 L478.0,137.1 L478.3,135.6 L478.6,136.9 L478.9,136.5 L479.2,135.5 L479.5,135.9 L479.8,136.7 L480.1,135.8 L480.4,137.5 L480.7,135.3 L481.0,136.8 L481.3,134.8 L481.6,135.8 L481.9,136.6 L482.2,134.6 L482.5,136.1 L482.8,135.1 L483.1,134.9 L483.4,135.3 L483.7,135.4 L484.0,135.5 L484.3,135.4 L484.6,135.2 L484.9,134.0 L485.2,136.7 L485.5,137.4 L485.8,136.4 L486.1,136.0 L486.4,135.7 L486.7,136.7 L487.0,136.8 L487.3,136.1 L487.6,136.7 L487.9,137.5 L488.2,137.3 L488.5,137.2 L488.8,137.5 L489.1,137.0 L489.4,137.6 L489.7,137.8 L490.0,137.4 L490.3,137.8 L490.6,138.5 L490.9,138.6 L491.2,136.4 L491.5,136.9 L491.8,138.6 L492.1,138.2 L492.4,138.2 L492.7,137.0 L493.0,138.0 L493.3,138.3 L493.6,138.2 L493.9,137.4 L494.2,137.5 L494.5,138.1 L494.8,138.0 L495.1,138.8 L495.4,136.4 L495.7,137.5 L496.0,138.8 L496.3,137.1 L496.6,138.0 L496.9,138.9 L497.2,137.2 L497.5,138.1 L497.8,139.2 L498.1,137.1 L498.4,136.6 L498.7,138.6 L499.0,137.6 L499.3,137.9 L499.6,138.0 L499.9,138.8 L500.2,137.7 L500.5,138.7 L500.8,138.5 L501.1,138.0 L501.4,138.8 L501.7,138.3 L502.0,138.1 L502.3,140.2 L502.6,136.8 L502.9,137.4 L503.2,137.6 L503.5,138.0 L503.8,138.5 L504.1,138.2 L504.4,140.0 L504.7,138.1 L505.0,137.7 L505.3,138.5 L505.6,138.2 L505.9,138.2 L506.2,139.2 L506.5,138.8 L506.8,139.4 L507.1,138.0 L507.4,139.1 L507.7,138.8 L508.0,138.4 L508.3,137.7 L508.6,138.8 L508.9,138.1 L509.2,139.4 L509.5,139.3 L509.8,139.3 L510.1,140.9 L510.4,139.9 L510.7,137.6 L511.0,139.3 L511.3,139.1 L511.6,139.0 L511.9,138.5 L512.2,139.5 L512.5,136.9 L512.8,137.9 L513.1,139.2 L513.4,138.9 L513.7,139.3 L514.0,138.4 L514.3,138.3 L514.6,139.2 L514.9,138.7 L515.2,137.4 L515.5,139.3 L515.8,137.9 L516.1,139.3 L516.4,138.9 L516.7,139.2 L517.0,139.5 L517.3,138.1 L517.6,139.3 L517.9,138.9 L518.2,138.8 L518.5,139.0 L518.8,138.6 L519.1,139.0 L519.4,139.2 L519.7,138.6 L520.0,139.9 L520.3,138.6 L520.6,137.0 L520.9,137.7 L521.2,137.2 L521.5,134.8 L521.8,135.8 L522.1,134.9 L522.4,136.2 L522.7,136.3 L523.0,137.6 L523.3,137.9 L523.6,135.5 L523.9,139.0 L524.2,140.0 L524.5,140.5 L524.8,141.4 L525.1,140.4 L525.4,142.1 L525.7,141.6 L526.0,139.7 L526.3,139.4 L526.6,143.2 L526.9,142.4 L527.2,137.8 L527.5,139.3 L527.8,144.0 L528.1,142.1 L528.4,138.0 L528.7,143.0 L529.0,144.5 L529.3,143.9 L529.6,142.4 L529.9,142.2 L530.2,141.5 L530.5,141.8 L530.8,144.0 L531.1,150.0 L531.4,150.4 L531.7,143.6 L532.0,130.0 L532.3,131.0 L532.6,143.1 L532.9,143.0 L533.2,139.1 L533.5,143.0 L533.8,141.4 L534.1,142.9 L534.4,131.5 L534.7,142.5 L535.0,139.1 L535.3,140.2 L535.6,140.8 L535.9,133.0 L536.2,141.2 L536.5,141.3 L536.8,141.2 L537.1,141.1 L537.4,141.5 L537.7,148.0 L538.0,148.1 L538.3,145.7 L538.6,141.9 L538.9,140.0 L539.2,146.5 L539.5,143.7 L539.8,144.7 L540.1,149.0 L540.4,139.1 L540.7,142.6 L541.0,144.7 L541.3,147.6 L541.6,143.6 L541.9,143.8 L542.2,143.3 L542.5,143.1 L542.8,143.4 L543.1,147.5 L543.4,140.8 L543.7,141.4 L544.0,143.8 L544.3,145.2 L544.6,142.5 L544.9,141.4 L545.2,145.1 L545.5,143.4 L545.8,143.7 L546.1,146.0 L546.4,140.9 L546.7,142.9 L547.0,141.4 L547.3,144.1 L547.6,139.6 L547.9,141.9 L548.2,141.1 L548.5,139.0 L548.8,140.1 L549.1,138.7 L549.4,139.8 L549.7,139.8 L550.0,144.5 L550.3,138.3 L550.6,140.7 L550.9,138.8 L551.2,139.8 L551.5,138.7 L551.8,137.9 L552.1,140.5 L552.4,139.9 L552.7,136.1 L553.0,137.9 L553.3,137.6 L553.6,136.0 L553.9,138.2 L554.2,138.6 L554.5,137.9 L554.8,138.4 L555.1,140.0 L555.4,137.1 L555.7,139.3 L556.0,140.4 L556.3,133.8 L556.6,137.1 L556.9,139.0 L557.2,137.6 L557.5,136.3 L557.8,138.8 L558.1,138.0 L558.4,134.7 L558.7,137.6 L559.0,136.3 L559.3,136.6 L559.6,134.8 L559.9,136.8 L560.2,136.3 L560.5,134.8 L560.8,135.5 L561.1,137.7 L561.4,137.8 L561.7,133.9 L562.0,136.4 L562.3,135.3 L562.6,135.0 L562.9,135.9 L563.2,137.4 L563.5,136.1 L563.8,134.2 L564.1,135.4 L564.4,135.8 L564.7,136.6 L565.0,135.0 L565.3,135.2 L565.6,135.2 L565.9,135.7 L566.2,132.4 L566.5,136.4 L566.8,135.0 L567.1,134.5 L567.4,133.1 L567.7,134.7 L568.0,136.7 L568.3,133.4 L568.6,132.0 L568.9,134.5 L569.2,133.9 L569.5,133.7 L569.8,131.8 L570.1,134.1 L570.4,134.3 L570.7,128.1 L571.0,133.6 L571.3,134.2 L571.6,132.1 L571.9,130.5 L572.2,133.1 L572.5,135.6 L572.8,133.3 L573.1,135.5 L573.4,133.1 L573.7,132.3 L574.0,131.6 L574.3,134.2 L574.6,130.7 L574.9,131.5 L575.2,131.8 L575.5,132.8 L575.8,132.7 L576.1,130.9 L576.4,131.5 L576.7,135.1 L577.0,133.3 L577.3,133.3 L577.6,133.0 L577.9,133.9 L578.2,132.8 L578.5,135.2 L578.8,135.0 L579.1,134.1 L579.4,135.4 L579.7,134.2 L580.0,134.0 L580.3,135.7 L580.6,134.3 L580.9,133.4 L581.2,136.3 L581.5,134.1 L581.8,134.8 L582.1,136.1 L582.4,132.7 L582.7,133.8 L583.0,135.3 L583.3,133.7 L583.6,133.5 L583.9,133.8 L584.2,133.6 L584.5,133.5 L584.8,134.4 L585.1,134.0 L585.4,135.9 L585.7,134.2 L586.0,135.8 L586.3,134.0 L586.6,135.9 L586.9,133.7 L587.2,135.3 L587.5,134.0 L587.8,135.8 L588.1,132.9 L588.4,133.3 L588.7,134.3 L589.0,132.7 L589.3,135.6 L589.6,133.6 L589.9,134.5 L590.2,135.1 L590.5,134.6 L590.8,133.0 L591.1,132.3 L591.4,131.9 L591.7,132.8 L592.0,133.0 L592.3,132.9 L592.6,134.4 L592.9,132.3 L593.2,132.0 L593.5,134.1 L593.8,135.9 L594.1,132.8 L594.4,133.7 L594.7,133.8 L595.0,135.1 L595.3,134.9 L595.6,133.5 L595.9,135.2 L596.2,134.3 L596.5,135.2 L596.8,136.5 L597.1,131.9 L597.4,132.9 L597.7,133.1 L598.0,133.3 L598.3,135.0 L598.6,135.1 L598.9,137.0 L599.2,136.7 L599.5,135.5 L599.8,135.1 L600.1,136.1 L600.4,135.9 L600.7,134.9 L601.0,136.3 L601.3,135.0 L601.6,135.5 L601.9,135.5 L602.2,135.0 L602.5,135.0 L602.8,135.9 L603.1,135.7 L603.4,134.5 L603.7,137.8 L604.0,137.9 L604.3,137.9 L604.6,137.4 L604.9,136.0 L605.2,135.1 L605.5,135.1 L605.8,134.4 L606.1,136.1 L606.4,134.6 L606.7,136.8 L607.0,137.1 L607.3,136.2 L607.6,136.3 L607.9,137.0 L608.2,137.8 L608.5,136.9 L608.8,139.2 L609.1,136.4 L609.4,136.8 L609.7,137.1 L610.0,137.5 L610.3,137.9 L610.6,138.2 L610.9,137.1 L611.2,139.2 L611.5,135.3 L611.8,137.6 L612.1,137.2 L612.4,135.6 L612.7,135.5 L613.0,137.1 L613.3,138.2 L613.6,137.3 L613.9,136.7 L614.2,136.3 L614.5,136.1 L614.8,136.1 L615.1,137.2 L615.4,137.6 L615.7,136.9 L616.0,135.5 L616.3,136.8 L616.6,137.2 L616.9,134.0 L617.2,136.3 L617.5,135.3 L617.8,135.9 L618.1,134.3 L618.4,134.5 L618.7,135.5 L619.0,134.9 L619.3,134.9 L619.6,134.4 L619.9,135.8 L620.2,136.4 L620.5,134.2 L620.8,135.6 L621.1,134.8 L621.4,135.5 L621.7,136.5 L622.0,135.5 L622.3,135.1 L622.6,134.1 L622.9,136.5 L623.2,137.0 L623.5,133.2" fill="none" stroke="#e81a1a" stroke-width="1.0" stroke-linejoin="round"/>
<path d="M460.0,188.3 L460.5,188.5 L461.0,188.7 L461.5,188.1 L462.0,188.3 L462.5,188.0 L463.0,188.6 L463.5,188.5 L464.0,188.7 L464.5,188.4 L465.0,188.8 L465.5,188.5 L466.0,188.2 L466.5,188.3 L467.0,188.3 L467.5,188.4 L468.0,188.3 L468.5,188.5 L469.0,188.7 L469.5,188.3 L470.0,188.4 L470.5,188.6 L471.0,188.6 L471.5,188.2 L472.0,188.7 L472.5,188.6 L473.0,188.4 L473.5,188.3 L474.0,188.4 L474.5,188.7 L475.0,188.2 L475.5,188.7 L476.0,189.1 L476.5,188.9 L477.0,189.3 L477.5,189.9 L478.0,190.2 L478.5,189.8 L479.0,189.9 L479.5,189.7 L480.0,189.7 L480.5,189.9 L481.0,189.7 L481.5,189.7 L482.0,189.9 L482.5,189.9 L483.0,190.3 L483.5,190.7 L484.0,190.9 L484.5,191.5 L485.0,191.8 L485.5,191.7 L486.0,191.9 L486.5,191.5 L487.0,191.8 L487.5,191.7 L488.0,191.5 L488.5,191.6 L489.0,191.6 L489.5,192.2 L490.0,191.7 L490.5,192.0 L491.0,191.8 L491.5,191.5 L492.0,191.4 L492.5,191.3 L493.0,191.1 L493.5,190.7 L494.0,191.2 L494.5,191.0 L495.0,190.8 L495.5,190.4 L496.0,190.4 L496.5,190.3 L497.0,189.9 L497.5,190.2 L498.0,190.4 L498.5,190.0 L499.0,189.7 L499.5,189.6 L500.0,189.9 L500.5,190.0 L501.0,190.1 L501.5,190.1 L502.0,190.4 L502.5,190.6 L503.0,190.3 L503.5,190.4 L504.0,190.8 L504.5,191.0 L505.0,191.1 L505.5,191.1 L506.0,190.9 L506.5,190.5 L507.0,190.4 L507.5,190.1 L508.0,190.0 L508.5,189.9 L509.0,189.7 L509.5,189.9 L510.0,189.2 L510.5,189.3 L511.0,189.0 L511.5,189.3 L512.0,189.2 L512.5,189.4 L513.0,188.8 L513.5,189.1 L514.0,188.9 L514.5,189.2 L515.0,189.0 L515.5,189.3 L516.0,189.2 L516.5,189.2 L517.0,189.3 L517.5,188.9 L518.0,188.9 L518.5,188.8 L519.0,189.2 L519.5,189.2 L520.0,189.0 L520.5,188.9 L521.0,189.3 L521.5,189.1 L522.0,188.8 L522.5,189.0 L523.0,189.0 L523.5,189.2 L524.0,189.0 L524.5,188.8 L525.0,188.8 L525.5,189.3 L526.0,188.9 L526.5,189.0 L527.0,189.1 L527.5,188.6 L528.0,188.8 L528.5,189.1 L529.0,189.1 L529.5,188.8 L530.0,189.1 L530.5,188.9 L531.0,188.8 L531.5,189.1 L532.0,188.8 L532.5,187.6 L533.0,186.7 L533.5,185.4 L534.0,185.3 L534.5,185.4 L535.0,185.6 L535.5,185.3 L536.0,185.5 L536.5,185.4 L537.0,185.5 L537.5,185.5 L538.0,185.9 L538.5,185.3 L539.0,185.4 L539.5,185.5 L540.0,185.4 L540.5,185.6 L541.0,185.6 L541.5,185.5 L542.0,186.0 L542.5,185.7 L543.0,185.7 L543.5,185.7 L544.0,185.7 L544.5,185.8 L545.0,185.6 L545.5,185.5 L546.0,185.6 L546.5,185.5 L547.0,185.6 L547.5,185.4 L548.0,185.4 L548.5,185.8 L549.0,185.9 L549.5,185.8 L550.0,185.8 L550.5,185.6 L551.0,185.6 L551.5,185.6 L552.0,185.8 L552.5,185.7 L553.0,185.6 L553.5,185.5 L554.0,186.1 L554.5,185.5 L555.0,185.4 L555.5,185.6 L556.0,185.2 L556.5,185.3 L557.0,185.3 L557.5,185.7 L558.0,185.2 L558.5,185.3 L559.0,185.3 L559.5,185.7 L560.0,185.5 L560.5,185.3 L561.0,185.5 L561.5,185.0 L562.0,185.5 L562.5,185.2 L563.0,185.3 L563.5,184.8 L564.0,185.4 L564.5,185.1 L565.0,185.5 L565.5,185.6 L566.0,185.4 L566.5,185.2 L567.0,185.6 L567.5,185.3 L568.0,185.4 L568.5,185.5 L569.0,185.5 L569.5,185.5 L570.0,185.7 L570.5,185.7 L571.0,185.9 L571.5,186.3 L572.0,186.8 L572.5,186.4 L573.0,186.9 L573.5,186.7 L574.0,187.1 L574.5,186.9 L575.0,187.1 L575.5,187.2 L576.0,187.2 L576.5,186.7 L577.0,186.6 L577.5,185.5 L578.0,185.0 L578.5,184.8 L579.0,184.9 L579.5,184.1 L580.0,183.9 L580.5,183.3 L581.0,183.3 L581.5,182.2 L582.0,181.0 L582.5,180.5 L583.0,179.1 L583.5,179.6 L584.0,180.6 L584.5,180.9 L585.0,181.2 L585.5,182.3 L586.0,183.2 L586.5,184.4 L587.0,186.0 L587.5,186.1 L588.0,186.6 L588.5,187.1 L589.0,187.8 L589.5,187.7 L590.0,188.2 L590.5,188.5 L591.0,188.7 L591.5,188.8 L592.0,188.9 L592.5,188.5 L593.0,189.0 L593.5,188.5 L594.0,188.8 L594.5,188.7 L595.0,188.7 L595.5,188.3 L596.0,188.5 L596.5,188.6 L597.0,188.4 L597.5,188.4 L598.0,188.3 L598.5,188.3 L599.0,188.4 L599.5,188.1 L600.0,188.3 L600.5,187.7 L601.0,187.8 L601.5,187.9 L602.0,187.4 L602.5,187.3 L603.0,187.2 L603.5,187.4 L604.0,187.2 L604.5,186.8 L605.0,186.3 L605.5,186.9 L606.0,187.0 L606.5,187.1 L607.0,187.6 L607.5,187.4 L608.0,187.9 L608.5,187.6 L609.0,187.6 L609.5,187.5 L610.0,187.3 L610.5,187.2 L611.0,186.9 L611.5,186.4 L612.0,186.5 L612.5,186.9 L613.0,187.0 L613.5,187.5 L614.0,187.5 L614.5,187.8 L615.0,188.3 L615.5,188.1 L616.0,187.9 L616.5,188.0 L617.0,187.8 L617.5,187.5 L618.0,187.5 L618.5,187.2 L619.0,186.9 L619.5,186.9 L620.0,186.6 L620.5,186.3 L621.0,186.5 L621.5,186.0 L622.0,186.3 L622.5,186.3 L623.0,185.9 L623.5,185.8 L623.5,187.3 L623.0,187.6 L622.5,187.6 L622.0,187.9 L621.5,187.7 L621.0,187.7 L620.5,188.4 L620.0,188.1 L619.5,188.3 L619.0,188.7 L618.5,189.3 L618.0,188.5 L617.5,188.9 L617.0,189.0 L616.5,189.1 L616.0,189.4 L615.5,189.7 L615.0,189.7 L614.5,189.4 L614.0,189.4 L613.5,189.2 L613.0,188.8 L612.5,188.4 L612.0,188.2 L611.5,188.3 L611.0,188.4 L610.5,188.4 L610.0,188.9 L609.5,188.8 L609.0,188.9 L608.5,189.0 L608.0,189.5 L607.5,189.0 L607.0,189.3 L606.5,188.8 L606.0,188.3 L605.5,188.1 L605.0,188.5 L604.5,188.6 L604.0,188.6 L603.5,188.6 L603.0,188.7 L602.5,188.9 L602.0,189.4 L601.5,189.1 L601.0,189.2 L600.5,189.0 L600.0,189.3 L599.5,189.4 L599.0,189.3 L598.5,189.7 L598.0,190.1 L597.5,189.6 L597.0,190.0 L596.5,190.5 L596.0,190.1 L595.5,190.3 L595.0,190.5 L594.5,190.7 L594.0,190.3 L593.5,190.2 L593.0,190.3 L592.5,190.3 L592.0,189.9 L591.5,190.0 L591.0,190.3 L590.5,189.9 L590.0,190.1 L589.5,189.6 L589.0,189.0 L588.5,188.9 L588.0,187.7 L587.5,187.6 L587.0,187.2 L586.5,186.0 L586.0,185.2 L585.5,184.1 L585.0,182.7 L584.5,182.1 L584.0,181.8 L583.5,181.1 L583.0,180.6 L582.5,181.3 L582.0,182.9 L581.5,183.5 L581.0,184.9 L580.5,185.3 L580.0,185.5 L579.5,185.6 L579.0,186.1 L578.5,186.3 L578.0,186.7 L577.5,187.1 L577.0,187.6 L576.5,188.3 L576.0,188.7 L575.5,188.8 L575.0,188.4 L574.5,188.4 L574.0,188.6 L573.5,188.2 L573.0,188.4 L572.5,187.8 L572.0,187.5 L571.5,187.7 L571.0,187.4 L570.5,187.1 L570.0,187.1 L569.5,187.0 L569.0,186.9 L568.5,187.2 L568.0,187.1 L567.5,187.1 L567.0,187.0 L566.5,186.9 L566.0,186.5 L565.5,187.0 L565.0,186.9 L564.5,187.2 L564.0,186.8 L563.5,186.9 L563.0,187.1 L562.5,187.0 L562.0,186.9 L561.5,187.0 L561.0,186.5 L560.5,186.8 L560.0,186.7 L559.5,186.7 L559.0,186.8 L558.5,186.9 L558.0,186.7 L557.5,186.9 L557.0,186.9 L556.5,186.8 L556.0,187.2 L555.5,187.1 L555.0,187.3 L554.5,187.1 L554.0,187.3 L553.5,187.0 L553.0,187.2 L552.5,187.4 L552.0,187.6 L551.5,187.3 L551.0,187.2 L550.5,187.3 L550.0,187.0 L549.5,187.4 L549.0,187.5 L548.5,187.3 L548.0,187.2 L547.5,187.5 L547.0,187.2 L546.5,187.1 L546.0,187.4 L545.5,187.2 L545.0,187.0 L544.5,187.3 L544.0,187.3 L543.5,187.4 L543.0,187.1 L542.5,187.2 L542.0,186.9 L541.5,186.9 L541.0,187.6 L540.5,187.2 L540.0,187.6 L539.5,187.2 L539.0,187.3 L538.5,187.1 L538.0,187.4 L537.5,187.1 L537.0,187.1 L536.5,187.1 L536.0,186.8 L535.5,187.0 L535.0,187.1 L534.5,187.1 L534.0,186.9 L533.5,186.6 L533.0,188.1 L532.5,189.4 L532.0,190.3 L531.5,190.7 L531.0,190.5 L530.5,190.4 L530.0,190.5 L529.5,190.9 L529.0,190.7 L528.5,190.2 L528.0,190.4 L527.5,190.5 L527.0,190.4 L526.5,190.5 L526.0,190.5 L525.5,190.8 L525.0,190.7 L524.5,190.3 L524.0,190.5 L523.5,190.3 L523.0,190.6 L522.5,190.5 L522.0,190.4 L521.5,190.4 L521.0,190.5 L520.5,190.4 L520.0,190.4 L519.5,190.6 L519.0,190.5 L518.5,190.2 L518.0,190.7 L517.5,190.6 L517.0,191.1 L516.5,190.7 L516.0,190.9 L515.5,190.7 L515.0,190.5 L514.5,190.6 L514.0,190.9 L513.5,190.5 L513.0,190.6 L512.5,190.7 L512.0,190.8 L511.5,190.6 L511.0,190.3 L510.5,190.5 L510.0,191.2 L509.5,191.2 L509.0,191.0 L508.5,191.1 L508.0,191.8 L507.5,191.5 L507.0,191.7 L506.5,192.2 L506.0,192.0 L505.5,192.2 L505.0,192.3 L504.5,192.4 L504.0,192.7 L503.5,192.4 L503.0,192.7 L502.5,191.7 L502.0,192.1 L501.5,191.6 L501.0,191.4 L500.5,191.8 L500.0,191.5 L499.5,191.8 L499.0,191.8 L498.5,191.6 L498.0,191.7 L497.5,191.7 L497.0,192.0 L496.5,191.9 L496.0,192.1 L495.5,191.9 L495.0,192.0 L494.5,192.2 L494.0,192.3 L493.5,192.6 L493.0,192.6 L492.5,192.9 L492.0,193.4 L491.5,193.2 L491.0,193.4 L490.5,193.4 L490.0,193.7 L489.5,193.8 L489.0,193.3 L488.5,193.7 L488.0,193.2 L487.5,193.4 L487.0,193.1 L486.5,193.1 L486.0,193.3 L485.5,192.9 L485.0,193.3 L484.5,192.7 L484.0,192.7 L483.5,192.2 L483.0,191.9 L482.5,191.6 L482.0,191.4 L481.5,191.1 L481.0,191.5 L480.5,191.6 L480.0,191.3 L479.5,191.4 L479.0,191.1 L478.5,191.3 L478.0,191.4 L477.5,190.7 L477.0,190.9 L476.5,190.7 L476.0,190.4 L475.5,190.3 L475.0,189.6 L474.5,190.2 L474.0,189.9 L473.5,190.0 L473.0,189.6 L472.5,190.1 L472.0,190.2 L471.5,190.0 L471.0,190.0 L470.5,190.1 L470.0,189.5 L469.5,190.4 L469.0,190.1 L468.5,190.1 L468.0,190.1 L467.5,190.4 L467.0,189.8 L466.5,189.9 L466.0,189.8 L465.5,189.9 L465.0,190.2 L464.5,189.6 L464.0,189.7 L463.5,190.0 L463.0,189.7 L462.5,190.0 L462.0,189.9 L461.5,189.8 L461.0,190.1 L460.5,190.2 L460.0,189.7Z" fill="#000" stroke="none"/>
<path d="M460.0,189.2 L460.5,188.8 L461.0,189.6 L461.5,189.4 L462.0,189.4 L462.5,188.9 L463.0,190.1 L463.5,189.3 L464.0,189.6 L464.5,188.4 L465.0,188.1 L465.5,189.7 L466.0,188.8 L466.5,188.6 L467.0,189.5 L467.5,190.2 L468.0,189.0 L468.5,189.0 L469.0,189.5 L469.5,189.6 L470.0,189.3 L470.5,188.0 L471.0,189.8 L471.5,188.7 L472.0,190.7 L472.5,188.7 L473.0,189.4 L473.5,189.2 L474.0,189.4 L474.5,191.0 L475.0,189.0 L475.5,190.2 L476.0,189.7 L476.5,189.6 L477.0,190.6 L477.5,190.5 L478.0,190.4 L478.5,189.8 L479.0,190.8 L479.5,192.9 L480.0,190.4 L480.5,191.0 L481.0,190.1 L481.5,193.0 L482.0,189.5 L482.5,190.4 L483.0,189.8 L483.5,192.0 L484.0,191.9 L484.5,192.4 L485.0,192.4 L485.5,193.6 L486.0,193.5 L486.5,193.4 L487.0,190.7 L487.5,192.0 L488.0,192.7 L488.5,193.3 L489.0,190.8 L489.5,193.9 L490.0,193.1 L490.5,193.8 L491.0,191.7 L491.5,191.8 L492.0,191.5 L492.5,191.6 L493.0,191.4 L493.5,190.5 L494.0,192.5 L494.5,191.9 L495.0,190.7 L495.5,189.8 L496.0,192.0 L496.5,189.5 L497.0,190.3 L497.5,190.1 L498.0,190.4 L498.5,191.2 L499.0,191.4 L499.5,191.0 L500.0,189.9 L500.5,191.7 L501.0,191.8 L501.5,191.6 L502.0,192.8 L502.5,190.5 L503.0,190.8 L503.5,190.9 L504.0,191.2 L504.5,192.2 L505.0,192.0 L505.5,191.3 L506.0,192.3 L506.5,191.2 L507.0,190.7 L507.5,190.5 L508.0,189.8 L508.5,190.4 L509.0,189.8 L509.5,190.1 L510.0,190.3 L510.5,190.3 L511.0,189.7 L511.5,191.3 L512.0,189.2 L512.5,190.4 L513.0,190.0 L513.5,190.1 L514.0,189.4 L514.5,189.4 L515.0,190.3 L515.5,188.7 L516.0,190.0 L516.5,188.8 L517.0,188.6 L517.5,189.9 L518.0,189.4 L518.5,191.2 L519.0,188.6 L519.5,189.9 L520.0,189.9 L520.5,189.9 L521.0,189.4 L521.5,188.6 L522.0,190.3 L522.5,190.3 L523.0,190.0 L523.5,189.9 L524.0,190.6 L524.5,190.4 L525.0,190.2 L525.5,189.3 L526.0,190.4 L526.5,189.1 L527.0,190.0 L527.5,189.0 L528.0,189.6 L528.5,190.2 L529.0,189.4 L529.5,190.3 L530.0,189.3 L530.5,190.8 L531.0,189.5 L531.5,191.4 L532.0,190.1 L532.5,188.4 L533.0,186.5 L533.5,185.9 L534.0,187.6 L534.5,185.3 L535.0,185.1 L535.5,186.4 L536.0,187.1 L536.5,186.0 L537.0,185.6 L537.5,186.1 L538.0,186.1 L538.5,187.1 L539.0,187.6 L539.5,186.2 L540.0,185.7 L540.5,185.5 L541.0,185.1 L541.5,186.3 L542.0,185.2 L542.5,186.8 L543.0,186.2 L543.5,185.9 L544.0,187.4 L544.5,185.2 L545.0,187.0 L545.5,186.5 L546.0,186.6 L546.5,186.4 L547.0,185.6 L547.5,186.9 L548.0,187.3 L548.5,185.0 L549.0,186.5 L549.5,186.4 L550.0,186.3 L550.5,186.8 L551.0,186.3 L551.5,186.1 L552.0,187.2 L552.5,185.7 L553.0,186.1 L553.5,186.0 L554.0,185.7 L554.5,185.9 L555.0,187.2 L555.5,185.6 L556.0,187.9 L556.5,185.0 L557.0,184.4 L557.5,185.6 L558.0,185.2 L558.5,186.9 L559.0,186.4 L559.5,185.2 L560.0,185.8 L560.5,185.8 L561.0,187.9 L561.5,186.1 L562.0,186.2 L562.5,186.4 L563.0,186.2 L563.5,186.1 L564.0,185.5 L564.5,186.2 L565.0,186.3 L565.5,185.2 L566.0,186.2 L566.5,185.3 L567.0,185.0 L567.5,186.1 L568.0,186.6 L568.5,186.9 L569.0,185.9 L569.5,185.2 L570.0,185.6 L570.5,186.3 L571.0,186.6 L571.5,187.2 L572.0,186.9 L572.5,188.0 L573.0,187.0 L573.5,187.9 L574.0,188.1 L574.5,188.0 L575.0,188.2 L575.5,187.1 L576.0,188.6 L576.5,187.1 L577.0,186.8 L577.5,185.8 L578.0,186.2 L578.5,185.3 L579.0,184.8 L579.5,185.5 L580.0,184.1 L580.5,184.6 L581.0,184.1 L581.5,183.3 L582.0,181.9 L582.5,180.0 L583.0,179.9 L583.5,180.6 L584.0,182.2 L584.5,182.7 L585.0,182.6 L585.5,183.8 L586.0,182.4 L586.5,185.0 L587.0,185.7 L587.5,187.4 L588.0,187.8 L588.5,188.3 L589.0,188.8 L589.5,189.1 L590.0,189.2 L590.5,188.9 L591.0,189.9 L591.5,189.4 L592.0,190.2 L592.5,189.1 L593.0,189.3 L593.5,188.9 L594.0,190.0 L594.5,189.0 L595.0,187.9 L595.5,188.9 L596.0,188.9 L596.5,189.3 L597.0,189.0 L597.5,190.1 L598.0,189.3 L598.5,189.7 L599.0,189.9 L599.5,189.6 L600.0,189.4 L600.5,188.3 L601.0,188.9 L601.5,188.3 L602.0,188.8 L602.5,187.7 L603.0,188.5 L603.5,187.5 L604.0,188.3 L604.5,188.5 L605.0,188.4 L605.5,187.4 L606.0,188.8 L606.5,186.8 L607.0,188.3 L607.5,187.3 L608.0,188.5 L608.5,187.5 L609.0,188.2 L609.5,187.6 L610.0,188.8 L610.5,189.3 L611.0,188.2 L611.5,188.2 L612.0,187.6 L612.5,187.5 L613.0,187.7 L613.5,187.3 L614.0,187.9 L614.5,189.3 L615.0,188.7 L615.5,189.1 L616.0,188.1 L616.5,190.2 L617.0,189.4 L617.5,188.2 L618.0,189.4 L618.5,188.3 L619.0,188.6 L619.5,187.6 L620.0,187.2 L620.5,188.4 L621.0,187.8 L621.5,187.7 L622.0,187.7 L622.5,186.9 L623.0,186.4 L623.5,186.8" fill="none" stroke="#000" stroke-width="1.4" stroke-linejoin="round"/>
<path d="M460.0,255.9 L461.2,256.1 L462.4,255.9 L463.6,254.3 L464.8,254.7 L466.0,253.8 L467.2,253.9 L468.4,255.3 L469.6,255.5 L470.8,256.1 L472.0,255.4 L473.2,256.0 L474.4,255.8 L475.6,255.9 L476.8,256.3 L478.0,255.3 L479.2,255.6 L480.4,256.3 L481.6,256.2 L482.8,255.7 L484.0,254.6 L485.2,255.1 L486.4,254.8 L487.6,254.8 L488.8,254.2 L490.0,253.9 L491.2,255.8 L492.4,255.9 L493.6,254.9 L494.8,255.7 L496.0,256.1 L497.2,256.0 L498.4,256.8 L499.6,256.5 L500.8,256.0 L502.0,256.5 L503.2,256.9 L504.4,256.1 L505.6,257.0 L506.8,257.1 L508.0,256.8 L509.2,256.8 L510.4,256.4 L511.6,256.8 L512.8,256.1 L514.0,255.3 L515.2,256.2 L516.4,257.5 L517.6,257.3 L518.8,256.2 L520.0,256.7 L521.2,256.6 L522.4,256.4 L523.6,257.1 L524.8,257.8 L526.0,257.6 L527.2,257.5 L528.4,256.6 L529.6,259.2 L530.8,257.4 L532.0,258.0 L533.2,258.5 L534.4,258.3 M536.8,257.2 L538.0,258.2 L539.2,258.5 L540.4,258.2 L541.6,258.1 L542.8,259.4 L544.0,258.1 L545.2,259.4 L546.4,259.2 L547.6,258.5 L548.8,257.9 L550.0,258.3 L551.2,258.4 L552.4,258.6 L553.6,258.7 L554.8,259.3 L556.0,259.3 L557.2,259.6 L558.4,259.8 L559.6,260.7 L560.8,261.2 L562.0,260.1 L563.2,260.0 L564.4,259.9 L565.6,260.5 L566.8,260.3 L568.0,260.0 L569.2,259.8 L570.4,260.2 L571.6,260.4 L572.8,259.5 L574.0,260.0 L575.2,258.7 L576.4,259.3 L577.6,259.9 L578.8,258.8 L580.0,258.8 L581.2,259.9 L582.4,258.9 L583.6,259.9 L584.8,261.4 L586.0,260.4 L587.2,261.1 L588.4,260.9 L589.6,259.5 L590.8,259.7 L592.0,259.9 L593.2,260.2 L594.4,260.3 L595.6,259.8 L596.8,259.5 L598.0,258.6 L599.2,259.6 L600.4,258.7 L601.6,259.5 L602.8,259.6 L604.0,258.1 L605.2,259.9 L606.4,258.7 L607.6,259.3 L608.8,259.2 L610.0,259.7 L611.2,259.3 L612.4,259.5 L613.6,258.9 M616.0,258.0 L617.2,258.4 L618.4,258.4 L619.6,257.9 L620.8,257.3 L622.0,256.9 L623.2,257.6" fill="none" stroke="#111" stroke-width="0.95" stroke-linejoin="round"/>
<path d="M39.50,84.10h1.3 M203.60,84.10h-1.3 M39.50,81.41h1.3 M203.60,81.41h-1.3 M39.50,78.72h1.3 M203.60,78.72h-1.3 M39.50,76.04h1.3 M203.60,76.04h-1.3 M39.50,73.35h1.3 M203.60,73.35h-1.3 M39.50,70.66h1.3 M203.60,70.66h-1.3 M39.50,67.97h1.3 M203.60,67.97h-1.3 M39.50,65.28h1.3 M203.60,65.28h-1.3 M39.50,62.60h1.3 M203.60,62.60h-1.3 M39.50,59.91h1.3 M203.60,59.91h-1.3 M39.50,57.22h1.3 M203.60,57.22h-1.3 M39.50,54.53h1.3 M203.60,54.53h-1.3 M39.50,51.84h1.3 M203.60,51.84h-1.3 M39.50,49.16h1.3 M203.60,49.16h-1.3 M39.50,46.47h1.3 M203.60,46.47h-1.3 M39.50,43.78h1.3 M203.60,43.78h-1.3 M39.50,41.09h1.3 M203.60,41.09h-1.3 M39.50,38.40h1.3 M203.60,38.40h-1.3 M39.50,35.72h1.3 M203.60,35.72h-1.3 M39.50,33.03h1.3 M203.60,33.03h-1.3 M39.50,30.34h1.3 M203.60,30.34h-1.3 M39.50,27.65h1.3 M203.60,27.65h-1.3 M39.50,24.96h1.3 M203.60,24.96h-1.3 M39.50,22.28h1.3 M203.60,22.28h-1.3 M39.50,19.59h1.3 M203.60,19.59h-1.3 M39.50,16.90h1.3 M203.60,16.90h-1.3 M39.50,84.10h2.4 M203.60,84.10h-2.4 M39.50,70.66h2.4 M203.60,70.66h-2.4 M39.50,57.22h2.4 M203.60,57.22h-2.4 M39.50,43.78h2.4 M203.60,43.78h-2.4 M39.50,30.34h2.4 M203.60,30.34h-2.4 M39.50,16.90h2.4 M203.60,16.90h-2.4 M39.50,16.90v-1.3 M39.50,84.10v1.3 M47.71,16.90v-1.3 M47.71,84.10v1.3 M55.91,16.90v-1.3 M55.91,84.10v1.3 M64.12,16.90v-1.3 M64.12,84.10v1.3 M72.32,16.90v-1.3 M72.32,84.10v1.3 M80.53,16.90v-1.3 M80.53,84.10v1.3 M88.73,16.90v-1.3 M88.73,84.10v1.3 M96.94,16.90v-1.3 M96.94,84.10v1.3 M105.14,16.90v-1.3 M105.14,84.10v1.3 M113.35,16.90v-1.3 M113.35,84.10v1.3 M121.55,16.90v-1.3 M121.55,84.10v1.3 M129.76,16.90v-1.3 M129.76,84.10v1.3 M137.96,16.90v-1.3 M137.96,84.10v1.3 M146.17,16.90v-1.3 M146.17,84.10v1.3 M154.37,16.90v-1.3 M154.37,84.10v1.3 M162.57,16.90v-1.3 M162.57,84.10v1.3 M170.78,16.90v-1.3 M170.78,84.10v1.3 M178.99,16.90v-1.3 M178.99,84.10v1.3 M187.19,16.90v-1.3 M187.19,84.10v1.3 M195.40,16.90v-1.3 M195.40,84.10v1.3 M203.60,16.90v-1.3 M203.60,84.10v1.3 M64.12,16.90v-2.2 M64.12,84.10v2.2 M96.93,16.90v-2.2 M96.93,84.10v2.2 M129.76,16.90v-2.2 M129.76,84.10v2.2 M162.57,16.90v-2.2 M162.57,84.10v2.2 M195.39,16.90v-2.2 M195.39,84.10v2.2" stroke="#000" stroke-width="0.75" fill="none"/>
<rect x="39.50" y="16.90" width="164.10" height="67.20" fill="none" stroke="#000" stroke-width="1.25"/>
<path d="M39.50,154.35h1.3 M203.60,154.35h-1.3 M39.50,150.15h1.3 M203.60,150.15h-1.3 M39.50,145.95h1.3 M203.60,145.95h-1.3 M39.50,141.75h1.3 M203.60,141.75h-1.3 M39.50,137.55h1.3 M203.60,137.55h-1.3 M39.50,133.35h1.3 M203.60,133.35h-1.3 M39.50,129.15h1.3 M203.60,129.15h-1.3 M39.50,124.95h1.3 M203.60,124.95h-1.3 M39.50,120.75h1.3 M203.60,120.75h-1.3 M39.50,116.55h1.3 M203.60,116.55h-1.3 M39.50,112.35h1.3 M203.60,112.35h-1.3 M39.50,108.15h1.3 M203.60,108.15h-1.3 M39.50,103.95h1.3 M203.60,103.95h-1.3 M39.50,99.75h1.3 M203.60,99.75h-1.3 M39.50,95.55h1.3 M203.60,95.55h-1.3 M39.50,91.35h1.3 M203.60,91.35h-1.3 M39.50,87.15h1.3 M203.60,87.15h-1.3 M39.50,154.35h2.4 M203.60,154.35h-2.4 M39.50,137.55h2.4 M203.60,137.55h-2.4 M39.50,120.75h2.4 M203.60,120.75h-2.4 M39.50,103.95h2.4 M203.60,103.95h-2.4 M39.50,87.15h2.4 M203.60,87.15h-2.4 M39.50,87.15v-1.3 M39.50,154.35v1.3 M47.71,87.15v-1.3 M47.71,154.35v1.3 M55.91,87.15v-1.3 M55.91,154.35v1.3 M64.12,87.15v-1.3 M64.12,154.35v1.3 M72.32,87.15v-1.3 M72.32,154.35v1.3 M80.53,87.15v-1.3 M80.53,154.35v1.3 M88.73,87.15v-1.3 M88.73,154.35v1.3 M96.94,87.15v-1.3 M96.94,154.35v1.3 M105.14,87.15v-1.3 M105.14,154.35v1.3 M113.35,87.15v-1.3 M113.35,154.35v1.3 M121.55,87.15v-1.3 M121.55,154.35v1.3 M129.76,87.15v-1.3 M129.76,154.35v1.3 M137.96,87.15v-1.3 M137.96,154.35v1.3 M146.17,87.15v-1.3 M146.17,154.35v1.3 M154.37,87.15v-1.3 M154.37,154.35v1.3 M162.57,87.15v-1.3 M162.57,154.35v1.3 M170.78,87.15v-1.3 M170.78,154.35v1.3 M178.99,87.15v-1.3 M178.99,154.35v1.3 M187.19,87.15v-1.3 M187.19,154.35v1.3 M195.40,87.15v-1.3 M195.40,154.35v1.3 M203.60,87.15v-1.3 M203.60,154.35v1.3 M64.12,87.15v-2.2 M64.12,154.35v2.2 M96.93,87.15v-2.2 M96.93,154.35v2.2 M129.76,87.15v-2.2 M129.76,154.35v2.2 M162.57,87.15v-2.2 M162.57,154.35v2.2 M195.39,87.15v-2.2 M195.39,154.35v2.2" stroke="#000" stroke-width="0.75" fill="none"/>
<rect x="39.50" y="87.15" width="164.10" height="67.20" fill="none" stroke="#000" stroke-width="1.25"/>
<path d="M39.50,224.60h1.3 M203.60,224.60h-1.3 M39.50,220.40h1.3 M203.60,220.40h-1.3 M39.50,216.20h1.3 M203.60,216.20h-1.3 M39.50,212.00h1.3 M203.60,212.00h-1.3 M39.50,207.80h1.3 M203.60,207.80h-1.3 M39.50,203.60h1.3 M203.60,203.60h-1.3 M39.50,199.40h1.3 M203.60,199.40h-1.3 M39.50,195.20h1.3 M203.60,195.20h-1.3 M39.50,191.00h1.3 M203.60,191.00h-1.3 M39.50,186.80h1.3 M203.60,186.80h-1.3 M39.50,182.60h1.3 M203.60,182.60h-1.3 M39.50,178.40h1.3 M203.60,178.40h-1.3 M39.50,174.20h1.3 M203.60,174.20h-1.3 M39.50,170.00h1.3 M203.60,170.00h-1.3 M39.50,165.80h1.3 M203.60,165.80h-1.3 M39.50,161.60h1.3 M203.60,161.60h-1.3 M39.50,157.40h1.3 M203.60,157.40h-1.3 M39.50,224.60h2.4 M203.60,224.60h-2.4 M39.50,207.80h2.4 M203.60,207.80h-2.4 M39.50,191.00h2.4 M203.60,191.00h-2.4 M39.50,174.20h2.4 M203.60,174.20h-2.4 M39.50,157.40h2.4 M203.60,157.40h-2.4 M39.50,157.40v-1.3 M39.50,224.60v1.3 M47.71,157.40v-1.3 M47.71,224.60v1.3 M55.91,157.40v-1.3 M55.91,224.60v1.3 M64.12,157.40v-1.3 M64.12,224.60v1.3 M72.32,157.40v-1.3 M72.32,224.60v1.3 M80.53,157.40v-1.3 M80.53,224.60v1.3 M88.73,157.40v-1.3 M88.73,224.60v1.3 M96.94,157.40v-1.3 M96.94,224.60v1.3 M105.14,157.40v-1.3 M105.14,224.60v1.3 M113.35,157.40v-1.3 M113.35,224.60v1.3 M121.55,157.40v-1.3 M121.55,224.60v1.3 M129.76,157.40v-1.3 M129.76,224.60v1.3 M137.96,157.40v-1.3 M137.96,224.60v1.3 M146.17,157.40v-1.3 M146.17,224.60v1.3 M154.37,157.40v-1.3 M154.37,224.60v1.3 M162.57,157.40v-1.3 M162.57,224.60v1.3 M170.78,157.40v-1.3 M170.78,224.60v1.3 M178.99,157.40v-1.3 M178.99,224.60v1.3 M187.19,157.40v-1.3 M187.19,224.60v1.3 M195.40,157.40v-1.3 M195.40,224.60v1.3 M203.60,157.40v-1.3 M203.60,224.60v1.3 M64.12,157.40v-2.2 M64.12,224.60v2.2 M96.93,157.40v-2.2 M96.93,224.60v2.2 M129.76,157.40v-2.2 M129.76,224.60v2.2 M162.57,157.40v-2.2 M162.57,224.60v2.2 M195.39,157.40v-2.2 M195.39,224.60v2.2" stroke="#000" stroke-width="0.75" fill="none"/>
<rect x="39.50" y="157.40" width="164.10" height="67.20" fill="none" stroke="#000" stroke-width="1.25"/>
<path d="M39.50,294.85h1.3 M203.60,294.85h-1.3 M39.50,291.49h1.3 M203.60,291.49h-1.3 M39.50,288.13h1.3 M203.60,288.13h-1.3 M39.50,284.77h1.3 M203.60,284.77h-1.3 M39.50,281.41h1.3 M203.60,281.41h-1.3 M39.50,278.05h1.3 M203.60,278.05h-1.3 M39.50,274.69h1.3 M203.60,274.69h-1.3 M39.50,271.33h1.3 M203.60,271.33h-1.3 M39.50,267.97h1.3 M203.60,267.97h-1.3 M39.50,264.61h1.3 M203.60,264.61h-1.3 M39.50,261.25h1.3 M203.60,261.25h-1.3 M39.50,257.89h1.3 M203.60,257.89h-1.3 M39.50,254.53h1.3 M203.60,254.53h-1.3 M39.50,251.17h1.3 M203.60,251.17h-1.3 M39.50,247.81h1.3 M203.60,247.81h-1.3 M39.50,244.45h1.3 M203.60,244.45h-1.3 M39.50,241.09h1.3 M203.60,241.09h-1.3 M39.50,237.73h1.3 M203.60,237.73h-1.3 M39.50,234.37h1.3 M203.60,234.37h-1.3 M39.50,231.01h1.3 M203.60,231.01h-1.3 M39.50,227.65h1.3 M203.60,227.65h-1.3 M39.50,294.85h2.4 M203.60,294.85h-2.4 M39.50,278.05h2.4 M203.60,278.05h-2.4 M39.50,261.25h2.4 M203.60,261.25h-2.4 M39.50,244.45h2.4 M203.60,244.45h-2.4 M39.50,227.65h2.4 M203.60,227.65h-2.4 M39.50,227.65v-1.3 M39.50,294.85v1.3 M47.71,227.65v-1.3 M47.71,294.85v1.3 M55.91,227.65v-1.3 M55.91,294.85v1.3 M64.12,227.65v-1.3 M64.12,294.85v1.3 M72.32,227.65v-1.3 M72.32,294.85v1.3 M80.53,227.65v-1.3 M80.53,294.85v1.3 M88.73,227.65v-1.3 M88.73,294.85v1.3 M96.94,227.65v-1.3 M96.94,294.85v1.3 M105.14,227.65v-1.3 M105.14,294.85v1.3 M113.35,227.65v-1.3 M113.35,294.85v1.3 M121.55,227.65v-1.3 M121.55,294.85v1.3 M129.76,227.65v-1.3 M129.76,294.85v1.3 M137.96,227.65v-1.3 M137.96,294.85v1.3 M146.17,227.65v-1.3 M146.17,294.85v1.3 M154.37,227.65v-1.3 M154.37,294.85v1.3 M162.57,227.65v-1.3 M162.57,294.85v1.3 M170.78,227.65v-1.3 M170.78,294.85v1.3 M178.99,227.65v-1.3 M178.99,294.85v1.3 M187.19,227.65v-1.3 M187.19,294.85v1.3 M195.40,227.65v-1.3 M195.40,294.85v1.3 M203.60,227.65v-1.3 M203.60,294.85v1.3 M64.12,227.65v-2.2 M64.12,294.85v2.2 M96.93,227.65v-2.2 M96.93,294.85v2.2 M129.76,227.65v-2.2 M129.76,294.85v2.2 M162.57,227.65v-2.2 M162.57,294.85v2.2 M195.39,227.65v-2.2 M195.39,294.85v2.2" stroke="#000" stroke-width="0.75" fill="none"/>
<rect x="39.50" y="227.65" width="164.10" height="67.20" fill="none" stroke="#000" stroke-width="1.25"/>
<path d="M247.50,84.10h1.3 M411.00,84.10h-1.3 M247.50,81.41h1.3 M411.00,81.41h-1.3 M247.50,78.72h1.3 M411.00,78.72h-1.3 M247.50,76.04h1.3 M411.00,76.04h-1.3 M247.50,73.35h1.3 M411.00,73.35h-1.3 M247.50,70.66h1.3 M411.00,70.66h-1.3 M247.50,67.97h1.3 M411.00,67.97h-1.3 M247.50,65.28h1.3 M411.00,65.28h-1.3 M247.50,62.60h1.3 M411.00,62.60h-1.3 M247.50,59.91h1.3 M411.00,59.91h-1.3 M247.50,57.22h1.3 M411.00,57.22h-1.3 M247.50,54.53h1.3 M411.00,54.53h-1.3 M247.50,51.84h1.3 M411.00,51.84h-1.3 M247.50,49.16h1.3 M411.00,49.16h-1.3 M247.50,46.47h1.3 M411.00,46.47h-1.3 M247.50,43.78h1.3 M411.00,43.78h-1.3 M247.50,41.09h1.3 M411.00,41.09h-1.3 M247.50,38.40h1.3 M411.00,38.40h-1.3 M247.50,35.72h1.3 M411.00,35.72h-1.3 M247.50,33.03h1.3 M411.00,33.03h-1.3 M247.50,30.34h1.3 M411.00,30.34h-1.3 M247.50,27.65h1.3 M411.00,27.65h-1.3 M247.50,24.96h1.3 M411.00,24.96h-1.3 M247.50,22.28h1.3 M411.00,22.28h-1.3 M247.50,19.59h1.3 M411.00,19.59h-1.3 M247.50,16.90h1.3 M411.00,16.90h-1.3 M247.50,84.10h2.4 M411.00,84.10h-2.4 M247.50,70.66h2.4 M411.00,70.66h-2.4 M247.50,57.22h2.4 M411.00,57.22h-2.4 M247.50,43.78h2.4 M411.00,43.78h-2.4 M247.50,30.34h2.4 M411.00,30.34h-2.4 M247.50,16.90h2.4 M411.00,16.90h-2.4 M247.50,16.90v-1.3 M247.50,84.10v1.3 M251.13,16.90v-1.3 M251.13,84.10v1.3 M254.77,16.90v-1.3 M254.77,84.10v1.3 M258.40,16.90v-1.3 M258.40,84.10v1.3 M262.03,16.90v-1.3 M262.03,84.10v1.3 M265.67,16.90v-1.3 M265.67,84.10v1.3 M269.30,16.90v-1.3 M269.30,84.10v1.3 M272.93,16.90v-1.3 M272.93,84.10v1.3 M276.57,16.90v-1.3 M276.57,84.10v1.3 M280.20,16.90v-1.3 M280.20,84.10v1.3 M283.83,16.90v-1.3 M283.83,84.10v1.3 M287.47,16.90v-1.3 M287.47,84.10v1.3 M291.10,16.90v-1.3 M291.10,84.10v1.3 M294.73,16.90v-1.3 M294.73,84.10v1.3 M298.37,16.90v-1.3 M298.37,84.10v1.3 M302.00,16.90v-1.3 M302.00,84.10v1.3 M305.63,16.90v-1.3 M305.63,84.10v1.3 M309.27,16.90v-1.3 M309.27,84.10v1.3 M312.90,16.90v-1.3 M312.90,84.10v1.3 M316.53,16.90v-1.3 M316.53,84.10v1.3 M320.17,16.90v-1.3 M320.17,84.10v1.3 M323.80,16.90v-1.3 M323.80,84.10v1.3 M327.43,16.90v-1.3 M327.43,84.10v1.3 M331.07,16.90v-1.3 M331.07,84.10v1.3 M334.70,16.90v-1.3 M334.70,84.10v1.3 M338.33,16.90v-1.3 M338.33,84.10v1.3 M341.97,16.90v-1.3 M341.97,84.10v1.3 M345.60,16.90v-1.3 M345.60,84.10v1.3 M349.23,16.90v-1.3 M349.23,84.10v1.3 M352.87,16.90v-1.3 M352.87,84.10v1.3 M356.50,16.90v-1.3 M356.50,84.10v1.3 M360.13,16.90v-1.3 M360.13,84.10v1.3 M363.77,16.90v-1.3 M363.77,84.10v1.3 M367.40,16.90v-1.3 M367.40,84.10v1.3 M371.03,16.90v-1.3 M371.03,84.10v1.3 M374.67,16.90v-1.3 M374.67,84.10v1.3 M378.30,16.90v-1.3 M378.30,84.10v1.3 M381.93,16.90v-1.3 M381.93,84.10v1.3 M385.57,16.90v-1.3 M385.57,84.10v1.3 M389.20,16.90v-1.3 M389.20,84.10v1.3 M392.83,16.90v-1.3 M392.83,84.10v1.3 M396.47,16.90v-1.3 M396.47,84.10v1.3 M400.10,16.90v-1.3 M400.10,84.10v1.3 M403.73,16.90v-1.3 M403.73,84.10v1.3 M407.37,16.90v-1.3 M407.37,84.10v1.3 M411.00,16.90v-1.3 M411.00,84.10v1.3 M265.67,16.90v-2.2 M265.67,84.10v2.2 M302.00,16.90v-2.2 M302.00,84.10v2.2 M338.33,16.90v-2.2 M338.33,84.10v2.2 M374.67,16.90v-2.2 M374.67,84.10v2.2 M411.00,16.90v-2.2 M411.00,84.10v2.2" stroke="#000" stroke-width="0.75" fill="none"/>
<rect x="247.50" y="16.90" width="163.50" height="67.20" fill="none" stroke="#000" stroke-width="1.25"/>
<path d="M247.50,154.35h1.3 M411.00,154.35h-1.3 M247.50,150.15h1.3 M411.00,150.15h-1.3 M247.50,145.95h1.3 M411.00,145.95h-1.3 M247.50,141.75h1.3 M411.00,141.75h-1.3 M247.50,137.55h1.3 M411.00,137.55h-1.3 M247.50,133.35h1.3 M411.00,133.35h-1.3 M247.50,129.15h1.3 M411.00,129.15h-1.3 M247.50,124.95h1.3 M411.00,124.95h-1.3 M247.50,120.75h1.3 M411.00,120.75h-1.3 M247.50,116.55h1.3 M411.00,116.55h-1.3 M247.50,112.35h1.3 M411.00,112.35h-1.3 M247.50,108.15h1.3 M411.00,108.15h-1.3 M247.50,103.95h1.3 M411.00,103.95h-1.3 M247.50,99.75h1.3 M411.00,99.75h-1.3 M247.50,95.55h1.3 M411.00,95.55h-1.3 M247.50,91.35h1.3 M411.00,91.35h-1.3 M247.50,87.15h1.3 M411.00,87.15h-1.3 M247.50,154.35h2.4 M411.00,154.35h-2.4 M247.50,137.55h2.4 M411.00,137.55h-2.4 M247.50,120.75h2.4 M411.00,120.75h-2.4 M247.50,103.95h2.4 M411.00,103.95h-2.4 M247.50,87.15h2.4 M411.00,87.15h-2.4 M247.50,87.15v-1.3 M247.50,154.35v1.3 M251.13,87.15v-1.3 M251.13,154.35v1.3 M254.77,87.15v-1.3 M254.77,154.35v1.3 M258.40,87.15v-1.3 M258.40,154.35v1.3 M262.03,87.15v-1.3 M262.03,154.35v1.3 M265.67,87.15v-1.3 M265.67,154.35v1.3 M269.30,87.15v-1.3 M269.30,154.35v1.3 M272.93,87.15v-1.3 M272.93,154.35v1.3 M276.57,87.15v-1.3 M276.57,154.35v1.3 M280.20,87.15v-1.3 M280.20,154.35v1.3 M283.83,87.15v-1.3 M283.83,154.35v1.3 M287.47,87.15v-1.3 M287.47,154.35v1.3 M291.10,87.15v-1.3 M291.10,154.35v1.3 M294.73,87.15v-1.3 M294.73,154.35v1.3 M298.37,87.15v-1.3 M298.37,154.35v1.3 M302.00,87.15v-1.3 M302.00,154.35v1.3 M305.63,87.15v-1.3 M305.63,154.35v1.3 M309.27,87.15v-1.3 M309.27,154.35v1.3 M312.90,87.15v-1.3 M312.90,154.35v1.3 M316.53,87.15v-1.3 M316.53,154.35v1.3 M320.17,87.15v-1.3 M320.17,154.35v1.3 M323.80,87.15v-1.3 M323.80,154.35v1.3 M327.43,87.15v-1.3 M327.43,154.35v1.3 M331.07,87.15v-1.3 M331.07,154.35v1.3 M334.70,87.15v-1.3 M334.70,154.35v1.3 M338.33,87.15v-1.3 M338.33,154.35v1.3 M341.97,87.15v-1.3 M341.97,154.35v1.3 M345.60,87.15v-1.3 M345.60,154.35v1.3 M349.23,87.15v-1.3 M349.23,154.35v1.3 M352.87,87.15v-1.3 M352.87,154.35v1.3 M356.50,87.15v-1.3 M356.50,154.35v1.3 M360.13,87.15v-1.3 M360.13,154.35v1.3 M363.77,87.15v-1.3 M363.77,154.35v1.3 M367.40,87.15v-1.3 M367.40,154.35v1.3 M371.03,87.15v-1.3 M371.03,154.35v1.3 M374.67,87.15v-1.3 M374.67,154.35v1.3 M378.30,87.15v-1.3 M378.30,154.35v1.3 M381.93,87.15v-1.3 M381.93,154.35v1.3 M385.57,87.15v-1.3 M385.57,154.35v1.3 M389.20,87.15v-1.3 M389.20,154.35v1.3 M392.83,87.15v-1.3 M392.83,154.35v1.3 M396.47,87.15v-1.3 M396.47,154.35v1.3 M400.10,87.15v-1.3 M400.10,154.35v1.3 M403.73,87.15v-1.3 M403.73,154.35v1.3 M407.37,87.15v-1.3 M407.37,154.35v1.3 M411.00,87.15v-1.3 M411.00,154.35v1.3 M265.67,87.15v-2.2 M265.67,154.35v2.2 M302.00,87.15v-2.2 M302.00,154.35v2.2 M338.33,87.15v-2.2 M338.33,154.35v2.2 M374.67,87.15v-2.2 M374.67,154.35v2.2 M411.00,87.15v-2.2 M411.00,154.35v2.2" stroke="#000" stroke-width="0.75" fill="none"/>
<rect x="247.50" y="87.15" width="163.50" height="67.20" fill="none" stroke="#000" stroke-width="1.25"/>
<path d="M247.50,224.60h1.3 M411.00,224.60h-1.3 M247.50,220.40h1.3 M411.00,220.40h-1.3 M247.50,216.20h1.3 M411.00,216.20h-1.3 M247.50,212.00h1.3 M411.00,212.00h-1.3 M247.50,207.80h1.3 M411.00,207.80h-1.3 M247.50,203.60h1.3 M411.00,203.60h-1.3 M247.50,199.40h1.3 M411.00,199.40h-1.3 M247.50,195.20h1.3 M411.00,195.20h-1.3 M247.50,191.00h1.3 M411.00,191.00h-1.3 M247.50,186.80h1.3 M411.00,186.80h-1.3 M247.50,182.60h1.3 M411.00,182.60h-1.3 M247.50,178.40h1.3 M411.00,178.40h-1.3 M247.50,174.20h1.3 M411.00,174.20h-1.3 M247.50,170.00h1.3 M411.00,170.00h-1.3 M247.50,165.80h1.3 M411.00,165.80h-1.3 M247.50,161.60h1.3 M411.00,161.60h-1.3 M247.50,157.40h1.3 M411.00,157.40h-1.3 M247.50,224.60h2.4 M411.00,224.60h-2.4 M247.50,207.80h2.4 M411.00,207.80h-2.4 M247.50,191.00h2.4 M411.00,191.00h-2.4 M247.50,174.20h2.4 M411.00,174.20h-2.4 M247.50,157.40h2.4 M411.00,157.40h-2.4 M247.50,157.40v-1.3 M247.50,224.60v1.3 M251.13,157.40v-1.3 M251.13,224.60v1.3 M254.77,157.40v-1.3 M254.77,224.60v1.3 M258.40,157.40v-1.3 M258.40,224.60v1.3 M262.03,157.40v-1.3 M262.03,224.60v1.3 M265.67,157.40v-1.3 M265.67,224.60v1.3 M269.30,157.40v-1.3 M269.30,224.60v1.3 M272.93,157.40v-1.3 M272.93,224.60v1.3 M276.57,157.40v-1.3 M276.57,224.60v1.3 M280.20,157.40v-1.3 M280.20,224.60v1.3 M283.83,157.40v-1.3 M283.83,224.60v1.3 M287.47,157.40v-1.3 M287.47,224.60v1.3 M291.10,157.40v-1.3 M291.10,224.60v1.3 M294.73,157.40v-1.3 M294.73,224.60v1.3 M298.37,157.40v-1.3 M298.37,224.60v1.3 M302.00,157.40v-1.3 M302.00,224.60v1.3 M305.63,157.40v-1.3 M305.63,224.60v1.3 M309.27,157.40v-1.3 M309.27,224.60v1.3 M312.90,157.40v-1.3 M312.90,224.60v1.3 M316.53,157.40v-1.3 M316.53,224.60v1.3 M320.17,157.40v-1.3 M320.17,224.60v1.3 M323.80,157.40v-1.3 M323.80,224.60v1.3 M327.43,157.40v-1.3 M327.43,224.60v1.3 M331.07,157.40v-1.3 M331.07,224.60v1.3 M334.70,157.40v-1.3 M334.70,224.60v1.3 M338.33,157.40v-1.3 M338.33,224.60v1.3 M341.97,157.40v-1.3 M341.97,224.60v1.3 M345.60,157.40v-1.3 M345.60,224.60v1.3 M349.23,157.40v-1.3 M349.23,224.60v1.3 M352.87,157.40v-1.3 M352.87,224.60v1.3 M356.50,157.40v-1.3 M356.50,224.60v1.3 M360.13,157.40v-1.3 M360.13,224.60v1.3 M363.77,157.40v-1.3 M363.77,224.60v1.3 M367.40,157.40v-1.3 M367.40,224.60v1.3 M371.03,157.40v-1.3 M371.03,224.60v1.3 M374.67,157.40v-1.3 M374.67,224.60v1.3 M378.30,157.40v-1.3 M378.30,224.60v1.3 M381.93,157.40v-1.3 M381.93,224.60v1.3 M385.57,157.40v-1.3 M385.57,224.60v1.3 M389.20,157.40v-1.3 M389.20,224.60v1.3 M392.83,157.40v-1.3 M392.83,224.60v1.3 M396.47,157.40v-1.3 M396.47,224.60v1.3 M400.10,157.40v-1.3 M400.10,224.60v1.3 M403.73,157.40v-1.3 M403.73,224.60v1.3 M407.37,157.40v-1.3 M407.37,224.60v1.3 M411.00,157.40v-1.3 M411.00,224.60v1.3 M265.67,157.40v-2.2 M265.67,224.60v2.2 M302.00,157.40v-2.2 M302.00,224.60v2.2 M338.33,157.40v-2.2 M338.33,224.60v2.2 M374.67,157.40v-2.2 M374.67,224.60v2.2 M411.00,157.40v-2.2 M411.00,224.60v2.2" stroke="#000" stroke-width="0.75" fill="none"/>
<rect x="247.50" y="157.40" width="163.50" height="67.20" fill="none" stroke="#000" stroke-width="1.25"/>
<path d="M247.50,294.85h1.3 M411.00,294.85h-1.3 M247.50,291.49h1.3 M411.00,291.49h-1.3 M247.50,288.13h1.3 M411.00,288.13h-1.3 M247.50,284.77h1.3 M411.00,284.77h-1.3 M247.50,281.41h1.3 M411.00,281.41h-1.3 M247.50,278.05h1.3 M411.00,278.05h-1.3 M247.50,274.69h1.3 M411.00,274.69h-1.3 M247.50,271.33h1.3 M411.00,271.33h-1.3 M247.50,267.97h1.3 M411.00,267.97h-1.3 M247.50,264.61h1.3 M411.00,264.61h-1.3 M247.50,261.25h1.3 M411.00,261.25h-1.3 M247.50,257.89h1.3 M411.00,257.89h-1.3 M247.50,254.53h1.3 M411.00,254.53h-1.3 M247.50,251.17h1.3 M411.00,251.17h-1.3 M247.50,247.81h1.3 M411.00,247.81h-1.3 M247.50,244.45h1.3 M411.00,244.45h-1.3 M247.50,241.09h1.3 M411.00,241.09h-1.3 M247.50,237.73h1.3 M411.00,237.73h-1.3 M247.50,234.37h1.3 M411.00,234.37h-1.3 M247.50,231.01h1.3 M411.00,231.01h-1.3 M247.50,227.65h1.3 M411.00,227.65h-1.3 M247.50,294.85h2.4 M411.00,294.85h-2.4 M247.50,278.05h2.4 M411.00,278.05h-2.4 M247.50,261.25h2.4 M411.00,261.25h-2.4 M247.50,244.45h2.4 M411.00,244.45h-2.4 M247.50,227.65h2.4 M411.00,227.65h-2.4 M247.50,227.65v-1.3 M247.50,294.85v1.3 M251.13,227.65v-1.3 M251.13,294.85v1.3 M254.77,227.65v-1.3 M254.77,294.85v1.3 M258.40,227.65v-1.3 M258.40,294.85v1.3 M262.03,227.65v-1.3 M262.03,294.85v1.3 M265.67,227.65v-1.3 M265.67,294.85v1.3 M269.30,227.65v-1.3 M269.30,294.85v1.3 M272.93,227.65v-1.3 M272.93,294.85v1.3 M276.57,227.65v-1.3 M276.57,294.85v1.3 M280.20,227.65v-1.3 M280.20,294.85v1.3 M283.83,227.65v-1.3 M283.83,294.85v1.3 M287.47,227.65v-1.3 M287.47,294.85v1.3 M291.10,227.65v-1.3 M291.10,294.85v1.3 M294.73,227.65v-1.3 M294.73,294.85v1.3 M298.37,227.65v-1.3 M298.37,294.85v1.3 M302.00,227.65v-1.3 M302.00,294.85v1.3 M305.63,227.65v-1.3 M305.63,294.85v1.3 M309.27,227.65v-1.3 M309.27,294.85v1.3 M312.90,227.65v-1.3 M312.90,294.85v1.3 M316.53,227.65v-1.3 M316.53,294.85v1.3 M320.17,227.65v-1.3 M320.17,294.85v1.3 M323.80,227.65v-1.3 M323.80,294.85v1.3 M327.43,227.65v-1.3 M327.43,294.85v1.3 M331.07,227.65v-1.3 M331.07,294.85v1.3 M334.70,227.65v-1.3 M334.70,294.85v1.3 M338.33,227.65v-1.3 M338.33,294.85v1.3 M341.97,227.65v-1.3 M341.97,294.85v1.3 M345.60,227.65v-1.3 M345.60,294.85v1.3 M349.23,227.65v-1.3 M349.23,294.85v1.3 M352.87,227.65v-1.3 M352.87,294.85v1.3 M356.50,227.65v-1.3 M356.50,294.85v1.3 M360.13,227.65v-1.3 M360.13,294.85v1.3 M363.77,227.65v-1.3 M363.77,294.85v1.3 M367.40,227.65v-1.3 M367.40,294.85v1.3 M371.03,227.65v-1.3 M371.03,294.85v1.3 M374.67,227.65v-1.3 M374.67,294.85v1.3 M378.30,227.65v-1.3 M378.30,294.85v1.3 M381.93,227.65v-1.3 M381.93,294.85v1.3 M385.57,227.65v-1.3 M385.57,294.85v1.3 M389.20,227.65v-1.3 M389.20,294.85v1.3 M392.83,227.65v-1.3 M392.83,294.85v1.3 M396.47,227.65v-1.3 M396.47,294.85v1.3 M400.10,227.65v-1.3 M400.10,294.85v1.3 M403.73,227.65v-1.3 M403.73,294.85v1.3 M407.37,227.65v-1.3 M407.37,294.85v1.3 M411.00,227.65v-1.3 M411.00,294.85v1.3 M265.67,227.65v-2.2 M265.67,294.85v2.2 M302.00,227.65v-2.2 M302.00,294.85v2.2 M338.33,227.65v-2.2 M338.33,294.85v2.2 M374.67,227.65v-2.2 M374.67,294.85v2.2 M411.00,227.65v-2.2 M411.00,294.85v2.2" stroke="#000" stroke-width="0.75" fill="none"/>
<rect x="247.50" y="227.65" width="163.50" height="67.20" fill="none" stroke="#000" stroke-width="1.25"/>
<path d="M460.00,84.10h1.3 M623.60,84.10h-1.3 M460.00,81.41h1.3 M623.60,81.41h-1.3 M460.00,78.72h1.3 M623.60,78.72h-1.3 M460.00,76.04h1.3 M623.60,76.04h-1.3 M460.00,73.35h1.3 M623.60,73.35h-1.3 M460.00,70.66h1.3 M623.60,70.66h-1.3 M460.00,67.97h1.3 M623.60,67.97h-1.3 M460.00,65.28h1.3 M623.60,65.28h-1.3 M460.00,62.60h1.3 M623.60,62.60h-1.3 M460.00,59.91h1.3 M623.60,59.91h-1.3 M460.00,57.22h1.3 M623.60,57.22h-1.3 M460.00,54.53h1.3 M623.60,54.53h-1.3 M460.00,51.84h1.3 M623.60,51.84h-1.3 M460.00,49.16h1.3 M623.60,49.16h-1.3 M460.00,46.47h1.3 M623.60,46.47h-1.3 M460.00,43.78h1.3 M623.60,43.78h-1.3 M460.00,41.09h1.3 M623.60,41.09h-1.3 M460.00,38.40h1.3 M623.60,38.40h-1.3 M460.00,35.72h1.3 M623.60,35.72h-1.3 M460.00,33.03h1.3 M623.60,33.03h-1.3 M460.00,30.34h1.3 M623.60,30.34h-1.3 M460.00,27.65h1.3 M623.60,27.65h-1.3 M460.00,24.96h1.3 M623.60,24.96h-1.3 M460.00,22.28h1.3 M623.60,22.28h-1.3 M460.00,19.59h1.3 M623.60,19.59h-1.3 M460.00,16.90h1.3 M623.60,16.90h-1.3 M460.00,84.10h2.4 M623.60,84.10h-2.4 M460.00,70.66h2.4 M623.60,70.66h-2.4 M460.00,57.22h2.4 M623.60,57.22h-2.4 M460.00,43.78h2.4 M623.60,43.78h-2.4 M460.00,30.34h2.4 M623.60,30.34h-2.4 M460.00,16.90h2.4 M623.60,16.90h-2.4 M460.72,16.90v-1.3 M460.72,84.10v1.3 M465.03,16.90v-1.3 M465.03,84.10v1.3 M469.35,16.90v-1.3 M469.35,84.10v1.3 M473.66,16.90v-1.3 M473.66,84.10v1.3 M477.98,16.90v-1.3 M477.98,84.10v1.3 M482.29,16.90v-1.3 M482.29,84.10v1.3 M486.61,16.90v-1.3 M486.61,84.10v1.3 M490.92,16.90v-1.3 M490.92,84.10v1.3 M495.24,16.90v-1.3 M495.24,84.10v1.3 M499.55,16.90v-1.3 M499.55,84.10v1.3 M503.87,16.90v-1.3 M503.87,84.10v1.3 M508.18,16.90v-1.3 M508.18,84.10v1.3 M512.50,16.90v-1.3 M512.50,84.10v1.3 M516.81,16.90v-1.3 M516.81,84.10v1.3 M521.13,16.90v-1.3 M521.13,84.10v1.3 M525.44,16.90v-1.3 M525.44,84.10v1.3 M529.75,16.90v-1.3 M529.75,84.10v1.3 M534.07,16.90v-1.3 M534.07,84.10v1.3 M538.38,16.90v-1.3 M538.38,84.10v1.3 M542.70,16.90v-1.3 M542.70,84.10v1.3 M547.01,16.90v-1.3 M547.01,84.10v1.3 M551.33,16.90v-1.3 M551.33,84.10v1.3 M555.64,16.90v-1.3 M555.64,84.10v1.3 M559.96,16.90v-1.3 M559.96,84.10v1.3 M564.27,16.90v-1.3 M564.27,84.10v1.3 M568.59,16.90v-1.3 M568.59,84.10v1.3 M572.90,16.90v-1.3 M572.90,84.10v1.3 M577.22,16.90v-1.3 M577.22,84.10v1.3 M581.53,16.90v-1.3 M581.53,84.10v1.3 M585.85,16.90v-1.3 M585.85,84.10v1.3 M590.16,16.90v-1.3 M590.16,84.10v1.3 M594.48,16.90v-1.3 M594.48,84.10v1.3 M598.79,16.90v-1.3 M598.79,84.10v1.3 M603.11,16.90v-1.3 M603.11,84.10v1.3 M607.42,16.90v-1.3 M607.42,84.10v1.3 M611.73,16.90v-1.3 M611.73,84.10v1.3 M616.05,16.90v-1.3 M616.05,84.10v1.3 M620.36,16.90v-1.3 M620.36,84.10v1.3 M477.98,16.90v-2.2 M477.98,84.10v2.2 M499.55,16.90v-2.2 M499.55,84.10v2.2 M521.13,16.90v-2.2 M521.13,84.10v2.2 M542.70,16.90v-2.2 M542.70,84.10v2.2 M564.27,16.90v-2.2 M564.27,84.10v2.2 M585.85,16.90v-2.2 M585.85,84.10v2.2 M607.42,16.90v-2.2 M607.42,84.10v2.2" stroke="#000" stroke-width="0.75" fill="none"/>
<rect x="460.00" y="16.90" width="163.60" height="67.20" fill="none" stroke="#000" stroke-width="1.25"/>
<path d="M460.00,154.35h1.3 M623.60,154.35h-1.3 M460.00,150.15h1.3 M623.60,150.15h-1.3 M460.00,145.95h1.3 M623.60,145.95h-1.3 M460.00,141.75h1.3 M623.60,141.75h-1.3 M460.00,137.55h1.3 M623.60,137.55h-1.3 M460.00,133.35h1.3 M623.60,133.35h-1.3 M460.00,129.15h1.3 M623.60,129.15h-1.3 M460.00,124.95h1.3 M623.60,124.95h-1.3 M460.00,120.75h1.3 M623.60,120.75h-1.3 M460.00,116.55h1.3 M623.60,116.55h-1.3 M460.00,112.35h1.3 M623.60,112.35h-1.3 M460.00,108.15h1.3 M623.60,108.15h-1.3 M460.00,103.95h1.3 M623.60,103.95h-1.3 M460.00,99.75h1.3 M623.60,99.75h-1.3 M460.00,95.55h1.3 M623.60,95.55h-1.3 M460.00,91.35h1.3 M623.60,91.35h-1.3 M460.00,87.15h1.3 M623.60,87.15h-1.3 M460.00,154.35h2.4 M623.60,154.35h-2.4 M460.00,137.55h2.4 M623.60,137.55h-2.4 M460.00,120.75h2.4 M623.60,120.75h-2.4 M460.00,103.95h2.4 M623.60,103.95h-2.4 M460.00,87.15h2.4 M623.60,87.15h-2.4 M460.72,87.15v-1.3 M460.72,154.35v1.3 M465.03,87.15v-1.3 M465.03,154.35v1.3 M469.35,87.15v-1.3 M469.35,154.35v1.3 M473.66,87.15v-1.3 M473.66,154.35v1.3 M477.98,87.15v-1.3 M477.98,154.35v1.3 M482.29,87.15v-1.3 M482.29,154.35v1.3 M486.61,87.15v-1.3 M486.61,154.35v1.3 M490.92,87.15v-1.3 M490.92,154.35v1.3 M495.24,87.15v-1.3 M495.24,154.35v1.3 M499.55,87.15v-1.3 M499.55,154.35v1.3 M503.87,87.15v-1.3 M503.87,154.35v1.3 M508.18,87.15v-1.3 M508.18,154.35v1.3 M512.50,87.15v-1.3 M512.50,154.35v1.3 M516.81,87.15v-1.3 M516.81,154.35v1.3 M521.13,87.15v-1.3 M521.13,154.35v1.3 M525.44,87.15v-1.3 M525.44,154.35v1.3 M529.75,87.15v-1.3 M529.75,154.35v1.3 M534.07,87.15v-1.3 M534.07,154.35v1.3 M538.38,87.15v-1.3 M538.38,154.35v1.3 M542.70,87.15v-1.3 M542.70,154.35v1.3 M547.01,87.15v-1.3 M547.01,154.35v1.3 M551.33,87.15v-1.3 M551.33,154.35v1.3 M555.64,87.15v-1.3 M555.64,154.35v1.3 M559.96,87.15v-1.3 M559.96,154.35v1.3 M564.27,87.15v-1.3 M564.27,154.35v1.3 M568.59,87.15v-1.3 M568.59,154.35v1.3 M572.90,87.15v-1.3 M572.90,154.35v1.3 M577.22,87.15v-1.3 M577.22,154.35v1.3 M581.53,87.15v-1.3 M581.53,154.35v1.3 M585.85,87.15v-1.3 M585.85,154.35v1.3 M590.16,87.15v-1.3 M590.16,154.35v1.3 M594.48,87.15v-1.3 M594.48,154.35v1.3 M598.79,87.15v-1.3 M598.79,154.35v1.3 M603.11,87.15v-1.3 M603.11,154.35v1.3 M607.42,87.15v-1.3 M607.42,154.35v1.3 M611.73,87.15v-1.3 M611.73,154.35v1.3 M616.05,87.15v-1.3 M616.05,154.35v1.3 M620.36,87.15v-1.3 M620.36,154.35v1.3 M477.98,87.15v-2.2 M477.98,154.35v2.2 M499.55,87.15v-2.2 M499.55,154.35v2.2 M521.13,87.15v-2.2 M521.13,154.35v2.2 M542.70,87.15v-2.2 M542.70,154.35v2.2 M564.27,87.15v-2.2 M564.27,154.35v2.2 M585.85,87.15v-2.2 M585.85,154.35v2.2 M607.42,87.15v-2.2 M607.42,154.35v2.2" stroke="#000" stroke-width="0.75" fill="none"/>
<rect x="460.00" y="87.15" width="163.60" height="67.20" fill="none" stroke="#000" stroke-width="1.25"/>
<path d="M460.00,224.60h1.3 M623.60,224.60h-1.3 M460.00,220.40h1.3 M623.60,220.40h-1.3 M460.00,216.20h1.3 M623.60,216.20h-1.3 M460.00,212.00h1.3 M623.60,212.00h-1.3 M460.00,207.80h1.3 M623.60,207.80h-1.3 M460.00,203.60h1.3 M623.60,203.60h-1.3 M460.00,199.40h1.3 M623.60,199.40h-1.3 M460.00,195.20h1.3 M623.60,195.20h-1.3 M460.00,191.00h1.3 M623.60,191.00h-1.3 M460.00,186.80h1.3 M623.60,186.80h-1.3 M460.00,182.60h1.3 M623.60,182.60h-1.3 M460.00,178.40h1.3 M623.60,178.40h-1.3 M460.00,174.20h1.3 M623.60,174.20h-1.3 M460.00,170.00h1.3 M623.60,170.00h-1.3 M460.00,165.80h1.3 M623.60,165.80h-1.3 M460.00,161.60h1.3 M623.60,161.60h-1.3 M460.00,157.40h1.3 M623.60,157.40h-1.3 M460.00,224.60h2.4 M623.60,224.60h-2.4 M460.00,207.80h2.4 M623.60,207.80h-2.4 M460.00,191.00h2.4 M623.60,191.00h-2.4 M460.00,174.20h2.4 M623.60,174.20h-2.4 M460.00,157.40h2.4 M623.60,157.40h-2.4 M460.72,157.40v-1.3 M460.72,224.60v1.3 M465.03,157.40v-1.3 M465.03,224.60v1.3 M469.35,157.40v-1.3 M469.35,224.60v1.3 M473.66,157.40v-1.3 M473.66,224.60v1.3 M477.98,157.40v-1.3 M477.98,224.60v1.3 M482.29,157.40v-1.3 M482.29,224.60v1.3 M486.61,157.40v-1.3 M486.61,224.60v1.3 M490.92,157.40v-1.3 M490.92,224.60v1.3 M495.24,157.40v-1.3 M495.24,224.60v1.3 M499.55,157.40v-1.3 M499.55,224.60v1.3 M503.87,157.40v-1.3 M503.87,224.60v1.3 M508.18,157.40v-1.3 M508.18,224.60v1.3 M512.50,157.40v-1.3 M512.50,224.60v1.3 M516.81,157.40v-1.3 M516.81,224.60v1.3 M521.13,157.40v-1.3 M521.13,224.60v1.3 M525.44,157.40v-1.3 M525.44,224.60v1.3 M529.75,157.40v-1.3 M529.75,224.60v1.3 M534.07,157.40v-1.3 M534.07,224.60v1.3 M538.38,157.40v-1.3 M538.38,224.60v1.3 M542.70,157.40v-1.3 M542.70,224.60v1.3 M547.01,157.40v-1.3 M547.01,224.60v1.3 M551.33,157.40v-1.3 M551.33,224.60v1.3 M555.64,157.40v-1.3 M555.64,224.60v1.3 M559.96,157.40v-1.3 M559.96,224.60v1.3 M564.27,157.40v-1.3 M564.27,224.60v1.3 M568.59,157.40v-1.3 M568.59,224.60v1.3 M572.90,157.40v-1.3 M572.90,224.60v1.3 M577.22,157.40v-1.3 M577.22,224.60v1.3 M581.53,157.40v-1.3 M581.53,224.60v1.3 M585.85,157.40v-1.3 M585.85,224.60v1.3 M590.16,157.40v-1.3 M590.16,224.60v1.3 M594.48,157.40v-1.3 M594.48,224.60v1.3 M598.79,157.40v-1.3 M598.79,224.60v1.3 M603.11,157.40v-1.3 M603.11,224.60v1.3 M607.42,157.40v-1.3 M607.42,224.60v1.3 M611.73,157.40v-1.3 M611.73,224.60v1.3 M616.05,157.40v-1.3 M616.05,224.60v1.3 M620.36,157.40v-1.3 M620.36,224.60v1.3 M477.98,157.40v-2.2 M477.98,224.60v2.2 M499.55,157.40v-2.2 M499.55,224.60v2.2 M521.13,157.40v-2.2 M521.13,224.60v2.2 M542.70,157.40v-2.2 M542.70,224.60v2.2 M564.27,157.40v-2.2 M564.27,224.60v2.2 M585.85,157.40v-2.2 M585.85,224.60v2.2 M607.42,157.40v-2.2 M607.42,224.60v2.2" stroke="#000" stroke-width="0.75" fill="none"/>
<rect x="460.00" y="157.40" width="163.60" height="67.20" fill="none" stroke="#000" stroke-width="1.25"/>
<path d="M460.00,294.85h1.3 M623.60,294.85h-1.3 M460.00,291.49h1.3 M623.60,291.49h-1.3 M460.00,288.13h1.3 M623.60,288.13h-1.3 M460.00,284.77h1.3 M623.60,284.77h-1.3 M460.00,281.41h1.3 M623.60,281.41h-1.3 M460.00,278.05h1.3 M623.60,278.05h-1.3 M460.00,274.69h1.3 M623.60,274.69h-1.3 M460.00,271.33h1.3 M623.60,271.33h-1.3 M460.00,267.97h1.3 M623.60,267.97h-1.3 M460.00,264.61h1.3 M623.60,264.61h-1.3 M460.00,261.25h1.3 M623.60,261.25h-1.3 M460.00,257.89h1.3 M623.60,257.89h-1.3 M460.00,254.53h1.3 M623.60,254.53h-1.3 M460.00,251.17h1.3 M623.60,251.17h-1.3 M460.00,247.81h1.3 M623.60,247.81h-1.3 M460.00,244.45h1.3 M623.60,244.45h-1.3 M460.00,241.09h1.3 M623.60,241.09h-1.3 M460.00,237.73h1.3 M623.60,237.73h-1.3 M460.00,234.37h1.3 M623.60,234.37h-1.3 M460.00,231.01h1.3 M623.60,231.01h-1.3 M460.00,227.65h1.3 M623.60,227.65h-1.3 M460.00,294.85h2.4 M623.60,294.85h-2.4 M460.00,278.05h2.4 M623.60,278.05h-2.4 M460.00,261.25h2.4 M623.60,261.25h-2.4 M460.00,244.45h2.4 M623.60,244.45h-2.4 M460.00,227.65h2.4 M623.60,227.65h-2.4 M460.72,227.65v-1.3 M460.72,294.85v1.3 M465.03,227.65v-1.3 M465.03,294.85v1.3 M469.35,227.65v-1.3 M469.35,294.85v1.3 M473.66,227.65v-1.3 M473.66,294.85v1.3 M477.98,227.65v-1.3 M477.98,294.85v1.3 M482.29,227.65v-1.3 M482.29,294.85v1.3 M486.61,227.65v-1.3 M486.61,294.85v1.3 M490.92,227.65v-1.3 M490.92,294.85v1.3 M495.24,227.65v-1.3 M495.24,294.85v1.3 M499.55,227.65v-1.3 M499.55,294.85v1.3 M503.87,227.65v-1.3 M503.87,294.85v1.3 M508.18,227.65v-1.3 M508.18,294.85v1.3 M512.50,227.65v-1.3 M512.50,294.85v1.3 M516.81,227.65v-1.3 M516.81,294.85v1.3 M521.13,227.65v-1.3 M521.13,294.85v1.3 M525.44,227.65v-1.3 M525.44,294.85v1.3 M529.75,227.65v-1.3 M529.75,294.85v1.3 M534.07,227.65v-1.3 M534.07,294.85v1.3 M538.38,227.65v-1.3 M538.38,294.85v1.3 M542.70,227.65v-1.3 M542.70,294.85v1.3 M547.01,227.65v-1.3 M547.01,294.85v1.3 M551.33,227.65v-1.3 M551.33,294.85v1.3 M555.64,227.65v-1.3 M555.64,294.85v1.3 M559.96,227.65v-1.3 M559.96,294.85v1.3 M564.27,227.65v-1.3 M564.27,294.85v1.3 M568.59,227.65v-1.3 M568.59,294.85v1.3 M572.90,227.65v-1.3 M572.90,294.85v1.3 M577.22,227.65v-1.3 M577.22,294.85v1.3 M581.53,227.65v-1.3 M581.53,294.85v1.3 M585.85,227.65v-1.3 M585.85,294.85v1.3 M590.16,227.65v-1.3 M590.16,294.85v1.3 M594.48,227.65v-1.3 M594.48,294.85v1.3 M598.79,227.65v-1.3 M598.79,294.85v1.3 M603.11,227.65v-1.3 M603.11,294.85v1.3 M607.42,227.65v-1.3 M607.42,294.85v1.3 M611.73,227.65v-1.3 M611.73,294.85v1.3 M616.05,227.65v-1.3 M616.05,294.85v1.3 M620.36,227.65v-1.3 M620.36,294.85v1.3 M477.98,227.65v-2.2 M477.98,294.85v2.2 M499.55,227.65v-2.2 M499.55,294.85v2.2 M521.13,227.65v-2.2 M521.13,294.85v2.2 M542.70,227.65v-2.2 M542.70,294.85v2.2 M564.27,227.65v-2.2 M564.27,294.85v2.2 M585.85,227.65v-2.2 M585.85,294.85v2.2 M607.42,227.65v-2.2 M607.42,294.85v2.2" stroke="#000" stroke-width="0.75" fill="none"/>
<rect x="460.00" y="227.65" width="163.60" height="67.20" fill="none" stroke="#000" stroke-width="1.25"/>
<g style="font-family:'Liberation Serif',serif" font-size="13.4" fill="#222">
<text x="114.25" y="9.4" text-anchor="middle" textLength="39" lengthAdjust="spacingAndGlyphs">Event 1</text>
<text x="324.75" y="9.4" text-anchor="middle" textLength="39" lengthAdjust="spacingAndGlyphs">Event 2</text>
<text x="546.25" y="9.4" text-anchor="middle" textLength="39" lengthAdjust="spacingAndGlyphs">Event 3</text>
</g>
<g style="font-family:'Liberation Sans',sans-serif" font-size="8.2" fill="#111" stroke="#111" stroke-width="0.18" text-anchor="end">
<text x="36.30" y="83.70">-150</text>
<text x="36.30" y="73.46">-100</text>
<text x="36.30" y="60.02">-50</text>
<text x="36.30" y="46.58">0</text>
<text x="36.30" y="33.14">50</text>
<text x="36.30" y="22.60">100</text>
<text x="36.30" y="153.95">-200</text>
<text x="36.30" y="140.35">0</text>
<text x="36.30" y="123.55">200</text>
<text x="36.30" y="106.75">400</text>
<text x="36.30" y="92.85">600</text>
<text x="36.30" y="224.20">0</text>
<text x="36.30" y="210.60">200</text>
<text x="36.30" y="193.80">400</text>
<text x="36.30" y="177.00">600</text>
<text x="36.30" y="163.10">800</text>
<text x="36.30" y="294.45">10</text>
<text x="36.30" y="280.85">20</text>
<text x="36.30" y="264.05">30</text>
<text x="36.30" y="247.25">40</text>
<text x="36.30" y="233.35">50</text>
<text x="244.30" y="83.70">-150</text>
<text x="244.30" y="73.46">-100</text>
<text x="244.30" y="60.02">-50</text>
<text x="244.30" y="46.58">0</text>
<text x="244.30" y="33.14">50</text>
<text x="244.30" y="22.60">100</text>
<text x="244.30" y="153.95">-200</text>
<text x="244.30" y="140.35">0</text>
<text x="244.30" y="123.55">200</text>
<text x="244.30" y="106.75">400</text>
<text x="244.30" y="92.85">600</text>
<text x="244.30" y="224.20">0</text>
<text x="244.30" y="210.60">200</text>
<text x="244.30" y="193.80">400</text>
<text x="244.30" y="177.00">600</text>
<text x="244.30" y="163.10">800</text>
<text x="244.30" y="294.45">10</text>
<text x="244.30" y="280.85">20</text>
<text x="244.30" y="264.05">30</text>
<text x="244.30" y="247.25">40</text>
<text x="244.30" y="233.35">50</text>
<text x="456.80" y="83.70">-150</text>
<text x="456.80" y="73.46">-100</text>
<text x="456.80" y="60.02">-50</text>
<text x="456.80" y="46.58">0</text>
<text x="456.80" y="33.14">50</text>
<text x="456.80" y="22.60">100</text>
<text x="456.80" y="153.95">-200</text>
<text x="456.80" y="140.35">0</text>
<text x="456.80" y="123.55">200</text>
<text x="456.80" y="106.75">400</text>
<text x="456.80" y="92.85">600</text>
<text x="456.80" y="224.20">0</text>
<text x="456.80" y="210.60">200</text>
<text x="456.80" y="193.80">400</text>
<text x="456.80" y="177.00">600</text>
<text x="456.80" y="163.10">800</text>
<text x="456.80" y="294.45">10</text>
<text x="456.80" y="280.85">20</text>
<text x="456.80" y="264.05">30</text>
<text x="456.80" y="247.25">40</text>
<text x="456.80" y="233.35">50</text>
</g>
<g style="font-family:'Liberation Sans',sans-serif" font-size="8.8" fill="#222">
<text x="42.50" y="27.10" textLength="9.2" lengthAdjust="spacingAndGlyphs">(a)</text>
<text x="42.50" y="110.50" textLength="9.2" lengthAdjust="spacingAndGlyphs">(b)</text>
<text x="42.50" y="167.60" textLength="9.2" lengthAdjust="spacingAndGlyphs">(c)</text>
<text x="42.50" y="237.85" textLength="9.2" lengthAdjust="spacingAndGlyphs">(d)</text>
<text x="250.50" y="27.10" textLength="9.2" lengthAdjust="spacingAndGlyphs">(e)</text>
<text x="250.50" y="97.35" textLength="9.2" lengthAdjust="spacingAndGlyphs">(f)</text>
<text x="250.50" y="167.60" textLength="9.2" lengthAdjust="spacingAndGlyphs">(g)</text>
<text x="250.50" y="237.85" textLength="9.2" lengthAdjust="spacingAndGlyphs">(h)</text>
<text x="463.00" y="27.10" textLength="6.6" lengthAdjust="spacingAndGlyphs">(i)</text>
<text x="463.00" y="97.35" textLength="6.6" lengthAdjust="spacingAndGlyphs">(j)</text>
<text x="463.00" y="167.60" textLength="9.2" lengthAdjust="spacingAndGlyphs">(k)</text>
<text x="463.00" y="237.85" textLength="6.6" lengthAdjust="spacingAndGlyphs">(l)</text>
</g>
<g style="font-family:'Liberation Sans',sans-serif" font-size="8" fill="#111" stroke="#111" stroke-width="0.18" text-anchor="middle">
<text x="64.12" y="307.2">9.4</text>
<text x="96.93" y="307.2">9.6</text>
<text x="129.76" y="307.2">9.8</text>
<text x="162.57" y="307.2">10.0</text>
<text x="195.39" y="307.2">10.2</text>
<text x="265.67" y="307.2">60</text>
<text x="302.00" y="307.2">70</text>
<text x="338.33" y="307.2">80</text>
<text x="374.67" y="307.2">90</text>
<text x="411.00" y="307.2">100</text>
<text x="477.98" y="307.2">1.0</text>
<text x="499.55" y="307.2">1.2</text>
<text x="521.13" y="307.2">1.4</text>
<text x="542.70" y="307.2">1.6</text>
<text x="564.27" y="307.2">1.8</text>
<text x="585.85" y="307.2">2.0</text>
<text x="607.42" y="307.2">2.2</text>
</g>
<g style="font-family:'Liberation Sans',sans-serif" font-size="7.9" fill="#111" stroke="#111" stroke-width="0.15">
<text x="54.7" y="317" textLength="120.1" lengthAdjust="spacingAndGlyphs">Time (UT)&#160;&#160;Hours after 2018-11-07</text>
<text x="253.0" y="317" textLength="140.1" lengthAdjust="spacingAndGlyphs">Time (UT)&#160;&#160;Minutes after 2019-04-06/17</text>
<text x="475.6" y="317" textLength="119.6" lengthAdjust="spacingAndGlyphs">Time (UT)&#160;&#160;Hours after 2018-11-05</text>
</g>
<text transform="translate(5.70,51.30) rotate(-90)" text-anchor="middle" style="font-family:'Liberation Sans',sans-serif" font-size="8.6" fill="#111" stroke="#111" stroke-width="0.15">B</text>
<text transform="translate(12.50,51.00) rotate(-90)" text-anchor="middle" style="font-family:'Liberation Sans',sans-serif" font-size="8.0" fill="#111" stroke="#111" stroke-width="0.15">[nT]</text>
<text transform="translate(5.90,121.00) rotate(-90)" text-anchor="middle" style="font-family:'Liberation Sans',sans-serif" font-size="8.6" fill="#111" stroke="#111" stroke-width="0.15">V</text>
<text transform="translate(12.30,121.00) rotate(-90)" text-anchor="middle" style="font-family:'Liberation Sans',sans-serif" font-size="8.0" fill="#111" stroke="#111" stroke-width="0.15">[km/s]</text>
<text transform="translate(8.60,190.60) rotate(-90)" text-anchor="middle" style="font-family:'Liberation Sans',sans-serif" font-size="8.4" fill="#111" stroke="#111" stroke-width="0.15">N</text>
<text transform="translate(15.70,191.50) rotate(-90)" text-anchor="middle" style="font-family:'Liberation Sans',sans-serif" font-size="8.0" fill="#111" stroke="#111" stroke-width="0.15">[cm<tspan dy="-2.5" font-size="5">-3</tspan><tspan dy="2.5">]</tspan></text>
<text transform="translate(13.30,261.60) rotate(-90)" text-anchor="middle" style="font-family:'Liberation Sans',sans-serif" font-size="8.0" fill="#111" stroke="#111" stroke-width="0.15">T<tspan dy="1.1" font-size="4.8" dx="0.3">c</tspan></text>
<text transform="translate(21.20,262.10) rotate(-90)" text-anchor="middle" style="font-family:'Liberation Sans',sans-serif" font-size="8.0" fill="#111" stroke="#111" stroke-width="0.15">[eV]</text>
<text x="626.8" y="28.0" style="font-family:'Liberation Sans',sans-serif" font-size="8.2" fill="#111" stroke="#111" stroke-width="0.2">B<tspan font-size="4.8" dy="2.0" dx="1.8" stroke-width="0.1">R</tspan></text>
<text x="626.8" y="50.5" style="font-family:'Liberation Sans',sans-serif" font-size="8.2" fill="#1436e2" stroke="#1436e2" stroke-width="0.2">B<tspan font-size="4.8" dy="2.0" dx="1.8" stroke-width="0.1">T</tspan></text>
<text x="626.8" y="72.3" style="font-family:'Liberation Sans',sans-serif" font-size="8.2" fill="#e81a1a" stroke="#e81a1a" stroke-width="0.2">B<tspan font-size="4.8" dy="2.0" dx="1.8" stroke-width="0.1">N</tspan></text>
<text x="625.8" y="98.4" style="font-family:'Liberation Sans',sans-serif" font-size="8.2" fill="#111" stroke="#111" stroke-width="0.2">V<tspan font-size="4.8" dy="2.0" dx="1.8" stroke-width="0.1">R</tspan></text>
<text x="625.8" y="114.9" style="font-family:'Liberation Sans',sans-serif" font-size="8.2" fill="#1436e2" stroke="#1436e2" stroke-width="0.2">V<tspan font-size="4.8" dy="2.0" dx="1.8" stroke-width="0.1">T</tspan></text>
<text x="625.8" y="142.6" style="font-family:'Liberation Sans',sans-serif" font-size="8.2" fill="#e81a1a" stroke="#e81a1a" stroke-width="0.2">V<tspan font-size="4.8" dy="2.0" dx="1.8" stroke-width="0.1">N</tspan></text>
</svg>
</body></html>
